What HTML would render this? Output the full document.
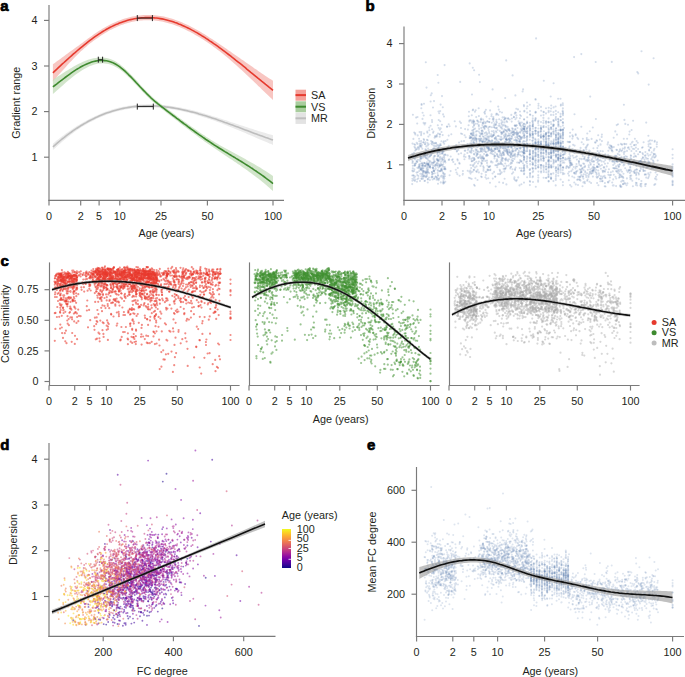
<!DOCTYPE html>
<html><head><meta charset="utf-8"><style>html,body{margin:0;padding:0;background:#fff;width:685px;height:677px;overflow:hidden}svg{display:block}</style></head><body>
<svg width="685" height="677" viewBox="0 0 685 677" font-family='"Liberation Sans", sans-serif'>
<rect width="685" height="677" fill="#fff"/>
<path d="M52.9 143.7L54.7 142.2L56.6 140.6L58.4 139.2L60.3 137.7L62.1 136.3L64 134.9L65.8 133.6L67.7 132.2L69.5 130.9L71.4 129.7L73.2 128.5L75.1 127.3L76.9 126.1L78.8 125L80.6 123.9L82.5 122.8L84.3 121.7L86.2 120.7L88 119.7L89.9 118.7L91.7 117.8L93.6 116.9L95.4 116L97.3 115.2L99.1 114.4L101 113.6L102.8 112.8L104.7 112.1L106.5 111.5L108.4 110.8L110.2 110.2L112.1 109.6L113.9 109.1L115.8 108.6L117.6 108.1L119.5 107.6L121.3 107.2L123.2 106.8L125 106.5L126.9 106.1L128.7 105.8L130.6 105.6L132.4 105.3L134.3 105.1L136.1 104.9L138 104.8L139.8 104.6L141.7 104.5L143.5 104.4L145.4 104.4L147.2 104.3L149.1 104.3L150.9 104.3L152.8 104.4L154.6 104.4L156.5 104.5L158.3 104.6L160.2 104.8L162 104.9L163.9 105.1L165.7 105.3L167.6 105.5L169.4 105.8L171.3 106L173.1 106.3L175 106.6L176.8 106.9L178.7 107.3L180.5 107.6L182.4 108L184.2 108.4L186.1 108.8L187.9 109.2L189.8 109.6L191.6 110.1L193.5 110.5L195.3 111L197.2 111.5L199 112L200.9 112.5L202.7 113.1L204.6 113.6L206.4 114.2L208.3 114.7L210.1 115.3L212 115.9L213.8 116.5L215.7 117L217.5 117.6L219.4 118.2L221.2 118.8L223.1 119.4L224.9 120L226.8 120.6L228.6 121.2L230.5 121.9L232.3 122.5L234.2 123.1L236 123.7L237.9 124.3L239.7 124.9L241.6 125.5L243.4 126.1L245.3 126.7L247.1 127.3L249 127.9L250.8 128.5L252.7 129.1L254.5 129.7L256.4 130.3L258.2 130.9L260.1 131.4L261.9 132L263.8 132.6L265.6 133.1L267.5 133.7L269.3 134.2L271.2 134.8L273 135.3L273 144.9L271.2 144.1L269.3 143.4L267.5 142.6L265.6 141.8L263.8 141L261.9 140.2L260.1 139.5L258.2 138.7L256.4 137.9L254.5 137.1L252.7 136.3L250.8 135.5L249 134.7L247.1 133.9L245.3 133.1L243.4 132.3L241.6 131.5L239.7 130.8L237.9 130L236 129.2L234.2 128.4L232.3 127.7L230.5 126.9L228.6 126.2L226.8 125.5L224.9 124.7L223.1 124L221.2 123.3L219.4 122.6L217.5 121.9L215.7 121.2L213.8 120.6L212 119.9L210.1 119.3L208.3 118.7L206.4 118.1L204.6 117.5L202.7 116.9L200.9 116.3L199 115.7L197.2 115.2L195.3 114.6L193.5 114.1L191.6 113.6L189.8 113.1L187.9 112.6L186.1 112.2L184.2 111.7L182.4 111.3L180.5 110.9L178.7 110.5L176.8 110.2L175 109.8L173.1 109.5L171.3 109.2L169.4 108.9L167.6 108.6L165.7 108.4L163.9 108.2L162 108L160.2 107.8L158.3 107.7L156.5 107.6L154.6 107.5L152.8 107.4L150.9 107.3L149.1 107.3L147.2 107.3L145.4 107.4L143.5 107.4L141.7 107.5L139.8 107.6L138 107.8L136.1 107.9L134.3 108.1L132.4 108.4L130.6 108.6L128.7 108.9L126.9 109.2L125 109.6L123.2 110L121.3 110.4L119.5 110.8L117.6 111.3L115.8 111.8L113.9 112.3L112.1 112.9L110.2 113.5L108.4 114.1L106.5 114.8L104.7 115.5L102.8 116.2L101 117L99.1 117.8L97.3 118.6L95.4 119.5L93.6 120.4L91.7 121.4L89.9 122.3L88 123.3L86.2 124.4L84.3 125.5L82.5 126.6L80.6 127.8L78.8 129L76.9 130.3L75.1 131.6L73.2 132.9L71.4 134.3L69.5 135.7L67.7 137.2L65.8 138.7L64 140.2L62.1 141.8L60.3 143.4L58.4 145L56.6 146.7L54.7 148.4L52.9 150.1Z" fill="#e4e4e4" fill-opacity="0.75"/>
<path d="M52.9 64.3L54.7 63L56.6 61.6L58.4 60.2L60.3 58.9L62.1 57.5L64 56.2L65.8 54.8L67.7 53.5L69.5 52.1L71.4 50.8L73.2 49.4L75.1 48.1L76.9 46.7L78.8 45.4L80.6 44L82.5 42.7L84.3 41.3L86.2 40L88 38.6L89.9 37.2L91.7 35.9L93.6 34.6L95.4 33.3L97.3 32L99.1 30.8L101 29.7L102.8 28.5L104.7 27.5L106.5 26.4L108.4 25.4L110.2 24.5L112.1 23.6L113.9 22.7L115.8 21.9L117.6 21.1L119.5 20.4L121.3 19.7L123.2 19.1L125 18.5L126.9 17.9L128.7 17.4L130.6 17L132.4 16.6L134.3 16.2L136.1 15.9L138 15.6L139.8 15.4L141.7 15.2L143.5 15.1L145.4 15L147.2 15L149.1 15L150.9 15L152.8 15.1L154.6 15.2L156.5 15.4L158.3 15.7L160.2 15.9L162 16.3L163.9 16.6L165.7 17L167.6 17.5L169.4 18L171.3 18.5L173.1 19.1L175 19.7L176.8 20.4L178.7 21.1L180.5 21.8L182.4 22.6L184.2 23.4L186.1 24.2L187.9 25.1L189.8 26L191.6 27L193.5 27.9L195.3 28.9L197.2 29.9L199 31L200.9 32.1L202.7 33.2L204.6 34.3L206.4 35.5L208.3 36.7L210.1 37.9L212 39.1L213.8 40.3L215.7 41.5L217.5 42.8L219.4 44L221.2 45.3L223.1 46.5L224.9 47.8L226.8 49.1L228.6 50.4L230.5 51.6L232.3 52.9L234.2 54.2L236 55.5L237.9 56.8L239.7 58.1L241.6 59.4L243.4 60.6L245.3 61.9L247.1 63.2L249 64.5L250.8 65.8L252.7 67.1L254.5 68.4L256.4 69.6L258.2 70.9L260.1 72.2L261.9 73.4L263.8 74.7L265.6 75.9L267.5 77.2L269.3 78.4L271.2 79.6L273 80.8L273 100L271.2 98.3L269.3 96.5L267.5 94.7L265.6 93L263.8 91.2L261.9 89.4L260.1 87.6L258.2 85.9L256.4 84.1L254.5 82.3L252.7 80.5L250.8 78.8L249 77L247.1 75.3L245.3 73.6L243.4 71.8L241.6 70.1L239.7 68.4L237.9 66.7L236 65.1L234.2 63.4L232.3 61.8L230.5 60.2L228.6 58.6L226.8 57.1L224.9 55.5L223.1 54L221.2 52.5L219.4 51.1L217.5 49.7L215.7 48.3L213.8 46.9L212 45.6L210.1 44.3L208.3 43L206.4 41.8L204.6 40.5L202.7 39.3L200.9 38.2L199 37L197.2 35.9L195.3 34.9L193.5 33.8L191.6 32.8L189.8 31.8L187.9 30.9L186.1 29.9L184.2 29.1L182.4 28.2L180.5 27.4L178.7 26.6L176.8 25.9L175 25.2L173.1 24.6L171.3 23.9L169.4 23.4L167.6 22.9L165.7 22.4L163.9 21.9L162 21.6L160.2 21.2L158.3 20.9L156.5 20.7L154.6 20.5L152.8 20.3L150.9 20.2L149.1 20.2L147.2 20.2L145.4 20.2L143.5 20.3L141.7 20.4L139.8 20.6L138 20.8L136.1 21.1L134.3 21.5L132.4 21.8L130.6 22.3L128.7 22.7L126.9 23.3L125 23.8L123.2 24.5L121.3 25.1L119.5 25.8L117.6 26.6L115.8 27.4L113.9 28.3L112.1 29.2L110.2 30.1L108.4 31.1L106.5 32.2L104.7 33.3L102.8 34.4L101 35.6L99.1 36.9L97.3 38.2L95.4 39.5L93.6 40.8L91.7 42.2L89.9 43.6L88 45.1L86.2 46.7L84.3 48.3L82.5 49.9L80.6 51.6L78.8 53.4L76.9 55.2L75.1 57.1L73.2 59L71.4 60.9L69.5 62.8L67.7 64.8L65.8 66.9L64 68.9L62.1 70.9L60.3 73L58.4 75.1L56.6 77.2L54.7 79.3L52.9 81.4Z" fill="#f6b3ad" fill-opacity="0.75"/>
<path d="M52.9 79.7L54.7 78.5L56.6 77.3L58.4 76.1L60.3 74.9L62.1 73.7L64 72.5L65.8 71.3L67.7 70.2L69.5 69L71.4 67.9L73.2 66.8L75.1 65.8L76.9 64.8L78.8 63.8L80.6 62.9L82.5 62L84.3 61.2L86.2 60.5L88 59.8L89.9 59.2L91.7 58.7L93.6 58.3L95.4 57.9L97.3 57.7L99.1 57.5L101 57.4L102.8 57.5L104.7 57.7L106.5 58L108.4 58.4L110.2 59L112.1 59.7L113.9 60.6L115.8 61.6L117.6 62.8L119.5 64.1L121.3 65.5L123.2 67.1L125 68.7L126.9 70.5L128.7 72.3L130.6 74.2L132.4 76.1L134.3 78.1L136.1 80.1L138 82.1L139.8 84.2L141.7 86.2L143.5 88.1L145.4 90.1L147.2 92L149.1 93.8L150.9 95.6L152.8 97.2L154.6 98.9L156.5 100.4L158.3 101.9L160.2 103.4L162 104.8L163.9 106.2L165.7 107.6L167.6 109L169.4 110.4L171.3 111.8L173.1 113.2L175 114.6L176.8 116L178.7 117.4L180.5 118.7L182.4 120.1L184.2 121.4L186.1 122.8L187.9 124.1L189.8 125.4L191.6 126.8L193.5 128.1L195.3 129.3L197.2 130.6L199 131.9L200.9 133.2L202.7 134.4L204.6 135.6L206.4 136.9L208.3 138.1L210.1 139.2L212 140.4L213.8 141.6L215.7 142.7L217.5 143.8L219.4 144.9L221.2 145.9L223.1 147L224.9 148L226.8 149.1L228.6 150.1L230.5 151.1L232.3 152.1L234.2 153.1L236 154.1L237.9 155.1L239.7 156.1L241.6 157.1L243.4 158.1L245.3 159.1L247.1 160.2L249 161.2L250.8 162.2L252.7 163.3L254.5 164.3L256.4 165.4L258.2 166.5L260.1 167.6L261.9 168.8L263.8 169.9L265.6 171.1L267.5 172.3L269.3 173.6L271.2 174.8L273 176.1L273 191.1L271.2 189.5L269.3 187.8L267.5 186.2L265.6 184.6L263.8 183.1L261.9 181.6L260.1 180.1L258.2 178.6L256.4 177.2L254.5 175.8L252.7 174.4L250.8 173L249 171.7L247.1 170.3L245.3 169L243.4 167.7L241.6 166.4L239.7 165.1L237.9 163.9L236 162.6L234.2 161.4L232.3 160.1L230.5 158.9L228.6 157.7L226.8 156.4L224.9 155.2L223.1 154L221.2 152.7L219.4 151.5L217.5 150.3L215.7 149L213.8 147.8L212 146.5L210.1 145.2L208.3 144L206.4 142.7L204.6 141.4L202.7 140L200.9 138.7L199 137.4L197.2 136L195.3 134.6L193.5 133.3L191.6 131.9L189.8 130.5L187.9 129.1L186.1 127.7L184.2 126.3L182.4 124.9L180.5 123.5L178.7 122L176.8 120.6L175 119.2L173.1 117.8L171.3 116.3L169.4 114.9L167.6 113.5L165.7 112.1L163.9 110.6L162 109.2L160.2 107.8L158.3 106.3L156.5 104.8L154.6 103.3L152.8 101.7L150.9 100L149.1 98.3L147.2 96.5L145.4 94.6L143.5 92.7L141.7 90.7L139.8 88.8L138 86.8L136.1 84.8L134.3 82.9L132.4 80.9L130.6 79L128.7 77.2L126.9 75.4L125 73.7L123.2 72.1L121.3 70.6L119.5 69.3L117.6 68L115.8 66.9L113.9 66L112.1 65.2L110.2 64.5L108.4 64L106.5 63.7L104.7 63.4L102.8 63.3L101 63.4L99.1 63.5L97.3 63.8L95.4 64.2L93.6 64.7L91.7 65.4L89.9 66.1L88 66.9L86.2 67.9L84.3 68.9L82.5 70L80.6 71.2L78.8 72.4L76.9 73.7L75.1 75.1L73.2 76.5L71.4 78L69.5 79.5L67.7 81.1L65.8 82.6L64 84.2L62.1 85.9L60.3 87.5L58.4 89.2L56.6 90.8L54.7 92.5L52.9 94.1Z" fill="#c3dcb9" fill-opacity="0.75"/>
<path d="M52.9 146.9L54.7 145.3L56.6 143.7L58.4 142.1L60.3 140.5L62.1 139L64 137.6L65.8 136.1L67.7 134.7L69.5 133.3L71.4 132L73.2 130.7L75.1 129.4L76.9 128.2L78.8 127L80.6 125.8L82.5 124.7L84.3 123.6L86.2 122.6L88 121.5L89.9 120.5L91.7 119.6L93.6 118.7L95.4 117.8L97.3 116.9L99.1 116.1L101 115.3L102.8 114.5L104.7 113.8L106.5 113.1L108.4 112.5L110.2 111.9L112.1 111.3L113.9 110.7L115.8 110.2L117.6 109.7L119.5 109.2L121.3 108.8L123.2 108.4L125 108L126.9 107.7L128.7 107.4L130.6 107.1L132.4 106.8L134.3 106.6L136.1 106.4L138 106.3L139.8 106.1L141.7 106L143.5 105.9L145.4 105.9L147.2 105.8L149.1 105.8L150.9 105.8L152.8 105.9L154.6 106L156.5 106L158.3 106.2L160.2 106.3L162 106.5L163.9 106.6L165.7 106.9L167.6 107.1L169.4 107.3L171.3 107.6L173.1 107.9L175 108.2L176.8 108.5L178.7 108.9L180.5 109.3L182.4 109.7L184.2 110.1L186.1 110.5L187.9 110.9L189.8 111.4L191.6 111.9L193.5 112.3L195.3 112.8L197.2 113.3L199 113.9L200.9 114.4L202.7 115L204.6 115.5L206.4 116.1L208.3 116.7L210.1 117.3L212 117.9L213.8 118.5L215.7 119.1L217.5 119.8L219.4 120.4L221.2 121.1L223.1 121.7L224.9 122.4L226.8 123L228.6 123.7L230.5 124.4L232.3 125.1L234.2 125.8L236 126.4L237.9 127.1L239.7 127.8L241.6 128.5L243.4 129.2L245.3 129.9L247.1 130.6L249 131.3L250.8 132L252.7 132.7L254.5 133.4L256.4 134.1L258.2 134.8L260.1 135.4L261.9 136.1L263.8 136.8L265.6 137.5L267.5 138.1L269.3 138.8L271.2 139.4L273 140.1" stroke="#bdbdbd" stroke-width="1.6" fill="none" stroke-linejoin="round" />
<path d="M52.9 72.8L54.7 71.1L56.6 69.4L58.4 67.7L60.3 65.9L62.1 64.2L64 62.5L65.8 60.8L67.7 59.2L69.5 57.5L71.4 55.8L73.2 54.2L75.1 52.6L76.9 51L78.8 49.4L80.6 47.8L82.5 46.3L84.3 44.8L86.2 43.3L88 41.9L89.9 40.4L91.7 39.1L93.6 37.7L95.4 36.4L97.3 35.1L99.1 33.9L101 32.7L102.8 31.5L104.7 30.4L106.5 29.3L108.4 28.3L110.2 27.3L112.1 26.4L113.9 25.5L115.8 24.6L117.6 23.9L119.5 23.1L121.3 22.4L123.2 21.8L125 21.2L126.9 20.6L128.7 20.1L130.6 19.6L132.4 19.2L134.3 18.8L136.1 18.5L138 18.2L139.8 18L141.7 17.8L143.5 17.7L145.4 17.6L147.2 17.6L149.1 17.6L150.9 17.6L152.8 17.7L154.6 17.9L156.5 18L158.3 18.3L160.2 18.6L162 18.9L163.9 19.3L165.7 19.7L167.6 20.2L169.4 20.7L171.3 21.2L173.1 21.8L175 22.5L176.8 23.1L178.7 23.9L180.5 24.6L182.4 25.4L184.2 26.2L186.1 27.1L187.9 28L189.8 28.9L191.6 29.9L193.5 30.9L195.3 31.9L197.2 32.9L199 34L200.9 35.1L202.7 36.3L204.6 37.4L206.4 38.6L208.3 39.8L210.1 41.1L212 42.3L213.8 43.6L215.7 44.9L217.5 46.2L219.4 47.6L221.2 48.9L223.1 50.3L224.9 51.7L226.8 53.1L228.6 54.5L230.5 55.9L232.3 57.4L234.2 58.8L236 60.3L237.9 61.8L239.7 63.2L241.6 64.7L243.4 66.2L245.3 67.7L247.1 69.3L249 70.8L250.8 72.3L252.7 73.8L254.5 75.3L256.4 76.9L258.2 78.4L260.1 79.9L261.9 81.4L263.8 82.9L265.6 84.4L267.5 85.9L269.3 87.4L271.2 88.9L273 90.4" stroke="#e63a2e" stroke-width="1.6" fill="none" stroke-linejoin="round" />
<path d="M52.9 86.9L54.7 85.5L56.6 84.1L58.4 82.6L60.3 81.2L62.1 79.8L64 78.4L65.8 77L67.7 75.6L69.5 74.3L71.4 72.9L73.2 71.7L75.1 70.4L76.9 69.2L78.8 68.1L80.6 67L82.5 66L84.3 65.1L86.2 64.2L88 63.4L89.9 62.7L91.7 62L93.6 61.5L95.4 61.1L97.3 60.7L99.1 60.5L101 60.4L102.8 60.4L104.7 60.6L106.5 60.8L108.4 61.2L110.2 61.8L112.1 62.4L113.9 63.3L115.8 64.3L117.6 65.4L119.5 66.7L121.3 68.1L123.2 69.6L125 71.2L126.9 73L128.7 74.8L130.6 76.6L132.4 78.5L134.3 80.5L136.1 82.5L138 84.5L139.8 86.5L141.7 88.5L143.5 90.4L145.4 92.3L147.2 94.2L149.1 96L150.9 97.8L152.8 99.5L154.6 101.1L156.5 102.6L158.3 104.1L160.2 105.6L162 107L163.9 108.4L165.7 109.8L167.6 111.3L169.4 112.7L171.3 114.1L173.1 115.5L175 116.9L176.8 118.3L178.7 119.7L180.5 121.1L182.4 122.5L184.2 123.9L186.1 125.2L187.9 126.6L189.8 128L191.6 129.3L193.5 130.7L195.3 132L197.2 133.3L199 134.6L200.9 135.9L202.7 137.2L204.6 138.5L206.4 139.8L208.3 141L210.1 142.2L212 143.5L213.8 144.7L215.7 145.9L217.5 147L219.4 148.2L221.2 149.3L223.1 150.5L224.9 151.6L226.8 152.7L228.6 153.9L230.5 155L232.3 156.1L234.2 157.2L236 158.4L237.9 159.5L239.7 160.6L241.6 161.8L243.4 162.9L245.3 164.1L247.1 165.2L249 166.4L250.8 167.6L252.7 168.8L254.5 170.1L256.4 171.3L258.2 172.6L260.1 173.9L261.9 175.2L263.8 176.5L265.6 177.9L267.5 179.3L269.3 180.7L271.2 182.2L273 183.6" stroke="#3e8a2f" stroke-width="1.6" fill="none" stroke-linejoin="round" />
<path d="M137.3 18.1H152.4M137.3 15.1v6M152.4 15.1v6" stroke="#222" stroke-width="1" fill="none"/>
<path d="M98.3 59.7H102.6M98.3 56.7v6M102.6 56.7v6" stroke="#222" stroke-width="1" fill="none"/>
<path d="M137.3 106.6H153.3M137.3 103.6v6M153.3 103.6v6" stroke="#222" stroke-width="1" fill="none"/>
<path d="M49 5L49 201" stroke="#7a7a7a" stroke-width="1.15" fill="none"/>
<path d="M48.4 200.4L284 200.4" stroke="#7a7a7a" stroke-width="1.15" fill="none"/>
<path d="M44 157.2L49 157.2" stroke="#7a7a7a" stroke-width="1.15" fill="none"/>
<text x="37.5" y="160.9" text-anchor="end" font-size="10.8" font-weight="normal" fill="#231f20">1</text>
<path d="M44 111.6L49 111.6" stroke="#7a7a7a" stroke-width="1.15" fill="none"/>
<text x="37.5" y="115.3" text-anchor="end" font-size="10.8" font-weight="normal" fill="#231f20">2</text>
<path d="M44 66L49 66" stroke="#7a7a7a" stroke-width="1.15" fill="none"/>
<text x="37.5" y="69.7" text-anchor="end" font-size="10.8" font-weight="normal" fill="#231f20">3</text>
<path d="M44 20.4L49 20.4" stroke="#7a7a7a" stroke-width="1.15" fill="none"/>
<text x="37.5" y="24.1" text-anchor="end" font-size="10.8" font-weight="normal" fill="#231f20">4</text>
<path d="M49 200.4L49 205.4" stroke="#7a7a7a" stroke-width="1.15" fill="none"/>
<text x="49" y="219.6" text-anchor="middle" font-size="10.8" font-weight="normal" fill="#231f20">0</text>
<path d="M80.7 200.4L80.7 205.4" stroke="#7a7a7a" stroke-width="1.15" fill="none"/>
<text x="80.7" y="219.6" text-anchor="middle" font-size="10.8" font-weight="normal" fill="#231f20">2</text>
<path d="M99.1 200.4L99.1 205.4" stroke="#7a7a7a" stroke-width="1.15" fill="none"/>
<text x="99.1" y="219.6" text-anchor="middle" font-size="10.8" font-weight="normal" fill="#231f20">5</text>
<path d="M119.8 200.4L119.8 205.4" stroke="#7a7a7a" stroke-width="1.15" fill="none"/>
<text x="119.8" y="219.6" text-anchor="middle" font-size="10.8" font-weight="normal" fill="#231f20">10</text>
<path d="M161 200.4L161 205.4" stroke="#7a7a7a" stroke-width="1.15" fill="none"/>
<text x="161" y="219.6" text-anchor="middle" font-size="10.8" font-weight="normal" fill="#231f20">25</text>
<path d="M207.4 200.4L207.4 205.4" stroke="#7a7a7a" stroke-width="1.15" fill="none"/>
<text x="207.4" y="219.6" text-anchor="middle" font-size="10.8" font-weight="normal" fill="#231f20">50</text>
<path d="M273 200.4L273 205.4" stroke="#7a7a7a" stroke-width="1.15" fill="none"/>
<text x="273" y="219.6" text-anchor="middle" font-size="10.8" font-weight="normal" fill="#231f20">100</text>
<text x="19.9" y="102.8" text-anchor="middle" font-size="10.8" font-weight="normal" fill="#231f20" transform="rotate(-90 19.9 102.8)">Gradient range</text>
<text x="166.5" y="237.2" text-anchor="middle" font-size="10.8" font-weight="normal" fill="#231f20">Age (years)</text>
<rect x="295.5" y="89.7" width="10.5" height="11" fill="#f4a19a"/>
<path d="M295.5 95.1L306 95.1" stroke="#e63a2e" stroke-width="2" fill="none"/>
<text x="311" y="98.9" text-anchor="start" font-size="10.8" font-weight="normal" fill="#231f20">SA</text>
<rect x="295.5" y="101.3" width="10.5" height="11" fill="#a9cd9e"/>
<path d="M295.5 106.7L306 106.7" stroke="#3e8a2f" stroke-width="2" fill="none"/>
<text x="311" y="110.5" text-anchor="start" font-size="10.8" font-weight="normal" fill="#231f20">VS</text>
<rect x="295.5" y="112.9" width="10.5" height="11" fill="#e3e3e3"/>
<path d="M295.5 118.3L306 118.3" stroke="#bfbfbf" stroke-width="2" fill="none"/>
<text x="311" y="122.1" text-anchor="start" font-size="10.8" font-weight="normal" fill="#231f20">MR</text>
<text x="0.2" y="10.9" text-anchor="start" font-size="15" font-weight="bold" fill="#000" stroke="#000" stroke-width="0.7">a</text>
<path d="M543.6 158.4h0M417.5 143.9h0M621.3 151.1h0M443.3 183.6h0M486.4 138.9h0M594 164.7h0M541.1 127.7h0M622.9 176.9h0M538.5 103.7h0M535.6 118.9h0M494.1 143.1h0M483.8 167.6h0M560.6 154.9h0M520.5 147.9h0M432.2 142.1h0M650.1 143.5h0M436.8 135h0M582.5 186.3h0M483 149.9h0M574.5 173.6h0M628.6 147.4h0M649.1 149.9h0M434.6 137.8h0M525.8 132h0M475.7 152.6h0M524.1 157.5h0M510.9 153.4h0M535.5 99h0M448.7 124.3h0M440.3 156.7h0M419.1 166.8h0M571.6 164.9h0M503.5 131.2h0M551.2 124.1h0M582.2 168.7h0M560.6 155.7h0M630.6 158.1h0M538.4 139.4h0M540.9 137.8h0M495.1 148.8h0M488.2 128.1h0M553.4 114.9h0M524 182.6h0M586.4 146.9h0M551.1 108.5h0M464 141h0M442.5 177.2h0M471.4 140.9h0M501.9 133.5h0M577.1 166.5h0M444.2 183.1h0M427.4 154.2h0M414 152.7h0M437.5 160.3h0M493.6 150.9h0M511.2 166.7h0M432.1 176.9h0M540.9 136.4h0M428.4 160.3h0M638.1 154.2h0M560.7 129.5h0M484.1 126.9h0M523.9 160.4h0M585.2 171.3h0M560.5 149.2h0M470.5 165.1h0M483.5 169h0M560.9 120.2h0M426.5 163.8h0M579.6 179.8h0M435.6 165h0M467.9 129.6h0M478.9 146.1h0M535.4 130.6h0M622.3 160.1h0M584.5 158.4h0M424.2 176.4h0M521.5 161.1h0M593.3 169.8h0M486.9 134.7h0M551.1 148.9h0M482.3 130.6h0M440.8 182.4h0M504.8 168.5h0M509 139.6h0M427.9 152.6h0M650.5 172.5h0M530 144.1h0M611.1 145.9h0M481.9 149.5h0M413 171.5h0M535.7 142.7h0M532.8 168.8h0M540.9 141.7h0M558.2 158.7h0M471.1 151.2h0M654.3 184.9h0M543.5 115.1h0M473.9 164.5h0M440.6 170.7h0M532.5 133.7h0M556.2 172.5h0M500.5 154.4h0M551.1 134.3h0M540.9 167h0M461 123h0M436.7 159.2h0M558.3 157.4h0M488.6 130.1h0M568.4 158.8h0M640.3 185.6h0M471.4 148.8h0M508.2 118.4h0M551.2 135.8h0M532.6 177.3h0M574.6 145.6h0M532.8 125.1h0M541 165.1h0M437.8 145h0M478.7 131.5h0M438.7 120h0M523.7 151.1h0M556 144.2h0M506.2 139.6h0M575.5 168.4h0M635.6 161.9h0M519.6 141h0M437 177.4h0M638.9 161.5h0M629.3 134.5h0M473.4 131.8h0M439.8 150.1h0M590.2 169.3h0M493.5 135.3h0M487.9 169.9h0M515.6 126.2h0M575.1 150.2h0M616.8 171.8h0M629.6 131.6h0M470.4 152.3h0M550.9 122h0M493.9 150.9h0M415.2 150.5h0M425.4 149.2h0M553.3 173.4h0M533.2 138.6h0M434.3 178.5h0M523.9 167.9h0M489.3 133.5h0M650.5 144h0M567.1 166.2h0M482.2 148.2h0M421.2 133.7h0M508.5 130.1h0M465.5 157h0M413.9 179.9h0M422.8 165.4h0M415.2 179.6h0M424.5 181h0M438.7 179.1h0M555.9 167.9h0M517.1 140.7h0M474 153.9h0M588.1 160.7h0M538.4 164.8h0M439.9 165.2h0M512.6 158.5h0M538.2 175.2h0M494.5 145.9h0M478.7 108.3h0M473.8 142.9h0M440 153.9h0M497.4 165.3h0M482.9 136.3h0M532.7 164.1h0M555.8 146h0M433.1 168.1h0M558.3 121.6h0M596.3 159.9h0M648.5 141.4h0M624.1 156.9h0M633.7 164.6h0M523.8 123.9h0M551.1 150.4h0M525.1 151.3h0M412.7 171.3h0M429.9 156.1h0M420.9 158.9h0M648.6 144.3h0M509.5 138.4h0M563.1 134.8h0M505.2 98h0" stroke="#6585b5" stroke-opacity="0.28" stroke-width="2.1" stroke-linecap="round" fill="none"/>
<path d="M486.1 140.6h0M529.7 151.6h0M495.8 148.8h0M507.4 152h0M548.3 161.1h0M433 173.7h0M456.5 172.5h0M579.8 177.4h0M490.7 145.3h0M601.7 161.4h0M551.2 158.5h0M490.5 145.1h0M632.3 180.8h0M488.8 147.9h0M563.1 123.2h0M522.9 131.6h0M440.7 145.2h0M456.5 147.6h0M488.3 178.2h0M492.8 178.6h0M490.2 166h0M535.6 118.1h0M412.8 165.7h0M495.9 136.9h0M488.6 141.8h0M428.1 163.8h0M464.6 135.3h0M558.1 151.3h0M558.3 167.1h0M541 151.9h0M506.7 130.8h0M538.3 177.6h0M527.2 144h0M495.7 186.5h0M507.9 146.9h0M509.3 135.2h0M532.5 121.4h0M627 156.7h0M473.9 170.1h0M556.1 128.2h0M478.9 161.6h0M563 157.9h0M471.8 115.2h0M568.6 167.6h0M556 135.4h0M648 158.7h0M538.3 132.8h0M530.3 114.8h0M618 124.2h0M437.8 170h0M560.6 120.3h0M556.2 142.6h0M620.3 185.9h0M562.8 149.6h0M543.6 148.6h0M553.6 143.4h0M588.2 159.6h0M535.4 143.2h0M511.7 147.1h0M425.5 171.8h0M524.2 168.9h0M529.9 153.9h0M432 120.1h0M642.7 147.2h0M476.9 171.7h0M469.6 147.1h0M535.6 168.8h0M425.8 62.2h0M551.2 105.5h0M502.5 121.9h0M540.7 135.6h0M623.3 177.9h0M429.2 127.6h0M437.7 149.2h0M604.2 167.4h0M570.2 163.4h0M449.6 175.3h0M560.7 147.1h0M538.3 162.1h0M560.9 130.3h0M419.9 143.9h0M541 122h0M432.3 144.4h0M560.7 153.2h0M437.7 170.2h0M509.4 138.6h0M423.3 142.3h0M636.3 151h0M483.3 141.3h0M486.5 116.6h0M638.1 149h0M490.5 153.3h0M546.4 144.5h0M548.5 127.8h0M532.7 133.8h0M584.7 156.7h0M477.7 120.9h0M520 136.9h0M643 154.3h0M513.9 117.3h0M654 154.3h0M560.4 136.8h0M558.3 141h0M630 172.8h0M517 148.8h0M540.8 130.7h0M425.3 123h0M581.4 170.2h0M427.3 172.9h0M529.9 126.1h0M472.3 145.8h0M490.6 101.5h0M558.4 125.1h0M541.1 148.2h0M555.8 110.9h0M414.4 169.3h0M558.1 150.5h0M532.8 150.8h0M504.3 117.3h0M593 170.7h0M474.4 138.7h0M506.4 184.4h0M518.5 132.8h0M589.5 181.7h0M496.8 122.5h0M436.5 164.4h0M560.4 165.5h0M535.5 159h0M591.6 173.2h0M543.1 156h0M504.7 119.1h0M515.1 180.3h0M563 158.4h0M494.4 133.5h0M472.5 139.7h0M413.4 138.9h0M580.5 180.6h0M629.8 173h0M471.4 152.7h0M538.1 181.8h0M502.5 143.2h0M535.3 138.9h0M558.1 98.8h0M548.6 164.7h0M553.6 121.3h0M558.4 126.4h0M480.8 158h0M551 153.6h0M512.8 132.1h0M493.4 121.1h0M500.8 139.7h0M643.8 170.8h0M546 147.2h0M672.6 168.4h0M562.9 133.6h0M493.8 135h0M562.9 149h0M646.1 184h0M558.5 150.2h0M433.5 131.5h0M516.3 141.4h0M498.3 142.7h0M480.8 138.8h0M500 146.2h0M556 154.2h0M617.8 153.9h0M616.4 149.8h0M425.4 173.4h0M490.1 126.7h0M651.7 168.5h0M528 126.6h0M512 173.7h0M442.6 149h0M529.8 128.6h0M498.5 164.3h0M585.1 166.1h0M640.6 184h0M546.1 146.3h0M493.1 151.3h0M422.9 166.1h0M481.8 177.1h0M444.3 178.6h0M540.8 150.8h0M483.7 137.1h0M577.1 179.8h0M426.9 176.4h0M417.7 172.3h0M478 157.7h0M437.5 165.3h0M500.7 127.5h0M421.1 135.2h0M648.6 146.3h0M543.8 171.9h0M515.3 150.2h0M549 136.2h0M442 175.6h0M560.7 170h0M487.3 136.9h0M612.2 182.5h0M535.6 160.5h0M588 159.6h0M508.4 155h0M568.1 173.6h0M619.6 174.1h0M581.3 172.1h0M551 153.8h0M532.9 144.9h0M502.8 152.4h0M527.2 144.7h0" stroke="#6585b5" stroke-opacity="0.28" stroke-width="2.1" stroke-linecap="round" fill="none"/>
<path d="M490.7 143.9h0M605.5 156.7h0M595.6 142.5h0M540.9 165.1h0M553.5 143.9h0M548.4 132h0M442.4 159.5h0M576.8 156.2h0M532.9 143.3h0M475.3 123.7h0M508.8 128.9h0M524.1 128.4h0M517.1 137.2h0M420.4 168.9h0M532.9 124.5h0M553.6 144.9h0M426.4 164h0M595.2 158h0M502.5 146.9h0M548.5 145.2h0M489 166.9h0M538.2 131.5h0M433.2 152.6h0M479 138.8h0M419.6 132.1h0M546 157.3h0M588.5 177.1h0M560.6 116.3h0M476 145.1h0M579.4 165h0M444.4 159.5h0M435.8 142.9h0M502.4 147.5h0M592.1 159h0M548.6 159.9h0M597.8 159.4h0M548.7 129h0M506.9 142.9h0M441.4 141.2h0M596.4 173.1h0M563.1 167.2h0M558.4 150.5h0M546.2 166.5h0M553.6 152.7h0M474.8 185.7h0M420.5 163.7h0M421.9 174.4h0M560.6 158.7h0M479.6 140.6h0M430 152.9h0M415 156.8h0M486.2 155.3h0M487.9 146.3h0M427.9 167.4h0M437.8 125.3h0M639.9 171.1h0M553.7 124.8h0M535.6 111.7h0M558.2 133.2h0M562.9 162.7h0M548.6 131.9h0M587.8 169.7h0M445 160.9h0M423.5 142.5h0M434.1 171h0M529.8 181h0M535.6 143.6h0M527 136.5h0M462.9 173.9h0M430.8 95.3h0M494.1 127.3h0M471.7 150.2h0M499.3 150.2h0M606.7 166.4h0M558.1 148.5h0M641.4 183.8h0M565.6 147.7h0M491.7 136.9h0M470.3 137.4h0M529.8 154.6h0M560.7 172.4h0M538.4 149.2h0M513.2 172.4h0M493.8 125.4h0M656.4 166.4h0M642 147.7h0M491.1 162.3h0M649.8 164.9h0M512.7 155.7h0M490.4 169.6h0M437.2 160h0M524.2 153.4h0M492.4 141.5h0M440 159.2h0M477.1 120.6h0M455.1 149.3h0M442.8 153h0M484.6 149.7h0M551.2 141.2h0M558.3 157.9h0M462.7 174.6h0M439.7 129.7h0M417.2 123.5h0M520.3 125.5h0M423.7 115.5h0M516.7 125.3h0M551.4 167.1h0M624.6 144.3h0M506 118.4h0M535.5 165.3h0M524 167.6h0M515.2 129.4h0M464.4 159.2h0M427.6 155.7h0M575.8 166.6h0M439.6 165.6h0M578 185h0M439.7 157.9h0M593 157.8h0M600.1 178.8h0M522.7 152.2h0M505.7 159.6h0M478.2 146h0M645.1 174.2h0M637.8 142.8h0M619 166.6h0M556 155.9h0M484.1 154h0M417.4 167.7h0M558.1 151.4h0M529.8 137h0M419.4 164.3h0M527.2 122.9h0M548.7 157.2h0M619.8 158.1h0M640.9 161.3h0M443.6 182.6h0M524.2 166.8h0M551 148.1h0M491.8 131.3h0M504.3 171.4h0M624 154h0M592.5 171.1h0M424.7 175.7h0M620.9 169.9h0M672.6 164.4h0M540.9 158.8h0M459.6 175.8h0M505.6 146.2h0M434 101.1h0M509.6 146.5h0M634.9 172.7h0M538.2 142.6h0M488.8 148.5h0M553.6 133.1h0M425 163.3h0M626.9 178.4h0M638.5 173.1h0M655.6 168h0M560.5 135.8h0M455.9 126.4h0M672.6 183.1h0M532.5 148.1h0M553.8 150.8h0M529.8 139.8h0M516.8 131.2h0M459.3 162.9h0M429.1 162.7h0M503.6 155.1h0M523.2 171.2h0M560.5 129.3h0M512.1 128.2h0M562.7 152h0M513.7 154.6h0M538.5 159.9h0M476.8 139.1h0M415.8 163.3h0M512 163.1h0M575.7 135.3h0M517.5 154.8h0M498.3 114.9h0M543.6 177.8h0M492.5 162.4h0M503.6 168.9h0M506.2 138.5h0M545.9 121.9h0M412.9 161.7h0M553.6 155.3h0M600.9 168.7h0M546 137.5h0M553.5 131.3h0M419.2 171h0M562.8 103.3h0M492.6 89.4h0M595.7 62h0" stroke="#6585b5" stroke-opacity="0.28" stroke-width="2.1" stroke-linecap="round" fill="none"/>
<path d="M648.4 162.8h0M500.5 173.4h0M574.3 182.5h0M548.5 156.5h0M487.2 133.5h0M548.5 133.3h0M548.2 145h0M481.2 162.6h0M654.6 141.7h0M636.1 156.5h0M470.8 120.4h0M511.4 132.4h0M447.1 126.6h0M435.2 166.2h0M524.3 111.5h0M431.6 162.7h0M439 146.4h0M524.3 170.7h0M524.2 146.1h0M495.9 125h0M527.2 147.6h0M443.9 174.8h0M558.1 143.5h0M584 158.9h0M511.1 147.6h0M461.1 153.2h0M494.5 158.5h0M527 138.5h0M614.8 161.9h0M445.4 162.5h0M563 146.6h0M548.7 122.5h0M438.2 151h0M558.1 139h0M530.1 130.3h0M427.1 174.8h0M462.2 147h0M433.2 149.1h0M512.8 156.1h0M520.4 151.7h0M610.9 172.3h0M501.9 153.8h0M521.2 126.7h0M526.8 151.3h0M442.9 160.3h0M614.6 163.6h0M424 133.6h0M558.3 160.5h0M535.6 131h0M497.2 167.3h0M553.6 134.3h0M422.9 176.9h0M548.6 147.6h0M509.5 152.2h0M483.5 170.8h0M441.6 168.5h0M432.5 176.8h0M513 160.7h0M419.1 147.9h0M558.2 112.3h0M471.6 178.9h0M489.8 141.4h0M575.9 173.7h0M497.2 154.8h0M511 154.4h0M560.5 156h0M504.8 125.5h0M614.9 168.4h0M553.6 83.3h0M558.1 148h0M424.9 144h0M538.1 154.4h0M437.8 152.8h0M443.8 154.7h0M457 151.1h0M560.7 137.6h0M452.1 160.1h0M551.2 133.4h0M491.5 147.8h0M484.4 128h0M524.3 129.2h0M420.3 173.7h0M483 141.6h0M585.3 172.5h0M437.2 165.7h0M648.1 178.3h0M574.3 177.5h0M472 121.2h0M532.7 158.4h0M609.5 180.7h0M428.7 144.3h0M520.3 139.5h0M515.8 139.4h0M569.6 158.6h0M497.4 149.2h0M568.4 158h0M570 165.4h0M430.4 161.6h0M560.6 113.9h0M550.9 144.1h0M464.7 150.8h0M593.5 167.1h0M428 164.4h0M490 141.3h0M532.8 168.6h0M632.9 186.2h0M517 143.1h0M560.6 179.5h0M650 140.4h0M500.9 132.4h0M486.5 178.8h0M499.8 130.9h0M467.6 144.1h0M481.6 173.7h0M499.4 148.6h0M503.5 124.8h0M611.9 150.4h0M608.2 154.9h0M566.7 159.4h0M541.3 149.1h0M629.6 160.2h0M543.6 137.1h0M519.1 162.7h0M513.8 132h0M524.4 165h0M467.7 170.7h0M448.7 135.6h0M523.2 152.4h0M560.5 130.4h0M541 137.5h0M462.2 134h0M529.9 134.2h0M478.9 116.1h0M620.9 143.9h0M546 108.2h0M532.8 134.1h0M617.2 168.8h0M624.9 147.3h0M575.6 157.3h0M602.1 181.3h0M556.1 157.6h0M560.7 168.1h0M438.5 159.9h0M439.3 151.1h0M523.6 144.7h0M571.7 163.3h0M592.8 127.5h0M441.5 132h0M577.7 150.9h0M556 119.9h0M599.9 139.6h0M555.7 130.9h0M555.9 135h0M488.9 148h0M591.8 170.9h0M480.9 150.1h0M483.1 119.5h0M568.7 142.1h0M548.7 140.2h0M636.2 173.9h0M417.6 159.8h0M558.4 130.2h0M621.6 144.1h0M524 106.3h0M558.3 151.8h0M527 139.1h0M496.8 127.7h0M426.9 139.7h0M504 150.4h0M470 138.2h0M511.9 152.7h0M590.7 164.8h0M568.6 157.2h0M417.6 147.9h0M532.8 118.2h0M563.1 113h0M656.8 146.8h0M592.9 166.8h0M476.3 135.7h0M493.4 118.5h0M523.8 147.8h0M546 143.1h0M506.5 121.1h0M530 154.4h0M483.5 159.4h0M439.8 171.1h0M527.1 146.8h0M421.7 169.6h0M423.8 155.7h0M483.2 139.4h0M488.9 150.1h0M527.2 136.1h0M508 118.6h0M672.6 181.8h0M530 152.2h0M569.9 151.5h0M607.9 182.1h0M523.1 89.4h0M590.2 96.6h0" stroke="#6585b5" stroke-opacity="0.28" stroke-width="2.1" stroke-linecap="round" fill="none"/>
<path d="M533.2 171h0M558.3 158.1h0M563 154.5h0M548.8 161h0M655.3 184.1h0M648.4 135.7h0M605.2 160.1h0M556 128.5h0M456.2 145h0M443.5 173.2h0M519.2 162.6h0M560.6 130.2h0M440.2 121.3h0M497.8 141.2h0M442.6 157.6h0M587.1 173.2h0M553.9 160.5h0M541 144.4h0M523.9 152.8h0M520.2 148.8h0M428 169.4h0M640.3 161.4h0M555.9 134.6h0M541 147.1h0M484.7 148.5h0M491.6 144h0M518 134.1h0M532.9 135.1h0M520.4 132.8h0M530.1 169.1h0M421.7 178.9h0M505.6 125.8h0M645.6 157.5h0M535.5 130.5h0M589.9 162.6h0M535.5 149.4h0M529.8 131.1h0M497 113.9h0M475.7 149.2h0M599 152.8h0M524.1 131.8h0M426.6 158.1h0M471.1 137.1h0M474.1 184.7h0M628.9 170.6h0M473.8 169.7h0M597.9 161.3h0M541.1 172.4h0M548.7 181.1h0M480.7 148.6h0M606.7 156.6h0M471.3 158.9h0M511.1 139h0M546.1 123.4h0M422.3 148.8h0M443.8 177h0M529.7 170h0M492.8 119.2h0M636.7 183.1h0M428.1 148.5h0M562.9 143.3h0M572.3 164.7h0M512.1 136.8h0M639.8 152h0M423.2 172.4h0M529.9 104.7h0M479.2 143.7h0M672.6 172.5h0M455.3 148.8h0M440.8 163.4h0M551 161.3h0M553.5 147.2h0M529.9 158.7h0M523.8 165.6h0M421.9 145h0M636 184.9h0M419.4 167.4h0M434 171.2h0M672.6 170.4h0M421 169h0M477 131h0M579.5 179.5h0M512.6 150.5h0M538.4 135.4h0M517 134h0M501.9 132.4h0M442.7 166.5h0M441.9 169.9h0M628.5 164.5h0M473.3 166.2h0M553.6 152.9h0M462.9 171h0M538.2 167.5h0M603 176.5h0M427.5 143.1h0M522.9 147h0M501.7 172.4h0M421.9 163.8h0M456.8 151.4h0M481.1 176.5h0M556 137h0M564.8 151.9h0M581.7 142.2h0M629.5 163.7h0M652.2 157.4h0M527.4 157.4h0M594 161.4h0M481.1 120.1h0M487.5 142.5h0M475.5 138.1h0M553.8 162.5h0M592.8 172.7h0M485.6 151.6h0M421.6 104.9h0M476.4 161.8h0M500.8 146.6h0M490.1 110.4h0M532.9 156.7h0M653.7 153.8h0M412.2 153.8h0M613.2 179.4h0M477.1 154.4h0M643.1 166.2h0M510.3 144.1h0M512.9 128.9h0M562.9 138.3h0M443.4 142.6h0M505.8 139.3h0M495.9 131.3h0M550.7 111.2h0M587.6 179.6h0M634.2 145h0M505.7 160.5h0M616.7 160.7h0M620.8 175h0M425.4 142.3h0M551 157.7h0M562.8 129.6h0M442.5 150.5h0M619.4 160.9h0M424.6 166.1h0M546.1 150.5h0M523.8 156.4h0M556 136.4h0M535.5 150.3h0M558.1 168.8h0M543.4 136h0M489.5 118.7h0M649.4 162h0M605.5 186.5h0M648.5 155.6h0M532.9 176.2h0M519.6 141.7h0M444.2 143.8h0M478.8 126.4h0M598.8 164.6h0M443.2 182.5h0M540.9 128.1h0M624.9 159.1h0M468.9 177.8h0M538.4 141.3h0M641.4 162.5h0M500.6 161.9h0M502 112.5h0M655.2 157.3h0M637.1 185.4h0M558.1 154.7h0M501.5 123.1h0M503.5 153.4h0M499.4 139.2h0M587.1 145.6h0M616.1 186.1h0M473.1 135.2h0M553.4 131.7h0M535.5 149.9h0M553.3 125.9h0M485.6 122.3h0M590.6 163.6h0M482.1 133.7h0M532.7 144.6h0M578.9 161.2h0M497 153.9h0M473.7 121.3h0M586.8 159.8h0M598.2 135.3h0M484.7 138.9h0M523 163.2h0M569.8 142.2h0M543.7 167.9h0M442.5 158.7h0M553.6 153h0M487.3 147.4h0M469.3 121.4h0M432.6 167.8h0M532.8 115.7h0M505.9 130.5h0M558.2 160.3h0M485.5 126.1h0M434.8 161.5h0M478 163.5h0M511.2 144.8h0M514.3 155.5h0M616.7 125.1h0M540.7 142.7h0M572.6 169.4h0M562.9 119.1h0M428.1 172.2h0M517.4 156.4h0M672.6 172.8h0M502.1 128.7h0M548.8 163.1h0M507.2 151.5h0M532.7 157.3h0M580.6 176.5h0M551.1 174.4h0M434.5 143.4h0M480.9 151.6h0M543.4 165.5h0M419.1 138.8h0M581.3 54.1h0" stroke="#6585b5" stroke-opacity="0.28" stroke-width="2.1" stroke-linecap="round" fill="none"/>
<path d="M548.5 172.1h0M618.6 170.2h0M509.6 155.7h0M535.7 148.6h0M562.9 133.9h0M440.1 166.2h0M540.9 136.9h0M474.9 139.8h0M538.3 155.3h0M474.7 159.5h0M597.8 158.7h0M584.9 183.3h0M473.6 121.7h0M525.2 126.8h0M451.3 134.3h0M519.7 168.1h0M518.3 154h0M597.6 151.1h0M497 159.4h0M436.7 136h0M532.6 132h0M560.3 165.4h0M563.1 147.3h0M562.9 105.1h0M507.6 126.9h0M551 127.7h0M503.7 132.3h0M468.8 116.2h0M538.1 133.9h0M529.9 175.3h0M529.9 150.8h0M498.4 145.1h0M425.1 154.6h0M546.2 152.1h0M496 147.1h0M443.1 114.4h0M609.7 160.6h0M509 159.3h0M521.3 170.9h0M558.4 123.9h0M543.4 152.3h0M488.7 137.9h0M618.9 169.7h0M427.7 171.7h0M541 143.8h0M535.6 143.2h0M602.6 181.1h0M470.7 146.9h0M512.3 130.6h0M476.1 150.5h0M416 149.5h0M589.4 160.4h0M530.2 164.4h0M473.3 142h0M423.2 175.9h0M511.7 121.6h0M494.8 138.1h0M513.9 116.9h0M529.9 185.1h0M468.6 125.2h0M422.1 162.9h0M492.6 136.1h0M428.2 164.3h0M429.8 134.8h0M519.5 185.4h0M413.4 175.3h0M418.2 147h0M502.9 145.4h0M532.7 120.3h0M431 155.2h0M487 147.4h0M480.2 148.6h0M435.7 168.3h0M641.3 186.4h0M636.6 169.2h0M469.8 136h0M511.5 160h0M560.7 146h0M426.1 172.2h0M651.7 152.4h0M414.5 163.8h0M551.1 155.5h0M594.1 168.5h0M536 147.8h0M672.6 185.1h0M623.5 173.8h0M463.9 156.4h0M424.5 171.4h0M530.1 181.7h0M527.1 149.1h0M532.7 121.8h0M473.7 122.6h0M618.5 166.7h0M518.6 141.5h0M479.1 139.3h0M620.1 149.3h0M635.3 155.9h0M474.9 111.8h0M627 150.9h0M488.5 170.2h0M576.5 164h0M558.3 168.9h0M618.1 173h0M546.3 153.6h0M518.8 136h0M491.4 116.2h0M444.2 157.7h0M577.4 170.8h0M543.4 158.5h0M418.4 176h0M469 111.8h0M615.3 131.4h0M423.2 171.3h0M487.3 155.6h0M548.6 112.2h0M441.9 153.2h0M562.9 172.8h0M419.6 146h0M563.2 167.9h0M505.1 147.9h0M548.9 166.7h0M417.5 117h0M489.1 149.9h0M520.3 144.8h0M488.4 138.8h0M447.7 155.4h0M553.5 120h0M558.2 137.7h0M517.2 162.5h0M501.3 137h0M500.3 136.7h0M420.3 145.7h0M510.5 156.7h0M476.2 171.4h0M617.5 161.9h0M538.5 125.3h0M499.2 150.7h0M437.8 163.5h0M433.8 145.7h0M523.1 155.2h0M503.6 132.2h0M480.8 119.3h0M574.3 172.8h0M519.5 123.1h0M540.9 148.7h0M541.3 149.4h0M609 147.2h0M611 157.2h0M520.9 137.3h0M556 150.9h0M578.6 152.4h0M530.1 164.1h0M535.8 186.7h0M612.5 151.4h0M604.5 171.1h0M509.6 130.8h0M482 141.5h0M524.3 144.2h0M541.1 141.6h0M481.8 131.2h0M441.4 169.9h0M470.5 173.6h0M533.2 159.2h0M527.2 117.2h0M546 145.6h0M543.4 122.9h0M487.1 142.5h0M524.1 147.3h0M437.8 152.1h0M577.3 137.8h0M425.3 144.3h0M518.2 152.9h0M598.4 185.3h0M432.7 179.5h0M551.2 149h0M572.4 135.4h0M443.2 172.9h0M414.2 132.5h0M619.1 177.8h0M546.2 151.3h0M525.2 144.5h0M556 137.4h0M461 128h0M460.2 81.9h0M482.8 131.5h0M623.5 165.5h0M473.7 133.1h0M616.8 161h0M490 182.7h0M433 107.5h0M507.2 122h0M564.3 162.6h0M569.5 154.1h0M505 118.4h0M474.4 135.6h0M582.9 138.7h0M501.6 159.2h0M562.7 147.2h0M423.2 171.3h0M499.3 123.8h0M650.2 147.8h0M514 145.2h0M489.9 150.3h0M657 142.2h0M424.9 166h0M585.6 147.7h0M477.4 147.3h0M488.1 140.4h0M629.5 160.3h0M570 158.3h0M553.4 166.6h0M524.1 147.3h0M532.6 159.1h0M548.4 143.5h0M548.8 129.9h0M420.2 155.3h0M478.9 172.4h0M546.3 139.4h0M623.2 183.9h0M414.6 165.7h0M527.3 146.6h0M551.3 132.8h0M497.5 148.9h0M414.9 181h0M504.9 159.1h0M435.4 169.4h0M543.5 160.8h0M471.1 172.3h0M469.6 138h0M498.2 163.5h0M440.7 176.4h0M515.3 137.2h0M489.6 136.3h0M538.3 167.2h0M580.7 171.7h0M512.5 169.2h0M444.6 65.1h0M430.6 101.5h0M574.1 57.1h0M638.2 73.4h0" stroke="#6585b5" stroke-opacity="0.28" stroke-width="2.1" stroke-linecap="round" fill="none"/>
<path d="M631.4 151h0M560.6 158.8h0M535.7 112.3h0M473.2 134.4h0M432.9 167.2h0M581.3 175.1h0M415.1 165.2h0M527.1 177.2h0M558.1 118.9h0M624.6 148.6h0M515.9 112.8h0M562.9 138.5h0M422.6 112.7h0M540.9 156.8h0M553.3 126.5h0M421.3 132.1h0M499.5 155.3h0M586.3 149.4h0M484 145.7h0M433.7 170.6h0M543.6 160.7h0M553.5 143.3h0M576.3 171.5h0M527.1 161.3h0M626.6 185.3h0M548.8 153.5h0M435.4 164.7h0M525.6 131.2h0M524 174.2h0M455.2 164.3h0M649.2 150.6h0M472.8 157.9h0M516.8 180.1h0M506.9 140.4h0M524.1 144.7h0M473.1 109.6h0M597.1 183h0M563 138.5h0M562.9 129.7h0M433.7 165.9h0M530 177h0M472.7 135.6h0M533.2 151.1h0M526.9 143.4h0M532.7 140.6h0M505.9 126.9h0M490.2 145.2h0M473.5 151h0M549 154.1h0M430.5 115.3h0M553.6 161.8h0M482.6 134.2h0M429.2 173.1h0M555.9 139.9h0M541.1 129.5h0M443.8 141.4h0M590.3 171.6h0M532.6 126h0M627.4 183.4h0M599.2 175.3h0M487 154.2h0M562.9 185.2h0M415 157.7h0M630.4 179.2h0M524 170.3h0M488.5 136.5h0M641.7 159h0M548.5 122.2h0M619.5 171.5h0M605.3 154.2h0M630.2 166.7h0M428.7 165.4h0M505.9 134.9h0M626.3 144.1h0M490.1 146h0M521.4 137.5h0M636.5 178.4h0M495.1 155.9h0M527.3 127.8h0M444.9 174.1h0M535.6 147.6h0M625.2 168.2h0M600.3 181.3h0M509.7 119.5h0M597.1 177.8h0M532.7 155.7h0M530.4 135.6h0M522.3 129.7h0M643.1 169.3h0M563.1 132.2h0M546.2 154.7h0M470.2 178.2h0M553.4 141.9h0M471.4 144.8h0M432.1 122h0M558.2 144.9h0M498.1 174h0M532.9 163.3h0M512.3 138.5h0M484 158.7h0M486.4 146.8h0M488.9 140.2h0M476.5 138.9h0M634.3 145.2h0M563 122.2h0M439.4 145.4h0M424.1 140h0M479.8 133.1h0M522.8 128.8h0M548.6 167.2h0M621.2 181.6h0M647.5 153.7h0M564 128h0M505.6 150.5h0M538.1 180.2h0M602.9 172.3h0M419.7 165.6h0M479.9 82.1h0M498.8 109.6h0M474.1 160h0M586.9 139.9h0M492.3 154h0M505.6 133.5h0M541 156.8h0M631.9 164.1h0M619.5 154.9h0M512.6 148.9h0M579.7 176.8h0M495.6 142.5h0M507.6 136h0M472.1 130.5h0M432 174.6h0M541 115.5h0M655 178.6h0M588.6 175.4h0M436.6 136.7h0M518 109.4h0M543.5 136.4h0M543.8 80.8h0M610.9 174.9h0M639.9 162.5h0M621.4 186.7h0M441.4 164.7h0M497.6 130h0M653.7 168.5h0M535.7 163.1h0M623.8 138.7h0M580.9 166.1h0M612.2 161.4h0M573.1 144.7h0M440.1 171.2h0M551.2 178h0M504.4 143.5h0M553.8 148.2h0M449.2 159.4h0M527 163.5h0M519.1 139h0M541.3 165.4h0M430.6 164.5h0M546.3 172.3h0M532.9 164.8h0M527 122.9h0M579.7 158.8h0M588.3 157.4h0M472 161.2h0M548.9 152.8h0M514.8 113.6h0M500.6 147.2h0M420.9 167.6h0M538.4 142h0M636.2 175.2h0M553.4 150h0M543.4 126.9h0M479.5 143.6h0M617.7 171h0M509.4 135.8h0M643.5 167.2h0M538.4 161.2h0M546.2 169.1h0M543.6 166.5h0M602.8 151.3h0M652.8 160.3h0M631.2 178.9h0M421.3 108.3h0M555.7 118.6h0M529.8 132.9h0M558.2 173.1h0M472.8 67.8h0M648.7 84.6h0M623.9 104.7h0" stroke="#6585b5" stroke-opacity="0.28" stroke-width="2.1" stroke-linecap="round" fill="none"/>
<path d="M627.7 172.1h0M416.9 161.9h0M427.2 131.5h0M655.2 154.2h0M642.5 153.1h0M551.2 148h0M431.9 172.1h0M558.6 139.1h0M491.2 161.3h0M583.2 163.5h0M607.6 144.4h0M609.4 156.5h0M638.4 163h0M489.8 166.7h0M563.9 154.4h0M672.6 158.2h0M412.8 168.2h0M633.8 156.9h0M423.6 122.9h0M649.6 163.2h0M535.5 152.9h0M619.6 175.4h0M428.5 164.2h0M476.7 155.2h0M426.7 170.7h0M424.4 163.1h0M527.4 106.2h0M524.7 153.2h0M592.1 153.6h0M560.4 148h0M504.7 136.7h0M524.1 136.1h0M513.5 151.5h0M635.1 170.1h0M555.7 146.6h0M545.9 143.8h0M486.4 139.3h0M645.3 161.8h0M551.1 146.7h0M476.2 140.3h0M457.8 168h0M424 171.7h0M556 170.5h0M541 134.2h0M566.5 166.5h0M543.6 125.8h0M521.4 184.3h0M484.3 112.5h0M495.2 144.3h0M535.7 145.5h0M444.3 169.1h0M415.2 147.9h0M491.9 145.7h0M481.6 164.1h0M558.4 134.8h0M644.5 159.6h0M645.4 152.1h0M538.1 149h0M412.4 160.8h0M608.9 169.2h0M434.4 155.8h0M535.6 160.3h0M587.2 180.8h0M477 153.9h0M560.4 156.3h0M486.2 127h0M429.8 156.4h0M521.7 168.3h0M487.5 148.8h0M482.6 142.4h0M487.4 121.3h0M502.9 158.4h0M414.2 171h0M624.9 151.6h0M548.6 175.4h0M563.1 146.6h0M538.2 121.8h0M518.7 152.6h0M530 157.8h0M508.2 147.6h0M532.6 126.2h0M604.5 175.9h0M569.4 161h0M599.3 160.5h0M511 138.4h0M423 164.3h0M546.1 151.2h0M524.1 149.4h0M551.1 129.3h0M538.2 156.9h0M546.1 145.8h0M514.7 125.5h0M545.8 134.6h0M487 162.9h0M516.5 117.8h0M492.3 150.3h0M562.7 110.9h0M510.9 157.2h0M558.4 119.6h0M489.1 126.8h0M612.1 147.8h0M635.9 147.6h0M476 145.4h0M503.1 182.9h0M496.6 142.5h0M471.9 135h0M434.7 148.2h0M513.9 145.7h0M573 136.5h0M598.6 167h0M505.4 134.6h0M546.2 164.2h0M593.4 148.3h0M588.8 167.2h0M532.9 128.7h0M617 134.6h0M529.8 125.4h0M608.3 150.8h0M473 127.1h0M621.9 176.4h0M524 123.7h0M548.5 135.9h0M546.1 169.6h0M433.3 162.7h0M479.1 152.1h0M507.8 154.1h0M510.5 163.9h0M498.6 142.5h0M581.3 126.8h0M524.4 129.6h0M622.3 162.3h0M521.2 138.3h0M478.8 125.1h0M611.3 146.5h0M614.1 168.2h0M524.1 152.6h0M644.8 174.8h0M535.4 146.6h0M513.1 144.4h0M558.3 143.1h0M519.8 131.9h0M495.2 176.8h0M550.9 151.1h0M440.1 134.5h0M646.5 164.1h0M501.5 160.2h0M524.3 134h0M501.7 144.6h0M548.7 138.5h0M653.5 161.2h0M435.6 176.5h0M548.5 161.4h0M423.5 168.1h0M473.9 140.8h0M618.3 144.8h0M505 141.6h0M437.8 161.4h0M538.1 122.9h0M551.1 150.5h0M508.8 133.5h0M482.5 151.6h0M535.6 149.3h0M563 115.2h0M616 168.3h0M548.8 146.2h0M576.9 159.6h0M523.9 105.1h0M558.2 154.8h0M569 175.6h0M506.4 149.8h0M548.5 177h0M524.1 119.2h0M560.6 165h0M450.6 171.1h0M579 163.1h0M441.1 165.3h0M484.9 141.9h0M622.8 148.5h0M470.3 170.5h0M645.5 155.2h0M521.8 138.3h0M527.4 144.1h0M651.2 159h0M647.9 164h0M504.5 122.4h0M502.6 117.4h0M527.1 150.9h0M507.4 139.6h0M494.5 123.4h0M414.3 144.2h0M431.1 154.9h0M529.8 150.1h0M588.6 139.7h0M496.5 128.3h0M629.3 169.8h0M642.3 162.2h0M508.9 142.3h0M558.3 154.4h0M556 156.4h0M524.1 159.1h0M426.1 151.8h0M516.4 115.4h0M555.9 116.9h0M524.1 145.6h0M595.2 168h0M634.2 153.6h0M572.3 176.5h0M527 140.2h0M530.1 173.1h0M517.1 132.7h0M600.7 155.7h0M646.3 167.5h0M603.3 157.9h0M591.1 183h0M541.2 129.1h0M527.1 133.3h0M430 166.3h0M526.8 108.5h0M541.2 110.8h0M641.5 51.3h0" stroke="#6585b5" stroke-opacity="0.28" stroke-width="2.1" stroke-linecap="round" fill="none"/>
<path d="M518.6 121.4h0M521.9 122.6h0M431.5 177.4h0M560.4 166.1h0M499.7 169.8h0M496.5 119.7h0M432.3 162.9h0M491.1 151h0M439.4 151.9h0M421.5 178.5h0M433.9 157.1h0M493.3 117h0M551.2 128.4h0M426.2 176.4h0M594.5 170.4h0M495.9 145.5h0M535.7 154.7h0M502.4 160.9h0M562.9 135.5h0M514 131h0M486.1 152.2h0M560.8 105.6h0M597 141h0M535.2 120.7h0M560.6 145.7h0M655.9 155.9h0M541 168.6h0M441.2 161.3h0M445.6 141.1h0M532.7 135h0M629.4 149.2h0M548.6 160.8h0M617.9 165.3h0M501.8 124.5h0M646.3 174.5h0M491.8 122.7h0M543.4 150.3h0M412.4 163h0M476.1 145.7h0M434.3 161.3h0M519.9 123.8h0M578.3 176.8h0M495.2 141.6h0M548.4 174.1h0M481.4 148.2h0M472.6 171.7h0M519.4 136h0M495.3 165.3h0M548.9 164.9h0M524.2 156.9h0M643.4 170.9h0M582.7 176.7h0M425.8 157.9h0M672.6 176.8h0M571.2 171.3h0M419.3 141.3h0M474.8 163h0M414.5 146.8h0M585.7 160.4h0M500.6 163.2h0M571.4 186.5h0M573.5 151.8h0M512.5 161.2h0M438.3 155.9h0M433.8 159.8h0M420 180.9h0M640.6 167.5h0M566.2 168.1h0M543.8 134.2h0M546.3 152.2h0M435 150.1h0M482.3 148.9h0M438.2 147.9h0M481.1 140.8h0M527 156.4h0M560.6 155.6h0M508.4 146.5h0M442.2 165h0M490.9 149.2h0M489.3 122.1h0M560.5 116.9h0M520.1 160.1h0M504.4 129.4h0M440.6 104.6h0M643 157.9h0M505.2 163.5h0M527 102.5h0M484.8 125.9h0M622.2 150.2h0M548.7 145h0M548.6 110.8h0M473.2 130.1h0M562.8 130.4h0M423 178.8h0M429.8 166h0M553.4 124.6h0M571.4 164.2h0M543.5 156.6h0M593.8 167.6h0M548.6 118.4h0M551.1 152.5h0M560.5 98.8h0M530.2 128h0M634.2 149h0M433.5 158.9h0M484.8 141.4h0M558.3 154.8h0M480.8 140.3h0M562.7 151.3h0M524.2 135.4h0M499.8 125.9h0M600.5 151.1h0M569.6 146.2h0M521.2 170.5h0M617 150.1h0M511.9 118.5h0M480.6 122h0M429.5 161.1h0M532.4 140.7h0M424.1 162.9h0M638.9 174.4h0M631.4 159.1h0M562.9 167.2h0M587.9 144.6h0M656 176.8h0M496.5 132.3h0M580.3 150.2h0M558.2 143.2h0M631.4 163.2h0M597.3 166.9h0M439.9 151.7h0M583.9 150.6h0M495.3 145.6h0M565.1 159.8h0M538.4 171.6h0M524.3 144.1h0M562.9 113.9h0M483.9 158.1h0M535.8 147.8h0M501.1 163h0M485.4 177.2h0M589.7 150.9h0M630.5 170.1h0M473.2 160.6h0M433.1 132.7h0M441.5 158.6h0M529.9 122.8h0M562.9 160.8h0M562.8 141.5h0M420.6 158.4h0M625.3 183.7h0M540.9 126.1h0M435.8 176.9h0M504.6 178.8h0M631 156h0M508.1 161.1h0M616.7 161.2h0M502.5 164.5h0M486.8 144.6h0M433.6 162.5h0M626.8 170.4h0M616.1 171.1h0M506.6 165.9h0M556.2 170.7h0M520.9 122.6h0M605 163.7h0M562.6 122.3h0M613.8 174.7h0M502.7 125.8h0M584.8 167.1h0M604.9 183h0M439.2 178.2h0M501.5 127.4h0M571.4 171.1h0M485 113.7h0M538.3 152h0M551.1 156.7h0M596.7 174.6h0M556 155.5h0M535.4 152.3h0M514.2 179h0M551.3 165.3h0M570.1 132.8h0M622.1 144.7h0M535.6 140.3h0M555.8 138.5h0M593.4 171.1h0M426.3 146.4h0M472.6 165.2h0M648.3 161.3h0M546.2 144.8h0M589.3 150.6h0M480.3 155h0M412.5 143.6h0M499.2 182.3h0M485.5 123.3h0M439.2 113.3h0M440.5 145.3h0M494.7 149.6h0M485.3 135.5h0M526.9 159.1h0M529.8 127.6h0M535.5 139.7h0M619.7 150.6h0M417 181.7h0M433.6 158.1h0M515.4 95.4h0M616.1 166.2h0M473.6 146.6h0M483 157.9h0M438.4 82.8h0M512.6 75.4h0" stroke="#6585b5" stroke-opacity="0.28" stroke-width="2.1" stroke-linecap="round" fill="none"/>
<path d="M522.7 142.2h0M503.8 131.6h0M427.4 132.7h0M584.7 181.7h0M614.8 155.8h0M569.2 147.7h0M551.2 152.2h0M489.4 140.7h0M428.5 165h0M532.8 164.5h0M506.6 148.4h0M436.7 163.1h0M480.5 140.4h0M524.4 130.6h0M625.6 156.4h0M508.1 135.5h0M516.3 125.5h0M555.8 162h0M442.7 135.1h0M439.4 166.6h0M439.1 164.5h0M519.2 123.6h0M548.6 168.4h0M429.9 180h0M569.1 171.7h0M476.5 141h0M470.9 133.6h0M672.6 184.7h0M476.7 149.8h0M501.4 120.4h0M639.3 162.9h0M535.2 156.5h0M532.6 167.7h0M520.6 161.2h0M516.1 149.9h0M504.5 146.8h0M516.3 108.7h0M475.9 138.4h0M476.3 146h0M650.9 147.6h0M507.1 131.6h0M543.5 127.3h0M672.6 166.7h0M530.1 157.4h0M481.7 130.5h0M424 103.8h0M450.7 156.5h0M416.7 156.2h0M420.5 158.3h0M613.8 147.1h0M508.7 146.5h0M610.8 148.4h0M427.7 140.3h0M565.4 153.3h0M506 148.6h0M507.4 153.3h0M422.9 170.8h0M562.9 108.4h0M426 166.1h0M524.4 110.7h0M438 133.6h0M486 145.6h0M532.9 153.7h0M474.3 154.5h0M419.4 160h0M481.5 158.8h0M433.7 170.8h0M427.6 170.6h0M653.4 155.9h0M621 161.5h0M570.3 156.1h0M414.7 165.2h0M517.4 134.8h0M499.9 174.2h0M595.1 142.4h0M517.5 143.9h0M540.6 131.7h0M633.1 120.7h0M558.5 137.1h0M529.7 154.4h0M598.8 164.1h0M532.6 137.3h0M424.6 124.4h0M585.6 174.8h0M445 154.5h0M560.5 144.4h0M546 150.1h0M586.5 175.8h0M515.6 150.8h0M501.6 134.3h0M478.5 157.9h0M485.9 175h0M541.1 153h0M529.9 129.5h0M419.1 165.3h0M543.5 111.8h0M564.8 154h0M485.6 172.3h0M472 94.5h0M471 137.8h0M546 141.4h0M543.8 131.2h0M586.8 138.1h0M420.7 169.5h0M548.7 147.4h0M524.1 147.5h0M560.8 142.9h0M516.4 132.7h0M551.2 167h0M648.8 176.8h0M426.5 155.4h0M441.2 169.2h0M426.1 149.9h0M475.1 137.4h0M483.2 166.4h0M556 142.4h0M442.2 171.3h0M475.9 131.6h0M521 138.9h0M474.2 121.5h0M418.4 178.3h0M586.3 176.9h0M503.9 166.1h0M481.3 156.5h0M443.3 178.7h0M524 153.4h0M517.1 145.6h0M650.4 154.7h0M631.6 130h0M621.5 156.7h0M515 169.1h0M473.1 138.5h0M487.4 121.5h0M429 177.6h0M420.4 145.5h0M438.1 175.8h0M476.3 134.6h0M538.5 105.8h0M560.9 104.6h0M474.1 158h0M483.3 158.2h0M431.4 143.6h0M415.2 176.6h0M548.6 143.2h0M548.6 138.5h0M569.9 136.4h0M412.4 180.7h0M517.6 149h0M420.3 161.1h0M600.9 157.6h0M530.2 129.5h0M445.1 167.4h0M468.4 148.6h0M424.7 154.5h0M426.6 167.6h0M558.4 142.4h0M430.2 167.4h0M487.4 165.6h0M494.1 171.9h0M548.8 157.5h0M423.9 156.5h0M546 138.9h0M515.1 147.9h0M527.1 165.9h0M551.1 152.5h0M622.6 162.2h0M422.2 170.8h0M438.7 147.8h0M570.8 163.2h0M444.8 161.2h0M533 152.1h0M495.3 149.1h0M471.6 161.1h0M530.1 135h0M535.5 165.9h0M546.2 133h0M437 178.3h0M515.6 125.5h0M556 114h0M541.1 159.9h0M492.8 136.2h0M486.1 132.4h0M548.7 142.3h0M518.2 144.2h0M551.4 156.3h0M578.9 161.4h0M502.5 133h0M672.6 174.4h0M417.3 175h0M426.5 87.6h0M442.1 153.7h0M522.7 125.2h0M425.7 177.1h0M558.2 148.7h0M655.6 172.5h0M520.1 142h0M498.2 106.6h0M496.4 165.3h0M509.1 149.9h0M639.8 170.7h0M453.3 161.9h0M589 155.6h0M591.2 173.6h0M605.2 156.5h0M606.7 157.8h0M636.2 163.6h0M417.7 135.4h0M548.8 154.3h0M541.1 160.5h0M491.7 140.5h0M656.4 179.4h0M443.2 164.4h0M448.7 145.8h0M652 140.5h0M445 168.3h0M445.3 149.2h0M501.6 132.8h0M563 157.8h0M523.7 149.7h0M576.2 172.1h0M520.1 115h0M541.1 171.2h0M418.8 149.5h0M497.4 160.9h0M609.9 177.5h0M558.2 164.9h0M509.8 130.6h0M543.6 135.9h0M503.5 153.2h0M540.9 153.8h0M422.2 168h0M654.2 157.5h0M672.6 149.2h0M448.7 160h0M477.7 151.1h0M470.4 143.2h0M637.3 72h0" stroke="#6585b5" stroke-opacity="0.28" stroke-width="2.1" stroke-linecap="round" fill="none"/>
<path d="M672.6 180.9h0M491.6 114.4h0M469.7 151.4h0M657.2 174.7h0M416.6 172.6h0M496.3 113.9h0M634.4 173h0M519.2 147.8h0M535.7 153.8h0M596.6 176.7h0M551.1 146.8h0M532.9 123.4h0M546.3 141.6h0M603.3 170.9h0M427.8 182.5h0M601.5 179.2h0M631.3 171.2h0M632.8 148.8h0M540.9 128.3h0M535.5 156.2h0M558.5 125.2h0M634.9 138.7h0M478.5 122.1h0M436.2 143.4h0M555.8 130.4h0M517.5 128h0M520 111.5h0M440.7 128.4h0M560.6 142.9h0M555.9 176.8h0M482.8 123h0M596.1 153.5h0M425.5 165.2h0M597.1 166.4h0M465.3 150.6h0M524.3 135.5h0M504.1 154.7h0M432.5 141.9h0M580.6 147.9h0M574.5 114.2h0M596.4 154.5h0M551.1 157.4h0M445.4 169.2h0M595.4 156.7h0M546.2 121.4h0M560.5 146.3h0M553.4 129.2h0M563 129.8h0M502.6 138.9h0M558.3 134.7h0M504.9 136.2h0M497.4 156h0M431.1 141h0M621.6 162.5h0M538.4 150.8h0M600.2 165.8h0M653.5 162.7h0M500.1 171h0M482.1 157.5h0M522.6 136.9h0M488 148.1h0M591.5 160.4h0M480.9 151.2h0M413.5 157.9h0M433.8 162.6h0M548.7 152.6h0M648.3 173.4h0M535.7 153.7h0M621.4 160.1h0M432 172h0M582.8 156h0M457.4 159.2h0M435.1 136h0M522.6 91.5h0M620.4 185.4h0M581.1 165.4h0M474.1 143.1h0M484.3 147.4h0M470.9 133.9h0M447 126.8h0M492.6 173.5h0M524.2 127.1h0M425.1 157.1h0M595.5 172h0M548.9 135.5h0M438.3 171h0M486.2 145.3h0M560.5 162h0M491.4 152.6h0M514.5 132.9h0M555.7 168.8h0M620.4 160.8h0M444.2 169.1h0M423.7 154h0M485.9 109.7h0M469.5 171.8h0M580.3 173h0M631.9 142.6h0M503.7 148.2h0M444.1 156.2h0M647.5 167.4h0M548.5 176.8h0M598.8 173.4h0M504.2 137.9h0M510.3 168.5h0M654.8 140.8h0M562.9 155h0M538.4 148.8h0M428.5 157.5h0M543.4 138.6h0M569.9 141.8h0M551.1 127.3h0M515.5 133.6h0M515.8 133h0M520.2 125h0M645.1 184.3h0M538.4 144.3h0M515 155.3h0M503.9 135.4h0M530.3 135.5h0M515.2 156.7h0M491 141.9h0M422.5 168.6h0M524.8 137.5h0M458.6 154.1h0M560.6 163.8h0M572.7 155.7h0M485 111.5h0M486.9 139.4h0M427.4 159.1h0M627.1 138.7h0M543.5 120.6h0M429.5 167h0M494.7 155.8h0M553.2 143.4h0M653.8 150.4h0M535.5 156.4h0M530 134.2h0M535.7 127.8h0M546.2 162.7h0M489.1 132h0M476.5 166.4h0M503.5 146.2h0M518.5 154.6h0M438.5 111.5h0M414.9 159.2h0M545.9 133.9h0M443.6 151.1h0M612.8 171.4h0M441.9 124.8h0M433.3 168.8h0M608.1 172.3h0M526.4 141.3h0M421.6 104h0M524.2 128.3h0M499.9 164.1h0M438.4 167.6h0M538.6 160.3h0M504.2 148.6h0M605.5 178h0M543.4 118h0M476.2 117.1h0M572.7 129.6h0M601 176.3h0M533.2 137.4h0M569.8 162.5h0M526.8 137.3h0M535.6 131.6h0M459 142.6h0M498.9 146.5h0M444 116.6h0M538.5 146.8h0M599.2 154.9h0M494.1 145h0M511.9 151.4h0M632.6 141.8h0M527.1 133.2h0M488.6 167.1h0M422.5 118.9h0M524.1 150.8h0M553.4 163.8h0M551 173.7h0M415.2 133.3h0M608.3 182.4h0M535.5 112.7h0M471.2 168.1h0M580.5 169.7h0M437.3 153.9h0M553.5 151.3h0M493.5 146.1h0M624.3 158.2h0M477.9 154h0M584.2 163.9h0M543.8 112.2h0M514.2 140.2h0M459.6 163.7h0M543.4 117.8h0M413.7 175.7h0M471.9 148.3h0M619.7 164.3h0M551.1 179.1h0M627.9 147.7h0M625.3 123.9h0M611.2 158.6h0M493.5 134.9h0M506.2 139.2h0M562.9 141.7h0M556 167.3h0M560.4 133.7h0M601.9 165.1h0M596.6 155.6h0M497.8 136h0M426.4 172.4h0M499.1 142h0M427.9 179.4h0M501.2 138.9h0M574.3 172.7h0M562.8 170.1h0M645.3 186h0M538.4 108.2h0M623.7 152.3h0M428.4 136.5h0M521.3 161.8h0M589.8 172.4h0M439.7 136.7h0M482.4 141.6h0M545.9 178h0M630.2 177.6h0M507.9 151.7h0M487.8 151.3h0M535.6 141.8h0M485.4 138h0M583.4 182.4h0M496.1 114.8h0M479.5 141.2h0M421.1 141.1h0M556.2 132.8h0M613.2 165h0M624.4 119.9h0M556 167h0M443.5 162.1h0M526.6 128.6h0M491.9 152.1h0M611.8 61.9h0M474.1 70.2h0" stroke="#6585b5" stroke-opacity="0.28" stroke-width="2.1" stroke-linecap="round" fill="none"/>
<path d="M570.5 165.6h0M425.9 172.7h0M524 159.4h0M646.2 122.6h0M558.5 138.5h0M507.2 150h0M506.5 139.8h0M616.6 156.1h0M546.4 177.8h0M524.2 173.4h0M619 151.8h0M530 161.3h0M516.3 181.1h0M572.5 149.3h0M605 171.8h0M469.6 120.3h0M498.7 143.9h0M628.5 163.6h0M509.9 152.7h0M522.8 144.3h0M623 184.3h0M558.3 122.6h0M458.4 149.9h0M587.3 133.5h0M452.7 159.2h0M548.3 146.9h0M412.9 114.7h0M459.8 121.6h0M492.1 143.4h0M579.7 169.3h0M481.3 127.9h0M440.2 111.1h0M543.7 139.7h0M469.2 158.6h0M636.7 162.6h0M473.9 129.3h0M527.1 121.6h0M580.2 153.1h0M499 157.3h0M558.4 170.9h0M491.9 127.2h0M487.5 169.6h0M435 156h0M556.2 139.8h0M524.2 126.6h0M560.9 160.8h0M581.5 172.1h0M431.8 150.1h0M621 176.9h0M514.4 158.9h0M416.7 142.7h0M473.9 124.7h0M543.5 148.4h0M540.7 144.3h0M624.3 143.7h0M503.3 152.3h0M628 124.7h0M624.6 182.9h0M628.8 170.5h0M505.2 151.3h0M513.2 132.3h0M469.5 156.2h0M624.5 183.2h0M560.9 143.9h0M514.3 146.3h0M482.9 161h0M598.3 145.8h0M596.2 169.7h0M445.3 169.1h0M443.4 181h0M421.6 156.9h0M535.3 133.6h0M601.7 136.9h0M553.6 120.5h0M515.4 140.2h0M558.2 158.9h0M624.4 164.5h0M546.1 126.9h0M523.8 128.6h0M560.7 161.1h0M523.1 133.4h0M558.4 133.2h0M616.8 161.3h0M583.6 150h0M482.4 125.1h0M532.7 172.3h0M652.1 167.6h0M518.2 177.4h0M636 144.8h0M443.5 151.8h0M569.5 167.4h0M609.7 175.3h0M445 176.3h0M558.3 175.8h0M482 133.1h0M479.6 156.8h0M480.1 136.5h0M555.9 144.3h0M553.6 125.3h0M524 138h0M603.7 167.4h0M420.8 169.9h0M530 114.5h0M438.1 160.2h0M570.6 162.3h0M548.7 159.5h0M619.7 176.9h0M630.6 164.2h0M553.4 181.1h0M521.9 130h0M511 162.6h0M489.2 122h0M471.5 133.8h0M501.5 164h0M568.7 167.4h0M420.8 156.3h0M509.7 140.4h0M496.6 139.9h0M596.6 140.2h0M520.5 147.8h0M604.7 186.2h0M562.9 125.6h0M501.6 157.4h0M533 126.7h0M543.5 157.7h0M471.6 137.8h0M598.2 170.5h0M543.6 136.3h0M551.3 167.7h0M523.9 128.9h0M510.9 155.4h0M527 128.9h0M558.3 142.8h0M477.5 180h0M551.3 153.1h0M619.6 164.7h0M546 134h0M603.9 161.8h0M555.7 185.4h0M505.8 141.8h0M483.5 123.4h0M511.4 135.9h0M558.3 121.9h0M526.1 161.9h0M623.9 164.1h0M434.2 178.6h0M538.5 157.4h0M514.7 133h0M560.6 158.2h0M672.6 175.7h0M622.6 180.5h0M413.4 154.5h0M418.7 167.1h0M461.5 141.3h0M477.5 152.1h0M522.4 128.4h0M421.1 143.3h0M445.3 181.7h0M464.5 154.5h0M523.8 153.1h0M501.3 155.9h0M476.4 142.4h0M473.3 120.3h0M515.1 170.1h0M472.1 122.8h0M415.3 134.5h0M543.6 148.9h0M535.3 142.4h0M532.9 152.9h0M417.4 161.7h0M505.2 169.1h0M563 157.6h0M548.5 121.7h0M541 146.7h0M435.3 136.8h0M500.1 151.4h0M560.7 138.4h0M553.7 140.8h0M423.2 170.5h0M423.7 139.1h0M496.4 161.4h0M558.5 133.4h0M538.4 128.5h0M613.7 161.7h0M578.2 139.1h0M611.9 146.6h0M652.5 167.4h0M511.4 146.8h0M575.9 151h0M433.6 148.3h0M543.6 170h0M518.9 150.8h0M535.5 128.1h0M443.8 176.2h0M434.7 173.3h0M513.1 134.7h0M593.4 161.4h0M562.9 174.2h0M498.5 125.7h0M421.8 165.8h0M484.5 129h0M505.2 143.3h0M538.7 145.2h0M578 179.4h0M551 178.5h0M583 176.2h0M587.3 161.3h0M418.6 168.3h0M672.6 154.7h0M437.2 151.6h0M433.8 143.2h0M634.4 171.2h0M483.8 121.6h0M496.4 145.6h0M605.6 169.6h0M497.3 147h0M517.3 136.7h0M506.6 146.7h0M582.1 168.3h0M491.5 149h0M473 122.9h0M613.7 137.8h0M620.9 176.9h0M551.1 166h0M551 165.5h0M543.8 144.5h0M583.5 144.2h0M519.9 118.3h0M436.6 179.8h0M510.6 133.8h0M499.2 119.3h0M416.8 149.2h0M491.4 134.2h0M496.3 121.5h0M611.7 150.2h0M553.5 151.8h0M541.1 144.6h0M558.4 169.7h0M412.3 175.5h0M429.2 152h0M444.1 167h0M538.1 144.4h0M597.1 166.9h0M536.1 38.4h0M469.7 63.4h0" stroke="#6585b5" stroke-opacity="0.28" stroke-width="2.1" stroke-linecap="round" fill="none"/>
<path d="M600.5 144.4h0M490.2 170.2h0M548.7 107.8h0M524.2 157.4h0M506 158.4h0M543.8 158.9h0M427.7 179h0M527.3 131.3h0M524.5 141.5h0M654.4 148.7h0M546 135.4h0M634 160.1h0M436.6 145.6h0M636.8 172.3h0M558.3 157.2h0M548.6 181.4h0M546.1 132.8h0M644.8 155.8h0M491.3 150h0M646.7 158.6h0M474.1 125.6h0M600.6 144.8h0M582.2 153.9h0M431.9 150.8h0M551.2 142.9h0M548.6 149.8h0M538.3 155.1h0M640.2 152h0M546.1 136.4h0M506.7 151.9h0M504.1 119.8h0M508.6 139.3h0M535.2 120.1h0M583.6 170.1h0M472.7 110.2h0M505.3 130h0M641.4 181h0M505.8 167.9h0M613.6 185.4h0M447.4 139.7h0M479.6 136h0M436.8 146.8h0M439.7 134.1h0M525.5 124.6h0M474.9 167.6h0M492.8 146h0M538.2 166.4h0M500.4 146.7h0M548.6 170.7h0M442.8 107.3h0M551.1 136.5h0M615.4 157.5h0M473.4 138h0M511.9 132.7h0M541 106.9h0M583.6 174.3h0M518.1 145.8h0M505.2 145.1h0M530.1 173.8h0M548.6 136.1h0M510 151.5h0M581.8 159.1h0M480.7 134.8h0M589.1 154.9h0M581.5 159.1h0M431.7 93.4h0M650.8 165.9h0M484.6 151.3h0M530.1 160.8h0M556 154.7h0M558.3 141.5h0M548.5 125.7h0M636.9 169.7h0M493.5 119.2h0M500.6 148.2h0M612.8 185.5h0M546.3 145.1h0M519.7 140.9h0M438.7 128h0M543.8 141.6h0M550.9 143.7h0M595.9 119h0M487 160.6h0M484.8 144.8h0M602.3 178.1h0M588.7 165.4h0M570.4 160.5h0M445.6 154.9h0M565.3 158.4h0M465.7 137.3h0M613.2 168.1h0M551 114.9h0M442.6 151.3h0M558.2 139.8h0M440.4 143.8h0M649.3 174.9h0M510 140.3h0M601.9 134.6h0M494.5 127.3h0M498 156.8h0M495.3 176.5h0M529.8 169.8h0M449.6 126.2h0M488.6 146.6h0M481.1 138.6h0M607.8 163.3h0M475.7 110.3h0M533.1 157.5h0M495 125h0M513.4 134.3h0M548.6 145.3h0M482 160.6h0M499.9 111.7h0M495.4 138.4h0M437.3 158.9h0M420.6 146.4h0M572.4 138.6h0M480.5 165.9h0M602.5 157.7h0M546 113.4h0M455.8 169.7h0M601.9 141.1h0M491.8 150.8h0M583.4 167.5h0M551.1 152.9h0M588.5 157.8h0M509.4 141.9h0M535.7 168h0M535.8 146.8h0M511.6 154.1h0M538.3 132h0M558.5 147.2h0M434.7 152h0M513.5 134.4h0M631.5 146.8h0M562.9 132.3h0M546 146.1h0M631.2 175.6h0M425.5 156h0M535.8 133.6h0M497.6 147.8h0M543.4 153.3h0M417.4 179.2h0M414 177.7h0M506.5 137.1h0M515.2 112.6h0M562.8 136.4h0M551 136.4h0M509.4 152.3h0M605 177.5h0M616.2 178.5h0M521.3 156h0M591.6 138.9h0M469.5 157.3h0M535.7 155.6h0M487.9 155.2h0M421.3 176.3h0M615.8 155.8h0M553.6 150.8h0M482.9 156.3h0M532.9 159.4h0M514.3 145.2h0M570.1 185h0M486.5 171.6h0M454.7 121.3h0M600.3 160.3h0M567.7 141.7h0M535.6 99.8h0M540.9 145.8h0M491 135.9h0M640.9 169h0M556.1 161.2h0M475.1 128.6h0M479.2 128.9h0M494.5 142.3h0M469 156h0M420.4 156.9h0M465.1 129.1h0M562.8 111.7h0M499 151.4h0M639.8 161.4h0M511.4 146.5h0M472.9 138.6h0M540.8 143.6h0M545.9 166.6h0M437.9 175h0M532.4 162.2h0M477.3 123.8h0M471.8 143.2h0M498.6 135.9h0M630.8 155.3h0M427 162.2h0M479.1 74.8h0M653.6 58.2h0" stroke="#6585b5" stroke-opacity="0.28" stroke-width="2.1" stroke-linecap="round" fill="none"/>
<path d="M535.6 149.2h0M486.2 156h0M484.7 133.1h0M520.7 129.1h0M422.3 154.2h0M425 180.8h0M548.8 166.9h0M636.3 165.9h0M598.1 176.7h0M558.2 142.1h0M560.5 136.7h0M589.4 173.9h0M416.5 161h0M527.2 112.6h0M602.5 170.8h0M540.9 131.5h0M541.2 155.8h0M527 146.7h0M642.8 157.2h0M512.9 151.2h0M645.2 170.8h0M492.3 140.5h0M523.6 126.3h0M538.6 144.8h0M589.8 131.3h0M442.1 152h0M486.6 155h0M496.7 142.9h0M515.4 119.3h0M432.4 173.4h0M553.3 159.8h0M510.7 141.3h0M551.2 157.7h0M422 158.2h0M474.4 158.8h0M596.1 155.8h0M630.2 175.7h0M521 116h0M532.7 131.5h0M646.2 177.6h0M472.3 133.1h0M494.4 148.3h0M437.7 156.2h0M530 111.1h0M640.9 161h0M427.8 145.4h0M493.6 131.1h0M636.6 141.1h0M437.6 173h0M558.2 148.9h0M457.7 160.4h0M609.8 159h0M543.5 153.4h0M498.4 151.2h0M597.5 162.8h0M430.1 167.4h0M511.5 142h0M514.4 177.4h0M560.7 130.2h0M530.2 146.6h0M516.8 140.3h0M560.6 143h0M564.4 148.6h0M512.1 145.5h0M438.9 161h0M560.6 147.7h0M633.6 171.8h0M560.7 141h0M461 133.5h0M644.4 161.9h0M482.7 122.9h0M493.7 154.5h0M553.8 139.5h0M509 129.6h0M575.8 184.4h0M427.8 165.6h0M412.2 184.1h0M415.6 163.7h0M515.4 129.2h0M551 177.4h0M560.6 126.7h0M657.7 160.5h0M569.5 160.3h0M630.5 144.3h0M523.6 141h0M495.5 128.2h0M615.5 176.7h0M548.7 132.4h0M500.2 152.9h0M541 153h0M524.1 119.5h0M477.7 169.9h0M623.5 181h0M532.9 159h0M437.7 75h0M437.9 179.5h0M519.8 136.3h0M486.5 126.3h0M553.6 144.2h0M507.3 159.7h0M612.8 161.2h0M481.1 133.8h0M520.2 155h0M592.1 168.4h0M501 140.1h0M514.1 134.8h0M438 183.8h0M489 149.3h0M524 145.6h0M422.6 173.4h0M643.6 142.3h0M412.4 178.8h0M496.3 138.6h0M630.3 167.7h0M432.5 164.8h0M438.6 180.3h0M535.3 161.6h0M553.6 107.4h0M538.4 120.8h0M494.4 156.7h0M457.4 174.3h0M494.8 138.7h0M502.5 158.4h0M481.9 163.3h0M541.1 153.5h0M635.9 182.9h0M467.4 152.9h0M508.7 165.5h0M593.5 169.8h0M432.1 129.2h0M597.3 148.1h0M429.3 130.2h0M621 159.2h0M413.4 157h0M533 182h0M481.3 118.6h0M532.8 145.5h0M426.7 169.1h0M575.7 134.3h0M551.1 134h0M543.5 136.6h0M592.1 161.6h0M609.7 148.4h0M573.7 167h0M483.2 127.1h0M538.4 142.6h0M476.4 156.2h0M656.8 144.2h0M501.9 155.2h0M442 96.1h0M507.6 153.6h0M609.9 145.3h0M495.1 152.6h0M545.9 142.2h0M423.2 174.7h0M523.9 128.9h0M564.3 173.8h0M510.6 167.3h0M543.3 149.9h0M527.3 167.5h0M515.7 167.6h0M430.6 125.7h0M592.9 176.6h0M555.6 106.5h0M555.8 178.7h0M638.6 162.2h0M573.7 157.8h0M608.1 142.4h0M622 171.7h0M556.1 143.2h0M416.1 117.6h0M521.9 151.5h0M560.4 149.1h0M435.2 146.3h0M583.4 178.6h0M562.9 182.1h0M553.5 112.1h0M513.1 134.8h0M438.2 155.5h0M556 148h0M560.6 135.4h0M415.2 144.8h0M517.9 133.3h0M514.9 125.5h0M574.5 152.9h0M496.1 124h0M515.1 153.9h0M503 148.3h0M555.8 179.9h0M558.5 149.5h0M532.9 145.4h0M524.2 149.6h0M524.1 148.8h0M620.6 187h0M518 138.6h0M521.1 130.9h0M507.2 150.3h0M600.3 178.5h0M516.9 135h0M543.5 136.3h0M555.9 160.4h0M511.3 114.9h0M422.9 157.8h0M421.4 147h0M568.8 180.2h0M485.3 160.9h0M556 175h0M524.2 144.1h0M538.4 135.9h0M422.4 165.5h0M507.6 129.3h0M467.9 150h0M439.6 151.6h0M475.4 178.2h0M638.9 179.2h0M427.4 164h0M412.4 170.5h0M524.2 150.4h0M558.3 159.4h0M517 148.3h0M608.4 174.8h0M431.9 153.8h0M493.7 132.1h0M527.1 131.4h0M555.9 151.2h0M550.7 96.5h0M506.2 60.4h0" stroke="#6585b5" stroke-opacity="0.28" stroke-width="2.1" stroke-linecap="round" fill="none"/>
<path d="M408 155L410.2 154.3L412.4 153.7L414.7 153.1L416.9 152.5L419.1 151.9L421.3 151.3L423.6 150.8L425.8 150.2L428 149.7L430.2 149.3L432.5 148.8L434.7 148.3L436.9 147.9L439.1 147.5L441.4 147.1L443.6 146.7L445.8 146.4L448 146L450.2 145.7L452.5 145.4L454.7 145.1L456.9 144.8L459.1 144.6L461.4 144.3L463.6 144.1L465.8 143.9L468 143.7L470.3 143.5L472.5 143.4L474.7 143.2L476.9 143.1L479.2 143L481.4 142.9L483.6 142.8L485.8 142.7L488 142.6L490.3 142.6L492.5 142.5L494.7 142.5L496.9 142.5L499.2 142.5L501.4 142.5L503.6 142.5L505.8 142.6L508.1 142.6L510.3 142.7L512.5 142.7L514.7 142.8L517 142.9L519.2 143L521.4 143.2L523.6 143.3L525.8 143.4L528.1 143.6L530.3 143.8L532.5 143.9L534.7 144.1L537 144.3L539.2 144.5L541.4 144.8L543.6 145L545.9 145.2L548.1 145.5L550.3 145.7L552.5 146L554.8 146.3L557 146.5L559.2 146.8L561.4 147.1L563.6 147.4L565.9 147.8L568.1 148.1L570.3 148.4L572.5 148.7L574.8 149.1L577 149.4L579.2 149.8L581.4 150.2L583.7 150.5L585.9 150.9L588.1 151.3L590.3 151.7L592.6 152.1L594.8 152.5L597 152.9L599.2 153.3L601.4 153.7L603.7 154.1L605.9 154.5L608.1 154.9L610.3 155.3L612.6 155.7L614.8 156.1L617 156.5L619.2 156.9L621.5 157.3L623.7 157.7L625.9 158.1L628.1 158.5L630.4 158.9L632.6 159.2L634.8 159.6L637 160L639.2 160.4L641.5 160.8L643.7 161.1L645.9 161.5L648.1 161.9L650.4 162.3L652.6 162.6L654.8 163L657 163.4L659.3 163.7L661.5 164.1L663.7 164.5L665.9 164.8L668.2 165.2L670.4 165.5L672.6 165.9L672.6 175.9L670.4 175.3L668.2 174.7L665.9 174.1L663.7 173.5L661.5 172.9L659.3 172.3L657 171.7L654.8 171.1L652.6 170.5L650.4 169.9L648.1 169.3L645.9 168.7L643.7 168.1L641.5 167.5L639.2 166.9L637 166.4L634.8 165.8L632.6 165.2L630.4 164.7L628.1 164.1L625.9 163.6L623.7 163L621.5 162.5L619.2 162L617 161.4L614.8 160.9L612.6 160.4L610.3 160L608.1 159.5L605.9 159L603.7 158.6L601.4 158.1L599.2 157.7L597 157.2L594.8 156.8L592.6 156.4L590.3 156L588.1 155.6L585.9 155.2L583.7 154.8L581.4 154.4L579.2 154L577 153.7L574.8 153.3L572.5 153L570.3 152.6L568.1 152.3L565.9 151.9L563.6 151.6L561.4 151.3L559.2 151L557 150.7L554.8 150.4L552.5 150.1L550.3 149.8L548.1 149.6L545.9 149.3L543.6 149.1L541.4 148.8L539.2 148.6L537 148.4L534.7 148.2L532.5 148L530.3 147.8L528.1 147.6L525.8 147.5L523.6 147.3L521.4 147.2L519.2 147.1L517 146.9L514.7 146.8L512.5 146.8L510.3 146.7L508.1 146.6L505.8 146.6L503.6 146.5L501.4 146.5L499.2 146.5L496.9 146.5L494.7 146.5L492.5 146.6L490.3 146.6L488 146.7L485.8 146.8L483.6 146.9L481.4 147L479.2 147.1L476.9 147.3L474.7 147.4L472.5 147.6L470.3 147.8L468 148L465.8 148.3L463.6 148.5L461.4 148.8L459.1 149.1L456.9 149.4L454.7 149.7L452.5 150.1L450.2 150.4L448 150.8L445.8 151.2L443.6 151.6L441.4 152L439.1 152.5L436.9 153L434.7 153.5L432.5 154L430.2 154.5L428 155.1L425.8 155.7L423.6 156.3L421.3 156.9L419.1 157.5L416.9 158.2L414.7 158.8L412.4 159.5L410.2 160.3L408 161Z" fill="#8c8c8c" fill-opacity="0.55"/>
<path d="M408 158L410.2 157.3L412.4 156.6L414.7 156L416.9 155.3L419.1 154.7L421.3 154.1L423.6 153.5L425.8 153L428 152.4L430.2 151.9L432.5 151.4L434.7 150.9L436.9 150.4L439.1 150L441.4 149.6L443.6 149.2L445.8 148.8L448 148.4L450.2 148.1L452.5 147.7L454.7 147.4L456.9 147.1L459.1 146.8L461.4 146.6L463.6 146.3L465.8 146.1L468 145.9L470.3 145.7L472.5 145.5L474.7 145.3L476.9 145.2L479.2 145L481.4 144.9L483.6 144.8L485.8 144.7L488 144.7L490.3 144.6L492.5 144.5L494.7 144.5L496.9 144.5L499.2 144.5L501.4 144.5L503.6 144.5L505.8 144.6L508.1 144.6L510.3 144.7L512.5 144.7L514.7 144.8L517 144.9L519.2 145L521.4 145.2L523.6 145.3L525.8 145.5L528.1 145.6L530.3 145.8L532.5 146L534.7 146.2L537 146.4L539.2 146.6L541.4 146.8L543.6 147L545.9 147.3L548.1 147.5L550.3 147.8L552.5 148L554.8 148.3L557 148.6L559.2 148.9L561.4 149.2L563.6 149.5L565.9 149.8L568.1 150.2L570.3 150.5L572.5 150.8L574.8 151.2L577 151.6L579.2 151.9L581.4 152.3L583.7 152.7L585.9 153.1L588.1 153.4L590.3 153.8L592.6 154.2L594.8 154.6L597 155.1L599.2 155.5L601.4 155.9L603.7 156.3L605.9 156.8L608.1 157.2L610.3 157.6L612.6 158.1L614.8 158.5L617 159L619.2 159.4L621.5 159.9L623.7 160.4L625.9 160.8L628.1 161.3L630.4 161.8L632.6 162.2L634.8 162.7L637 163.2L639.2 163.7L641.5 164.1L643.7 164.6L645.9 165.1L648.1 165.6L650.4 166.1L652.6 166.5L654.8 167L657 167.5L659.3 168L661.5 168.5L663.7 169L665.9 169.5L668.2 169.9L670.4 170.4L672.6 170.9" stroke="#111" stroke-width="1.8" fill="none" stroke-linejoin="round" />
<path d="M404 26.4L404 201" stroke="#7a7a7a" stroke-width="1.15" fill="none"/>
<path d="M403.4 200.4L685 200.4" stroke="#7a7a7a" stroke-width="1.15" fill="none"/>
<path d="M399 164.8L404 164.8" stroke="#7a7a7a" stroke-width="1.15" fill="none"/>
<text x="392.5" y="168.5" text-anchor="end" font-size="10.8" font-weight="normal" fill="#231f20">1</text>
<path d="M399 124.4L404 124.4" stroke="#7a7a7a" stroke-width="1.15" fill="none"/>
<text x="392.5" y="128.1" text-anchor="end" font-size="10.8" font-weight="normal" fill="#231f20">2</text>
<path d="M399 84L404 84" stroke="#7a7a7a" stroke-width="1.15" fill="none"/>
<text x="392.5" y="87.7" text-anchor="end" font-size="10.8" font-weight="normal" fill="#231f20">3</text>
<path d="M399 43.6L404 43.6" stroke="#7a7a7a" stroke-width="1.15" fill="none"/>
<text x="392.5" y="47.3" text-anchor="end" font-size="10.8" font-weight="normal" fill="#231f20">4</text>
<path d="M404 200.4L404 205.4" stroke="#7a7a7a" stroke-width="1.15" fill="none"/>
<text x="404" y="219.6" text-anchor="middle" font-size="10.8" font-weight="normal" fill="#231f20">0</text>
<path d="M442 200.4L442 205.4" stroke="#7a7a7a" stroke-width="1.15" fill="none"/>
<text x="442" y="219.6" text-anchor="middle" font-size="10.8" font-weight="normal" fill="#231f20">2</text>
<path d="M464.1 200.4L464.1 205.4" stroke="#7a7a7a" stroke-width="1.15" fill="none"/>
<text x="464.1" y="219.6" text-anchor="middle" font-size="10.8" font-weight="normal" fill="#231f20">5</text>
<path d="M488.9 200.4L488.9 205.4" stroke="#7a7a7a" stroke-width="1.15" fill="none"/>
<text x="488.9" y="219.6" text-anchor="middle" font-size="10.8" font-weight="normal" fill="#231f20">10</text>
<path d="M538.3 200.4L538.3 205.4" stroke="#7a7a7a" stroke-width="1.15" fill="none"/>
<text x="538.3" y="219.6" text-anchor="middle" font-size="10.8" font-weight="normal" fill="#231f20">25</text>
<path d="M593.9 200.4L593.9 205.4" stroke="#7a7a7a" stroke-width="1.15" fill="none"/>
<text x="593.9" y="219.6" text-anchor="middle" font-size="10.8" font-weight="normal" fill="#231f20">50</text>
<path d="M672.6 200.4L672.6 205.4" stroke="#7a7a7a" stroke-width="1.15" fill="none"/>
<text x="672.6" y="219.6" text-anchor="middle" font-size="10.8" font-weight="normal" fill="#231f20">100</text>
<text x="374.9" y="113.3" text-anchor="middle" font-size="10.8" font-weight="normal" fill="#231f20" transform="rotate(-90 374.9 113.3)">Dispersion</text>
<text x="544" y="237.2" text-anchor="middle" font-size="10.8" font-weight="normal" fill="#231f20">Age (years)</text>
<text x="365.6" y="10.7" text-anchor="start" font-size="15" font-weight="bold" fill="#000" stroke="#000" stroke-width="0.7">b</text>
<path d="M72.3 278.1h0M65.3 277.2h0M142.5 293.8h0M143.3 277h0M101.1 271.8h0M209.2 271h0M148.1 304.3h0M69 276h0M94 272.1h0M100.1 277.1h0M77 285.5h0M162.9 300.3h0M165.1 287.3h0M128.1 339.5h0M215.1 274.6h0M187.5 348.8h0M103.6 276.6h0M136.5 274.8h0M132.8 285.1h0M55.5 312.9h0M102.5 273.8h0M148.2 275.7h0M92.9 277.4h0M101.8 297.2h0M101.3 281.9h0M102.1 291.2h0M219.1 344.5h0M136.7 282.1h0M77 277.3h0M103.6 275.5h0M166.3 300.8h0M205.7 277.5h0M131.7 274.5h0M147.8 278.7h0M161.4 280.2h0M182.5 279.4h0M110.6 272.4h0M145 272.5h0M130.4 323.4h0M153.3 292.7h0M105.8 275.1h0M110.6 269.4h0M191.7 275.2h0M146.9 297.7h0M89.4 284.5h0M129.7 273.2h0M192.8 277.9h0M193.1 274.5h0M113.6 299.7h0M103.5 272.5h0M145.8 282.3h0M88 327.3h0M99.9 275.2h0M104.2 283.9h0M154.6 301.2h0M60 311.9h0M202.4 333.9h0M96.2 324.1h0M57.5 285.5h0M101.2 307.8h0M100.3 297.9h0M117.3 323.5h0M57.8 283.8h0M123.9 271.5h0M174.4 284.5h0M111 280.2h0M89.1 309.9h0M139.5 277.9h0M148.6 296.8h0M57 279.6h0M219.2 356.2h0M163.2 350.3h0M194 284.1h0M143.2 270.8h0M148.9 273.8h0M152 276.8h0M154.3 317.3h0M106.1 294.4h0M147.7 281.9h0M115.3 300.9h0M141.5 327.9h0M211.4 284.4h0M170.3 275.6h0M76.7 282.4h0M218.1 343.5h0M178.5 279.5h0M123.3 280.3h0M155 285.9h0M150 276.7h0M101.8 274.1h0M145.4 273.3h0M126 277.3h0M145.4 279h0M130.5 271h0M153.8 332h0M125.7 270.4h0M61.1 280.2h0M171.5 351.6h0M59.7 303.5h0M99.8 294.2h0M66.7 273.7h0M151.1 283.3h0M106.9 271.9h0M164.4 280h0M207.3 273.8h0M146.3 335.7h0M112 274.2h0M146.8 278.4h0M112.2 274.5h0M219.6 289h0M134 278.8h0M115.6 272.7h0M147.2 297.4h0M146.6 284.5h0M159.2 299.6h0M96.7 317.4h0M174.4 270.1h0M216.2 305.4h0M152.2 284.4h0M72 282.2h0M94.9 317.7h0M121.8 271.7h0M151.5 297.9h0M176.7 276.9h0M150.1 270.2h0M149.8 343.2h0M210.5 287.6h0M215.7 307.3h0M230.5 311.7h0M139.7 293.6h0M111.7 276.4h0M74.1 282.9h0M209.4 277h0M125.9 267.6h0M147.9 270.8h0M107.4 288.9h0M132 279.4h0M205.7 273.9h0M132.5 301.2h0M99.9 279.2h0M123.2 280.5h0M115.2 278.7h0M105.3 272.5h0M61.2 276.7h0M121.1 286.9h0M106.3 290h0M70.8 277.9h0M66.5 343.2h0M55.5 281.8h0M98.5 332.7h0M100.3 291h0M117.3 272.1h0M149.8 285h0M148.5 309.5h0M75.8 289.8h0M180.6 307h0M106.8 297.2h0M76.9 313.4h0M131.4 275.3h0M216.1 305h0M64.8 277.4h0M127.2 279.9h0M159.9 303.7h0M185.3 333.3h0M192.4 282.3h0M175.9 291h0M156.6 343.5h0M129.6 269.9h0M184 276.5h0M68.4 276.5h0M199.5 278.6h0M154.9 344.1h0M124.2 272.4h0M68.1 281.5h0M188.5 278.5h0M67.1 288.6h0M97.5 270.4h0M133.8 286.3h0M125 270.4h0M133.9 285.7h0M73.5 281.6h0M132.1 275.1h0M108.8 268.9h0M132.4 269.7h0M134.4 288.4h0M99.5 276h0M150.3 277.9h0M189.3 276.7h0M122.1 277.3h0M167.6 273.5h0M92.8 280.3h0M149.8 269.5h0M114.9 271.7h0M187.2 277.7h0M137.8 272.6h0M118.2 274h0M151.6 294.4h0M115.3 291.3h0M101.8 272h0M95.4 271.8h0M99.4 294.9h0M136.5 277.2h0M124.1 267.7h0M219.4 274.2h0M155.8 288.8h0" stroke="#e8392c" stroke-opacity="0.58" stroke-width="2.2" stroke-linecap="round" fill="none"/>
<path d="M109.4 272.6h0M178.4 298.2h0M149.5 279.8h0M114.3 279h0M172.8 278.4h0M66 278.9h0M117.1 273.3h0M95.8 271.3h0M157.1 279.1h0M60.2 280.9h0M99.4 273.4h0M104.3 269.5h0M142.1 284.9h0M96 268.9h0M134.2 280h0M145.3 273.2h0M65.7 280.8h0M72.8 275.6h0M201.2 273.2h0M110.7 275.8h0M61 275.5h0M62.3 279.3h0M98.2 284.8h0M102.8 282.8h0M144.9 271.6h0M131.8 289.2h0M206.4 339.5h0M143.1 269.4h0M157.1 279.4h0M217.4 278h0M142.9 280.2h0M110.3 269h0M214.4 278.5h0M141.5 290.8h0M117.4 284.3h0M65.6 275.8h0M97 338.7h0M183 286h0M97.8 278.8h0M160.4 318.5h0M72.5 275.6h0M127.9 344.2h0M141.3 275.1h0M129.9 269.7h0M56.9 317h0M130.7 341.7h0M188.8 289.7h0M60.8 279.9h0M146.8 267.1h0M206.4 270.6h0M153 275.2h0M167.1 276.2h0M105.1 274.6h0M147.9 343.2h0M149.1 276.7h0M215.2 272.6h0M123.8 284h0M135.7 280.3h0M101.5 280.9h0M166 287.7h0M170.3 283.5h0M71.8 278h0M149 275.5h0M108.4 272.7h0M64.5 272.3h0M123.3 272.7h0M156.9 280.3h0M63.4 282.2h0M212.2 269.7h0M209.8 292.9h0M125.2 277.2h0M139.5 271h0M118.4 272.3h0M193.2 268.9h0M131 277.8h0M61.2 305.9h0M113.9 282.5h0M148.1 324.9h0M148.8 270.9h0M178.4 289.5h0M135.4 291.4h0M58.4 286.7h0M99.6 281.3h0M134 274h0M143.2 274.1h0M65.9 300.5h0M102.7 322.3h0M155.1 273.6h0M178.4 311.5h0M158.5 271h0M148.2 273.5h0M174.3 276.6h0M136.5 280.2h0M156.1 314.2h0M129.6 271.7h0M68.5 291.5h0M84.7 283h0M175.7 286.8h0M150.4 292.7h0M60.7 293.7h0M111.7 282.4h0M186.8 293.9h0M136.1 289.9h0M58.2 281.3h0M145.2 287.1h0M146.9 274.1h0M90.7 290.5h0M146.2 290.1h0M177.2 279.1h0M230.5 295.2h0M151.7 282h0M212.3 279.3h0M145 275.7h0M73.4 279h0M168.9 284.5h0M181.8 280.9h0M110.7 277.8h0M65.6 298.4h0M100.2 280.2h0M70.5 291h0M205.9 284.2h0M135 270.5h0M230.5 290.2h0M139.8 278.8h0M59 273.4h0M145.4 283.4h0M153.8 311.8h0M123.1 275.7h0M204.4 357.8h0M109.4 301h0M141.3 275.5h0M142.5 270.8h0M192 285.3h0M182.9 272h0M112.7 278.1h0M106.9 275.1h0M104 288.3h0M76.4 280h0M69.8 278.8h0M60.8 277.4h0M202.2 285.9h0M130.2 275.7h0M151.5 273.9h0M146.7 271.6h0M107.9 322.7h0M69.3 275.4h0M153.1 286.6h0M180.7 343.3h0M93.4 275.4h0M154.4 274.5h0M54.8 340.8h0M218 272.7h0M193.6 283.4h0M161.8 331.4h0M150.5 284.1h0M187.5 270.2h0M154.7 276.1h0M71.8 278.3h0M219.1 294.3h0M116.2 274.5h0M71.7 341.8h0M120.1 275h0M83.9 287.2h0M203.3 275.7h0M174.3 281.4h0M140.5 285.1h0M119.4 286h0M126.4 272.8h0M76.5 322.9h0M148 275.9h0M137.7 279.4h0M178 271.2h0M140.6 270.1h0M102.7 272.7h0M170.3 289.8h0M95.5 283h0M188.1 270.5h0M176.6 295.2h0M107.7 271.8h0M94.4 276h0M168.2 271.1h0M139.6 271.2h0M109.4 270.7h0M129.5 275.4h0M143.6 275h0M200.1 274.8h0M197.3 272.5h0M103.1 277.7h0M213.6 272.8h0M99.3 274.1h0M130.2 271.1h0M185.9 287.4h0M70 312h0M130 281.4h0M212.2 296.1h0M165.9 271.3h0M138.4 273.6h0M98.3 278h0M153.5 278.5h0M207.1 288.2h0M136 329.6h0M156.6 277.8h0M110.9 271h0M156.4 291.9h0M146.3 283.1h0M71.8 276.9h0M102.6 272.8h0M70.6 291.8h0M196 282.9h0M153.5 336.4h0M134.5 313.8h0M127.5 268.1h0M200.3 277h0M174.6 300.9h0M126.8 283.3h0M77.1 339.2h0M121.3 272.5h0M215.7 299.9h0M113.7 267.8h0M206.4 271.9h0M97.3 321.9h0" stroke="#e8392c" stroke-opacity="0.58" stroke-width="2.2" stroke-linecap="round" fill="none"/>
<path d="M60.2 290.3h0M193.1 288.2h0M207.5 275.2h0M98.1 287.4h0M89.1 278.1h0M211 303.1h0M109.9 280.7h0M72.3 270.7h0M73.8 284.4h0M137.9 286.8h0M55.3 282.8h0M230.5 279.6h0M111.6 273.1h0M101.8 271.2h0M105 266.4h0M76.8 273.1h0M129.9 272.9h0M154 273.9h0M105.1 270.3h0M95.6 281h0M95.1 271.1h0M219.5 300.8h0M124 286.6h0M174 272.6h0M141 278h0M111.2 288.1h0M121.1 275.3h0M66 275.2h0M155.9 307.3h0M122.4 273.4h0M75.4 308.6h0M117.6 270.1h0M94.8 282.2h0M111.1 269h0M147 286.7h0M189.9 273.8h0M97.3 295.5h0M120.3 274.2h0M178.7 271.8h0M153.2 279.3h0M146.2 283.1h0M110.3 274.3h0M136.7 290.2h0M145.3 284.4h0M74.4 281.7h0M56.8 297h0M139.2 272.8h0M120.3 274.5h0M156.8 273.3h0M67.7 303.9h0M57.2 287.7h0M76.7 279.4h0M152.8 271.7h0M90.2 285.6h0M59.8 277.6h0M182.6 291.5h0M115.3 274.3h0M190 303h0M167.7 281.4h0M112.1 278.4h0M122 273.4h0M196.3 347.1h0M212.8 272.1h0M184.9 271.1h0M143.1 282.8h0M74.1 276.4h0M73.4 270.7h0M145.4 275.5h0M103.7 276h0M119.1 291.7h0M138.4 271.1h0M109.5 279.9h0M81.6 289.8h0M126.1 284.4h0M160.5 285.8h0M170.5 273.1h0M70.7 298.2h0M169.2 282.6h0M159.4 272.7h0M149.4 276.2h0M133.4 273h0M122 272.7h0M137.7 276.5h0M97.2 274.1h0M123.9 270.7h0M125 315h0M77.1 317h0M153.8 277.8h0M104.2 274.1h0M172.1 275.5h0M129.3 270.8h0M104.5 305.9h0M137.2 273.6h0M213.3 269.7h0M110.3 278.5h0M173.8 279.9h0M157.9 283.9h0M98.9 277h0M131.7 274.4h0M106.7 325.7h0M115.2 271.6h0M65.9 286.4h0M101 276.3h0M185.6 273h0M98 278.7h0M103.9 273.2h0M181.3 283.6h0M174.5 344.9h0M133.4 290.3h0M217.6 269.2h0M75.9 275.7h0M181.8 276.3h0M62.6 289.9h0M141 336.8h0M126.7 272.6h0M115.1 299.2h0M196.2 277.1h0M74 279.1h0M106.1 287.4h0M147.4 267.5h0M178.1 290.4h0M143.4 282.2h0M200.5 272.8h0M137.8 281.4h0M124.3 280.6h0M60.9 273.4h0M113.9 267.1h0M74.4 275.8h0M63.5 283.2h0M136.5 277h0M148.6 271.5h0M195.2 278.2h0M111.3 276.7h0M145 274.9h0M128.1 276.8h0M102.5 330.2h0M103.4 278.3h0M106.2 274h0M75 335.8h0M104.1 278.3h0M148.1 336.1h0M143.4 278.3h0M192.7 291.5h0M123.1 288.8h0M121.6 293.5h0M132.1 275.4h0M70.3 275.7h0M137.9 270h0M100.1 274.6h0M153.8 279.5h0M61.1 298.1h0M62.4 276.3h0M143.6 284.7h0M103.9 284.7h0M151.8 272h0M123.3 273h0M99.5 333.8h0M156.7 273.7h0M107.6 279.4h0M174.9 357.2h0M74.7 307.5h0M120.1 279.1h0M209.7 316.4h0M58.6 273.9h0M67.4 277.3h0M61.5 280.7h0M134.5 272h0M117.9 276.9h0M64.8 283.2h0M219.3 283h0M128.3 272.1h0M151.8 313.2h0M129.8 292.2h0M136.4 280h0M66 303.6h0M121.2 287.2h0M159.1 339.7h0M208.4 282.9h0M112.2 279.4h0M118.6 269.4h0M77.1 277.5h0M107.9 339.9h0M60.5 275.1h0M200.7 279.7h0M158.1 284.3h0M186 269.1h0M70.2 278.4h0M176 268.2h0M134.6 269.3h0M155 310.9h0M80.6 273.8h0M139.1 272.5h0M205.2 291h0M210.3 302.2h0M72.4 276.5h0M107.7 268.4h0M141 280.3h0M106.2 273.2h0M127.8 282.3h0M156.5 277.5h0M96.1 291.4h0M157.7 309h0M137.9 276.3h0M114.1 299.3h0M136 294.3h0M64.7 279.8h0M216.1 284.9h0M120.9 278.3h0M136.1 271.3h0M186.3 272.5h0M58 301h0M64 280h0" stroke="#e8392c" stroke-opacity="0.58" stroke-width="2.2" stroke-linecap="round" fill="none"/>
<path d="M164.8 359.6h0M132.2 328.8h0M108.7 281.4h0M124.7 296.8h0M178.3 296.4h0M60 273.9h0M115.9 275.2h0M166.4 278.2h0M132.9 271.4h0M155 305.2h0M200.1 270.2h0M123.9 312.1h0M194.3 271.4h0M117.1 287.3h0M144.8 315.6h0M79.1 272.2h0M130 309.5h0M72.5 275.8h0M61.4 299.4h0M137.8 273.2h0M183.1 273.7h0M161.2 276.3h0M138.4 275.1h0M135.6 287.5h0M69.1 276.2h0M107.9 269.4h0M143 279.7h0M139.1 278h0M115.7 291.5h0M131.8 278.4h0M180.5 267.8h0M179.1 287.7h0M144.7 296.2h0M64.8 333.2h0M154.8 272.7h0M113.6 286.6h0M158.9 280.7h0M202.6 321.1h0M99.4 338.3h0M63.3 285.5h0M60.9 285.3h0M140.7 273h0M106.5 276.6h0M218.7 273.6h0M230.5 317.3h0M146.5 285.7h0M65.3 286.5h0M144.9 284.2h0M191.8 292.6h0M103.3 278.5h0M118.6 283h0M197 288.6h0M137.7 300.7h0M125.1 268.6h0M130.7 290.8h0M137.1 280.5h0M59.8 274.6h0M155.8 286.9h0M65 280.4h0M105.4 271.8h0M88.9 274.6h0M125.6 275.5h0M140.5 295.7h0M63.8 288.8h0M136.1 330.7h0M153.1 298.1h0M141.8 275.1h0M214 272.1h0M137.4 276h0M106.5 280h0M100.5 270.9h0M101 283.7h0M202.2 279.1h0M66.6 280.6h0M67.3 320.5h0M120 274.3h0M125 282.3h0M148.8 278.9h0M75 272h0M68.6 279.3h0M147 294.4h0M208.9 279h0M73.2 280.7h0M110.2 278.6h0M64.3 280.3h0M113.1 284.4h0M132.5 272.4h0M134.4 339h0M194.7 288h0M72.8 289.2h0M217.2 279.5h0M73.8 297.1h0M98.5 293.5h0M174.7 288.6h0M101.6 300.9h0M116.8 301.7h0M74.5 278.5h0M191.1 311.2h0M190.7 271.6h0M144 304.4h0M55.6 288.9h0M217.4 290.2h0M97.8 274.1h0M109.5 272.2h0M98.6 268.5h0M119.7 280.7h0M147.9 278.6h0M77 277.6h0M65.9 284h0M101.8 292.3h0M126.9 277.1h0M124.3 271.2h0M86.5 271.5h0M151.8 279.4h0M117.7 275.9h0M176.4 270h0M204.1 294.6h0M89.3 288.8h0M115.3 304.3h0M97.5 269.3h0M65.3 288.3h0M151.8 300.3h0M100.7 282.7h0M99.7 341.3h0M154.5 285h0M154.1 270.1h0M137.8 314h0M55.9 288.1h0M135.9 274.9h0M148.1 274.9h0M119.4 283.1h0M161.3 313.7h0M113.7 283.1h0M70.4 276.8h0M117.6 269.3h0M55.3 282.8h0M133.5 273h0M220.4 269.6h0M100.5 289.8h0M145.7 278h0M137.1 289.3h0M155.3 275.5h0M67.2 277.4h0M166.4 309.6h0M150.9 276.5h0M133.7 334h0M109.5 275.5h0M66.7 278.1h0M184.4 313.2h0M77 273.4h0M121.6 274.7h0M193.5 291.4h0M118.1 269.2h0M95.2 301.9h0M65.9 301.6h0M76.1 302.8h0M132.2 275.6h0M146.2 271.8h0M112.3 282.1h0M152.6 275.2h0M150.6 280.1h0M95.9 281h0M181.6 288.5h0M208.2 275h0M103.3 286.9h0M102.6 277.9h0M105.8 272.8h0M109.3 273.9h0M61.8 277.3h0M146.5 280.9h0M112.6 279.6h0M160.3 311.7h0M124.8 274.7h0M116.5 278.9h0M176.6 289.9h0M171.4 308.6h0M192.7 278.1h0M102.2 274.8h0M122.3 270.4h0M148.7 282.1h0M141.3 277.3h0M147 319h0M143.6 291h0M105.3 276.8h0M77 287.5h0M64.1 288.6h0M141.9 285.4h0M106.7 285h0M125.6 274.7h0M135.6 272h0M133.1 291h0M61.1 274.8h0M162 294.8h0M124.3 286.3h0M202.3 282.4h0M158.9 295.1h0M183.3 268.3h0M156.3 283.3h0M133 288h0M113.4 273.2h0M143.6 305.5h0M215.8 273.8h0M199.5 340h0M217.6 309.5h0M71.4 309.7h0M120.4 274.4h0M117 271.5h0M76.8 276.1h0M137.8 275.2h0M166.6 275.8h0M173.4 270.9h0M72.7 299.7h0M187.7 365.9h0M159.8 268.9h0M204.6 282.3h0M210.9 294.1h0M154.5 291.7h0M139.4 306.7h0M139.6 307.1h0M146.8 282.2h0M156.5 294.9h0M112.7 275.9h0M104.1 274.4h0M75.4 272.7h0" stroke="#e8392c" stroke-opacity="0.58" stroke-width="2.2" stroke-linecap="round" fill="none"/>
<path d="M98.8 293.4h0M190.6 282.3h0M73.7 288.1h0M95.9 271.9h0M103 294h0M139.6 295.6h0M151.4 305.3h0M97.1 275h0M154.9 333.3h0M94.1 280.9h0M90.5 276.1h0M141.5 270.9h0M115.4 276.7h0M166.1 298.3h0M132.9 283.6h0M110 275.2h0M124.5 295.2h0M141.6 273.7h0M146.6 297.7h0M67.6 282.2h0M63 337.9h0M98 273.1h0M135.4 273.2h0M136.8 281.4h0M103.4 333.9h0M74.1 275h0M68.7 319h0M62.2 285.3h0M150 273.9h0M182.1 276.7h0M66.8 293.5h0M200.3 268.7h0M156.7 272h0M97.4 310h0M197.1 272.7h0M132.1 286.7h0M151.2 298h0M82.4 282.3h0M148.3 278.1h0M149.5 281h0M201.6 276.8h0M138 273.9h0M153 273h0M108.2 278.7h0M163.7 286.9h0M61.3 281.3h0M140 296.1h0M115.7 275.4h0M144.5 292.9h0M78.3 294.2h0M196.5 289.2h0M147.3 319.4h0M153.3 273.5h0M70.1 285.6h0M152.9 277.5h0M109.3 276h0M115.7 283.9h0M134.6 275h0M139.1 272.9h0M141.3 270.7h0M150.1 274.3h0M136.5 278h0M92.9 271.6h0M130.1 324.1h0M218.7 315.1h0M102.2 282.9h0M65.7 284.7h0M150.5 273.2h0M145.9 271.4h0M109.4 274.8h0M188.7 297h0M150 320.4h0M169 291.5h0M69 273.3h0M145.3 269h0M150.3 278.1h0M95.8 339.3h0M121.1 293.3h0M116.8 294.4h0M151.7 341.8h0M111.1 303.1h0M201.4 301h0M68.5 276.2h0M153.3 280.9h0M134 269.5h0M183.7 297.9h0M150.2 271.3h0M141.3 282.4h0M63.6 297.3h0M179.8 286.4h0M122.3 277.3h0M141.1 290.7h0M63.2 281.3h0M203.4 287.9h0M79.4 275.2h0M108.8 324h0M148.9 277.8h0M204.9 278.2h0M155.9 277.7h0M105.2 279.3h0M135.4 300.1h0M111.2 278.7h0M161.5 291.7h0M105.5 308.1h0M109.7 299.9h0M137.6 269.7h0M72.8 300.7h0M124.1 277.2h0M120.5 276.3h0M201.8 292.3h0M68.5 273.5h0M143.5 284.1h0M212.7 364.2h0M57.3 284.8h0M114.6 272.4h0M155.7 287.6h0M145.5 269.5h0M230.5 313.9h0M109.8 268.7h0M140.9 281.7h0M144.7 271.2h0M92.5 274.4h0M173.7 272.2h0M147.9 274h0M135.7 270.5h0M151.6 277.7h0M63.6 313h0M163.6 272.6h0M135.9 283.2h0M193.7 281.8h0M106.2 276.6h0M104.7 280.3h0M137.7 277.3h0M147.2 282h0M156.8 289.4h0M87.2 273.2h0M153.3 279.4h0M138.6 307.7h0M94.8 293.1h0M98.7 268.1h0M102 281.9h0M102.1 267.5h0M148.6 276.1h0M118.6 270.2h0M197.9 273.7h0M180.9 298.8h0M122.5 285.2h0M114.1 291.8h0M111.1 286.4h0M75.6 281.3h0M209.9 290.1h0M73 276.1h0M57.5 280.6h0M112.3 292.1h0M74 275.1h0M191.1 300.9h0M145.2 272.4h0M135.5 276.7h0M68.5 275.4h0M161.3 352.1h0M124.1 276.8h0M133.6 321.6h0M215.5 371.2h0M172.3 295.8h0M107.2 268.8h0M210 282.4h0M119.5 283h0M189.8 277.7h0M60.4 288.2h0M156.8 272h0M132.9 304.8h0M117.6 288.9h0M61.8 315.8h0M171.3 284.6h0M207.6 353.5h0M171.2 268.4h0M188.1 271h0M74.4 275.9h0M128.4 269.8h0M61 283.2h0M166.5 275.4h0M100.9 276.9h0M115.8 283.3h0M126.8 275.5h0M153.5 275.8h0M62.4 299.8h0M141.8 288.5h0M100.5 274.9h0M197.6 271h0M135.8 283.5h0M150.2 282.8h0M150.1 274.1h0M69.8 284.4h0M143.6 272.5h0M116.1 279h0M127.6 295.9h0M70.9 284.6h0M58.3 283.1h0M58.5 278.7h0M160 300.1h0M139.2 275.3h0M100.6 286.4h0M63.3 278.7h0M88 273.4h0M186.1 273.7h0M209.8 299.4h0M107 273.8h0M87 278.9h0M108.1 276.1h0" stroke="#e8392c" stroke-opacity="0.58" stroke-width="2.2" stroke-linecap="round" fill="none"/>
<path d="M153.5 331.6h0M124.2 274.2h0M71.3 283.8h0M147.2 293.9h0M150.1 278.3h0M107.4 289.2h0M114.1 282.3h0M142.8 286.9h0M85.5 279.3h0M129.2 292.7h0M204.9 278.8h0M141.6 278.7h0M155.5 275.8h0M128.8 291.3h0M131.2 285.5h0M136.1 291.7h0M96.9 274.7h0M105.1 271.6h0M122.3 279.2h0M112.6 284.1h0M142.2 275.1h0M136.5 281.3h0M100.5 276.9h0M139.4 281.7h0M125 272.4h0M64.4 281.7h0M127.6 338.7h0M145.8 283.6h0M149.9 272.4h0M194 280.4h0M54.9 278.5h0M213.4 297.7h0M200 285.5h0M198.9 276.9h0M212.7 284.8h0M220.1 282.7h0M107.1 275.6h0M206.9 274.7h0M99.7 275h0M128.9 292.6h0M144.6 277.6h0M191.9 303.4h0M127.6 276.4h0M151.8 285.7h0M62.2 278.9h0M139.4 290.2h0M102.2 268h0M130.4 269.1h0M134.6 273.9h0M68.9 281.6h0M112.3 302.6h0M185.4 338.1h0M103.5 273.1h0M65 281.2h0M86.5 276h0M143.9 286.2h0M139.1 272.8h0M113.3 284.9h0M217.3 277.5h0M76 275.4h0M126.1 277.3h0M78.3 321.2h0M160.2 276.6h0M71.7 279.5h0M173 328.4h0M62.9 307.9h0M109.2 308.2h0M154.7 282.9h0M151.7 272.3h0M157 298.1h0M155.6 298.5h0M128.3 278.3h0M124.2 270.5h0M106.3 287.9h0M112.1 278.1h0M130.1 273.3h0M150.6 272.8h0M73.7 285.3h0M57 281.9h0M157.8 274.9h0M146.5 272h0M130.8 278.2h0M140.7 274.4h0M91.7 273.3h0M149.6 272h0M148.7 299.6h0M206 274.5h0M120.8 271.8h0M220.4 273.6h0M174.6 313.8h0M121.6 273.9h0M209 269.6h0M176.8 276.1h0M161.4 366.7h0M191.3 282.1h0M100.5 273.6h0M102.5 269.7h0M141.1 297.1h0M83.3 279.5h0M69.4 312.8h0M111.4 270h0M161.1 284.3h0M119.8 267.7h0M71.4 281.6h0M132.3 277.4h0M107.8 305.9h0M164.2 274.6h0M103.6 336.9h0M196.2 346.6h0M83.1 284.1h0M132.9 279.1h0M113.5 276.1h0M75.7 279h0M96.4 281.5h0M106.7 300.4h0M120.7 297.5h0M136.9 276.8h0M123.8 279.5h0M141.3 273.9h0M167 289.6h0M109.5 279.6h0M176.3 295h0M183.8 272.4h0M100.6 297.6h0M81.3 287.3h0M130.7 269.5h0M164.9 323.3h0M115.6 282.6h0M128.4 311.9h0M121.2 281.1h0M66.9 299.6h0M68.9 325.2h0M210.3 309h0M198.6 276.4h0M168.2 280.5h0M97.8 274.6h0M153.3 283.8h0M193.9 314.2h0M73.9 313.6h0M122.6 277.5h0M99.8 276.6h0M186.5 320.7h0M73.6 291.6h0M61 273.9h0M68 277.5h0M200.4 305.3h0M135.1 272.8h0M100.5 294.6h0M99.7 271.4h0M60.2 312.7h0M107.9 268.9h0M140.1 274.5h0M124.5 287.8h0M184.6 277.9h0M120.9 278.9h0M149.1 278h0M61.4 275.7h0M110.2 273.1h0M130.2 283.9h0M161.4 290.1h0M148.6 277.3h0M154.2 286.2h0M138 267.3h0M155.1 275.5h0M120 272.3h0M144.2 276.3h0M78.2 309.6h0M67.7 323.7h0M66.5 300.9h0M156.4 298.7h0M103.4 279.1h0M146.2 275.5h0M105.9 274.4h0M147 272.1h0M111.7 270.3h0M134.1 296.4h0M99.3 274.4h0M141.6 271.6h0M199.9 287.1h0M60.2 304.9h0M104.4 267.6h0M98.1 276.1h0M200.5 305.1h0M128.8 272.2h0M56.2 275.3h0M75.6 278.6h0M133.4 278.1h0M105.2 279.2h0M142.1 274.5h0M123.1 277.9h0M74.7 282.6h0M146.8 274.2h0M80.6 276.5h0M155.1 277.5h0M154.8 278.8h0M174.6 282.5h0M146.8 278.6h0M198.8 277.6h0M135.8 274.6h0M134.3 276.4h0M113.5 316.5h0M113.9 267.6h0M211.6 271h0M151.4 271.6h0M99.4 269.9h0M148.6 286.3h0M199.8 316.8h0M102.6 281.4h0M118.9 314.1h0M62.7 286.4h0M123.5 271.4h0M115.7 293.6h0M139.5 278.5h0M55 288h0M99.1 272.4h0M136.6 277.5h0M188.3 302.5h0M113 270.8h0" stroke="#e8392c" stroke-opacity="0.58" stroke-width="2.2" stroke-linecap="round" fill="none"/>
<path d="M116.1 286.5h0M194.1 357.4h0M176.8 272h0M144.3 271.1h0M110.7 291.4h0M151.9 286.2h0M150.6 274.4h0M182.1 278.5h0M146.8 282.1h0M96.7 291.5h0M124.5 270.9h0M183.8 308.8h0M183.3 276.3h0M126.6 279.8h0M108.5 278.8h0M212.6 282.4h0M139.7 288.3h0M80.8 271.3h0M110.4 279.4h0M93.3 269.1h0M157.2 305h0M150.4 270.4h0M96.8 279.5h0M127.7 275.2h0M154.3 283.2h0M105.8 272.4h0M201.6 301.9h0M207.9 282.5h0M121 269.6h0M148.2 277.2h0M135.8 336.2h0M121.1 285.4h0M104.8 274.4h0M57.6 286.8h0M67.9 271.9h0M206.6 269.1h0M141.5 273.4h0M119.3 270.9h0M154.9 290.7h0M220.3 273.3h0M110.5 274.3h0M127.3 275.2h0M120.1 288.9h0M206.7 286.5h0M120.7 339.7h0M145.3 271.6h0M95.6 272.9h0M128.4 274.8h0M104.8 280.1h0M149.6 270.9h0M134.8 280.1h0M172.2 266.9h0M62.6 291h0M167.3 274.6h0M148.2 282h0M151.3 283.2h0M144.5 303.1h0M119.3 275.4h0M76.2 288h0M117.3 279.5h0M96.6 321h0M74.4 272.2h0M136.6 293.9h0M134.2 286.1h0M230.5 335h0M107.7 304h0M134.2 309.5h0M173.8 271.7h0M175.6 285.2h0M62.1 333.1h0M153.5 285.9h0M95.5 272.8h0M183.2 280.7h0M112.7 268.7h0M140 306.7h0M102.1 285.2h0M185.9 299.9h0M98.9 283.7h0M94.7 284.8h0M175.8 310.8h0M156.3 304.3h0M139.8 279.3h0M153.1 272.1h0M115.5 273.9h0M206 345h0M159.6 274h0M71 277.5h0M105 270.3h0M161.9 273h0M165.4 281.3h0M139.2 271h0M157.5 280.3h0M217 269.5h0M153.4 296.1h0M74.3 298.5h0M176.1 272.9h0M117.6 270.7h0M56.4 283.6h0M64.8 278.9h0M219.9 278.3h0M125.9 280.6h0M142 294.4h0M215.8 278h0M213.2 302.1h0M193.8 272.6h0M210.3 301.8h0M154.8 284.3h0M218.5 275.4h0M98.2 301.8h0M157.3 279h0M189.3 276.9h0M117.3 270.1h0M173.4 331.5h0M63.2 277.8h0M211.2 297.5h0M172.4 271.3h0M198.5 302.3h0M68.8 276.3h0M181 302.2h0M159.5 345.5h0M210.8 284.1h0M155.5 326.2h0M156.7 277.7h0M70.3 281.6h0M151.4 279.9h0M124.1 278.7h0M99.5 276.4h0M119.4 272.8h0M208.2 274.7h0M154.8 316.2h0M155.9 277.1h0M59.9 279.8h0M152.7 284.5h0M166.7 280.3h0M118.9 302.4h0M119.9 278.3h0M218.6 288.5h0M175.5 276.4h0M169.2 281.8h0M143.5 268.8h0M125.4 276.2h0M185.3 275.1h0M119.1 290.9h0M132.4 279.7h0M113.2 271.1h0M201.2 373.6h0M151.2 278.8h0M125.1 272.6h0M62.5 272.5h0M154.4 272.7h0M143.4 271.2h0M129.8 276.6h0M203.9 294.5h0M143.1 336.5h0M215.3 277h0M131.5 288.8h0M116.6 298.7h0M99.4 279h0M54.8 313.2h0M192.8 297.8h0M138 304.2h0M150.7 300.2h0M97.6 285.5h0M60.4 295.4h0M156.5 331.3h0M188.9 283.4h0M173.5 319.4h0M57.8 288h0M132.3 297h0M137.2 273.5h0M111 272.2h0M103 295.1h0M65.3 311.8h0M98.3 271.3h0M68.6 287.6h0M212.9 289.2h0M142.9 273.3h0M131.5 336.8h0M156.1 273.9h0M61.9 281.2h0M136.3 272.8h0M69 297.2h0M128.4 284.5h0M139.8 268.8h0M58 277h0M65.9 330.7h0M98.4 280.2h0M83.7 273h0M131.9 308.1h0M130.7 274.8h0M176.3 279.5h0M117.1 284.9h0M138.7 280.3h0M154 272.5h0M214.8 274.2h0M118.5 269.1h0M97.6 267.9h0M148.2 274h0M67.6 276.2h0M163.5 278.9h0M105.7 270.6h0M90 277.3h0M167.2 298.7h0M183.4 277.3h0M63.5 276.3h0M128.5 284.5h0" stroke="#e8392c" stroke-opacity="0.58" stroke-width="2.2" stroke-linecap="round" fill="none"/>
<path d="M76.9 271.4h0M190.3 285.2h0M119 289.7h0M187.5 277.5h0M138.7 270.5h0M139.3 279.2h0M116.7 287.3h0M100.6 276.5h0M124.4 267.4h0M146.6 275.1h0M115.2 272.4h0M124.1 273h0M124 277.7h0M60.5 275.9h0M134.9 275h0M154.7 274.6h0M58.8 277.8h0M149.9 287.1h0M77.1 288.4h0M72.4 280.3h0M183.1 302.1h0M132.2 342.9h0M142.2 290h0M209.5 276.6h0M123.1 287.8h0M90.4 278.4h0M166.2 284.1h0M63.3 299.5h0M137.3 276.7h0M128.4 274.2h0M168.2 353.8h0M130.3 326h0M149.2 285.1h0M65.9 284.7h0M158.6 316.9h0M151.8 307.8h0M74.4 291.5h0M167.1 283.6h0M99.2 280h0M153.1 295.2h0M123.8 283.9h0M200.4 277.1h0M104.9 273.2h0M107.2 276h0M137.4 271.5h0M122.3 276.5h0M116.8 312.5h0M76.7 280.8h0M135.8 344.1h0M70.4 287.5h0M127.3 279.8h0M71.6 277.7h0M104.8 278.6h0M63.6 286h0M97.5 288.9h0M69.4 273.3h0M203.6 291.9h0M135.3 275.4h0M144.8 290.6h0M118.5 280.6h0M133.7 277.7h0M62.9 274.7h0M130.5 275.1h0M212.7 274.9h0M107.1 274.7h0M117.6 281.2h0M64.3 276.9h0M148.6 286.9h0M110.7 285.1h0M149.3 274h0M157 280.5h0M136.1 296.4h0M179.5 276.6h0M204.6 317.1h0M175.6 322.8h0M101.8 279.3h0M132.4 287.5h0M121.8 276.1h0M60.3 324.6h0M145.3 286h0M146.9 277.8h0M139.7 292.6h0M141.6 284.2h0M74.4 286.8h0M105.7 284.4h0M63.4 286.7h0M152.6 273.9h0M134.6 272.3h0M170.1 271.9h0M93.7 281.4h0M123.5 274.3h0M72.2 333h0M183.6 277.4h0M68.6 297.6h0M126.1 278.4h0M72.2 287.3h0M75.1 312.7h0M145.6 299.1h0M134.4 280.8h0M158.4 285.5h0M109.2 292.6h0M141.8 274h0M146.7 267.1h0M187.4 279.1h0M99 271.2h0M118.8 277.2h0M143.6 294.7h0M63.5 277.1h0M145.1 317.9h0M113 288.8h0M120.2 287.4h0M188.2 277.3h0M89.3 272.2h0M59 277.1h0M109.3 274.8h0M180.4 284.7h0M196.4 287.9h0M99.9 274.4h0M65.3 341.3h0M132.1 276.7h0M141.6 283.3h0M153.4 278.5h0M108.9 269.9h0M134.4 288.6h0M90.3 276h0M163.8 273.8h0M60.7 310h0M111.2 314.6h0M210 333.7h0M146.7 285.8h0M141.8 299.3h0M185 299.5h0M94.6 277.4h0M67.6 274.4h0M124.1 279.4h0M115.4 305.7h0M215.1 278.2h0M132.7 319.4h0M212.2 277.8h0M143.5 290.2h0M108.5 268.8h0M203.8 287.7h0M148 267.2h0M124.6 278.2h0M115.9 276.4h0M182.5 274.4h0M193 274.1h0M107 275.8h0M82.7 275.1h0M70.5 277.1h0M122.9 275.5h0M218.5 285.4h0M154.7 305.7h0M207.8 304.4h0M130.4 280h0M127.2 275.2h0M196.2 282.3h0M167.8 287.3h0M129.2 273.8h0M208.8 286.9h0M69.4 285.4h0M196.3 270.5h0M150.4 301.6h0M63 278.3h0M100.2 275.4h0M208.7 275.1h0M78.9 315.9h0M220.5 273.8h0M198.2 329.1h0M201.5 274.1h0M117.9 280.2h0M64.6 277.2h0M128.9 268.6h0M94.5 274.3h0M141.4 278.9h0M75 285.7h0M138.9 306.6h0M156.3 279.7h0M152.2 274.2h0M66 273.4h0M101.3 299.3h0M136 292.2h0M174 313.1h0M132.9 279.8h0M114.7 271.6h0M144.2 277.9h0M177.2 309.5h0M66.9 277.6h0M74.1 284.2h0M63.1 307.7h0M144.5 274.6h0M125.9 327h0M152.1 287.4h0M167.4 308.5h0M147.8 273.7h0M155.3 279.3h0M59.5 284.2h0M154.9 278.9h0M134.5 342h0M67.4 306.3h0M140.3 276.6h0M143.2 277.8h0M110.5 296h0M130.4 278.8h0M61.4 288.3h0M57.3 307h0M142.9 269.3h0M149.8 278.2h0M164.9 302.2h0M73.6 286.8h0" stroke="#e8392c" stroke-opacity="0.58" stroke-width="2.2" stroke-linecap="round" fill="none"/>
<path d="M129 294.5h0M69.7 281.1h0M124.9 271.9h0M66.1 301.4h0M150.3 316.8h0M57.3 278.6h0M127.8 274.1h0M70.7 284.7h0M153.6 277.2h0M179.9 300.3h0M185.1 270.1h0M121.2 287.6h0M111.7 292.3h0M115.9 277.7h0M148.2 272.1h0M156.5 301.2h0M167.4 275h0M98.3 271.4h0M152.3 271.5h0M197.5 273.4h0M114.7 272.5h0M154.5 281.1h0M187.6 286.5h0M136.4 276.8h0M138.8 322.8h0M132 292.2h0M167.8 288.4h0M103 269.1h0M58.4 276.8h0M85.6 283.7h0M214.8 278.7h0M64.9 283.8h0M209.6 353.2h0M98 271.2h0M119.5 305.6h0M110.8 275.4h0M75.3 274.8h0M125.2 274.6h0M73.8 294.1h0M69.7 278.8h0M64.5 300.6h0M60.9 300h0M174.7 273.6h0M147.7 280.6h0M168.2 268.7h0M107.1 289.5h0M154.7 280.5h0M96.2 280h0M55.1 276.1h0M148.9 278.7h0M75 300.9h0M111.1 313.9h0M96.1 282.6h0M109.5 293h0M117.5 276h0M151.8 268.4h0M69.5 278.8h0M110.4 279.5h0M175.5 337.7h0M128.3 312.7h0M132.7 279.8h0M212.8 274.2h0M55 278h0M141.6 276.6h0M162 292.6h0M61 280.3h0M74 280.4h0M173.5 285.6h0M69.8 281.8h0M68.4 273.7h0M64.8 283.3h0M188.9 270.5h0M215.4 274h0M215.6 311.8h0M137.3 284.4h0M156.5 283.5h0M71.1 275.2h0M99.6 285.3h0M104.6 274.6h0M201.5 307.6h0M157 276.2h0M187.9 284.5h0M141.9 278.7h0M89.3 286.2h0M68.1 301.7h0M128.3 269.6h0M121.3 275.6h0M117.8 281.1h0M118.7 279h0M143.7 274.8h0M190.6 271.3h0M163.1 274.2h0M147.4 299.3h0M143.9 276.4h0M184.2 314.2h0M135.8 272.2h0M117 270.1h0M146.7 307.4h0M138.3 272.5h0M145 274h0M106.5 278.5h0M125.2 276.5h0M198.6 306.4h0M150.1 309.4h0M200.5 270.9h0M143.6 270.6h0M73.9 284.7h0M166.1 307.9h0M198.4 296.2h0M126.4 270.1h0M190.7 286.9h0M202.4 297h0M64 276.8h0M148.6 274.2h0M146.5 274.8h0M100.3 320.6h0M209.8 274.2h0M192.4 273.9h0M62.7 285h0M72.1 319.3h0M148.6 282h0M193.6 271.9h0M198.1 278.6h0M157.6 273.4h0M55 297h0M138.1 283.6h0M201.8 282.4h0M139.5 274.1h0M130.7 314h0M192.6 285.9h0M97 272.6h0M136.6 315.9h0M208.8 319.7h0M93.2 274h0M166 324.5h0M139.9 270.8h0M187.1 318.9h0M76.9 289.4h0M174.6 296.9h0M104.1 286.4h0M134.3 286h0M154.9 315.9h0M155.2 275.2h0M105.7 269.8h0M76.3 296.2h0M158.6 274.7h0M217.3 273.7h0M91.3 277.7h0M137.5 281.2h0M132.4 286.7h0M118.6 294.8h0M150.4 269.6h0M76 284.2h0M123.7 285.8h0M132.2 329.8h0M99.7 272.2h0M117.5 278.6h0M105.3 282.2h0M151.3 279.2h0M125.5 280.2h0M121.8 283.1h0M123.9 271.7h0M118.3 301.6h0M184.2 271.5h0M131.7 309.6h0M113 279.5h0M217.2 277.6h0M174.6 303.7h0M134.1 278.1h0M215.2 307.8h0M180.7 301.3h0M58 279.7h0M149.9 291.5h0M68.5 277.7h0M176.1 353.1h0M153.2 273.2h0M70.5 301.9h0M136.3 303.7h0M111.4 280.8h0M152.9 289.8h0M64.5 277.2h0M62.9 280h0M110.5 284.2h0M139.4 275.2h0M156.3 294.4h0M156.1 320.6h0M98.3 278.1h0M67.4 290.6h0M156.3 281.7h0M67.6 293.5h0M134 300.7h0M103.3 290h0M167.5 273.2h0M68.2 288.9h0M74.3 306.7h0M119.3 274.3h0M130.6 274.5h0M187.6 291.4h0M155.7 315.2h0M139.1 277.8h0M63.6 278.3h0M71.1 286h0M127.3 266.5h0M205.2 268.6h0M125.5 272.6h0M113.4 272.7h0M80.6 316.2h0M161 285.7h0M141.8 297.7h0M152.9 282.5h0M93.7 271.3h0M134 282.8h0M195 280.2h0M215.2 359.9h0M218.2 276.7h0M95.5 276.6h0M155.7 280h0M66.8 277.4h0M117 274h0M126.6 277.7h0M105.5 269.3h0M211.5 280.5h0M121.7 276.4h0M91.1 274.8h0M65.7 289.4h0M61.8 327.5h0M125 293.8h0M213.9 294.2h0M137.4 278h0M148.3 273.4h0M110.1 271.3h0M164.7 271.1h0M65.2 273.6h0M133.3 313.3h0M125.2 271.6h0M134.8 276.4h0M208.3 303h0" stroke="#e8392c" stroke-opacity="0.58" stroke-width="2.2" stroke-linecap="round" fill="none"/>
<path d="M131.8 282.3h0M99.9 272h0M86.9 310.5h0M63.5 280.8h0M186.1 278.8h0M60.3 285.8h0M123.1 332.1h0M230.5 291.4h0M111.9 273.2h0M141.9 273.4h0M122.4 307.5h0M102.1 280.2h0M129.8 284.2h0M90.2 320.2h0M94.5 283.2h0M145.8 306.2h0M125.6 298.1h0M102 311.2h0M193.9 307.1h0M68.1 276.9h0M73.8 274.9h0M155.2 282.9h0M135.5 276.8h0M147.5 274.3h0M61.5 286.1h0M141.9 291h0M137.6 270.4h0M174.7 294.1h0M148 308.9h0M60.3 307.8h0M156.8 278.8h0M169.7 304.9h0M175.4 284.8h0M180.9 277.3h0M129.2 275.3h0M63.6 309.9h0M94.2 326.2h0M65.3 283h0M99.1 280.9h0M205.9 342.1h0M160.3 275.3h0M107.4 274.1h0M162.1 295h0M152.4 291.4h0M96.7 272.3h0M76.7 280.3h0M122.4 275.1h0M69.9 308.5h0M108.2 273.6h0M190.9 317.6h0M104.5 298h0M169.3 330.8h0M64.2 295.4h0M207.1 272.6h0M153.1 280.4h0M191.8 267.2h0M68.4 275.6h0M125.8 284.4h0M97.9 270.2h0M130.6 286.9h0M132.2 269.3h0M120.6 290.8h0M128.9 276h0M86.1 273.3h0M97.8 274.3h0M205.4 279h0M107.4 285.4h0M72.6 272.6h0M144.8 287.8h0M74 291h0M90.2 284.6h0M167.7 300.3h0M212.9 292.2h0M74.3 291.1h0M196.2 279.7h0M119.7 273h0M92.2 276.9h0M114.5 278.6h0M122.6 271.9h0M143.8 271.7h0M143.4 278.7h0M75.8 275.6h0M173 287.3h0M134.1 270.5h0M212.6 294.5h0M129.2 288.7h0M119.2 279.5h0M74.8 343.9h0M199.7 367.5h0M96.4 289.1h0M117.9 274.4h0M63.2 295.3h0M102.9 269.9h0M204.8 280.9h0M104 271.8h0M179.2 275.9h0M208.4 282.8h0M109.3 277.8h0M58.7 292.9h0M61.4 273.9h0M106.9 272.9h0M127.9 274.6h0M141.2 279.1h0M106.1 275.3h0M117.9 274.5h0M55.3 292.3h0M63.3 310.3h0M87.8 274.6h0M66.8 291.7h0M141.9 293.7h0M194.3 278.2h0M200.2 291.2h0M153.3 283.2h0M60.3 284.4h0M108 273.2h0M132.4 320.3h0M67.4 276.1h0M56.9 290h0M86 276.6h0M87.3 300.5h0M120 274.4h0M151 275.8h0M195.1 291.2h0M68.3 273.5h0M72.6 300.2h0M129.6 277.3h0M148.1 278.4h0M134.1 287.6h0M136 285.3h0M76.2 280h0M195.9 286.3h0M175.9 272h0M133 279.6h0M133.8 323.6h0M196.8 326.7h0M214.9 311.5h0M75 279.6h0M119.7 279.5h0M156.8 281.5h0M144.9 298.1h0M132.3 275.2h0M177.6 290.7h0M67.5 297.8h0M149.9 298.4h0M125.3 297h0M97.7 278.2h0M106.8 272.8h0M123.8 272.5h0M143.9 274.4h0M71.5 279.9h0M72 276.3h0M122.3 286.5h0M123.2 275.2h0M69.2 298.8h0M122 298.7h0M150 274.7h0M165.3 272.9h0M132.4 276h0M144.9 278h0M136.4 267.1h0M86.1 273.8h0M166.2 271.6h0M130 283.1h0M134.4 277.8h0M93.2 273.7h0M150.9 274.1h0M62.5 278.5h0M156.6 270h0M158.5 326.8h0M124.4 272.1h0M178.5 282h0M145.1 297h0M59.9 274.7h0M120.7 280.9h0M121.8 274.1h0M120.6 270.9h0M102.5 305.4h0M192.2 279.6h0M145.3 272.7h0M94.5 329.8h0M63.3 285.7h0M144.8 339.1h0M55.2 287.5h0M149.4 287.7h0M67 304.1h0M70.8 297.4h0M153.4 282.1h0M144.8 273.7h0M151.7 283.2h0M154.7 318.8h0M141.1 304.8h0M72.4 287.7h0M73 282.7h0M72 317.3h0M134 278.1h0M71.1 275.9h0M130.5 277.8h0M150.8 291.2h0M145 272.4h0M173.9 301.7h0M141.9 324.9h0M63.5 282h0M78.4 275.7h0M196.8 300.2h0M154.8 280.9h0M99.2 282.5h0M136 285.8h0M103.8 278.8h0M170.8 282h0M184 275.7h0M166.1 272.9h0M169.5 291.8h0M130.8 268.9h0M57.3 273.5h0M206.1 290.2h0M174.1 275.9h0M119 271.5h0M196.3 271.6h0M123.8 272.3h0M136.7 271.7h0M127.2 268h0M192.1 307.5h0M148.5 277.5h0M114.6 282.7h0M133 295.8h0M181.7 282.4h0M135.2 276.9h0M111.4 270.1h0M70.6 275.8h0" stroke="#e8392c" stroke-opacity="0.58" stroke-width="2.2" stroke-linecap="round" fill="none"/>
<path d="M124.8 332h0M64.7 301.5h0M96.3 277.4h0M66.9 284h0M91.5 270.5h0M172.9 371.9h0M153.6 272.2h0M186.3 303.5h0M230.5 283.8h0M140.6 293.2h0M69.5 285.6h0M155.6 300.9h0M108 329.1h0M137.6 290.8h0M152.1 277.4h0M132.1 279.9h0M140.1 294.2h0M167.1 273.3h0M191.2 273h0M128.4 310.6h0M113.1 268.9h0M102.8 274.9h0M97.6 274.4h0M200.3 294.8h0M143.7 273h0M156 282.6h0M61 275.2h0M76.1 293.3h0M96.8 278.4h0M148.8 282.1h0M147.3 284.7h0M105.1 272.1h0M103.6 276.2h0M207.1 273h0M136.6 270h0M56 276.1h0M76.3 276.9h0M64.2 274.3h0M139.8 279.9h0M143.4 272.1h0M174.1 281.9h0M124.9 286.2h0M60.9 298.6h0M104.7 272.3h0M177.1 312.2h0M132.6 270.4h0M97.6 285.3h0M127.9 286.5h0M106.8 273.8h0M122.4 279h0M74.2 321.4h0M151.5 275.1h0M183.5 283.5h0M140.4 277.9h0M92.7 280.6h0M60.4 288.2h0M168.3 288.1h0M230.5 318.4h0M106.7 329.8h0M118 288.2h0M139.7 273.2h0M132.9 274.7h0M60.4 277.9h0M102.9 271.2h0M101.9 282.2h0M146.6 271h0M182.6 273.7h0M72.7 301.3h0M125 284.3h0M132.8 278.6h0M106.9 275.4h0M167.3 340.6h0M140.2 283.9h0M70.6 273.8h0M154.2 282.5h0M65.8 283.6h0M73.3 301.1h0M55.4 328.9h0M61 289.1h0M188.9 319.6h0M230.5 340h0M168.8 271.2h0M156.3 290.2h0M175.7 299.2h0M102.1 271h0M166.5 339.9h0M134.1 275.4h0M218 367.8h0M148.7 272.4h0M112.1 277.9h0M151.9 286.8h0M156.4 275.2h0M57.6 293.8h0M174.1 276.5h0M102.5 273.9h0M127.7 270h0M117.5 275.2h0M148.2 306.9h0M112.5 290.2h0M97.7 297.7h0M63.7 286h0M76.7 279.6h0M148.5 272.5h0M215.3 286h0M139 281.3h0M126.6 281.7h0M146.8 342.7h0M145.1 283.5h0M109.9 279.2h0M131.9 309.9h0M59.2 316.8h0M93 274.9h0M191.8 274.1h0M141.6 344.6h0M113.6 272.2h0M73.3 285.8h0M135.9 302.3h0M61.6 304.5h0M90.4 277h0M107.1 320.4h0M99.9 298.8h0M199.7 297.6h0M101.3 269.9h0M95.4 286.8h0M200.5 267.1h0M135.7 274.6h0M156 277.9h0M96.5 270.2h0M75 278.8h0M153.3 273.5h0M216.4 271.9h0M186.6 341.5h0M144.8 270.6h0M61.9 270.1h0M163.5 359.4h0M90.8 272.8h0M121.4 327h0M132 282.2h0M111.8 279.6h0M105 277.2h0M143.3 279.8h0M156.2 322.4h0M101.3 273h0M73.3 292.7h0M154.9 275.2h0M146.9 283.4h0M173.6 281.4h0M60 328.6h0M129.5 273.3h0M113.5 283.2h0M133.2 337.4h0M153.2 291.9h0M162.9 274.9h0M113 302.6h0M67.5 316.2h0M65.8 283.3h0M109.4 290.6h0M204.3 273.5h0M202.2 323.3h0M115 281.9h0M107.8 273.5h0M207.5 281h0M136 341.5h0M127.9 333.3h0M153.7 279.2h0M70.8 308.4h0M168.2 273.8h0M103.6 323.2h0M155.9 279.7h0M73.8 275.6h0M134.4 286.2h0M192.2 291.9h0M140.9 279h0M132.3 276.5h0M150.5 278h0M198.7 306.1h0M138.3 269.9h0M134.5 270.6h0M214.7 312.4h0M70.4 317.4h0M166.8 274.4h0M113.1 277.8h0M74.5 275.7h0M98.3 283h0M105.6 284.3h0M56.1 274.5h0M213.1 276.1h0M116 281.8h0M141.3 276.6h0M55.2 287.5h0M122.5 273.5h0M174.2 365.2h0M118.6 311.9h0M156.9 303h0M76.1 277.9h0M63.7 280.6h0M60 285.6h0M205 286.1h0M135 274h0M84.2 291.6h0M120.3 282.1h0M162.2 298.7h0M124.9 277.6h0M97.4 273.6h0M153.5 291.8h0M219.9 271.5h0M140.6 276h0M152 273.9h0M66.9 304.5h0M61.5 280.8h0M91.5 272.8h0M118.7 291.1h0M199.5 273.5h0M59.6 275.7h0M213.2 271.8h0M60.8 279.3h0M145.7 275.9h0M206 286.9h0M69.5 284.6h0M152.7 273.7h0M136.3 294h0" stroke="#e8392c" stroke-opacity="0.58" stroke-width="2.2" stroke-linecap="round" fill="none"/>
<path d="M211.2 300h0M111.9 277h0M98.9 281.7h0M87.6 290.7h0M117.9 279.3h0M170.8 284.2h0M218.6 282.7h0M162.1 289.5h0M61.3 275.3h0M62.3 282.4h0M59.8 299.8h0M116.5 272.6h0M203.5 272.8h0M73.8 278.3h0M85.8 283.7h0M89.1 283.6h0M102.4 273.8h0M93.2 274.2h0M61.3 276.4h0M60 290.8h0M73.7 286.1h0M148.3 282.9h0M167 276.5h0M132.3 279h0M133.7 337.2h0M220 359.3h0M216.2 318.9h0M57.3 274.5h0M175.7 274.8h0M110.3 278.1h0M184.8 289h0M95.4 276.3h0M146.8 274.2h0M179.1 281.8h0M202.8 297.5h0M213.6 312.9h0M133.5 309.1h0M134.2 284.8h0M191.3 275.5h0M191.3 274.7h0M137.8 274.3h0M124.9 276.5h0M98.9 271.7h0M178.6 283.9h0M61.1 275.3h0M148.9 296.6h0M118.4 281.1h0M120.6 278.8h0M150.3 272.7h0M230.5 318.4h0M131.4 280.9h0M199.8 340.3h0M121.7 336.9h0M113.3 277.1h0M54.8 284.7h0M216.9 366.9h0M178.8 280.2h0M119.9 279h0M113.8 287.3h0M108 326.7h0M151.1 273.8h0M151.4 279.2h0M95 272.6h0M107.9 281.2h0M186.1 284.5h0M71.6 276.3h0M136.3 272.1h0M107 285.2h0M136.1 283.8h0M68.1 286.9h0M144.7 281.2h0M209.2 280.1h0M195.4 273.3h0M154.6 275.2h0M143.8 275.3h0M60.2 294.9h0M123.4 315h0M151.3 275.7h0M143.1 288.2h0M206.6 274h0M219.3 282.7h0M142.1 277.2h0M58.6 275h0M167.3 275h0M122.4 282.9h0M92.9 279h0M132 288.7h0M128.5 282.6h0M110 277h0M67.4 282.5h0M163.8 272.8h0M135.2 279.2h0M104.9 282.9h0M110.9 288h0M98.7 279.4h0M145.4 271.7h0M101.4 286.3h0M141.4 334.3h0M189.3 282.8h0M131.6 286.1h0M128.9 283.2h0M63.8 289h0M204.6 303.1h0M132.2 289.4h0M182.8 270.1h0M220.4 268.8h0M178.6 330.1h0M127.3 286.2h0M152.4 269.3h0M165.9 354.3h0M118.9 316.2h0M143.6 274.4h0M62 276.1h0M135.6 288.2h0M141.3 279.1h0M183.8 290h0M159.7 369.1h0M138.6 279.6h0M95.9 270.5h0M149 274.3h0M82.7 274.5h0M86.8 306.2h0M104.5 287.4h0M105.8 270.4h0M107.6 273.8h0M59 281h0M174.8 276.9h0M103.1 279.2h0M153.3 286.1h0M117.5 286.6h0M122.4 269.2h0M54.5 281.6h0M66.6 286h0M170.4 331.7h0M108.7 269.8h0M148.6 276h0M115.2 300.3h0M69.4 281.5h0M192.1 296.2h0M97.4 269.1h0M168.8 286.5h0M120.3 340.4h0M182.2 272.2h0M137.6 275h0M131.8 270.6h0M178.5 331.8h0M154.4 288.4h0M140.1 281.7h0M72.6 281.5h0M121.8 272.6h0M136.6 273.2h0M131.6 275.9h0M127.7 272h0M103.6 288.2h0M159.3 281.5h0M115.6 272.3h0M129.7 294.8h0M67.2 274.1h0M128.9 276.6h0M110.1 279.7h0M186.3 300.4h0M106.5 272.7h0M70.2 306.5h0M85.9 272.6h0M196.2 273.3h0M116.7 325.6h0M182.3 339.2h0M165.6 277.7h0M180.5 298.3h0M98.4 314.1h0M75.7 312.1h0M72.5 281.4h0M129.8 308.9h0M119.3 274.2h0M134.9 280.4h0M185 296.1h0M149.7 295.4h0M102.8 272h0M85.1 275.1h0M104.7 278.6h0M118.3 283h0M108.3 294.4h0M145.4 271.7h0M209.3 271.8h0M112.8 282.3h0M153.7 304.2h0M205.4 281.6h0M129.5 277.9h0M129.4 283.9h0M124.1 301h0M145.3 275.3h0M104.3 276.6h0M60.7 274.1h0M130 314.6h0M55 294.3h0M100 268.7h0M145.1 297.7h0M168.9 274h0M164.5 284.2h0M122.7 281.8h0M127.7 289.2h0M125.1 270h0M136.1 278.7h0M144.8 298.2h0M108.1 270.1h0M96.3 287.2h0M105.7 277h0M112.7 289.5h0" stroke="#e8392c" stroke-opacity="0.58" stroke-width="2.2" stroke-linecap="round" fill="none"/>
<path d="M52 288.1L53.5 287.6L55 287.2L56.5 286.7L58 286.3L59.5 285.9L61 285.5L62.5 285.1L64 284.8L65.5 284.4L67 284.1L68.5 283.7L70 283.4L71.5 283.1L73 282.8L74.5 282.6L76 282.3L77.5 282L79 281.8L80.5 281.6L82.1 281.4L83.6 281.2L85.1 281L86.6 280.8L88.1 280.7L89.6 280.5L91.1 280.4L92.6 280.3L94.1 280.2L95.6 280.1L97.1 280L98.6 279.9L100.1 279.8L101.6 279.8L103.1 279.7L104.6 279.7L106.1 279.7L107.6 279.7L109.1 279.7L110.6 279.7L112.1 279.7L113.6 279.7L115.1 279.8L116.6 279.8L118.1 279.9L119.6 280L121.1 280L122.6 280.1L124.1 280.2L125.6 280.3L127.1 280.5L128.6 280.6L130.1 280.7L131.6 280.9L133.1 281.1L134.6 281.2L136.1 281.4L137.6 281.6L139.1 281.8L140.6 282L142.2 282.2L143.7 282.4L145.2 282.6L146.7 282.9L148.2 283.1L149.7 283.4L151.2 283.6L152.7 283.9L154.2 284.2L155.7 284.5L157.2 284.8L158.7 285L160.2 285.4L161.7 285.7L163.2 286L164.7 286.3L166.2 286.6L167.7 287L169.2 287.3L170.7 287.7L172.2 288L173.7 288.4L175.2 288.8L176.7 289.2L178.2 289.5L179.7 289.9L181.2 290.3L182.7 290.7L184.2 291.1L185.7 291.6L187.2 292L188.7 292.4L190.2 292.8L191.7 293.3L193.2 293.7L194.7 294.1L196.2 294.6L197.7 295L199.2 295.5L200.7 296L202.3 296.4L203.8 296.9L205.3 297.4L206.8 297.8L208.3 298.3L209.8 298.8L211.3 299.3L212.8 299.8L214.3 300.3L215.8 300.8L217.3 301.3L218.8 301.8L220.3 302.3L221.8 302.8L223.3 303.3L224.8 303.9L226.3 304.4L227.8 304.9L229.3 305.4L230.8 306L230.8 309.2L229.3 308.6L227.8 308.1L226.3 307.6L224.8 307.1L223.3 306.5L221.8 306L220.3 305.5L218.8 305L217.3 304.5L215.8 304L214.3 303.5L212.8 303L211.3 302.5L209.8 302L208.3 301.5L206.8 301L205.3 300.6L203.8 300.1L202.3 299.6L200.7 299.2L199.2 298.7L197.7 298.2L196.2 297.8L194.7 297.3L193.2 296.9L191.7 296.5L190.2 296L188.7 295.6L187.2 295.2L185.7 294.8L184.2 294.3L182.7 293.9L181.2 293.5L179.7 293.1L178.2 292.7L176.7 292.4L175.2 292L173.7 291.6L172.2 291.2L170.7 290.9L169.2 290.5L167.7 290.2L166.2 289.8L164.7 289.5L163.2 289.2L161.7 288.9L160.2 288.6L158.7 288.2L157.2 288L155.7 287.7L154.2 287.4L152.7 287.1L151.2 286.8L149.7 286.6L148.2 286.3L146.7 286.1L145.2 285.8L143.7 285.6L142.2 285.4L140.6 285.2L139.1 285L137.6 284.8L136.1 284.6L134.6 284.4L133.1 284.3L131.6 284.1L130.1 283.9L128.6 283.8L127.1 283.7L125.6 283.5L124.1 283.4L122.6 283.3L121.1 283.2L119.6 283.2L118.1 283.1L116.6 283L115.1 283L113.6 282.9L112.1 282.9L110.6 282.9L109.1 282.9L107.6 282.9L106.1 282.9L104.6 282.9L103.1 282.9L101.6 283L100.1 283L98.6 283.1L97.1 283.2L95.6 283.3L94.1 283.4L92.6 283.5L91.1 283.6L89.6 283.7L88.1 283.9L86.6 284L85.1 284.2L83.6 284.4L82.1 284.6L80.5 284.8L79 285L77.5 285.2L76 285.5L74.5 285.8L73 286L71.5 286.3L70 286.6L68.5 286.9L67 287.3L65.5 287.6L64 288L62.5 288.3L61 288.7L59.5 289.1L58 289.5L56.5 289.9L55 290.4L53.5 290.8L52 291.3Z" fill="#999" fill-opacity="0.45"/>
<path d="M52 289.7L53.5 289.2L55 288.8L56.5 288.3L58 287.9L59.5 287.5L61 287.1L62.5 286.7L64 286.4L65.5 286L67 285.7L68.5 285.3L70 285L71.5 284.7L73 284.4L74.5 284.2L76 283.9L77.5 283.6L79 283.4L80.5 283.2L82.1 283L83.6 282.8L85.1 282.6L86.6 282.4L88.1 282.3L89.6 282.1L91.1 282L92.6 281.9L94.1 281.8L95.6 281.7L97.1 281.6L98.6 281.5L100.1 281.4L101.6 281.4L103.1 281.3L104.6 281.3L106.1 281.3L107.6 281.3L109.1 281.3L110.6 281.3L112.1 281.3L113.6 281.3L115.1 281.4L116.6 281.4L118.1 281.5L119.6 281.6L121.1 281.6L122.6 281.7L124.1 281.8L125.6 281.9L127.1 282.1L128.6 282.2L130.1 282.3L131.6 282.5L133.1 282.7L134.6 282.8L136.1 283L137.6 283.2L139.1 283.4L140.6 283.6L142.2 283.8L143.7 284L145.2 284.2L146.7 284.5L148.2 284.7L149.7 285L151.2 285.2L152.7 285.5L154.2 285.8L155.7 286.1L157.2 286.4L158.7 286.6L160.2 287L161.7 287.3L163.2 287.6L164.7 287.9L166.2 288.2L167.7 288.6L169.2 288.9L170.7 289.3L172.2 289.6L173.7 290L175.2 290.4L176.7 290.8L178.2 291.1L179.7 291.5L181.2 291.9L182.7 292.3L184.2 292.7L185.7 293.2L187.2 293.6L188.7 294L190.2 294.4L191.7 294.9L193.2 295.3L194.7 295.7L196.2 296.2L197.7 296.6L199.2 297.1L200.7 297.6L202.3 298L203.8 298.5L205.3 299L206.8 299.4L208.3 299.9L209.8 300.4L211.3 300.9L212.8 301.4L214.3 301.9L215.8 302.4L217.3 302.9L218.8 303.4L220.3 303.9L221.8 304.4L223.3 304.9L224.8 305.5L226.3 306L227.8 306.5L229.3 307L230.8 307.6" stroke="#111" stroke-width="1.6" fill="none" stroke-linejoin="round" />
<path d="M305.1 274.7h0M276.7 278.4h0M341.4 273.7h0M350.1 277.7h0M298.6 271.9h0M287.6 287.7h0M346.6 287.7h0M287.3 302.5h0M261.1 278h0M306.9 285.2h0M261.2 272.6h0M380.1 372.6h0M371.3 359.9h0M294.8 272.3h0M408.9 318.6h0M350 286.2h0M391.6 365.1h0M323.9 280.9h0M339.1 280.9h0M390.4 344.3h0M348.1 288.2h0M346.5 285.5h0M333.6 279.4h0M375.2 366.3h0M406.7 345.1h0M352.9 293.5h0M335.8 299.5h0M354.5 276.8h0M274.2 276.5h0M265.5 271.8h0M261.3 282h0M332.2 292.6h0M304.3 292.7h0M337.4 277.6h0M417.2 340.8h0M326.9 324.8h0M299 276.7h0M309.4 276.5h0M353 297.6h0M326.8 274.7h0M325.2 275h0M325.1 278.1h0M405.2 319.8h0M348.2 296.2h0M374.5 315.7h0M356.9 289.1h0M276.9 278.1h0M336.1 295.5h0M351.7 290.2h0M269.6 291.4h0M386.8 350.2h0M275.3 275.7h0M342.8 285h0M308.1 271.6h0M356.1 279.6h0M393.9 375h0M335.5 288.1h0M408.9 347.8h0M354.3 274.5h0M320.7 276.3h0M343.5 273h0M296.1 277.3h0M260.4 292.9h0M314.2 278.3h0M402 341.7h0M384.6 321.4h0M302.9 279.2h0M390.1 308h0M271.4 276.7h0M400.9 361.6h0M373.9 304.5h0M331.9 271.4h0M413.5 319.1h0M276.2 281.8h0M270.3 288.1h0M356.6 289h0M338.1 281.5h0M382.7 303.9h0M323.1 279.4h0M361.1 363h0M367.3 330h0M296.8 287h0M273.3 283.5h0M262.8 282.2h0M359.8 283.7h0M337.8 310.3h0M329.5 295.2h0M343.7 310.5h0M266.2 280.2h0M399.7 365.1h0M265.5 282.6h0M322.3 284.5h0M260.2 275.9h0M295.2 277.6h0M336.5 282h0M377 302.7h0M271.7 302.1h0M330 285.1h0M371 293.4h0M409.1 346.7h0M272.3 297.6h0M352.9 287.7h0M340.3 281.7h0M326.5 319.7h0M320.6 273.1h0M399.4 347.2h0M408.8 347h0M355 281.1h0M257.5 287.6h0M356.1 275.1h0M388.3 344.1h0M272.6 274.2h0M265.2 276.3h0M261.3 273h0M369.1 290.5h0M353.5 275.5h0M296.6 274.1h0M364 308.3h0M308 275.3h0M325 283h0M268.7 274.7h0M330.8 293.6h0M391.2 324.7h0M299.7 281.3h0M372.3 326.1h0M269.9 277.4h0M379.4 303h0M319.7 282.9h0M348.8 282.6h0M270.7 283.1h0M321.3 280.8h0M310.2 282.8h0M338.9 291.5h0M275.7 277.6h0M348.9 277.3h0M367.7 347h0M300.5 271.4h0M328.2 288.3h0M304.9 276.1h0M271.5 303.9h0M269.4 291.9h0M303.8 275.9h0M308.5 278.9h0M316.7 270.9h0M371.3 355.6h0M352.9 284.2h0M301.1 282h0M410 365.5h0M322.8 275.2h0M356 296.3h0M342.7 288.7h0M394.8 288.6h0M397.3 343.7h0M368.6 310.6h0M397.2 331.6h0M276.8 295.8h0M367 279h0M311.4 273.9h0M299.8 280h0M400.4 331.2h0M274.2 274.1h0M336 283.7h0M404.8 304.8h0M319.7 278h0M262.5 274.1h0M303 286.2h0M274 318h0M268.9 284.4h0M330.3 279.5h0M350.3 274.3h0M344.9 281.8h0M311.3 291.7h0M330.6 295.8h0M307.5 309.4h0M266.8 281.4h0M348.2 322.6h0M317.7 273.4h0M294.2 278.7h0M298.7 277.1h0M385.7 342.5h0M334.4 301.6h0M269 307.5h0M351.2 284.7h0M270 313h0M264.5 276.5h0M335.8 271.5h0M352 278.3h0M329.5 276.5h0M258.1 280.1h0M257.9 286.3h0M408.5 347.7h0M401 359.1h0M373.1 298h0M386.7 327.3h0M324.7 274.1h0M343.3 286.3h0M297 280.7h0M372.6 329.7h0M405.2 325.1h0M391 319h0M334.1 284.8h0M342 289.5h0M317.8 295.4h0M323 288h0M337.5 285.8h0M349.9 285.2h0M337.8 276.3h0M294.3 275.8h0M309.3 270.3h0M354.3 296.7h0M408.2 317.4h0M263 274.9h0M268 279.9h0M331.7 271.6h0M278.6 277.7h0M258.2 283.9h0M262 347.3h0M320.8 282.1h0" stroke="#3f8f2f" stroke-opacity="0.52" stroke-width="2.2" stroke-linecap="round" fill="none"/>
<path d="M368.3 318.1h0M338.2 288.1h0M379.5 305.7h0M338 289.3h0M263.9 290.6h0M271 273.3h0M344.8 323.8h0M335.9 279.7h0M324.4 275.5h0M306.4 278.8h0M260.6 275.3h0M274.4 279.5h0M337.6 303.9h0M317.6 273.8h0M343.6 303.2h0M341.5 276h0M266.3 292.1h0M265 292.6h0M378.4 328.2h0M292.9 271.7h0M333.4 271.5h0M413 369.8h0M395.9 349.9h0M301.7 270.3h0M318.2 279.2h0M345.2 314.2h0M310.9 281.5h0M368.7 331.8h0M361.9 289.1h0M269.3 330h0M262.2 279.5h0M260.4 273.2h0M312.7 281h0M272.2 276.9h0M302.8 279h0M348.5 294.1h0M382 353.6h0M385.8 318.4h0M407.9 343.5h0M346.7 298.3h0M354.8 278.3h0M365.3 307.1h0M345.3 295.5h0M255 283.2h0M320.4 276.2h0M383.4 316.2h0M327.8 277.1h0M322.3 282.7h0M381.3 318.1h0M325.1 288.8h0M337.5 297.9h0M351.7 283.8h0M287 277.6h0M333.3 291.8h0M282.1 335h0M329 288h0M276.6 318.2h0M255.7 275.5h0M263.3 282.4h0M274.2 277.4h0M345.3 294.3h0M271.4 274.7h0M258 269.6h0M395.4 337.1h0M334.3 283.9h0M384.2 339.4h0M265.6 332.3h0M388.8 316h0M266.3 295.4h0M259 275.6h0M334.2 338.2h0M299.8 272.4h0M337.9 287.3h0M340.4 296.9h0M275.8 323.3h0M284 289.4h0M309.2 272.8h0M353.4 310.8h0M349.9 325.7h0M343.1 290.3h0M264.7 293.5h0M276.9 270h0M332.4 283.9h0M320.2 286.1h0M311.5 279.3h0M337.8 281.5h0M303.4 273.2h0M358.2 301.8h0M384 338h0M306.7 273.4h0M315.9 276.6h0M299.1 271.2h0M323 276.2h0M370.7 322.3h0M276.2 276.8h0M308.3 269.7h0M411.9 367.5h0M293.9 278.1h0M292.7 280h0M334.6 283.3h0M260.4 279.7h0M311.1 280.5h0M314.6 278.6h0M344.7 289.5h0M274.7 284.3h0M341.4 294.1h0M285.2 288.3h0M415.5 332.7h0M346.1 292.2h0M295.2 280.9h0M300.1 271.1h0M293.3 273.3h0M295.6 280h0M335.6 284.1h0M312.4 282.4h0M351.5 279.3h0M294.4 291.1h0M271.6 277.2h0M347 288.1h0M298.3 283.4h0M317.2 274.4h0M265.7 269.9h0M299 279.2h0M305.5 278.9h0M345.1 316h0M325.8 294.4h0M257.4 276h0M366 301.3h0M332.7 277h0M319.4 273.4h0M384 319.8h0M302.6 285.3h0M316.2 300.1h0M336.7 287.8h0M368.9 304.5h0M314.3 274.5h0M327.1 276h0M347.1 278h0M258.6 278.7h0M297 275.1h0M348.6 290.6h0M324.7 282.9h0M307.1 340.1h0M271.6 284.9h0M260.2 283h0M408.3 346.8h0M365.8 304.9h0M319 292.7h0M312.5 275.4h0M418.9 336.1h0M386.8 300.6h0M357.5 327.3h0M341.8 297.1h0M400.4 362.5h0M341.8 285h0M303.1 275.5h0M297.7 305.8h0M320.8 280h0M375.5 312.6h0M310.6 272.6h0M306.9 275.9h0M264.7 288.1h0M321.6 278.7h0M354.4 276h0M271.7 274.1h0M348 278.6h0M302 271.9h0M298.9 285.2h0M311.8 273.4h0M257.6 274.2h0M411.6 338.2h0M319.1 274.8h0M266.7 285.5h0M396.5 360.7h0M412.4 331.5h0M371.6 363.5h0M287.4 280.7h0M306.4 279.4h0M341.4 288.9h0M338.6 299.2h0M304.8 277.8h0M368 292.1h0M310.7 278.5h0M289.8 299.2h0M262 287.1h0M343.2 308h0M336.7 280.8h0M345.1 290.2h0M315 284.6h0M330.1 330.5h0M261.9 274.4h0M341.9 298.8h0M304.9 279.5h0M307.2 277.9h0M388.4 344.8h0M276.2 290.8h0M402.3 329.9h0M277.1 290h0M298.4 269.5h0M371.1 327.9h0M327.4 269.2h0M328.7 286.7h0M265.4 283.7h0M385.7 318.6h0M359.1 327.9h0M327.2 273.9h0M318 275.2h0M341.5 298.2h0" stroke="#3f8f2f" stroke-opacity="0.52" stroke-width="2.2" stroke-linecap="round" fill="none"/>
<path d="M346.9 304.1h0M337.5 276.4h0M256.4 356.2h0M338.1 297.7h0M308.8 281.9h0M346.6 292.1h0M345.2 275.3h0M340.2 311.1h0M324.2 292.3h0M347.7 295.9h0M369.4 358.4h0M318.2 275.7h0M320.6 276.4h0M297.6 270.1h0M332.4 307.6h0M414.7 367.3h0M348.5 275.8h0M338.1 272.6h0M350.9 284.7h0M392.1 302h0M322.9 277.1h0M298.1 280.6h0M280.9 274.8h0M400 362.8h0M284.6 282.6h0M352.4 284.5h0M260.5 289.6h0M430.5 330.8h0M387.2 359.2h0M269.1 274.6h0M308.8 279.6h0M304.9 334.8h0M286.5 275.6h0M350 304.2h0M328.6 278.6h0M343.5 295.5h0M393.7 341.3h0M320 278.9h0M430.5 333.9h0M388.3 289.7h0M284.3 275.1h0M336.2 298.6h0M353.7 284.7h0M345.1 282.5h0M262.5 280.6h0M304.1 277.9h0M326.7 278.9h0M409.1 369.7h0M321.8 282.1h0M392.2 327.7h0M386 329.2h0M301.8 278h0M260.2 276.8h0M350.7 297.9h0M256.1 326.7h0M357.1 306.3h0M348.3 303.4h0M346.5 279.2h0M263.1 278.2h0M314 279.3h0M346.4 298.3h0M336.3 282.7h0M297.8 298.5h0M395.1 342.5h0M305.2 274.9h0M334 277.2h0M339.5 271.7h0M335.7 283.5h0M370.3 309.7h0M314.4 280.4h0M321.2 276.6h0M264.6 282.7h0M346.7 280.7h0M321.5 283.5h0M335.2 288.8h0M300.6 274.9h0M381.9 290.4h0M309.9 271.2h0M414.1 347.4h0M264.6 278.6h0M255.2 280.4h0M352.9 281.9h0M330.5 287.1h0M397.8 334h0M260 288h0M318.3 278h0M321.6 271.5h0M353.3 292.9h0M256.7 291h0M266.7 275.6h0M351.8 284.6h0M369.7 297.9h0M267.1 280.3h0M384.3 336.6h0M356.5 279.2h0M344.6 305h0M257.1 333.6h0M330.7 279.2h0M350.5 284.9h0M408.5 362.7h0M393 376.3h0M269.9 275.8h0M316.9 277.7h0M345 290.7h0M346.5 310.7h0M272.2 277.6h0M346.1 288.6h0M255.8 297.1h0M354.8 279.6h0M321.7 276.2h0M397.6 309.2h0M275.2 310.1h0M353 298.2h0M275.1 283h0M359.6 315.8h0M301.5 277.1h0M296.9 274h0M396 355.7h0M394.1 334h0M366 305.9h0M270.6 280.8h0M296.5 274.8h0M257 324.5h0M417.6 316.7h0M273.2 275.2h0M305.3 277.9h0M344.8 292h0M417.7 320.3h0M273.8 273.3h0M320.2 277.8h0M267 336.6h0M354.9 282.6h0M317.9 288.7h0M347.5 272.9h0M315.5 270.6h0M345.1 311.6h0M269.1 283.3h0M350.8 286h0M353.2 276.7h0M303.2 287h0M307.7 275.7h0M326 273.5h0M358.6 358.7h0M338.4 274.3h0M374.6 316.8h0M262.7 275.4h0M403.2 344.2h0M415.6 327.4h0M284.7 285.1h0M328.1 288.8h0M374.5 334.8h0M345.3 290.9h0M305.7 279.7h0M326.6 271.9h0M320.6 274.2h0M303.2 278.7h0M332.7 278.7h0M262.4 277.4h0M334.8 285.5h0M359 320h0M314.2 274.6h0M299.3 275.3h0M395.5 346.3h0M380.9 299.5h0M278.7 275.5h0M310.7 278.4h0M343.6 289.8h0M416 366.2h0M339.7 311.1h0M298.7 273.6h0M365.1 301.7h0M357 274.3h0M269 276.5h0M324.3 272.7h0" stroke="#3f8f2f" stroke-opacity="0.52" stroke-width="2.2" stroke-linecap="round" fill="none"/>
<path d="M344.5 312.1h0M355 279.3h0M264.9 294.4h0M276.8 278.6h0M287.5 330.8h0M415.4 353.2h0M338 307.5h0M330.5 280.4h0M353.2 291.2h0M316.4 311.7h0M353.3 279.8h0M322.2 274h0M343.6 303.2h0M384 352.7h0M318.1 280.2h0M336.8 300.9h0M268.3 279h0M394.5 362.6h0M364.5 333.3h0M393.3 302h0M286.4 274.8h0M418.3 354.5h0M327.2 275.8h0M408.7 361.6h0M283.3 280.2h0M272.8 275.1h0M356.5 294.8h0M262.2 282.1h0M306 276.3h0M355.4 304.1h0M256.1 279.6h0M387.9 278.2h0M319.5 276.5h0M325.9 273.9h0M330.7 300.3h0M263.6 287h0M381.3 318h0M325.4 302.8h0M260.2 285.3h0M345.4 305.6h0M396.7 360.9h0M386.5 337.9h0M349.2 285.4h0M393.1 326.6h0M308.4 273.3h0M297.4 277.9h0M328.8 268.3h0M296.7 278h0M300.5 280.3h0M271.9 322.5h0M286.7 283.3h0M335.7 278.9h0M269.2 273.2h0M358.1 297.4h0M359.6 302.7h0M384.4 329.8h0M320.4 287.5h0M265.9 276.9h0M300.9 290.9h0M353.4 285.3h0M294.3 275.2h0M322 277.3h0M260 273.4h0M405.6 333.3h0M334.8 291.3h0M278.3 275.5h0M379.8 304.1h0M342.5 282.7h0M304 277.1h0M347.1 301.9h0M298 283.1h0M330.6 277.9h0M306.2 283h0M325.7 277.1h0M398.9 362.3h0M370.9 280.5h0M336.3 291.2h0M313 279h0M363.4 303.6h0M341.4 281.5h0M382.6 309.1h0M304.5 282.3h0M353.5 327.2h0M308.7 283.9h0M419.3 373.5h0M386.7 337.1h0M350.8 278.4h0M393.8 346.2h0M351.1 272.8h0M340.1 278.4h0M259.1 274.1h0M268.1 339.1h0M263.8 282h0M304.7 291.3h0M336.2 288.3h0M343.1 285.1h0M364.4 353.4h0M307.6 274.7h0M262.8 278.6h0M345.5 286.4h0M351.7 299.9h0M342.1 292.3h0M269.6 308.1h0M341.2 285.2h0M316.3 302.6h0M344.5 279.4h0M261 297.8h0M369.8 299.1h0M346.8 299.1h0M407.1 373h0M395.9 310.3h0M335 272.1h0M340.4 313.9h0M353.7 285.5h0M379.8 322h0M301.7 274.4h0M303.9 271.8h0M263.8 284.3h0M332.2 290.5h0M343.6 294.8h0M390.8 369.7h0M361.6 308.1h0M301 277.4h0M333.9 289.3h0M261.1 291.2h0M317.8 279.9h0M336.7 277.1h0M420.1 349.7h0M388.8 295.2h0M278.1 280.6h0M324.2 273.8h0M268.5 276.7h0M304.3 277.9h0M258.1 305.3h0M262.5 274.2h0M386.8 317.5h0M305.2 283.5h0M272.4 279.4h0M334.5 292.5h0M264.3 323.9h0M307.1 288.1h0M359.9 287.5h0M307.4 282.5h0M268.1 274.8h0M326.2 269.9h0M264.9 301.7h0M270.9 269.2h0M331.8 285.9h0M281.9 280.9h0M267.3 303.3h0M308.9 274.8h0M329.4 277.8h0M327.5 277.5h0M430.5 381.2h0M345.2 287h0M354.8 283.2h0M347.9 272.4h0M356.4 280.4h0M333.6 292.1h0M301.4 278h0M272.3 275.9h0M332.8 303h0M330.2 295.2h0M264.2 279.9h0M404.3 350.2h0M365.1 323.6h0M299.9 270.7h0M260.9 348.8h0M286.5 277.2h0M320.6 277.4h0M370.1 332.3h0M385.7 344h0M344.9 274.7h0M416.2 331.1h0M329.1 333.6h0M264.8 358.1h0M302.5 287.5h0M285.9 270.7h0M268.6 275.6h0M416.9 319.2h0M315.5 335.9h0M260.3 305.8h0M349.9 310.6h0M344.8 329.9h0M262.6 322.1h0M336.3 301h0M369.2 328.6h0M386.4 327.3h0M297 273.4h0M338.3 295.6h0M351.5 291h0M349.1 286.2h0M310.6 277.3h0M340.6 277.5h0M353.7 273.4h0M354.5 293.3h0M335.2 289.9h0M357.2 282.3h0M390.3 286.2h0M272.9 273.8h0M363.3 310.4h0M306.3 276.9h0M345.8 283.2h0M331.3 282.8h0M412.5 315.4h0M317.4 272.8h0M348.6 280.2h0M298.2 273.6h0M393.3 335.2h0M382.9 329.1h0M346.8 287.4h0M407.2 319.4h0M299 278.1h0M344.7 298.5h0" stroke="#3f8f2f" stroke-opacity="0.52" stroke-width="2.2" stroke-linecap="round" fill="none"/>
<path d="M352.1 287h0M317.6 277.7h0M344.4 272.9h0M271.9 285.8h0M264.8 312h0M302.7 311.6h0M315.8 270.7h0M274.7 280.6h0M314.9 276.6h0M355.1 281.2h0M396.3 335h0M329 276.3h0M344.7 288h0M375.6 339.2h0M388.6 332.8h0M325 276.5h0M317.2 275.2h0M407.8 321.5h0M350 298.2h0M369.2 344.6h0M254.6 274.2h0M276.5 288.4h0M260.3 281.8h0M268.5 278.9h0M350 300.3h0M307.5 297.7h0M405 361.8h0M316.6 268.9h0M385.5 330.1h0M263.1 278.7h0M306 274.2h0M335 283.2h0M352.4 322.5h0M329.8 289.5h0M363.2 333.8h0M322.9 273.7h0M271.7 278.4h0M302 288.8h0M322.1 278.2h0M273.9 278.4h0M333.9 272.3h0M304.4 279.5h0M297 273.2h0M282 340.7h0M378.1 322h0M332.4 312.1h0M430.5 316.5h0M313.3 288.9h0M413.8 375.9h0M270 276.9h0M403.4 365.7h0M256.7 274.3h0M320.1 280h0M255.4 279.1h0M353.2 278.9h0M295.3 274.5h0M401 361.5h0M298.2 272.8h0M272.6 294.9h0M264.9 274.2h0M275.4 342.1h0M304.5 278h0M351.3 279.5h0M373.9 312.9h0M307.6 274.4h0M331.7 294.7h0M326.9 278.4h0M336 282.6h0M344.2 290.2h0M282.8 275.2h0M338.4 297.5h0M391.4 307.3h0M268.3 273h0M430.5 353h0M361.2 298.3h0M256.7 273h0M352.3 297.4h0M321.9 275.2h0M310.8 277.6h0M351.9 273.7h0M355 330h0M404.1 359.5h0M339.5 282.4h0M325.9 279.4h0M260.3 275.8h0M322.5 283.8h0M389.9 329.1h0M356.6 288.9h0M281.5 286.4h0M262.6 285h0M370.1 296.5h0M322.9 283.4h0M381.6 310.5h0M345 301.9h0M307.9 284.3h0M353.1 277.6h0M418.9 346.9h0M343.4 285.3h0M316.6 283.4h0M413.6 339.4h0M310.2 276.3h0M337.7 276.6h0M341.9 286.2h0M347.9 271.7h0M352.5 294.1h0M357.3 317.3h0M353.6 298.7h0M346.3 327.6h0M401.6 347.5h0M352.5 303.3h0M334.8 285.3h0M370.7 312.7h0M328.2 273.1h0M368.2 289.6h0M345 280h0M401.6 313.1h0M304.2 274.5h0M284.3 277.5h0M353.7 313.2h0M322.5 285.8h0M430.5 338.8h0M430.5 361.5h0M417 361h0M269.1 274.6h0M355.3 297.5h0M308.4 269.1h0M341.4 299.4h0M260.9 293.6h0M307.3 273.7h0M313.2 277h0M302.3 278.6h0M354.7 273.4h0M371.5 320.7h0M325.4 290.8h0M345.1 279.6h0M304.9 274.8h0M371.5 282.3h0M294.3 281.2h0M344.4 277.5h0M371.1 305.4h0M351.4 289h0M276.8 282.7h0M303.6 279.9h0M335.6 292.9h0M330.3 279.4h0M269.5 282.3h0M272.6 352.4h0M272.5 282.6h0M338 272.9h0M293.6 288.4h0M296.6 273.8h0M409.3 346.3h0M321.6 280.9h0M347.7 324.3h0M358.5 325.5h0M354.7 274.7h0M355.2 291.5h0M348.4 276.3h0M340.3 274.7h0M322.3 285.4h0M343.4 281.8h0M394.4 328.8h0M262.7 278.9h0M321.4 278.7h0M271.5 353.7h0M403.5 346.8h0M300.3 275.4h0M363.6 334.6h0M295.2 296.7h0M389.6 337.7h0M343.8 298.6h0M347.1 305.1h0M305.3 275.2h0M398.8 338.3h0M262.6 283.3h0M289.4 287.6h0M255.2 300.5h0M268.2 279h0M295.6 276.9h0M262 270.8h0M271.9 287.3h0M356.7 300.2h0M314.6 281.2h0M262.1 274.9h0M334.1 307.1h0M313.1 268.6h0M317.9 279.7h0M392.7 309.3h0M316.3 298h0M275.8 278.4h0M330 279.9h0M296.4 282.7h0M355 297.6h0M366 313.2h0M268.1 295.7h0M369.7 322.4h0M382.4 304.5h0M298.4 277.2h0M372 348.9h0M345.4 280.2h0M392.3 340.9h0M430.5 358.3h0M328.5 278.8h0" stroke="#3f8f2f" stroke-opacity="0.52" stroke-width="2.2" stroke-linecap="round" fill="none"/>
<path d="M364.2 325.3h0M303.8 274.1h0M273.9 304.3h0M334.1 283.2h0M344.9 286.4h0M306.2 290h0M406.1 349.9h0M327.1 280.8h0M337.7 283.4h0M262.5 279h0M330.2 288.9h0M297.3 276.7h0M332 284.5h0M341.8 287.3h0M339.1 305.4h0M335.8 296.9h0M302.8 297.4h0M328.4 282h0M430.5 360h0M388.8 318.9h0M348.7 284.7h0M257.5 273.7h0M301 272.7h0M338.1 284.1h0M296.8 275h0M364.1 335.8h0M306.7 278.4h0M272.1 297.5h0M315.7 283h0M351.5 304.7h0M352.6 304.5h0M276.8 341h0M395.1 364.1h0M325.3 329.7h0M353.4 272.4h0M355 285.6h0M368.8 312.1h0M308.4 275.9h0M296.7 294.8h0M362.3 285h0M255.5 282.6h0M329 287.4h0M372 313.8h0M334.8 295.6h0M417.9 378.5h0M282.1 272.4h0M260.4 280.1h0M322.5 292.4h0M356.2 283.6h0M353 271.9h0M349.6 291.3h0M315 275.9h0M348.9 282.1h0M415 348.1h0M311.5 273.5h0M318.6 277.6h0M404.8 325.7h0M262.8 286.6h0M331.9 279.8h0M265.3 280.2h0M356.1 282.1h0M310.9 278.7h0M273.5 288.4h0M353.4 298.5h0M342.8 296.4h0M287.6 289.2h0M397.3 369.1h0M310.7 281.6h0M320.6 291.7h0M356.5 287.9h0M314.2 280.4h0M321.8 293.2h0M325.1 319.7h0M340.1 290.2h0M329.4 277.9h0M310.8 283.2h0M283.1 276.1h0M309.9 282.7h0M260.5 351.3h0M303.9 296.7h0M305.8 276.9h0M341.7 302.6h0M270.1 290.6h0M334.4 275.3h0M380.9 352.2h0M354.6 292.6h0M285.1 271.9h0M285.4 282.1h0M343.2 298.4h0M313.5 275.9h0M321.6 273.6h0M310.3 276.5h0M346 282.7h0M316.5 280.3h0M407.3 374h0M280.2 289.9h0M296.6 282h0M338.6 280.8h0M296.3 274.7h0M332.8 308.5h0M416.3 363.9h0M354.3 288.1h0M301.5 312.8h0M314.3 296.5h0M272.9 272.6h0M277 337h0M318 279.3h0M304.8 273.4h0M362.3 313.4h0M420.2 377.9h0M336.4 292.8h0M274.7 276.9h0M335.8 274.8h0M332 275.9h0M376.8 337h0M269 281.1h0M275.6 280.7h0M334.1 275.4h0M316.6 274.4h0M315.7 290.2h0M273.2 284.9h0M331.8 287.3h0M290.4 285.4h0M362.8 280.3h0M310 270.1h0M315.7 299.4h0M350.4 287.2h0M376.3 303.4h0M358.1 290.4h0M259.8 282.7h0M352.4 292h0M380.3 331.1h0M348.3 293.4h0M277 303h0M266.7 279.7h0M269.9 286.9h0M348.3 324.1h0M388.8 302.6h0M332.1 288.2h0M262.5 282.4h0M286.3 290h0M272.2 292.2h0M343.3 280.7h0M355.8 291.4h0M275.2 295.9h0M327.6 282.8h0M420.4 375.1h0M259.9 279.8h0M405.4 346.5h0M353.2 273.7h0M361.5 327h0M266 298.4h0M348.3 286.3h0M334.2 284.4h0M329.7 273.4h0M410.5 324.2h0M258.3 292.1h0M325.9 274.3h0M354.2 297.3h0M342.3 328.9h0M307 278.4h0M340.3 281.7h0M255.7 278.8h0M344.6 292.7h0M316.5 274.9h0M406.6 325.9h0M263.6 275.2h0M352.2 290.2h0M353.4 278.8h0M346.9 286.7h0M352.6 331.3h0M306 293.6h0M336 274.1h0M357 282.8h0M381.4 338.3h0M356.7 299.6h0M308.2 280.1h0M326.5 279.1h0M258 308.8h0M364.4 345.4h0M349.4 296.7h0M307.2 281.7h0M264.7 322.4h0M364.6 360.1h0M413.5 375.2h0M323.8 283.4h0M302 277.1h0M364.8 323.1h0M402.8 365.3h0M398.4 300.1h0M319.9 283.1h0M318 285.2h0M352.1 280.4h0" stroke="#3f8f2f" stroke-opacity="0.52" stroke-width="2.2" stroke-linecap="round" fill="none"/>
<path d="M316.8 276.8h0M384.3 322.5h0M310.2 283.6h0M337.8 279.6h0M373.2 332.9h0M391.7 305.2h0M256.8 279.3h0M299.4 276.8h0M332.3 285.6h0M264.9 329.4h0M381.4 319.1h0M353.2 293.3h0M340.7 293.6h0M341.4 273.9h0M361.2 310.2h0M305.8 278.5h0M297.1 280.7h0M344.7 287.2h0M319.9 288.5h0M275.4 282.1h0M351.9 291.2h0M257.8 283.2h0M361.1 321.8h0M302.5 283.7h0M362.6 323h0M294.8 274h0M256 278.5h0M263.6 287.2h0M331.2 333.7h0M324 272.8h0M329.1 274.6h0M260.7 297.8h0M333.9 292.9h0M269.1 322.1h0M366.1 328.9h0M363.4 291.1h0M356.4 285.4h0M337.8 289.2h0M308.9 335.1h0M400.6 338h0M300.9 276.9h0M303.5 272.1h0M347 290h0M370.1 339.4h0M346.8 308.6h0M306.3 274.6h0M254.5 282.7h0M339.8 288.4h0M293.2 282.1h0M320.6 278.9h0M261.1 286.8h0M351.6 275.6h0M313.1 338.1h0M304.6 273h0M344.4 326.1h0M407.5 317.6h0M345.3 302.5h0M305.9 284.4h0M392.7 351.5h0M265 286.1h0M381.5 303.3h0M355.8 281.8h0M420.5 319.9h0M366.4 293.2h0M403.9 322.5h0M262.9 279.2h0M348.8 284.6h0M323.8 285.6h0M346 283.6h0M293.9 273.2h0M396.8 348.1h0M387.8 333.5h0M340.6 281.3h0M410.2 344.9h0M374.9 317.5h0M332.1 276.8h0M290 277.5h0M328.3 270.6h0M373.7 303.4h0M329.6 276.6h0M323.5 274.8h0M265.7 275.8h0M311.1 271.2h0M270.2 275.6h0M380.4 369.9h0M341.1 288.8h0M353.7 284.5h0M291.6 276.8h0M359.3 302.3h0M329.6 294.3h0M309.1 288.3h0M359.5 291.3h0M302.3 278.7h0M299.2 275.8h0M270.1 282.7h0M320 303.2h0M332.4 284.8h0M333.7 284.6h0M301.9 283.9h0M338.8 277h0M367.3 358.3h0M261.1 283.4h0M323.4 275.7h0M314.2 305.7h0M326 286.2h0M256.6 287.7h0M407.2 340.8h0M314.5 281.3h0M307.8 273.8h0M320.7 295h0M317.2 300.8h0M333.9 281.1h0M329.9 336.8h0M336.4 277h0M345.3 299h0M263.4 279.5h0M322.7 272h0M339.5 280.1h0M271.7 340.3h0M267.4 284.3h0M318.6 295.5h0M384.9 329.7h0M408.8 351.8h0M343.8 273h0M313.4 275.6h0M264.1 277.7h0M375.6 315.1h0M343.6 278.7h0M325.4 280.2h0M272.3 284.2h0M369.4 279h0M381.5 330.8h0M325.7 279.4h0M274.1 273.5h0M353.4 271.4h0M400.7 323.3h0M314.5 272.3h0M415.6 340.6h0M311.1 329.6h0M394.9 288.9h0M366.6 352.2h0M270.6 286.4h0M303.6 275.5h0M266.6 340.9h0M316.9 275.5h0M399.6 329.2h0M269 274.3h0M390.6 340.6h0M327.7 276.2h0M322.4 289h0M296.2 278.3h0M278.2 273.2h0M375.5 322.2h0M361.6 356.7h0M318.7 288.4h0M339.3 274.2h0M307.5 286.8h0M343.3 315.7h0M320.3 278.8h0M356.9 289h0M347.3 282.2h0M299.6 278.4h0M349.7 289.3h0M348.7 284.1h0M414.3 338h0M330.4 287.1h0M263 277.6h0M295.8 272.4h0M270.3 361.8h0M393.3 318h0M404.7 355h0M271.3 308.1h0M262.6 293.2h0M301.6 278.2h0M405.2 329.7h0M268.3 271.2h0M310.4 291h0M264.4 273h0M313 297.9h0M369.5 276.5h0M330.9 284.5h0M255.2 270h0M313 277.9h0M329.1 288.9h0M355 306.2h0M280.8 277.9h0M387.8 335.3h0M325.4 271.1h0M349.4 294.1h0M308.7 278.2h0M276 272.2h0M335.6 301.6h0M353.4 290.6h0M337.2 291.5h0M341.7 273.4h0M336.4 276.7h0M418.1 364.4h0M319.9 276.7h0M405.2 336.2h0M294.1 284.5h0M327.4 270.8h0M368.8 341h0M354.2 281.3h0M314 276.7h0M326.7 289.1h0M355.2 274.5h0M354.7 286.7h0M413.6 361.8h0M327.1 272.1h0" stroke="#3f8f2f" stroke-opacity="0.52" stroke-width="2.2" stroke-linecap="round" fill="none"/>
<path d="M346.8 272.4h0M376 308h0M347.7 281.4h0M323.9 286h0M350.3 280.4h0M418 309.9h0M261.4 282.3h0M408 325.2h0M352.4 287.7h0M390.8 337.6h0M266.3 277.3h0M303.2 271h0M346.8 296.8h0M326 273.8h0M334.2 296.5h0M331.9 292.9h0M257.1 324.3h0M264.1 295h0M322.2 277.6h0M325.1 331.6h0M332.4 296h0M313.2 272h0M303.6 277.4h0M317 276h0M302.5 285.1h0M313.5 281.1h0M286.4 273.3h0M256.9 275.9h0M299.8 290.3h0M301.2 297.7h0M268.4 279.1h0M406.3 351.7h0M303.2 277.4h0M409.8 317.3h0M331.4 306.8h0M385.3 368.9h0M340.8 292.8h0M287.3 328h0M338.2 292.4h0M276.4 349.9h0M276.7 277.9h0M340.5 311.6h0M264.9 277.8h0M406.6 338h0M370.7 303.1h0M314 269.5h0M353.4 280.2h0M349.8 278.8h0M298.9 272.9h0M342.6 289.7h0M302.8 281h0M286.8 283.4h0M400.7 301.5h0M268.5 280.7h0M311.4 280h0M327.9 275.6h0M348.5 295.1h0M301.9 273.6h0M274 282h0M366.4 292.6h0M300.6 281.3h0M311.9 277h0M341.5 279h0M388.2 292h0M387.8 337.6h0M345.9 292.1h0M339.4 288.1h0M330.9 299.3h0M280.4 272.9h0M323.3 277.3h0M274.6 280.1h0M347.2 294.9h0M338 327.3h0M320.4 273.7h0M301.3 273.9h0M327.5 286.9h0M348.6 279.5h0M344.8 285.8h0M404.6 333.5h0M267.1 275.1h0M331.8 279.5h0M266.5 289.2h0M331.5 280.8h0M376.6 281h0M343.7 291.1h0M330.4 308.4h0M348.2 275.5h0M353.2 324.2h0M406.5 328.3h0M350.1 278.7h0M259.8 313.2h0M313.3 277.7h0M385.6 336.2h0M416.2 362.4h0M259.1 279.7h0M337.6 293.6h0M369.2 331.2h0M365.4 279.2h0M346.5 300.7h0M345.7 274.2h0M263.8 280.2h0M272 288.2h0M392.8 369.8h0M375.9 308.6h0M313.6 269.4h0M329.8 275.8h0M329.1 279.4h0M315 275.1h0M359.3 329.9h0M307.1 277.9h0M353.8 288.9h0M391.8 328.7h0M318.5 272.7h0M411.7 352.9h0M347 284.5h0M380.6 311.5h0M260.1 290.4h0M347.4 288.6h0M397.7 369.2h0M377.8 311.2h0M298.8 272.5h0M325.6 274.3h0M374.9 320.8h0M274.3 273.9h0M304.5 272.8h0M320 281.7h0M367.6 336.7h0M284.7 274.8h0M270.4 297.3h0M407.5 327.7h0M271.7 279.9h0M334.3 287.1h0M335.9 282.2h0M266.4 272.2h0M297.5 276.4h0M387.8 364.7h0M296.1 281.6h0M294.5 280.9h0M359.5 309.4h0M358.8 308.8h0M301 285.2h0M355.8 295.9h0M263.8 277.3h0M341.4 291.3h0M285.2 276.4h0M261.4 282.3h0M395.9 353.7h0M356 300.1h0M329.8 284.8h0M263.2 352.3h0M305.8 275.9h0M350.2 287.1h0M269.6 280.9h0M341 283.6h0M322.2 284.9h0M351.6 296.9h0M265.6 272.4h0M271.5 275.4h0M313 272.5h0M317.1 281.4h0M377.3 347.5h0M275.9 275.8h0M268.7 279.6h0M353.3 277.3h0M367.8 295.4h0M363.1 294.7h0M312.8 280.4h0M276.4 271.2h0M404.2 376.3h0M356.5 289.2h0M365.1 346h0M308.2 280.2h0M391 327.8h0M332.1 301.6h0M258 299.1h0M350.6 298.6h0M369 307.7h0M369.9 302.7h0M361 335.1h0M274.6 287.9h0M254.9 292.5h0M322.1 271.1h0M337.3 285.8h0M268.7 279.8h0M332.1 287.3h0M348.2 290.1h0M355 277.5h0M267.6 276.5h0M337.9 286.6h0M275.6 277.3h0M351.4 314.5h0M256.7 329.5h0M298.9 287.8h0M257.7 293.8h0M338.7 286.7h0M302.4 290h0M373.6 339.6h0M272.2 283h0M295.3 275.7h0M401.4 296.8h0M299.9 273.4h0M270.5 274.7h0M341.1 291.2h0M419.5 354.9h0M352.5 301.3h0M376.2 334.1h0M332 290h0M274.3 277.7h0M371.6 309.5h0" stroke="#3f8f2f" stroke-opacity="0.52" stroke-width="2.2" stroke-linecap="round" fill="none"/>
<path d="M327.5 271.6h0M304.9 281.2h0M364.4 345.2h0M271.8 274.8h0M304.6 274h0M342.4 282.3h0M346.8 286.4h0M376.6 308.9h0M313.6 294.7h0M256.5 358.3h0M282.1 277.2h0M334.1 291.6h0M267 281.8h0M255.2 310.9h0M306.4 278.8h0M335.9 275.7h0M284.2 270.5h0M337.7 274.4h0M339.9 304.5h0M415.1 320.4h0M335 290.8h0M329.5 339.3h0M303.6 277.7h0M391.3 353.8h0M325.4 280.2h0M313.9 275.6h0M381.9 304.3h0M323.2 285.3h0M260.8 275.5h0M334 299.9h0M333.5 280.7h0M395.2 353.2h0M303 285.3h0M328.3 277h0M374.4 315.3h0M262.8 358.9h0M339 288.5h0M341.6 306.9h0M380.1 310.7h0M288.4 289.6h0M354.9 287h0M306.8 275.3h0M326.5 278.6h0M372.8 309.8h0M295 273.5h0M337.1 314.7h0M335.6 289h0M351.9 291.9h0M402.9 336.6h0M292.4 275.9h0M272.5 314.7h0M339.6 288.9h0M430.5 361.1h0M297 278.8h0M297.3 275.1h0M309.8 268.3h0M430.5 340.3h0M374.6 354.7h0M353.7 282.6h0M293.7 278.2h0M338.8 294h0M361 319.8h0M352.8 284.8h0M276.1 274.6h0M359.6 316.2h0M361.9 317.3h0M332.3 280.8h0M347 281.4h0M267 278.9h0M263.6 273.4h0M280.5 277.8h0M349.9 287.6h0M288.1 273.3h0M274.1 272.2h0M319 275.7h0M325.1 282.8h0M266.3 290.3h0M318.6 280.9h0M271.4 278.3h0M353.9 290.7h0M327.1 280.8h0M331.4 303.7h0M321.8 284.8h0M326.9 275.8h0M274.4 275.4h0M323.3 281.6h0M338 303.8h0M349.8 295h0M329.6 324.8h0M420 366.7h0M318.5 283.3h0M309.2 274.6h0M344.2 282.4h0M324.4 279h0M268.8 276.1h0M345 277.9h0M270.8 276.7h0M261.3 348.8h0M339.4 278.6h0M316.4 275.9h0M255.5 276.9h0M330.3 281.8h0M345.7 306.5h0M335.7 283.5h0M369.9 330h0M361 294.1h0M377 344.6h0M346 277.3h0M262.5 272.4h0M373.3 332.9h0M344.2 305.2h0M313.9 322.6h0M392.9 313.5h0M356.5 300.4h0M314.1 327.6h0M307.3 276h0M346.7 297.5h0M267.2 318.4h0M381.4 302.6h0M394.6 331h0M412.2 365.7h0M267 285.9h0M310.8 278.1h0M311.3 279.3h0M351.4 305.6h0M338.5 295.3h0M269.1 291.1h0M334.8 282.9h0M343.4 278.4h0M325.2 293.6h0M312.6 274.2h0M274.2 279.8h0M346.9 275.8h0M378.8 322.4h0M271.1 305.1h0M296.9 281.7h0M323.3 273.6h0M356.1 277.2h0M295.4 285.2h0M268 281.5h0M376.9 282.8h0M314.7 282.1h0M333.5 275.1h0M309.1 278.3h0M260.9 274.6h0M265.6 274.7h0M265.4 274h0M344.8 272.3h0M274.1 275.4h0M285.6 275.3h0M307.3 270.3h0M336.1 280.1h0M347.9 277.5h0M276.2 272.1h0M280.6 289.6h0M337.9 303.9h0M264.6 289.7h0M350.1 305h0M346.8 284.2h0M351 287.4h0M399.1 300.4h0M257.7 271h0M346.8 275.7h0M270.1 274h0M350.7 273.4h0M305.6 273h0M261.5 281.5h0M318.4 272.1h0M265 273.1h0M356.4 305.3h0M345.4 287.1h0M350.3 292.1h0M338 286.6h0M329.1 269.9h0M406.3 328.4h0M357.7 298.7h0M341.4 279.1h0M260.9 271.4h0M327.6 268.5h0M257.7 336.6h0M349.4 287h0M301.2 279.6h0M417.1 370.1h0M317 293.5h0M267.1 283.4h0M402.4 371.8h0M354.2 296.8h0M325.4 275.2h0M346.3 301.4h0M384.3 364.2h0M279.5 275.8h0M342.8 300.4h0M298.2 283.5h0M398.5 317h0M298.1 282h0M295.5 277h0" stroke="#3f8f2f" stroke-opacity="0.52" stroke-width="2.2" stroke-linecap="round" fill="none"/>
<path d="M270.5 273.8h0M322.6 270.4h0M299.2 275h0M348 283h0M333.5 285.5h0M318.2 274.8h0M303.5 307.2h0M259.4 293.2h0M353.3 283.1h0M307 273.6h0M343.4 287.4h0M365.4 304.2h0M339.5 330.1h0M275 346.4h0M348.4 290.5h0M279.1 276.5h0M400.9 326h0M356.3 284.7h0M359.3 323.8h0M343.2 282.7h0M327.9 272.9h0M272.4 280.5h0M400.3 345.4h0M283.9 297h0M316.3 273.1h0M322.9 288h0M303.8 281.5h0M351.2 309.7h0M264.1 274h0M267 279.6h0M309.3 283.3h0M296 277.9h0M339.4 284.7h0M345.2 280.5h0M304.4 278.8h0M358.7 291h0M349.6 328.5h0M328.6 276h0M353.8 290.4h0M327.3 273.5h0M321.1 274.5h0M258.1 285.8h0M264 293.6h0M336 297.2h0M373.6 286.7h0M307.3 271.4h0M293.6 297.1h0M305.2 281.1h0M340.5 302.6h0M307.8 277h0M297.7 274.4h0M312.9 327.3h0M414.4 333.8h0M323.7 274.6h0M329.2 278.3h0M402.6 323.1h0M349 287.2h0M315.9 274.5h0M313 316.6h0M375.6 336.4h0M335.5 275.7h0M266.9 282.9h0M326.3 272.2h0M271.7 293.3h0M303.5 272.7h0M295.9 288.5h0M299.9 300.3h0M346 299.5h0M329.1 269.5h0M297.2 273.4h0M337.6 305.6h0M391.9 282.1h0M323 276h0M417.5 365.6h0M345.3 285.9h0M306.8 283h0M336.7 284.7h0M332.1 281.6h0M345.7 278.1h0M347.8 291.7h0M342.2 282.9h0M348.3 279.9h0M316.7 278.6h0M339.1 304.1h0M295.9 275.9h0M295.9 274.4h0M321 279.9h0M312.5 274.5h0M417 369.6h0M273.4 295.6h0M343.3 296h0M330.5 282.6h0M294.9 270.6h0M263.7 281.4h0M317.6 297.4h0M302.9 287.5h0M344.3 295.4h0M255.7 320.2h0M378.2 300.6h0M338.3 298h0M274 276.5h0M316 275.1h0M329.6 274.1h0M285.2 271.2h0M405.9 336.1h0M381.3 314.5h0M339.6 279.4h0M331.7 285.6h0M327.6 278.1h0M265.6 274.2h0M322.7 275.7h0M296.4 292.1h0M286.3 277.5h0M265.1 334.4h0M410.3 343.3h0M362.7 306.1h0M350 271.4h0M348.1 292.3h0M384.4 351.8h0M267.7 279.1h0M255.8 276.2h0M258.2 315.1h0M372.5 286.3h0M305.8 272.5h0M326.5 275h0M403.2 319.8h0M322.2 274h0M270.2 281.8h0M410.9 350.2h0M418.7 322.8h0M267.1 278h0M341.1 297.2h0M312.8 274.7h0M303.6 274.6h0M257.3 280.8h0M356.9 277h0M402.1 335.4h0M331.1 289.2h0M266.3 280.8h0M313.9 279.4h0M405.1 340.6h0M337.7 312.1h0M393.2 337.7h0M401 337h0M322.2 286.2h0M329 272.8h0M352.8 289.6h0M388.4 314.8h0M303.3 279.4h0M320.9 274.9h0M379.9 319.1h0M375 319.8h0M345 271.5h0M306.2 276.4h0M298.7 273.4h0M360.5 294.3h0M330.3 288.8h0M339.1 276.3h0M304.3 289h0M338 305h0M322.1 271.3h0M386.9 339.5h0M274 284.9h0M339.7 285.9h0M430.5 373.7h0M330.7 281.4h0M386.8 335.9h0M296.7 277.5h0M339 304h0M375.8 310.8h0M338.5 294.6h0M320.5 279.7h0M357.3 327.1h0M332.8 294.6h0M276.7 270.8h0M415 365.2h0M328.7 268.3h0M270.2 299.3h0M337.5 280.6h0M336.3 283.8h0M332.3 283.1h0M409.7 341.4h0M353 279h0M309.4 276.3h0M286 275.3h0M370.3 328.5h0M293.8 283.5h0M318 277.9h0M352 278.7h0M316.7 275.8h0M294.8 339.7h0M418.4 359.2h0M345.4 308.7h0M304.1 278.3h0M256.2 277.8h0" stroke="#3f8f2f" stroke-opacity="0.52" stroke-width="2.2" stroke-linecap="round" fill="none"/>
<path d="M330.1 293.8h0M313.4 295.5h0M267.4 275.2h0M347.7 274h0M295.7 275.8h0M333.3 308.5h0M338 301.3h0M407.7 341.2h0M295.9 273.7h0M315.5 279.2h0M260.6 272.5h0M392.3 323.9h0M351.1 300.9h0M338 287.3h0M301.2 278.2h0M345 292.4h0M400.7 362.1h0M420 370.7h0M258.1 288.6h0M348.1 294.5h0M298.3 277.5h0M285.3 285h0M339.8 272.1h0M275.3 336.4h0M338.1 297.5h0M409.7 327h0M258.7 282.7h0M298.8 284.8h0M260.4 276.7h0M399.1 322.2h0M297 285.1h0M300.5 279.1h0M362.8 339.8h0M368.5 322.3h0M307.6 272.6h0M349.5 281.9h0M271.7 279.7h0M276.6 273.6h0M274.8 305.1h0M405.2 319.9h0M270.8 279.7h0M330.5 293.6h0M344 277.9h0M362.7 325.7h0M341.3 295.1h0M300.8 307.4h0M324.4 286.2h0M355.8 293h0M354.8 284.5h0M295.5 273.3h0M401.4 343.3h0M405.4 338.6h0M321.9 293.4h0M310.2 283.4h0M351.8 277.2h0M264.3 282.3h0M275.1 283.6h0M321.6 271.3h0M313.7 281.3h0M344.6 332.7h0M319.3 290.1h0M275 288.9h0M388.1 324.9h0M414.1 359.2h0M330 281.1h0M348.7 287.2h0M396.5 351.6h0M415.6 362.5h0M349.7 303.1h0M371.6 329h0M270.1 278.1h0M403.2 311.5h0M338.7 276.3h0M270.2 332.5h0M411.4 338h0M312.3 274.9h0M355.2 297.9h0M430.5 309.5h0M376 293.4h0M430.5 325.6h0M275.4 275.7h0M349.8 279.9h0M410.2 342.1h0M299.2 274.9h0M342.3 290.1h0M323.6 274h0M409.2 300.3h0M309.3 281.3h0M255.1 287.6h0M345.7 302.2h0M315.4 269.4h0M322 272.8h0M270 278.7h0M342.5 289h0M327.3 282.9h0M304.2 274h0M315.7 296.4h0M346.6 288h0M388.9 309.2h0M338.7 271.5h0M271.3 304.1h0M329.2 298.4h0M368.7 350.5h0M344.3 290.2h0M317.9 275.5h0M309.1 294.9h0M273.1 277h0M267.3 285.8h0M333.8 307h0M273.9 273.1h0M352.4 282.6h0M367.3 302h0M353.1 291.2h0M263 278h0M372.7 316.3h0M317.9 288.2h0M355.6 282.3h0M356.1 274.5h0M312.7 276.7h0M344.6 281.6h0M356.2 273.3h0M262.9 290.4h0M396.8 359.5h0M387.5 306.8h0M410.4 324.8h0M264 276h0M346.6 292.7h0M254.7 291.9h0M370.9 361.8h0M306 287.8h0M329.9 285.9h0M270 287.5h0M322.5 274.9h0M311.6 283.9h0M410.8 371.3h0M356 289.6h0M357.2 314h0M383.2 314.4h0M377.4 313.9h0M413.6 301.3h0M300.9 306.4h0M265.3 271.7h0M310.5 272.8h0M350.5 276.1h0M273.3 272.8h0M297.6 274h0M284.2 281.9h0M352.2 289.8h0M295 281.4h0M358 304.9h0M269.6 281.3h0M334.5 282.5h0M357.5 287h0M263.8 274.2h0M384 368.8h0M330.4 280.5h0M326.2 286.8h0M259.6 286.5h0M296.4 278h0M309.4 280h0M351.3 310.6h0M311.3 278.8h0M367.3 311h0M263.7 313.6h0M339.9 337.5h0M309 281h0M387.1 332.7h0M417.6 377.9h0M348.2 303h0M269.8 284.7h0M341.5 290h0M300.6 324.4h0M348.9 325.7h0M272 281.7h0M413.9 323.1h0M365.9 301.3h0M315 283.6h0M352.1 281.5h0M377.6 353.2h0M335.9 292.5h0M307.2 294.8h0M272.1 284h0M370.4 308.3h0M365 310.3h0M305.3 273.5h0M352.2 292.7h0M275.2 277.6h0M384.8 328.1h0M350.8 287.9h0M313.5 273.9h0M308.3 278.9h0M348.5 299.4h0M366.5 338.1h0M355 276h0M298.9 279.4h0M281.3 278.7h0M275.7 282.2h0M264 276.3h0M295.7 271.2h0" stroke="#3f8f2f" stroke-opacity="0.52" stroke-width="2.2" stroke-linecap="round" fill="none"/>
<path d="M257 279.3h0M345.2 286h0M270.5 362.7h0M337.7 293.3h0M331.4 282.4h0M321.7 275.5h0M333.7 287.3h0M413.2 323.9h0M273.4 279.5h0M345.3 324.8h0M331.7 283.2h0M370.1 355.5h0M348.8 290.3h0M297.2 273.5h0M276.5 282.9h0M430.5 381.2h0M370.5 325h0M293.2 285.8h0M275.5 286.4h0M409.4 359.4h0M395 346.9h0M259.6 280.7h0M295.6 283.7h0M343.7 282.6h0M348.4 294.8h0M309.7 268.7h0M317.9 276.7h0M374.8 299.9h0M296.6 276h0M311.6 273.8h0M348.8 275.3h0M272.7 299.1h0M310.5 283h0M381.6 315.4h0M270.7 275.6h0M307.4 280.7h0M394.9 332.6h0M258.9 294h0M309.1 282.4h0M296.6 271.1h0M324.8 270.9h0M346.5 296.8h0M408.1 338.1h0M315.1 281.8h0M350 283.3h0M430.5 363.9h0M326.8 272.2h0M304.7 299.1h0M357.9 308h0M268.7 330.4h0M383.2 315.1h0M319 276h0M334.9 306.1h0M323.3 277.4h0M309.5 284.8h0M270.6 279.3h0M345.3 289.2h0M331.9 290h0M373 295.8h0M348.2 273.2h0M274.8 275.1h0M368.5 288.3h0M348.2 287.4h0M256.5 279.3h0M332.7 272.5h0M329.2 278.2h0M386.8 314h0M366.1 282.3h0M341.1 333.1h0M330.1 293.8h0M322.4 272.3h0M412.8 358.1h0M402.5 357.3h0M261.9 291h0M315.9 270.3h0M266.5 332.8h0M318.9 274.4h0M310.4 285.8h0M303.3 274.2h0M262.3 277.4h0M301.8 277.6h0M333.3 280.3h0M290.6 291.6h0M302.2 278.2h0M376.1 321.8h0M341.5 303.9h0M342.5 286.2h0M346.5 291.3h0M300.7 272.6h0M360.9 283.8h0M324.9 283.6h0M369.7 341.9h0M328.6 270.6h0M353.3 311.3h0M302.2 275.3h0M276.6 281.9h0M316.5 276.3h0M374.1 308h0M330.2 284.6h0M273.4 282.2h0M355.2 280.6h0M312 271.4h0M330 276.6h0M275.7 273.1h0M396.2 331.4h0M268.2 271.4h0M321.3 283.3h0M317.2 278h0M350.9 337.6h0M341.4 298.9h0M266.4 294.8h0M285.6 283.2h0M353.2 292.7h0M276.6 277.8h0M273.8 272.4h0M380.8 327.7h0M300.5 286.1h0M337.7 278h0M370.9 281.2h0M352.9 287.8h0M361.4 301.3h0M388.5 304.8h0M373.9 306.5h0M402.7 364.4h0M430.5 368.6h0M318.8 273.8h0M274.4 273.5h0M387.9 359h0M407.8 363.9h0M334.8 296.9h0M307.3 272.3h0M315.4 271.5h0M318.2 296.4h0M351.5 282.3h0M325.9 290.7h0M325.4 277.3h0M324.4 277.3h0M262.4 274.3h0M386 319.5h0M319.8 272.9h0M302.9 290.5h0M316.2 276h0M354.4 289.4h0M376.1 287.5h0M417.8 360.2h0M316.8 272.6h0M345.4 274.8h0M350.6 286.8h0M382.2 315.9h0M430.5 314.3h0M264.9 278h0M350.7 309.2h0M331.8 280.3h0M353.1 284.6h0M292.7 278.5h0M332.5 300.7h0M263.5 335.3h0M267.2 344.3h0M303.8 315.3h0M308.5 278.8h0M353.3 272.4h0M309.1 282.9h0M411.2 329.3h0M262.9 316h0M386.5 325.7h0M311.6 334.6h0M297.7 296.7h0M328.8 294.3h0M326.5 273.4h0M346.9 300.4h0M302.7 281.3h0M355 280.3h0M339.6 277.3h0M274.2 302.8h0M316.7 281.6h0M312.3 271.3h0M270.7 287h0M348.4 300.4h0M331.9 288.7h0M305.7 269.3h0M258.1 345h0M323.2 275h0" stroke="#3f8f2f" stroke-opacity="0.52" stroke-width="2.2" stroke-linecap="round" fill="none"/>
<path d="M252 295.8L253.5 294.9L255 294L256.5 293.1L258 292.3L259.5 291.5L261 290.7L262.5 290L264 289.3L265.5 288.6L267 288L268.5 287.3L270 286.7L271.5 286.2L273 285.6L274.5 285.1L276 284.6L277.5 284.2L279 283.7L280.5 283.3L281.9 282.9L283.4 282.6L284.9 282.3L286.4 282L287.9 281.7L289.4 281.5L290.9 281.3L292.4 281.1L293.9 280.9L295.4 280.8L296.9 280.7L298.4 280.6L299.9 280.6L301.4 280.6L302.9 280.6L304.4 280.6L305.9 280.7L307.4 280.8L308.9 280.9L310.4 281L311.9 281.2L313.4 281.4L314.9 281.7L316.4 281.9L317.9 282.2L319.4 282.5L320.9 282.9L322.4 283.2L323.9 283.6L325.4 284.1L326.9 284.5L328.4 285L329.9 285.5L331.4 286L332.9 286.6L334.4 287.2L335.9 287.8L337.4 288.4L338.9 289.1L340.4 289.8L341.8 290.5L343.3 291.3L344.8 292L346.3 292.8L347.8 293.7L349.3 294.5L350.8 295.4L352.3 296.3L353.8 297.2L355.3 298.2L356.8 299.1L358.3 300.1L359.8 301.1L361.3 302.1L362.8 303.2L364.3 304.2L365.8 305.3L367.3 306.4L368.8 307.5L370.3 308.6L371.8 309.8L373.3 310.9L374.8 312.1L376.3 313.3L377.8 314.4L379.3 315.6L380.8 316.8L382.3 318.1L383.8 319.3L385.3 320.5L386.8 321.7L388.3 323L389.8 324.2L391.3 325.5L392.8 326.7L394.3 328L395.8 329.3L397.3 330.5L398.8 331.8L400.3 333.1L401.7 334.3L403.2 335.6L404.7 336.9L406.2 338.1L407.7 339.4L409.2 340.6L410.7 341.9L412.2 343.1L413.7 344.4L415.2 345.6L416.7 346.8L418.2 348.1L419.7 349.3L421.2 350.5L422.7 351.7L424.2 352.9L425.7 354L427.2 355.2L428.7 356.3L430.2 357.5L430.2 360.7L428.7 359.5L427.2 358.4L425.7 357.2L424.2 356.1L422.7 354.9L421.2 353.7L419.7 352.5L418.2 351.3L416.7 350L415.2 348.8L413.7 347.6L412.2 346.3L410.7 345.1L409.2 343.8L407.7 342.6L406.2 341.3L404.7 340.1L403.2 338.8L401.7 337.5L400.3 336.3L398.8 335L397.3 333.7L395.8 332.5L394.3 331.2L392.8 329.9L391.3 328.7L389.8 327.4L388.3 326.2L386.8 324.9L385.3 323.7L383.8 322.5L382.3 321.3L380.8 320L379.3 318.8L377.8 317.6L376.3 316.5L374.8 315.3L373.3 314.1L371.8 313L370.3 311.8L368.8 310.7L367.3 309.6L365.8 308.5L364.3 307.4L362.8 306.4L361.3 305.3L359.8 304.3L358.3 303.3L356.8 302.3L355.3 301.4L353.8 300.4L352.3 299.5L350.8 298.6L349.3 297.7L347.8 296.9L346.3 296L344.8 295.2L343.3 294.5L341.8 293.7L340.4 293L338.9 292.3L337.4 291.6L335.9 291L334.4 290.4L332.9 289.8L331.4 289.2L329.9 288.7L328.4 288.2L326.9 287.7L325.4 287.3L323.9 286.8L322.4 286.4L320.9 286.1L319.4 285.7L317.9 285.4L316.4 285.1L314.9 284.9L313.4 284.6L311.9 284.4L310.4 284.2L308.9 284.1L307.4 284L305.9 283.9L304.4 283.8L302.9 283.8L301.4 283.8L299.9 283.8L298.4 283.8L296.9 283.9L295.4 284L293.9 284.1L292.4 284.3L290.9 284.5L289.4 284.7L287.9 284.9L286.4 285.2L284.9 285.5L283.4 285.8L281.9 286.1L280.5 286.5L279 286.9L277.5 287.4L276 287.8L274.5 288.3L273 288.8L271.5 289.4L270 289.9L268.5 290.5L267 291.2L265.5 291.8L264 292.5L262.5 293.2L261 293.9L259.5 294.7L258 295.5L256.5 296.3L255 297.2L253.5 298.1L252 299Z" fill="#999" fill-opacity="0.45"/>
<path d="M252 297.4L253.5 296.5L255 295.6L256.5 294.7L258 293.9L259.5 293.1L261 292.3L262.5 291.6L264 290.9L265.5 290.2L267 289.6L268.5 288.9L270 288.3L271.5 287.8L273 287.2L274.5 286.7L276 286.2L277.5 285.8L279 285.3L280.5 284.9L281.9 284.5L283.4 284.2L284.9 283.9L286.4 283.6L287.9 283.3L289.4 283.1L290.9 282.9L292.4 282.7L293.9 282.5L295.4 282.4L296.9 282.3L298.4 282.2L299.9 282.2L301.4 282.2L302.9 282.2L304.4 282.2L305.9 282.3L307.4 282.4L308.9 282.5L310.4 282.6L311.9 282.8L313.4 283L314.9 283.3L316.4 283.5L317.9 283.8L319.4 284.1L320.9 284.5L322.4 284.8L323.9 285.2L325.4 285.7L326.9 286.1L328.4 286.6L329.9 287.1L331.4 287.6L332.9 288.2L334.4 288.8L335.9 289.4L337.4 290L338.9 290.7L340.4 291.4L341.8 292.1L343.3 292.9L344.8 293.6L346.3 294.4L347.8 295.3L349.3 296.1L350.8 297L352.3 297.9L353.8 298.8L355.3 299.8L356.8 300.7L358.3 301.7L359.8 302.7L361.3 303.7L362.8 304.8L364.3 305.8L365.8 306.9L367.3 308L368.8 309.1L370.3 310.2L371.8 311.4L373.3 312.5L374.8 313.7L376.3 314.9L377.8 316L379.3 317.2L380.8 318.4L382.3 319.7L383.8 320.9L385.3 322.1L386.8 323.3L388.3 324.6L389.8 325.8L391.3 327.1L392.8 328.3L394.3 329.6L395.8 330.9L397.3 332.1L398.8 333.4L400.3 334.7L401.7 335.9L403.2 337.2L404.7 338.5L406.2 339.7L407.7 341L409.2 342.2L410.7 343.5L412.2 344.7L413.7 346L415.2 347.2L416.7 348.4L418.2 349.7L419.7 350.9L421.2 352.1L422.7 353.3L424.2 354.5L425.7 355.6L427.2 356.8L428.7 357.9L430.2 359.1" stroke="#111" stroke-width="1.6" fill="none" stroke-linejoin="round" />
<path d="M505.2 295.7h0M527.3 314.2h0M504 300.3h0M516.7 308.2h0M514.7 298.9h0M470.6 310.6h0M508.3 290.2h0M544.8 288.6h0M580.6 312.5h0M464.8 307.7h0M550 332.5h0M511 297.8h0M601.5 296.8h0M480.3 322.7h0M494.8 290.5h0M548.7 310.8h0M551.3 293.9h0M554.2 311.4h0M554.8 301.3h0M550.4 299.9h0M468.5 296.6h0M501.3 295.6h0M557.1 312.4h0M505.1 305.4h0M536.1 303.7h0M473.9 315h0M589.5 330h0M570 284.6h0M536.1 315.1h0M506.3 289.1h0M470.1 357h0M542 306.8h0M614.5 289.6h0M539.8 294.6h0M616.5 320.9h0M464.8 300.8h0M454.8 305.4h0M469.1 310h0M540.1 332.2h0M502 297.2h0M487.7 296.9h0M505 294.6h0M473.6 295.8h0M464.2 312.5h0M518.1 292.3h0M602 309.9h0M576.4 308h0M496.8 287.4h0M523.2 294.9h0M527.3 310.2h0M501.8 299.2h0M477.1 309.3h0M521.7 313h0M535.2 322.9h0M469 284.8h0M533.4 336.1h0M555 332.5h0M465.3 319.8h0M548.6 301.7h0M514.6 302.4h0M510.6 279.5h0M461 304.1h0M553 337.3h0M567.1 286.9h0M460.2 292.7h0M460 303.8h0M527.7 294h0M469.3 313.8h0M535.3 300.3h0M538.5 295.4h0M467.6 304.2h0M581.3 302.1h0M483 313.6h0M552.1 309.3h0M464.8 302.6h0M468.3 316.7h0M499.2 278.8h0M599.4 296h0M508.2 298.2h0M510.8 294.8h0M509 291.5h0M461.6 291h0M536.5 310.9h0M469.7 286.3h0M537.8 307.8h0M573.7 279.2h0M574.5 302.8h0M568.4 310.4h0M458.4 311.3h0M517.3 286.4h0M616.9 311.4h0M613.9 331.1h0M529.5 287.4h0M548.8 278.8h0M537.9 338h0M564.5 304h0M501.9 302.7h0M557.1 294h0M538 283.8h0M525.6 297.9h0M559.8 293.7h0M600 374.7h0M518.5 299.6h0M550.7 324.1h0M470.4 315.1h0M537.6 314.9h0M468.4 307.3h0M506.5 344.2h0M554.8 306.9h0M533.6 322.6h0M512 301.9h0M536 283.1h0M556.7 298.8h0M475 285.1h0M546.2 309.4h0M472.4 298.6h0M556.7 294.9h0M545.8 302.4h0M557.4 316.9h0M513.5 336.5h0M511.3 328.7h0M579 314.4h0M589.8 300.7h0M473.1 311.5h0M617 314.8h0M470 296.4h0M540.2 278.4h0M497.6 301.5h0M472.9 294.7h0M517.8 315.2h0M476.6 312.7h0M532.2 318.6h0M498.6 302.1h0M556.7 290.1h0M553.2 301.7h0M507.1 304.1h0M469.7 297.3h0M548.4 278.5h0M599.6 295.1h0M530 278.2h0M517.6 307.4h0M608.7 311.8h0M572.9 316h0M465.6 304.6h0M574.5 302.8h0M575 290.1h0M548.7 333.7h0M553.3 291.1h0M517.5 318.6h0M497.1 294.7h0M454.9 314.3h0M526.6 305.3h0M476.3 311.3h0M537.4 301.2h0M506.6 300.1h0M558.8 328.3h0M515.8 275.2h0M476.6 325.2h0M543.8 296.4h0M530 290.9h0M518.8 279.7h0M610.2 300.1h0M465.5 348.1h0M503.8 308.4h0M517.5 273.5h0M584.5 292.1h0M483.1 297.6h0M502.4 283.9h0M539.3 295.2h0M532.3 335.7h0M459.7 309.9h0M521.6 303.8h0M484.4 315.3h0M548.8 308.7h0M527.4 276.2h0M548.9 300.9h0M468.2 308h0M605.5 320.4h0M499.6 291.3h0M601.7 293.9h0M461.3 294.2h0M508.5 300.6h0M513.8 315.8h0M550.7 300.9h0M550.2 295h0M524.7 342.2h0M556.2 301h0" stroke="#a9a9a9" stroke-opacity="0.45" stroke-width="2.2" stroke-linecap="round" fill="none"/>
<path d="M468.4 317.8h0M551.6 309.9h0M504.3 306h0M553.5 278.5h0M609.7 327.3h0M601.2 310.5h0M594.6 318.3h0M470.5 307.1h0M483 297.4h0M532.3 306.7h0M511 306.1h0M525.5 299.3h0M507.9 289.6h0M511.3 273.7h0M535.4 304.9h0M531.6 311.1h0M470.4 326.6h0M470.5 348.9h0M546.8 312.4h0M538.2 280.4h0M515.4 294.5h0M531.7 301.2h0M537.8 287.3h0M552.6 307.6h0M630.5 332h0M534.6 302.8h0M522.5 299.6h0M509.6 328.6h0M551.5 320.3h0M511.2 295.4h0M552.5 300h0M497.2 295.5h0M520.3 287.7h0M466.3 308.2h0M530.5 301.7h0M547.8 318h0M466.5 306.5h0M556.7 302.2h0M471.5 311.8h0M508.1 289.9h0M518.3 300.8h0M494.5 274h0M517.4 297.6h0M613.5 313.2h0M514.6 295.4h0M496.5 294.8h0M541.7 297.6h0M543.3 303.5h0M548.3 281h0M521.6 297.3h0M455.5 310h0M487.4 287.8h0M605.9 304.4h0M571.5 340.1h0M581.2 322.8h0M552.1 273h0M557.1 298.6h0M511 303.4h0M501 304.4h0M501.5 300.7h0M596.4 310.5h0M511.9 297.9h0M507.6 291.2h0M503.1 308.2h0M543.7 299.9h0M545.2 295.3h0M574.4 279.9h0M503.2 307.1h0M541.1 294.6h0M608 289h0M464 346.4h0M561.4 324h0M529.8 293h0M470.4 306.5h0M522.3 294.8h0M554 285.3h0M615.7 316.5h0M583.4 322h0M499.2 298.8h0M616.3 320.5h0M506.2 293h0M526.4 286.3h0M495.3 298.2h0M546.6 293.3h0M556.4 324.6h0M588 289h0M533.7 307.9h0M497.9 302h0M475.6 303.2h0M545.7 303.6h0M630.5 296.1h0M471.2 317.6h0M541 297.7h0M474.9 310.1h0M474.6 284.5h0M590.5 319h0M460.7 296.2h0M616.3 299.1h0M513.2 290.2h0M561.7 294h0M504.8 278.7h0M467.9 322.1h0M473.9 308.8h0M461.9 304.8h0M522.1 281.1h0M563.3 328.3h0M457.3 276.8h0M505 302.4h0M605.3 294.9h0M593.8 342.8h0M476.1 306.6h0M496.4 296.7h0M476.2 316h0M566.7 299.7h0M549.9 304.6h0M570.2 307.3h0M470.1 312.7h0M535.5 303.6h0M577.9 294.6h0M468.9 310.6h0M550.7 294.3h0M500.6 334.7h0M550.3 303.3h0M559.6 305.2h0M506.2 298.4h0M466.3 317.5h0M493.4 300.7h0M508.7 291.8h0M549.4 343.5h0M468.9 302.2h0M527.1 305.9h0M517 309h0M467.6 306.5h0M553.7 310.5h0M553.7 298.1h0M577.4 295.2h0M552.6 292.2h0M512.4 298.5h0M462.5 312.4h0M561.3 281.9h0M556 290.3h0M599.5 290.3h0M571.1 331.2h0M542.1 326.6h0M535.6 292.8h0M533 307.4h0M576.2 329.9h0M529.7 298.9h0M502.2 281.2h0M460.2 354.4h0M503.4 295.8h0M597.7 304h0M505.9 275.8h0M619.6 313.5h0M458.9 319.1h0M459.7 305.9h0M581.7 305.2h0M503.1 286.1h0M511 287.7h0M516.1 300.9h0M472.6 323.8h0M503.2 276.9h0M467.1 309.1h0M543.3 300h0M519.3 312h0M526.2 302.6h0M546.8 333.2h0M545.6 308.6h0M557.4 291.6h0M579.4 322.1h0M524 296.6h0M550.8 288.7h0M573.8 293.3h0M540.6 299h0M570.8 293.9h0M612.3 332.9h0M593.7 309.7h0M537.2 294.9h0M556 286.7h0M544.4 302.6h0M495.2 292.4h0M516.8 285.4h0M468.2 306.3h0M569.1 359.2h0M582.6 319.5h0M476.8 297.4h0M509.6 295.7h0M553.3 307.8h0M478.3 323.7h0M578.6 306.4h0M547.9 295.3h0M496.8 306.1h0M462 290.8h0M566.3 309.7h0M457.6 309.5h0M521.7 300.3h0" stroke="#a9a9a9" stroke-opacity="0.45" stroke-width="2.2" stroke-linecap="round" fill="none"/>
<path d="M549.8 305.6h0M613.4 296.8h0M529.3 281h0M530.3 298.5h0M565.2 291.3h0M474 291.5h0M582.3 354.9h0M526.3 336.7h0M556.2 294.8h0M514.5 296h0M486.1 312.5h0M472.8 315.5h0M617.2 318.9h0M545.1 294h0M472.9 306.9h0M557.4 312.3h0M630.5 342.7h0M465.3 313.3h0M554.8 302.2h0M541 332.5h0M469.1 295.2h0M510.1 305h0M555.3 315.8h0M550.8 296.5h0M556 297.2h0M533.8 297.3h0M539.2 299.8h0M476 310.4h0M571.6 319.8h0M613 296.8h0M611.5 314.4h0M482 316.8h0M536.1 309.3h0M593 306.3h0M505.9 293.9h0M545.7 285.9h0M520.5 309.1h0M512.3 305h0M521.3 311.6h0M556.5 299.9h0M508.4 302.7h0M590.4 321.9h0M590.4 342.1h0M517.9 280.6h0M499.1 303.5h0M497.9 288.6h0M553.2 283.1h0M496.8 301.5h0M590.8 305.5h0M501.8 289.6h0M610 316h0M465.4 300.9h0M596.5 320h0M619.6 339.2h0M614.4 327.9h0M590.6 310h0M529.2 283.9h0M514.4 295.6h0M545.5 321h0M611 281.4h0M523 292.1h0M566.3 301.9h0M570 301.9h0M503.8 279.8h0M468.4 292.7h0M555.1 294.9h0M503.3 280.9h0M551.5 286.9h0M463.2 304.5h0M503 306.3h0M545.7 294.1h0M539.7 297.1h0M571.1 315.7h0M555.1 296.7h0M525.5 306.1h0M549.2 332.9h0M500.1 280.9h0M554 293.6h0M501.1 296.5h0M559.3 318.5h0M471.1 306.4h0M499.9 278.8h0M499.5 289.4h0M570.3 290.6h0M591.1 312.7h0M488.7 307h0M583.9 293h0M526.3 292.4h0M523.7 296.1h0M510.2 291.3h0M521.1 289.4h0M534.8 328.7h0M556.1 304h0M459.8 303h0M530 309h0M557 312.8h0M556.9 293.9h0M476.2 292.7h0M469.6 298h0M481.2 318.9h0M523.5 291.3h0M496.4 304.4h0M523.1 292.3h0M458.9 296.5h0M492.5 294.5h0M546.6 291.2h0M529 341.6h0M542.9 301.9h0M575.9 317.3h0M561 313.3h0M499.9 297h0M605.6 309.7h0M466.2 326.5h0M479.1 297.5h0M537.7 333.2h0M476.1 303.1h0M502.9 276h0M573.5 330.3h0M553 306.9h0M528.3 284.6h0M581.7 305h0M522.3 298.1h0M531.3 313.4h0M463.8 296.8h0M546.3 306.9h0M541.4 302h0M511 307.4h0M499.2 289.4h0M590.6 331.3h0M535.3 289h0M473.2 306.6h0M487.8 287.2h0M533.7 296.2h0M482.7 306.4h0M551.3 295.6h0M541.3 295.7h0M604.5 335.1h0M495.3 285.3h0M508.4 291.8h0M466.7 288.4h0M585.3 295.6h0M455.6 290.2h0M613.7 309.4h0M462.9 296.7h0M510.4 314.6h0M471.3 286.9h0M519.3 298.4h0M610.2 298.1h0M591.5 308.6h0M530.2 308.2h0M561.1 310.6h0M508.9 297.1h0M540.1 289h0M603.6 295.8h0M540 300.8h0M547 295.7h0M507.4 299.4h0M526 296h0M592.8 290.6h0M568.8 317.2h0M557.7 309.4h0M455.9 295.6h0M466.7 288.6h0M586.6 291.1h0M476.5 297.5h0M467 290.8h0M466.2 295.7h0M543.3 316h0M548.4 301h0M477 288h0M470.3 307.5h0M532.6 315h0M494.8 332.7h0M501.7 305h0M608.8 311.3h0M499.7 336h0M508.5 292.5h0M520.6 303h0M612.6 348.7h0M548.4 285.3h0M583.4 306.5h0M458.1 294.6h0M554.8 316.2h0M515.7 303.5h0M464.7 287.6h0M557.9 272.9h0M520.3 313.4h0M594.6 316.3h0M470.4 302h0M528.7 308.8h0M554.8 312.6h0M516 310h0M499.3 282h0M534.9 327.1h0M517.5 293.7h0M521.7 297.4h0M573.7 297.4h0M471.7 310.2h0M458.8 311.8h0M550.7 297.2h0M508.5 301.8h0M584.6 300.6h0M474.1 306.4h0M470.5 301.5h0M525.8 305h0M574.2 281.4h0M551.7 301.2h0M559.9 319.6h0M529.7 293h0M500.9 300.1h0M499.5 297.8h0M544.7 311.4h0" stroke="#a9a9a9" stroke-opacity="0.45" stroke-width="2.2" stroke-linecap="round" fill="none"/>
<path d="M509.4 311.2h0M547 303.9h0M527.9 298h0M517.8 341h0M519.7 306.6h0M549.6 294.7h0M574.6 309.7h0M505.9 282.5h0M577.8 306.7h0M509 303.3h0M509.2 299.7h0M594.7 311.9h0M630.5 327.2h0M473.7 309.6h0M473.1 298.1h0M615.8 324.3h0M503.2 326.5h0M474.6 307.7h0M600.4 341.8h0M484.3 303.6h0M465.1 308.1h0M594.9 315.5h0M476.8 329.3h0M512.4 306h0M498.2 288.4h0M568.8 305.3h0M545.1 304.1h0M520.7 282.6h0M554.4 304.5h0M616.5 314.7h0M595 312.6h0M597.1 283.8h0M553.5 290.4h0M515.6 299.6h0M524 284.3h0M524.1 282.5h0M490.7 325.2h0M550 298.9h0M467.4 336.8h0M617.1 301.1h0M467 351.2h0M466.7 303.4h0M517.2 314h0M506.9 305.7h0M554.2 311.2h0M524.8 271.9h0M504.6 292.4h0M603.3 292.3h0M501 297.3h0M555.2 310.1h0M620.2 303.9h0M519.2 283.6h0M501.3 290.9h0M469.6 299.3h0M505.8 294.4h0M530.5 302.9h0M533.9 309.8h0M538.4 315.3h0M464.4 306h0M503.7 292.3h0M465.1 295.3h0M528.5 291h0M615 314.9h0M565.9 299.6h0M473.6 313.8h0M518.5 302.4h0M499.6 284.4h0M476.9 319h0M486.8 315.8h0M566.3 275.1h0M493.8 321.1h0M512.4 294.1h0M476 310.9h0M519.6 307.8h0M519.2 286h0M530.2 292.3h0M609.6 301.5h0M522.9 292.2h0M548.2 296.7h0M454.6 302h0M565.5 297.8h0M536.1 310.4h0M584.5 307.4h0M540.1 277.4h0M454.6 303.8h0M530.9 282.4h0M572.6 292h0M590.1 304.9h0M537.5 292.6h0M476.1 316.7h0M600.9 297.7h0M455.2 309h0M565.1 336h0M464.6 305h0M546.5 316.9h0M582.3 310h0M616.3 335.8h0M565 314.8h0M602.8 301.6h0M469 301.1h0M473.1 292.7h0M587.4 291.8h0M464.8 297.8h0M578.5 324.2h0M473.9 295.4h0M580.5 308.1h0M541.7 297.6h0M616.1 308h0M468.2 286.3h0M514.2 299.5h0M537.9 299.9h0M541 308.2h0M471.9 298.4h0M457.5 306.9h0M534 312.2h0M481.7 308.7h0M489.4 299.6h0M459.6 311.5h0M518.6 287.5h0M543.3 295.3h0M592.3 314h0M508.4 297h0M506.4 292.2h0M509 300.5h0M578.8 308.8h0M472.3 306.2h0M519.9 288.1h0M524.1 282.2h0M540.6 295.3h0M534.2 297h0M611.3 285h0M608.8 309h0M559.8 289.2h0M544.7 308.9h0M508 322.8h0M550.3 291.4h0M565.5 296.9h0M472.4 309.3h0M551.7 296.5h0M486.2 301.1h0M569.8 316.1h0M548.2 280.5h0M537.1 292.3h0M543.1 299.7h0M512 310.4h0M506.2 306h0M509.3 297.9h0M573.1 280.2h0M552.9 320.8h0M473 295.3h0M522.3 298.4h0M537.5 295.2h0M543.3 309.7h0M616.9 307.7h0M525.4 290.7h0M584.3 355.6h0M520.4 295h0M526.1 292.6h0M529.9 331.6h0M561.1 326.2h0M463.4 303.6h0M552 295h0M473.6 295.1h0M546.1 296.8h0M514.1 295.6h0M520.3 295.9h0M489.3 297.7h0M530.2 297.7h0M543.9 292.1h0M549.8 301.4h0M467.7 352.4h0M553.2 296.6h0M571.2 293.7h0M519.4 318.5h0M526.6 304.5h0M616.4 302.9h0M535.5 308.5h0M548.7 308.5h0M502.5 279.7h0M521 301.4h0M542.6 285.6h0M454.7 297.8h0M505.6 305.5h0M468.5 315.6h0M465.6 319.2h0M553.8 292.6h0M536.4 286.5h0M599.1 326.6h0M553.8 298.2h0M551.4 311.5h0M508.4 304.1h0M508.8 309.1h0M554.7 290.2h0M517.7 327.7h0M482.5 303.3h0" stroke="#a9a9a9" stroke-opacity="0.45" stroke-width="2.2" stroke-linecap="round" fill="none"/>
<path d="M549.5 289.1h0M474.1 313.9h0M537.4 343.6h0M597.3 304.7h0M539.5 317h0M473.6 300.3h0M603.3 305h0M494.5 287.8h0M524 294.6h0M541.9 308.3h0M534 301.6h0M561.5 291.3h0M465.5 301.1h0M516.8 288.3h0M584.7 304.6h0M600.9 304.7h0M601.6 333.2h0M543.8 284.7h0M595.8 304.6h0M455.4 312.4h0M559.2 369.2h0M609.6 322.6h0M557.5 292.4h0M511.4 295.5h0M532.7 309.2h0M472.9 316.1h0M567 296.4h0M526.3 290.6h0M476.6 309.3h0M531 279.6h0M521.4 311.6h0M549.8 344h0M497.3 298.1h0M600 291.8h0M543.8 296.8h0M540 308.9h0M486.7 296.6h0M546.7 302.7h0M569.8 312h0M566.9 308.8h0M540.8 314.3h0M537.8 299.2h0M575 306.8h0M614.5 338h0M531.5 292.6h0M522 329.1h0M534.5 293.7h0M476.4 316.2h0M501.6 302.9h0M560.4 311.5h0M534.2 281.9h0M536.8 289.1h0M615.1 311h0M456.8 309.7h0M567.2 282.2h0M532.2 297.5h0M538 293.2h0M475.6 310.6h0M587 303.6h0M523.6 273.3h0M593.5 298.3h0M531.7 295.4h0M506 287.5h0M525.6 294.8h0M545 295.4h0M496.3 299.7h0M459.9 311.2h0M531.1 301.8h0M561.7 303.9h0M515.4 306.3h0M469.1 310.7h0M473.7 319.9h0M475.5 318.4h0M477 288.1h0M554.5 318.4h0M485.5 309.9h0M470.1 315.8h0M518.5 300h0M506.4 294.2h0M584.3 307.3h0M476.6 301.6h0M555.4 310.6h0M541.2 284.9h0M529.6 312.1h0M480.1 306.7h0M571.5 308.8h0M475.4 317h0M519.7 298.1h0M495.9 291.8h0M456.7 290.1h0M503.1 292.9h0M464.8 306.3h0M550.2 300h0M603.4 306.4h0M476 311.1h0M483.3 280.5h0M562.6 300.3h0M460.6 302.2h0M514.7 297.8h0M515.5 309.5h0M593.8 349.6h0M527.8 278.9h0M519.6 284.4h0M574.1 302h0M466.1 295.9h0M468.8 328.1h0M613.5 310.6h0M472 298.3h0M538.1 333.5h0M457.5 288.7h0M464.3 319.9h0M541 283.3h0M575.6 303.5h0M457.3 305.2h0M466.6 305.1h0M479.6 296.9h0M568.6 292.4h0M531.8 296.9h0M557.7 283.7h0M545.4 283.7h0M546.5 324.3h0M554.2 304.8h0M528.5 292.7h0M502.5 295.4h0M521.7 338.3h0M578.9 292.2h0M554.7 299.4h0M596.9 284.6h0M549.9 298.5h0M464.1 303.5h0M479.9 311.2h0M538 292.8h0M618.9 322.2h0M469.2 303.7h0M547.9 309h0M613.4 302.4h0M556.8 300.5h0M457.5 293.6h0M455.4 308.6h0M504.4 306.2h0M471.9 327.8h0M469 305.1h0M541.8 300.7h0M496.2 295.6h0M461.2 295.2h0M469.4 292.6h0M585.2 313.3h0M611.9 301.3h0M617.6 300.5h0M511 293.7h0M519.9 293.4h0M513.2 276.2h0M541.7 302.9h0M503 301.3h0M461.5 304.5h0M596.3 317.9h0M495.2 300.5h0M554.5 303.1h0M515.3 291.8h0M610.7 318.5h0M513.7 288.4h0M460.2 317.5h0M460.3 298.3h0M532.2 283.5h0M611.4 363.3h0M540.8 295.9h0M466 295.7h0M570 326h0M556.2 291.5h0M469.5 276.4h0M493 285.5h0M501.1 279.6h0M518.2 293.8h0M471.3 310.8h0M510.1 281.3h0M501.9 318.7h0M557 304.6h0M511.6 299.4h0M586.7 297.3h0M522.1 303.4h0M547 331h0M539.5 304h0M530.1 311.5h0M542.9 342.1h0M548.2 310.6h0M606.1 296.5h0M526.1 300.5h0M576.7 282.8h0M474.7 309.9h0M502.1 300.3h0M606.8 311.9h0M474.3 306.4h0M600.7 285.9h0M464.8 304.8h0M630.5 324.5h0M467.2 325.4h0M537.8 289.7h0M524.2 311.6h0M548 304.8h0" stroke="#a9a9a9" stroke-opacity="0.45" stroke-width="2.2" stroke-linecap="round" fill="none"/>
<path d="M555.1 323h0M547.7 302.8h0M552 287.9h0M607.2 307.9h0M521.2 303h0M562.6 305.4h0M541.8 284.1h0M462.9 312.3h0M468.6 290.9h0M560.4 300.4h0M551.3 306.9h0M528.9 284.3h0M548.1 307.7h0M524 286.7h0M606.3 294.9h0M512.1 294.6h0M546.4 293.8h0M556.6 281.1h0M474 296.3h0M599.8 366.2h0M503.2 310.8h0M473.3 315.4h0M543.1 312.9h0M552.3 302.3h0M529.5 298.6h0M539.4 287.3h0M474.4 314.8h0M578.2 310.5h0M609.5 295.6h0M485.4 305.7h0M476.7 311.4h0M509.7 282.3h0M538.2 291.7h0M511.2 305.1h0M556.3 280.9h0M522.1 295.1h0M507.8 279.7h0M576.3 312.5h0M551.2 294.4h0M568.1 298.4h0M503 288.2h0M546.4 286.3h0M515.3 294.4h0M507.7 286.6h0M497.3 293.2h0M556 309.5h0M473.8 311h0M584.5 287.7h0M607.4 353.8h0M567.5 314.1h0M505.1 288.5h0M470.3 298h0M508.2 317.3h0M466.7 309.1h0M555.9 309.8h0M542.8 303.5h0M521.8 340.9h0M464.8 300.8h0M552.1 295.9h0M487.9 302.5h0M630.5 293.7h0M500.6 293.9h0M504 303.9h0M599.9 311h0M510.1 287.8h0M532.1 283.7h0M497.6 295.9h0M602.2 310.2h0M463.9 299.9h0M519.4 275.5h0M590.7 307.6h0M537.9 339.9h0M603.5 317.9h0M522.6 299.7h0M542.5 341.7h0M556.9 287.5h0M499.3 305.4h0M510.4 279.9h0M517.7 298.6h0M524.2 312.9h0M537.1 296.7h0M502.7 293.1h0M474.8 307.9h0M466.9 303.7h0M495.5 300.4h0M530.6 292h0M547.5 302.5h0M474.5 292.3h0M548.8 308h0M534.7 298.7h0M474.4 304.1h0M502 295.2h0M537.8 284.1h0M469.8 303.5h0M470.5 294.2h0M597.2 312.3h0M455.2 300.6h0M551.8 337.2h0M501.2 287.2h0M528.2 311.7h0M500 302.2h0M556.1 288.4h0M461 298.5h0M525.6 317.1h0M553.5 300.2h0M568.6 321.7h0M485 317.1h0M536 277.5h0M530.7 289.8h0M544.8 297.8h0M580.8 310.6h0M536.2 299.5h0M594.4 321.1h0M549.9 282.4h0M466.9 316h0M519 304.5h0M630.5 338.2h0M526.7 294.1h0M472.9 298.8h0M557.2 277.1h0M460.3 305.8h0M466.8 323h0M533.3 294.4h0M467.1 317.1h0M567.9 339.6h0M501.8 306h0M538.2 297.3h0M616.7 303.7h0M485.9 304.7h0M557.1 310.7h0M522.5 315.9h0M519 308.3h0M499.8 295.8h0M619.7 310.5h0M550.1 303h0M494.2 305.7h0M550.2 323.6h0M523.5 293.8h0M476.9 302.4h0M618.2 298.4h0M591.4 334.9h0M572.9 302.6h0M597.2 347.9h0M615.2 313.3h0M607 302.1h0M572.2 296.5h0M603.1 292h0M472.4 303.9h0M459.7 302.6h0M475.8 294.4h0M525.2 288.1h0M459.1 297.5h0M574.4 313.3h0M538.5 283.7h0M528.8 283.1h0M518.3 284.4h0M492.6 284.7h0M519.1 298.4h0M615.9 315.8h0M463.7 295.7h0M465.8 340.1h0M540 280.6h0M526.4 288.2h0M630.5 307.9h0M533.8 337h0M557.1 301.8h0M468 297.9h0M565.2 313.6h0M524 342.6h0M503.2 300h0M467.1 309.5h0M612.5 307.4h0M535.5 309.4h0M536.1 315h0M540.1 293h0M502 308.8h0M464.1 303.6h0M592.3 289.9h0M512.2 299.5h0M552.6 290.6h0M506.9 302.4h0M495.6 303.3h0M543.8 343.6h0" stroke="#a9a9a9" stroke-opacity="0.45" stroke-width="2.2" stroke-linecap="round" fill="none"/>
<path d="M584.4 313.5h0M559.3 291.6h0M487.1 305.4h0M497.4 287.6h0M476.2 316.4h0M530.9 335.5h0M594.1 339.3h0M532.6 289.5h0M481.9 320.4h0M596 287.6h0M563.5 308.2h0M471 296h0M472.5 288.8h0M617.4 304.8h0M474.7 303.3h0M504.4 295.9h0M515.3 307.9h0M456.3 305.3h0M498 282.8h0M518 305.8h0M513.8 289.3h0M533.4 302.6h0M540.1 291.6h0M467.4 313.2h0M590.4 305.8h0M585.6 285.6h0M561.1 312.2h0M619.6 325.1h0M529.6 289h0M460.4 285.2h0M542.7 321.1h0M544.7 295.6h0M546.9 319.8h0M543.8 299.4h0M617.4 332.7h0M551.8 301.7h0M500.8 293.8h0M476.2 310.7h0M523.9 308.4h0M545.2 308.6h0M495.9 297.7h0M546.4 285.8h0M569.9 305.3h0M630.5 293.5h0M588.2 314.3h0M499.4 288h0M531.1 304h0M534 287.4h0M532.3 309.2h0M483.3 307.7h0M536.9 284.2h0M464.8 306.6h0M516.3 282h0M553.3 296h0M585.1 329.1h0M466.7 311.6h0M568.7 293.5h0M475.1 325.4h0M497.7 289.5h0M496.2 287h0M497.1 283.8h0M528.8 276.5h0M495.8 288.1h0M497.7 297.2h0M498.7 298.1h0M548.5 283.3h0M459.8 299.7h0M467.1 301.5h0M487.2 296.8h0M504.2 287.9h0M556.5 288.9h0M505.9 290.6h0M526.2 286.1h0M468.3 297.7h0M530 302.4h0M551 322.5h0M592.4 326.7h0M545.4 289.4h0M547.8 317h0M569.7 298.9h0M462.1 349.2h0M564.6 295.5h0M517.8 301h0M486.6 302.3h0M539.2 295.2h0M539.8 293.3h0M574 328.4h0M540.9 306.4h0M498 313.6h0M463.6 295.6h0M536.5 282.4h0M495.7 305.4h0M498.5 294.6h0M540.7 280.1h0M598.4 300.5h0M542.6 295.8h0M468.6 300.6h0M497.3 295h0M527.7 313.6h0M528 289.9h0M460.4 288.8h0M518.1 304.8h0M589.7 287.8h0M475 308.6h0M505.2 303.7h0M460.7 301.4h0M534.4 289.8h0M513.1 337.1h0M504.8 308.9h0M601.3 298.9h0M554.9 309.3h0M546 303h0M532.8 296.9h0M505.5 299.2h0M555.1 303.4h0M553.5 313.4h0M494 292.2h0M461.5 311.9h0M545.4 296.7h0M476.8 287.4h0M505.8 292h0M529.3 272.7h0M630.5 297.1h0M457.1 315.6h0M530.4 298.5h0M456 292.2h0M519.4 297.1h0M536.6 323.2h0M525.7 310h0M505.1 312.9h0M497.1 284.9h0M575.4 309.1h0M532.3 280.8h0M526.3 304.8h0M593.4 334h0M514.8 282.4h0M539.5 331.2h0M522.9 295.1h0M515.3 338.1h0M581.5 340.4h0M470 303.6h0M506.8 318.7h0M500.7 291h0M506.1 303h0M609 311.4h0M500 288.1h0M549 294.7h0M539.8 292.8h0M515.3 281.6h0M526.4 298.6h0M556.2 284h0M541.5 300.8h0M570.5 310.9h0M497.6 290.3h0M585.3 308.3h0M607.9 282.7h0M538.1 285h0M472.1 300.2h0M515.7 301.5h0M500.7 297.3h0M569.5 317.4h0M615.5 320.5h0M527.1 298.3h0M556 307h0M596.4 306.4h0M534.2 309.2h0M514.3 304.7h0M548.7 298.7h0M524.5 298.2h0M542.7 289.7h0M508.5 291.4h0M495.7 290.5h0M553.4 302.6h0M463.4 295.9h0M553.6 303.9h0M522.6 299.7h0M584.4 302.8h0M530.6 296.2h0M457.9 315h0M569.1 295.2h0M495.3 292.4h0M463.5 310.7h0M467.7 301.4h0M461.8 293.9h0M543.4 314.9h0" stroke="#a9a9a9" stroke-opacity="0.45" stroke-width="2.2" stroke-linecap="round" fill="none"/>
<path d="M468.3 300.8h0M463.3 310.7h0M553.1 286.8h0M520.2 295.9h0M458.2 316.1h0M561.3 322h0M520.7 299.2h0M474.5 277h0M473.2 291h0M493 296.7h0M514.2 280.8h0M542.1 289.3h0M556.4 322h0M511.7 292.3h0M543.5 291.3h0M465.8 291.3h0M554.9 289.6h0M527 308.2h0M568.2 299.5h0M506.6 302.6h0M496.5 290.8h0M548.8 306.4h0M519.7 292h0M596.3 317.2h0M543.7 295.9h0M539.7 295.9h0M550.4 293.4h0M521.7 310.2h0M619.3 288.7h0M506.9 287.1h0M536 307.3h0M552.1 319.3h0M538.4 318.2h0M537.6 295h0M473.1 304.8h0M630.5 303.2h0M505.2 283.4h0M531.7 286.1h0M473.5 312.1h0M556 303.3h0M460.7 296.6h0M558.6 326.3h0M579.3 324.4h0M526.6 299.5h0M540.3 281.7h0M539.3 294.8h0M553.4 301.9h0M493.2 302.4h0M526.3 307.4h0M461.6 305.7h0M532.3 306.2h0M545.1 330.3h0M597.2 324.7h0M566.7 316h0M457.5 301.9h0M470.7 312.5h0M494.8 281.1h0M475.1 297.1h0M476 320.6h0M555.9 309.4h0M538.6 293.2h0M510.2 289h0M496.1 278.7h0M480 308.3h0M473.6 319.5h0M527.5 285.2h0M613.8 371.7h0M576 335.3h0M499.1 310.4h0M564.5 298.7h0M474.4 306.6h0M495.8 338.3h0M515.5 293.1h0M513.4 291.7h0M514 306.7h0M474 310.9h0M514.9 300.5h0M495.3 305.7h0M521.2 298.1h0M467.4 324.7h0M464.6 291.1h0M546.3 297.9h0M537 280.4h0M512.5 295.7h0M524.2 300.4h0M519.5 298.3h0M614.6 302.1h0M522.6 309.9h0M539.7 294.1h0M455.5 327.5h0M534 296h0M501.8 309.7h0M573.8 280.6h0M493.9 297.7h0M585.5 283.9h0M588.8 307.2h0M501.4 300h0M505.3 289.3h0M488.1 307.5h0M470.1 309.5h0M524.3 282.1h0M536.5 297.1h0M501 294.1h0M519.7 291.1h0M556.3 305.8h0M530.5 302.6h0M608.6 306.2h0M544.6 292.9h0M555.9 325.6h0M550.5 307h0M495.5 275.3h0M552.3 315h0M526.2 290.4h0M473.4 297.8h0M474.6 298.6h0M537.4 294.4h0M592.8 294.2h0M526.6 291h0M463 309h0M594.1 320h0M496.7 283.7h0M465.7 355.1h0M502.9 335.9h0M484.1 289.9h0M541.4 303.8h0M598.5 295.3h0M539.3 286.2h0M550.6 286.6h0M581.3 294.9h0M471.6 315.3h0M598.6 311.7h0M592 315.8h0M614.5 316.6h0M543 291h0M496.4 310.1h0M579.8 314.6h0M471.3 310.4h0M519.9 299.7h0M509.7 296.3h0M505.9 295.5h0M581.7 294.3h0M472.3 319.7h0M612.2 326.3h0M515.3 314h0M500.2 297.9h0M507.5 313.8h0M541.3 301.1h0M530.7 310.6h0M544.4 283.6h0M612.2 297.3h0M532 288h0M495.3 284.5h0M598.3 309.7h0M474.6 282.1h0M547.8 302.7h0M475.4 311h0M516.9 289.7h0M594.6 311.1h0M522 304.7h0M608.1 324.9h0M552.9 288.3h0M611.2 303.4h0M487.3 313.5h0M534 302.9h0M546.2 297.6h0M516.1 297.3h0M594.8 357.9h0M466.5 288.1h0M534 288.5h0M555.4 302.3h0M505.8 297.5h0M530.5 310.4h0M513.7 290.1h0M532.6 290.4h0M552 317.9h0M536.5 311.7h0M545.1 339.5h0M464.7 311.8h0M532 301.6h0M506 299.6h0M507.4 301.6h0M602.5 315.7h0M467.5 301.2h0M566.3 282h0M521.5 291.4h0M536.9 296.8h0M504.8 301.3h0M557.1 289.1h0M540.2 285.3h0M616.3 328h0M546.2 286.3h0M504.9 303.9h0M502.9 290.9h0M506.7 291.9h0" stroke="#a9a9a9" stroke-opacity="0.45" stroke-width="2.2" stroke-linecap="round" fill="none"/>
<path d="M602.1 298.8h0M555.5 299.2h0M466.3 304.1h0M522.3 306.4h0M517.2 308h0M461.3 289.8h0M594.7 316.9h0M474.9 295.8h0M610.1 302.5h0M461.7 304.2h0M543.7 318.8h0M611.4 314.2h0M513 336.8h0M554.1 312.3h0M517.1 291.2h0M541.2 284.7h0M546.7 294.2h0M510.2 289.2h0M506.4 323.2h0M543.1 317.3h0M536.2 306.8h0M523.8 301.1h0M543.4 321.4h0M526.1 299.4h0M630.5 327h0M462.9 328.5h0M543.3 300.3h0M538.9 310.7h0M575.6 312.2h0M470.3 307.1h0M579.3 294.4h0M506.9 296.4h0M526.3 337.5h0M508.1 286h0M530.3 283.8h0M618.3 306.2h0M598.4 305.6h0M467.9 297.1h0M495.7 290.5h0M585.2 289.8h0M517.3 287h0M510.3 297.9h0M503.7 297.5h0M499 298.3h0M535.8 283.5h0M501 292.6h0M517.8 287h0M515.4 281h0M561.5 299.2h0M522.5 303h0M556.8 309h0M522.9 285.5h0M554.6 300.6h0M528.2 304.9h0M533.2 334.3h0M559.9 306.7h0M460.6 301.9h0M533.9 281.5h0M550.1 287.8h0M530.6 313.2h0M522.3 313.3h0M496.9 297.2h0M537.7 298.3h0M569.8 298.3h0M476.7 287.4h0M510.4 281.1h0M556.3 305.1h0M511.3 304.3h0M618.8 298.7h0M520 293.6h0M470.3 299.1h0M530.7 295h0M592.1 307h0M509.2 298.4h0M564.7 314.1h0M522 299.5h0M463.5 289.1h0M495.5 284h0M532.7 310.2h0M530.6 302.1h0M476.2 301.3h0M533.8 307.6h0M460 319h0M599.3 312.6h0M464.8 302.1h0M521.9 292.2h0M591.8 328.6h0M534.1 322.3h0M496.5 311.6h0M490.6 293.5h0M546.4 299h0M530.6 307.6h0M534.5 311.5h0M501.6 304h0M553.1 322.2h0M502.3 293.1h0M601.1 301.1h0M508.2 305.1h0M549.3 302.1h0M512.9 311.7h0M580.6 301.4h0M509.3 294.2h0M583.9 305.2h0M617.5 317.2h0M559.5 370.9h0M470.1 288.5h0M463.5 285.1h0M537.9 332.5h0M511.9 293.8h0M615.8 302h0M539.8 309.3h0M534.3 290.3h0M600.5 290.9h0M581.9 301.1h0M612.2 308.7h0M580 308.1h0M608.2 284.3h0M544.3 318.1h0M460.7 300.8h0M538.1 308.1h0M506.7 311h0M551.8 293.1h0M558.4 310.7h0M534 291.5h0M502.9 315.1h0M577.7 292.3h0M618.1 303.6h0M506.3 301.8h0M473.9 299h0M516.8 283.8h0M499.7 278.5h0M510 291.4h0M613.3 312.9h0M527.3 300.4h0M516.2 285.8h0M475.5 312.5h0M602.9 292.8h0M548.4 291.3h0M544.5 329.2h0M538.1 316.2h0M524.4 291h0M615.7 302h0M530.4 297.9h0M526.1 285.7h0M611.5 307.9h0M515.2 299.3h0M532.4 303h0M507 308.4h0M462.8 309.2h0M535.9 294.1h0M545.6 310.6h0M580.8 293.5h0M555.2 289.3h0M470.6 303.2h0M496.5 288.8h0M510.7 311.3h0M600.5 292.9h0M526.5 287.7h0M521.3 292h0M539.4 281h0M504.6 298.4h0M506.3 289.8h0M494.6 294.6h0M457.7 305.4h0M503.1 293.3h0M488.7 302.3h0M460.9 343.4h0M468.7 283.7h0M473.7 312.2h0M462.1 298.8h0M524.9 298.1h0M460.6 309.1h0M482.4 316.4h0M541.3 304.3h0M552.4 308.9h0M546.2 309.5h0M567.6 366.9h0M468.6 292.5h0M539.5 300h0M536.3 292.4h0M508.7 291.7h0M545 307.3h0M614.6 295h0M523.1 285.3h0M573.7 293.3h0M474.3 310.4h0M535.2 312.6h0M605.2 336.9h0M499.4 309.9h0M555.9 301.8h0M573.2 323.4h0M520.3 287.8h0M499.3 316.1h0M525.4 282.6h0" stroke="#a9a9a9" stroke-opacity="0.45" stroke-width="2.2" stroke-linecap="round" fill="none"/>
<path d="M594.9 319.7h0M569.3 316.7h0M551.7 293.6h0M510.1 294.4h0M554.1 330.5h0M518.1 300.4h0M529.8 290.5h0M537.5 287.1h0M480.1 303h0M531.1 280.4h0M612.9 302.5h0M573.1 307.1h0M553.6 318.2h0M556.6 338.5h0M556.2 294.1h0M614 308.5h0M512.3 282.3h0M590.1 295.5h0M528.4 309.6h0M495.5 307.2h0M529 310.1h0M590.3 312.4h0M546.6 298.2h0M589 318.5h0M472.4 317.9h0M535.2 308.2h0M510.1 297.9h0M559.8 337.1h0M596.2 319.5h0M610.8 301.9h0M521.4 301.1h0M512.3 288.9h0M530.1 300h0M556 282.6h0M513.6 298.4h0M504 298.9h0M550.7 286.2h0M470.9 308.7h0M456.2 307.9h0M502.9 338.2h0M553.3 294h0M520.8 278.6h0M514.1 293.2h0M583.5 309.6h0M474.5 304.3h0M522.1 292.7h0M590.3 326.8h0M569 310.5h0M556.9 288.2h0M616.9 304.6h0M548.9 295.2h0M603.9 289h0M518.8 289.6h0M475.1 315.4h0M596.6 311.6h0M532.2 288.6h0M554.5 300h0M460.8 312h0M462.9 316h0M547.2 324.7h0M605.7 362.3h0M465 303.1h0M538.8 310.1h0M508.7 315.8h0M609.6 284.2h0M604.6 313.8h0M548.9 284.4h0M619.2 292h0M588.3 294.2h0M509 290.7h0M508.9 311.7h0M554.5 296.7h0M524 288.4h0M511.9 284.8h0M519.8 315.8h0M460.2 297.4h0M502.8 297.9h0M575 290.5h0M552.8 284.1h0M466 315.1h0M513.8 290.1h0M524.8 296.7h0M542.2 344.4h0M549.5 294.3h0M609.4 293.6h0M502.9 300h0M599.3 297.2h0M552.2 306h0M471.2 303h0M470 295.1h0M457.5 315.8h0M555.2 295.8h0M549 311h0M551.6 288.6h0M474 309h0M499.5 292.5h0M517.3 272h0M577.3 299.1h0M592.4 295.8h0M521.7 298.1h0M513.6 305.3h0M457.7 302.3h0M549.7 287h0M539.6 292.7h0M614.7 290.8h0M466.5 328h0M561.1 294.2h0M510.7 290.6h0M513.8 340.3h0M595.6 294.3h0M524.5 280.8h0M545.4 293h0M546.7 304.9h0M465.3 321.2h0M602.3 297.5h0M630.5 323.3h0M530.7 301.4h0M515.7 305.2h0M539.7 311.5h0M566 289.3h0M515.2 289.4h0M569.4 292h0M498.8 297.8h0M525.3 275.8h0M487.3 306.8h0M496.7 299.4h0M511.1 279.5h0M620 326.2h0M579.7 313.1h0M584.3 307.3h0M464.3 291.9h0M544.6 296h0M609.5 295.2h0M563.7 305.8h0M527.6 289.4h0M536.4 302.6h0M530.4 322.6h0M521.4 297.4h0M506.2 305.7h0M590.4 320.1h0M462.2 307.4h0M540 295.9h0M462.8 296.1h0M560.1 285.4h0M552.1 296.1h0M571.4 289.8h0M550.9 308.3h0M576.5 321h0M471.4 312.7h0M620.1 313h0M510.4 300.2h0M501.4 288h0M459 306.6h0M596.4 301.9h0M496.7 314.1h0M583.9 315.4h0M540.1 300.5h0M557 307.8h0M505.6 286.1h0M549.4 308.1h0M601.8 353.8h0M475.1 309.5h0M529.5 285.2h0M581 317.3h0M541.4 294.8h0M470.8 319.6h0M495.6 294h0M463.8 314.4h0M490.6 303.6h0M593.6 305.1h0M598.4 299.8h0M541.3 281.2h0M492 303h0M463.5 300.5h0M556.4 288.7h0M557.6 336.6h0M529.1 287.4h0M485.4 305h0M543.1 274.1h0M537 311.1h0M522.6 334.8h0M471.9 337.4h0M462.5 305.5h0M496.4 282.1h0M530 304.2h0M495.5 320.9h0M544.9 294.3h0M464.6 308.2h0M551.9 315.7h0M541.8 296.1h0M581.5 295.3h0M615.9 297.4h0M591.2 297.9h0M606.2 345.8h0M613.8 327.7h0M536.2 272h0M522.6 299.2h0M498.5 287.6h0M505.1 289.6h0" stroke="#a9a9a9" stroke-opacity="0.45" stroke-width="2.2" stroke-linecap="round" fill="none"/>
<path d="M530.5 307.9h0M463.5 306.9h0M472.8 283.1h0M466.4 317.5h0M620.1 302.6h0M483.1 304.7h0M556.8 295h0M507.9 299.6h0M527.4 301.1h0M462.7 303.7h0M587 302.3h0M563.3 292.8h0M506.4 300h0M481.6 298h0M466.3 293.3h0M515.6 286.6h0M590.2 335.5h0M550 292.7h0M464.3 313.6h0M472.1 317.5h0M575.5 318h0M469.4 296.5h0M555 307.5h0M613.7 298.6h0M630.5 294.6h0M591.3 343.2h0M552.3 289.6h0M464.7 302.3h0M539.6 304.8h0M538.3 302.8h0M541.9 320.3h0M548.4 275.4h0M588.3 310h0M600.5 286h0M613.8 310.7h0M469.4 277.6h0M570.3 312.2h0M502 286.6h0M516.8 288.9h0M462.7 305h0M548.7 315.3h0M459.8 301.6h0M532.3 295.9h0M474.8 303.6h0M558.6 292.4h0M520.3 277.8h0M509.2 293.9h0M503 308.9h0M587.9 320.2h0M552.9 299.4h0M600.8 296.7h0M539.6 298.4h0M475.2 324.7h0M523.9 317h0M519.2 300.8h0M541 309.1h0M561.5 318.4h0M588.1 318.4h0M516.8 296.1h0M536.6 273.6h0M466.8 303.9h0M511.7 292.3h0M588.4 298h0M479.4 288.9h0M456.9 305.2h0M543.1 292.7h0M543.3 300.9h0M548.3 301h0M568.6 291.2h0M463.7 294.6h0M532.6 311.3h0M531.3 278.5h0M494.8 296.7h0M458.1 313.3h0M530.5 306.9h0M468.9 313.9h0M549.5 311.6h0M565.8 304.5h0M460.8 311.8h0M481.1 315.2h0M579.6 307.7h0M472.6 307.6h0M469.8 320.8h0M501.1 323h0M534.3 304.8h0M554.1 303.2h0M541.3 302h0M539.9 316.2h0M514.5 293.2h0M552 281.4h0M539.7 298.2h0M543.3 304.8h0M601.3 305.6h0M503.2 297.7h0M532.6 337.8h0M478.5 316h0M545.3 294.9h0M476.4 300.6h0M560.3 316.1h0M546.2 310.9h0M543.3 292.6h0M503.9 284.8h0M475.2 321.7h0M601.3 302.5h0M491.2 289.5h0M514.9 282.1h0M548.7 304.7h0M553 304h0M457.9 310.2h0M540.2 295.3h0M522.5 295.5h0M533.6 293.6h0M500.5 291.5h0M518.9 285.5h0M502.7 292.3h0M520.4 296h0M520.9 291.7h0M608.1 301.2h0M514.8 301.9h0M508.5 298.6h0M495.4 291.4h0M500.2 288.3h0M580.7 343.6h0M533.8 305.4h0M518.3 296.9h0M494.9 304.7h0M596.3 313.9h0M541.7 307.2h0M606.9 308.5h0M500.5 293.8h0M566.1 304.8h0M494.1 278.6h0M504.4 298.9h0M517.7 300.3h0M532.3 307.9h0M585.8 305.1h0M496.7 292.1h0M465.4 306.6h0M535.6 297.1h0M465.2 291.8h0M517.7 309.3h0M512.9 277.6h0M600.4 316.7h0M540.1 303.5h0M552.8 283.3h0M462.4 302.2h0M542.2 303.2h0M556.1 292.4h0M539 302.4h0M552.9 303.8h0M507.1 303.8h0M488.6 290.9h0M505.3 294.4h0M518.2 287.1h0M543.3 287.2h0M607.9 276.1h0M587.9 306.6h0M535.8 295.1h0M524.3 284.2h0M462 300.5h0M515.4 291.5h0M549.5 301.4h0M499.8 298.2h0M582.4 352.8h0M545.1 296.1h0M510.2 313.8h0M556.4 309.5h0M537 321.2h0M545 291.6h0M529.6 304.2h0M500.2 295.9h0M553.4 299.8h0M600.7 315.4h0M524 313.2h0M516.9 292.5h0M534.2 302.9h0M544.9 296.8h0M577.7 286.2h0M502.3 294.2h0M608 319.5h0M459.9 302.5h0M601.1 308.1h0M616.6 314.7h0M522.1 285.2h0M597.3 321h0M548.3 312.4h0M500.2 305.9h0" stroke="#a9a9a9" stroke-opacity="0.45" stroke-width="2.2" stroke-linecap="round" fill="none"/>
<path d="M501.6 286.2h0M537.4 305.8h0M573 288h0M575.8 309.7h0M555.4 293.8h0M461.4 286.8h0M542.3 301.5h0M552.7 297.9h0M464.2 329.5h0M548.1 296.2h0M563.9 311.6h0M507.7 300.2h0M528.5 289h0M534.9 286.2h0M600.6 324.3h0M538 299.6h0M547.4 320.5h0M589.8 295.3h0M496.6 336.1h0M471.3 309.7h0M526.1 289.8h0M608.1 316h0M476.2 306.2h0M560.5 309.8h0M590.6 302.2h0M508 282.1h0M477.1 313.7h0M536.1 296.1h0M530.5 292.8h0M469.2 328.2h0M502.7 302.8h0M542.1 322.2h0M606.4 309.2h0M465.6 303.6h0M461.1 296.6h0M507.1 298.9h0M562.6 287.3h0M496.3 291.8h0M598.6 292.6h0M530.4 304.8h0M460.2 316.5h0M467.3 292.5h0M472.8 305.9h0M554.9 295.9h0M595.6 290.5h0M470 293.3h0M553.3 281.4h0M486.5 302h0M473.7 308h0M605.7 272.9h0M583.5 305.7h0M464.5 290.7h0M614.1 307.5h0M551.9 286.2h0M502.3 278.6h0M618 301.6h0M497.9 324.2h0M630.5 299.7h0M616.9 320.1h0M601 317.2h0M475.8 301.5h0M473.3 314.9h0M607.1 306h0M512.4 288.4h0M492.5 301.4h0M546.7 280h0M513.1 311.7h0M548.5 298.8h0M537.9 295.9h0M549.6 309.2h0M554.9 293.3h0M597.7 310.6h0M517.9 284.1h0M502.6 315.5h0M531.6 302.7h0M496 293h0M590.4 293.2h0M548.2 298.8h0M472.6 291.4h0M524.9 286.3h0M458.1 313.7h0M494.3 293.8h0M492.2 298.6h0M466.2 281.8h0M551.2 286.9h0M544.8 298.1h0M507.2 284.6h0M514.3 282.9h0M521.3 306.4h0M529.4 328.7h0M540 280.3h0M499.3 284.2h0M533.6 287.2h0M570.3 319.6h0M541.6 297.2h0M510 298.4h0M538.7 308.2h0M542.1 309.6h0M560.5 352.7h0M461.6 288.6h0M476.6 314.4h0M541.5 318.9h0M538.7 303.8h0M468.2 307.7h0M535.8 299.1h0M540.1 297.3h0M546.6 300.6h0M506.3 315.9h0M474.8 299.5h0M498 293.4h0M520.7 292.8h0M506.4 307.2h0M522.6 318.1h0M585.7 308.4h0M462.5 316.9h0M483.6 312.7h0M455.4 321.7h0M508.3 306.9h0M583.2 308.5h0M606.8 318.6h0M581.9 304.8h0M583.5 314.5h0M468 311.9h0M476.1 309.7h0M524.2 306.6h0M620.1 287.1h0M557 319.5h0M567.8 310.3h0M586.6 293.8h0M506.9 288.9h0M544.7 289.6h0M619.5 311.6h0M522.3 295.5h0M602.3 327.2h0M565.1 294h0M509.8 291.1h0M553.7 311.5h0M470.4 296.7h0M504.8 303h0M513.7 289.8h0M615.8 301.5h0M555.7 298.3h0M481.3 305.3h0M593.5 312.1h0M514.6 303.3h0M541.2 319.3h0M545.4 337.1h0M503.6 323.6h0M502.1 304.5h0M460.7 301h0M611.3 289.2h0M526.7 287.9h0M508.5 312.5h0M532.5 307.4h0M538.6 288.6h0M489.6 275.8h0M551.7 296.8h0M553.4 279.4h0M511.6 282.7h0M499.2 292.8h0M512 287.3h0M548.2 338.6h0M526.2 298.8h0M546.7 306.8h0M493.2 294h0M560 290.7h0M579.5 331.2h0M485.7 301.3h0M613.4 358.5h0" stroke="#a9a9a9" stroke-opacity="0.45" stroke-width="2.2" stroke-linecap="round" fill="none"/>
<path d="M452 313.1L453.5 312.3L455 311.5L456.5 310.8L458 310L459.5 309.3L461 308.6L462.5 307.9L464 307.3L465.5 306.7L467 306.1L468.5 305.5L470 304.9L471.5 304.4L473 303.9L474.5 303.4L476 302.9L477.5 302.5L479 302L480.5 301.6L481.9 301.2L483.4 300.9L484.9 300.5L486.4 300.2L487.9 299.9L489.4 299.6L490.9 299.3L492.4 299.1L493.9 298.8L495.4 298.6L496.9 298.4L498.4 298.2L499.9 298.1L501.4 297.9L502.9 297.8L504.4 297.6L505.9 297.5L507.4 297.5L508.9 297.4L510.4 297.3L511.9 297.3L513.4 297.2L514.9 297.2L516.4 297.2L517.9 297.2L519.4 297.3L520.9 297.3L522.4 297.3L523.9 297.4L525.4 297.5L526.9 297.5L528.4 297.6L529.9 297.7L531.4 297.9L532.9 298L534.4 298.1L535.9 298.3L537.4 298.4L538.9 298.6L540.4 298.7L541.8 298.9L543.3 299.1L544.8 299.3L546.3 299.5L547.8 299.7L549.3 299.9L550.8 300.1L552.3 300.4L553.8 300.6L555.3 300.9L556.8 301.1L558.3 301.4L559.8 301.6L561.3 301.9L562.8 302.1L564.3 302.4L565.8 302.7L567.3 303L568.8 303.2L570.3 303.5L571.8 303.8L573.3 304.1L574.8 304.4L576.3 304.7L577.8 305L579.3 305.3L580.8 305.6L582.3 305.9L583.8 306.1L585.3 306.4L586.8 306.7L588.3 307L589.8 307.3L591.3 307.6L592.8 307.9L594.3 308.2L595.8 308.5L597.3 308.8L598.8 309L600.3 309.3L601.7 309.6L603.2 309.9L604.7 310.1L606.2 310.4L607.7 310.7L609.2 310.9L610.7 311.2L612.2 311.4L613.7 311.6L615.2 311.9L616.7 312.1L618.2 312.3L619.7 312.5L621.2 312.7L622.7 312.9L624.2 313.1L625.7 313.3L627.2 313.5L628.7 313.7L630.2 313.8L630.2 317L628.7 316.9L627.2 316.7L625.7 316.5L624.2 316.3L622.7 316.1L621.2 315.9L619.7 315.7L618.2 315.5L616.7 315.3L615.2 315.1L613.7 314.8L612.2 314.6L610.7 314.4L609.2 314.1L607.7 313.9L606.2 313.6L604.7 313.3L603.2 313.1L601.7 312.8L600.3 312.5L598.8 312.2L597.3 312L595.8 311.7L594.3 311.4L592.8 311.1L591.3 310.8L589.8 310.5L588.3 310.2L586.8 309.9L585.3 309.6L583.8 309.3L582.3 309.1L580.8 308.8L579.3 308.5L577.8 308.2L576.3 307.9L574.8 307.6L573.3 307.3L571.8 307L570.3 306.7L568.8 306.4L567.3 306.2L565.8 305.9L564.3 305.6L562.8 305.3L561.3 305.1L559.8 304.8L558.3 304.6L556.8 304.3L555.3 304.1L553.8 303.8L552.3 303.6L550.8 303.3L549.3 303.1L547.8 302.9L546.3 302.7L544.8 302.5L543.3 302.3L541.8 302.1L540.4 301.9L538.9 301.8L537.4 301.6L535.9 301.5L534.4 301.3L532.9 301.2L531.4 301.1L529.9 300.9L528.4 300.8L526.9 300.7L525.4 300.7L523.9 300.6L522.4 300.5L520.9 300.5L519.4 300.5L517.9 300.4L516.4 300.4L514.9 300.4L513.4 300.4L511.9 300.5L510.4 300.5L508.9 300.6L507.4 300.7L505.9 300.7L504.4 300.8L502.9 301L501.4 301.1L499.9 301.3L498.4 301.4L496.9 301.6L495.4 301.8L493.9 302L492.4 302.3L490.9 302.5L489.4 302.8L487.9 303.1L486.4 303.4L484.9 303.7L483.4 304.1L481.9 304.4L480.5 304.8L479 305.2L477.5 305.7L476 306.1L474.5 306.6L473 307.1L471.5 307.6L470 308.1L468.5 308.7L467 309.3L465.5 309.9L464 310.5L462.5 311.1L461 311.8L459.5 312.5L458 313.2L456.5 314L455 314.7L453.5 315.5L452 316.3Z" fill="#999" fill-opacity="0.45"/>
<path d="M452 314.7L453.5 313.9L455 313.1L456.5 312.4L458 311.6L459.5 310.9L461 310.2L462.5 309.5L464 308.9L465.5 308.3L467 307.7L468.5 307.1L470 306.5L471.5 306L473 305.5L474.5 305L476 304.5L477.5 304.1L479 303.6L480.5 303.2L481.9 302.8L483.4 302.5L484.9 302.1L486.4 301.8L487.9 301.5L489.4 301.2L490.9 300.9L492.4 300.7L493.9 300.4L495.4 300.2L496.9 300L498.4 299.8L499.9 299.7L501.4 299.5L502.9 299.4L504.4 299.2L505.9 299.1L507.4 299.1L508.9 299L510.4 298.9L511.9 298.9L513.4 298.8L514.9 298.8L516.4 298.8L517.9 298.8L519.4 298.9L520.9 298.9L522.4 298.9L523.9 299L525.4 299.1L526.9 299.1L528.4 299.2L529.9 299.3L531.4 299.5L532.9 299.6L534.4 299.7L535.9 299.9L537.4 300L538.9 300.2L540.4 300.3L541.8 300.5L543.3 300.7L544.8 300.9L546.3 301.1L547.8 301.3L549.3 301.5L550.8 301.7L552.3 302L553.8 302.2L555.3 302.5L556.8 302.7L558.3 303L559.8 303.2L561.3 303.5L562.8 303.7L564.3 304L565.8 304.3L567.3 304.6L568.8 304.8L570.3 305.1L571.8 305.4L573.3 305.7L574.8 306L576.3 306.3L577.8 306.6L579.3 306.9L580.8 307.2L582.3 307.5L583.8 307.7L585.3 308L586.8 308.3L588.3 308.6L589.8 308.9L591.3 309.2L592.8 309.5L594.3 309.8L595.8 310.1L597.3 310.4L598.8 310.6L600.3 310.9L601.7 311.2L603.2 311.5L604.7 311.7L606.2 312L607.7 312.3L609.2 312.5L610.7 312.8L612.2 313L613.7 313.2L615.2 313.5L616.7 313.7L618.2 313.9L619.7 314.1L621.2 314.3L622.7 314.5L624.2 314.7L625.7 314.9L627.2 315.1L628.7 315.3L630.2 315.4" stroke="#111" stroke-width="1.6" fill="none" stroke-linejoin="round" />
<path d="M49.5 262.4L49.5 386.1" stroke="#7a7a7a" stroke-width="1.15" fill="none"/>
<path d="M48.9 385.5L239.6 385.5" stroke="#7a7a7a" stroke-width="1.15" fill="none"/>
<path d="M44.5 381.5L49.5 381.5" stroke="#7a7a7a" stroke-width="1.15" fill="none"/>
<text x="38.5" y="385.2" text-anchor="end" font-size="10.8" font-weight="normal" fill="#231f20">0</text>
<path d="M44.5 350.9L49.5 350.9" stroke="#7a7a7a" stroke-width="1.15" fill="none"/>
<text x="38.5" y="354.6" text-anchor="end" font-size="10.8" font-weight="normal" fill="#231f20">0.25</text>
<path d="M44.5 320.3L49.5 320.3" stroke="#7a7a7a" stroke-width="1.15" fill="none"/>
<text x="38.5" y="324" text-anchor="end" font-size="10.8" font-weight="normal" fill="#231f20">0.50</text>
<path d="M44.5 289.7L49.5 289.7" stroke="#7a7a7a" stroke-width="1.15" fill="none"/>
<text x="38.5" y="293.4" text-anchor="end" font-size="10.8" font-weight="normal" fill="#231f20">0.75</text>
<path d="M49 385.5L49 390.5" stroke="#7a7a7a" stroke-width="1.15" fill="none"/>
<text x="49" y="405.3" text-anchor="middle" font-size="10.8" font-weight="normal" fill="#231f20">0</text>
<path d="M74.7 385.5L74.7 390.5" stroke="#7a7a7a" stroke-width="1.15" fill="none"/>
<text x="74.7" y="405.3" text-anchor="middle" font-size="10.8" font-weight="normal" fill="#231f20">2</text>
<path d="M89.6 385.5L89.6 390.5" stroke="#7a7a7a" stroke-width="1.15" fill="none"/>
<text x="89.6" y="405.3" text-anchor="middle" font-size="10.8" font-weight="normal" fill="#231f20">5</text>
<path d="M106.4 385.5L106.4 390.5" stroke="#7a7a7a" stroke-width="1.15" fill="none"/>
<text x="106.4" y="405.3" text-anchor="middle" font-size="10.8" font-weight="normal" fill="#231f20">10</text>
<path d="M139.8 385.5L139.8 390.5" stroke="#7a7a7a" stroke-width="1.15" fill="none"/>
<text x="139.8" y="405.3" text-anchor="middle" font-size="10.8" font-weight="normal" fill="#231f20">25</text>
<path d="M177.3 385.5L177.3 390.5" stroke="#7a7a7a" stroke-width="1.15" fill="none"/>
<text x="177.3" y="405.3" text-anchor="middle" font-size="10.8" font-weight="normal" fill="#231f20">50</text>
<path d="M230.5 385.5L230.5 390.5" stroke="#7a7a7a" stroke-width="1.15" fill="none"/>
<text x="230.5" y="405.3" text-anchor="middle" font-size="10.8" font-weight="normal" fill="#231f20">100</text>
<path d="M249.5 262.4L249.5 386.1" stroke="#7a7a7a" stroke-width="1.15" fill="none"/>
<path d="M248.9 385.5L439.6 385.5" stroke="#7a7a7a" stroke-width="1.15" fill="none"/>
<path d="M249 385.5L249 390.5" stroke="#7a7a7a" stroke-width="1.15" fill="none"/>
<text x="249" y="405.3" text-anchor="middle" font-size="10.8" font-weight="normal" fill="#231f20">0</text>
<path d="M274.7 385.5L274.7 390.5" stroke="#7a7a7a" stroke-width="1.15" fill="none"/>
<text x="274.7" y="405.3" text-anchor="middle" font-size="10.8" font-weight="normal" fill="#231f20">2</text>
<path d="M289.6 385.5L289.6 390.5" stroke="#7a7a7a" stroke-width="1.15" fill="none"/>
<text x="289.6" y="405.3" text-anchor="middle" font-size="10.8" font-weight="normal" fill="#231f20">5</text>
<path d="M306.4 385.5L306.4 390.5" stroke="#7a7a7a" stroke-width="1.15" fill="none"/>
<text x="306.4" y="405.3" text-anchor="middle" font-size="10.8" font-weight="normal" fill="#231f20">10</text>
<path d="M339.8 385.5L339.8 390.5" stroke="#7a7a7a" stroke-width="1.15" fill="none"/>
<text x="339.8" y="405.3" text-anchor="middle" font-size="10.8" font-weight="normal" fill="#231f20">25</text>
<path d="M377.3 385.5L377.3 390.5" stroke="#7a7a7a" stroke-width="1.15" fill="none"/>
<text x="377.3" y="405.3" text-anchor="middle" font-size="10.8" font-weight="normal" fill="#231f20">50</text>
<path d="M430.5 385.5L430.5 390.5" stroke="#7a7a7a" stroke-width="1.15" fill="none"/>
<text x="430.5" y="405.3" text-anchor="middle" font-size="10.8" font-weight="normal" fill="#231f20">100</text>
<path d="M449.5 262.4L449.5 386.1" stroke="#7a7a7a" stroke-width="1.15" fill="none"/>
<path d="M448.9 385.5L639.6 385.5" stroke="#7a7a7a" stroke-width="1.15" fill="none"/>
<path d="M449 385.5L449 390.5" stroke="#7a7a7a" stroke-width="1.15" fill="none"/>
<text x="449" y="405.3" text-anchor="middle" font-size="10.8" font-weight="normal" fill="#231f20">0</text>
<path d="M474.7 385.5L474.7 390.5" stroke="#7a7a7a" stroke-width="1.15" fill="none"/>
<text x="474.7" y="405.3" text-anchor="middle" font-size="10.8" font-weight="normal" fill="#231f20">2</text>
<path d="M489.6 385.5L489.6 390.5" stroke="#7a7a7a" stroke-width="1.15" fill="none"/>
<text x="489.6" y="405.3" text-anchor="middle" font-size="10.8" font-weight="normal" fill="#231f20">5</text>
<path d="M506.4 385.5L506.4 390.5" stroke="#7a7a7a" stroke-width="1.15" fill="none"/>
<text x="506.4" y="405.3" text-anchor="middle" font-size="10.8" font-weight="normal" fill="#231f20">10</text>
<path d="M539.8 385.5L539.8 390.5" stroke="#7a7a7a" stroke-width="1.15" fill="none"/>
<text x="539.8" y="405.3" text-anchor="middle" font-size="10.8" font-weight="normal" fill="#231f20">25</text>
<path d="M577.3 385.5L577.3 390.5" stroke="#7a7a7a" stroke-width="1.15" fill="none"/>
<text x="577.3" y="405.3" text-anchor="middle" font-size="10.8" font-weight="normal" fill="#231f20">50</text>
<path d="M630.5 385.5L630.5 390.5" stroke="#7a7a7a" stroke-width="1.15" fill="none"/>
<text x="630.5" y="405.3" text-anchor="middle" font-size="10.8" font-weight="normal" fill="#231f20">100</text>
<text x="9.5" y="323.8" text-anchor="middle" font-size="10.8" font-weight="normal" fill="#231f20" transform="rotate(-90 9.5 323.8)">Cosine similarity</text>
<text x="340.7" y="422.6" text-anchor="middle" font-size="10.8" font-weight="normal" fill="#231f20">Age (years)</text>
<text x="0.4" y="266.2" text-anchor="start" font-size="15" font-weight="bold" fill="#000" stroke="#000" stroke-width="0.7">c</text>
<circle cx="654.1" cy="322.5" r="2.5" fill="#e63a2e"/>
<text x="661.7" y="325.8" text-anchor="start" font-size="10.8" font-weight="normal" fill="#231f20">SA</text>
<circle cx="654.1" cy="332.7" r="2.5" fill="#3e8a2f"/>
<text x="661.7" y="336.2" text-anchor="start" font-size="10.8" font-weight="normal" fill="#231f20">VS</text>
<circle cx="654.1" cy="342.9" r="2.5" fill="#bdbdbd"/>
<text x="661.7" y="346.5" text-anchor="start" font-size="10.8" font-weight="normal" fill="#231f20">MR</text>
<path d="M127.8 601.8h0M144.2 587.1h0M117.6 624h0M143.5 600.7h0M143.5 578.4h0M130.1 582.7h0M162.6 557.5h0M117.7 604.6h0M156 575.5h0M149.1 574.6h0M128.3 580.6h0M118.3 583.1h0M117.9 615.4h0M130.1 586.4h0M130.9 580.2h0M168.5 551.9h0M162.2 566.9h0M136 590.4h0M179.2 549.2h0M139.6 598.4h0M150.6 577.9h0M145.8 585h0M150.5 597.3h0M152.4 593.7h0M125.7 556.3h0M175.8 588.7h0M105.7 601.4h0M186.2 562.7h0M175.1 562.4h0M150.2 563.6h0M130.3 582.9h0M147 615.7h0M139.6 553.3h0M120.4 584.2h0M104.4 577h0M128.3 618.5h0M145.9 580.1h0" stroke="#1d078e" stroke-opacity="0.55" stroke-width="1.9" stroke-linecap="round" fill="none"/>
<path d="M199 625.9h0M149.6 612.2h0M112.5 583.5h0M132.5 567.8h0M157 588.4h0M154.6 584.4h0M152.4 547.4h0M162.3 608.4h0M131.4 596.1h0M111.1 601.8h0M131 571.7h0M163.1 575.5h0M104.4 593.6h0M125.1 583.2h0M155.7 594.8h0M110 582.8h0M133.4 564.5h0M111.7 596.1h0M148.6 586.7h0M113.3 591.3h0M168 575h0M134.9 592.4h0M140 580.2h0M126.6 587.5h0M148.5 568.5h0M142.4 566.9h0M93.2 593.1h0M129.4 569.5h0M205.7 577.7h0M116.5 572.7h0M119.4 614.5h0M130.6 597.6h0M166.7 564.7h0M134.1 576.4h0M148.1 601.2h0M120.6 590.1h0" stroke="#1d078e" stroke-opacity="0.55" stroke-width="1.9" stroke-linecap="round" fill="none"/>
<path d="M150.8 562.4h0M123.5 571.1h0M117.5 586.9h0M149.6 573.5h0M144.3 574.9h0M119 597.2h0M120 608.6h0M166.5 473.8h0M123.8 597.6h0M150.4 582.2h0M160.6 570h0M165 554.7h0M143.8 565.8h0M170.5 569.8h0M151 587.6h0M106.2 624.6h0M133.4 608.7h0M187.3 558.7h0M148.4 585.4h0M121.3 567.6h0M138.3 569.7h0M131.9 596.2h0M151.5 592.4h0M119.2 578.9h0M168 573h0M162.8 481.6h0M132.5 581.7h0M155.9 587.7h0M130.9 607.3h0M141.1 612h0M144.9 584h0M154.7 587.9h0M123.5 578.6h0M159.6 590.2h0M117.5 596.1h0M126.1 590.1h0" stroke="#1d078e" stroke-opacity="0.55" stroke-width="1.9" stroke-linecap="round" fill="none"/>
<path d="M135.3 585.3h0M149.6 583.6h0M140.2 570.6h0M161 562.4h0M137.8 577.3h0M122.9 625.8h0M126 581.1h0M157.8 563.6h0M129.2 558.5h0M118.4 592.8h0M140 616.3h0M165.6 593.6h0M139.8 596h0M129.3 588.3h0M163.4 550.8h0M155.1 594.1h0M155.6 579.7h0M106.6 572.8h0M146.1 581.9h0M166.2 594.5h0M128 581.9h0M129.2 582.9h0M176.9 556.1h0M164.3 603.9h0M156.7 579.9h0M142.6 589.9h0M110.6 591.7h0M140 586.7h0M120 588.4h0M127.5 612.9h0M149.5 591.3h0M100.2 619.8h0M133.9 580.4h0M121.5 577.2h0M121.1 598.3h0M126 597.8h0M127.5 588.8h0M126.2 598.7h0M131.4 623.6h0M73.2 620.3h0M161.1 588.4h0M134.8 587.7h0M123.2 590.3h0M153.3 571.9h0M121.6 592.4h0M117.7 607.5h0M143.9 576.6h0M118.4 599.5h0M127.6 580.5h0M163.6 581.9h0M125.7 624.7h0M161 548.6h0M144.8 577.3h0M158.4 573.1h0M140.2 573.5h0M129.7 563.2h0M137.2 603.8h0M180.5 582.4h0M129.9 573.6h0M143.5 568.6h0M113.4 586.4h0M123.1 589.8h0M130.6 586.8h0M149 615.6h0M98.7 609h0M130.8 605h0M126.3 568.9h0M147.8 581.8h0M135.2 586h0M157.6 572.6h0M113.1 617.8h0M159.3 560.7h0M120 620.7h0M148.9 565.8h0M113.9 610.3h0M152 604.6h0M141 586.6h0M121.6 580h0M146.2 582.3h0M127 586.7h0M152.8 595.1h0M112.6 586.4h0M151.4 571.3h0M144.8 598.8h0M114.6 619.2h0M129.2 588.8h0M170.5 542.4h0M116.2 614h0M130.9 586.7h0M151.8 599.7h0M157.5 592.3h0M131.8 592.6h0M132.9 605.8h0M168.1 580.6h0M155.1 565.5h0M122.6 592.5h0M141.9 581h0M126.7 571.2h0M141.7 570.1h0M133.5 576h0M109.3 613.8h0M170.1 561.8h0M126.1 586.6h0M138.6 576h0M112.1 559.7h0M152.2 558.4h0M119.6 612h0M167.4 577.4h0M125.2 587.3h0M133 607.6h0" stroke="#3e049c" stroke-opacity="0.55" stroke-width="1.9" stroke-linecap="round" fill="none"/>
<path d="M139.8 552.5h0M103.7 624.1h0M152.5 574.6h0M152.1 584.6h0M155.1 570.3h0M154.3 596.6h0M130.7 596.4h0M159 542.1h0M117 601.6h0M95.3 619.2h0M121.1 592.3h0M169.6 572.4h0M136.5 600.3h0M148.1 592.1h0M144.4 579.7h0M125.2 600.7h0M140.6 587.6h0M141.3 600h0M135.8 577.8h0M118.2 578.7h0M117.1 584.7h0M135 563.1h0M116.5 608.1h0M212.2 459.7h0M126.5 604h0M88.4 604.4h0M130.7 604.8h0M175.5 564.5h0M130 616.7h0M140.4 556.8h0M112.1 605.5h0M124.1 609.6h0M166.1 550h0M109.4 585h0M155.9 580.9h0M109.1 577.1h0M134.2 622.6h0M131.7 601.4h0M149.4 579.1h0M149.7 589.1h0M98.4 623.5h0M165.3 579.7h0M143.5 589.3h0M146.4 581.4h0M142.2 575.8h0M130.8 603.4h0M169.8 573.6h0M88.5 606.9h0M168.4 590.4h0M142.8 546.8h0M141.4 549.2h0M140.6 598.8h0M109 602.5h0M110.8 602.2h0M130.6 598.7h0M142.9 576.8h0M101.3 586.5h0M123.7 575.5h0M128.1 603.9h0M143.4 596.3h0M108.5 573.5h0M167.7 564.5h0M177 589h0M172.4 569.1h0M118.9 607.4h0M169.5 586.6h0M160.4 570.3h0M143.4 574.6h0M132.2 610.5h0M158.5 566.2h0M124.9 567.5h0M122.5 594.7h0M171.8 597.9h0M183.2 566.6h0M136.2 558.6h0M112.5 591.5h0M147.4 611h0M171.7 548.3h0M132.9 582.2h0M140.4 588.2h0M154 575.2h0M114.2 610.4h0M187.4 545.5h0M125.6 582.4h0M129.3 563.5h0M134.6 610.6h0M128.8 574.7h0M171.1 558.2h0M124.8 598.9h0M140.6 583.7h0M118 591.1h0M146.1 582.8h0M147.4 544.9h0M138.9 588.2h0M138.5 586.2h0M133 541.2h0M171.9 573.4h0M124.4 623.2h0M150.1 591.3h0M114.9 587.2h0M125.9 581.5h0M146.4 585h0M159.9 593.1h0M128.9 573.5h0M111.8 603.6h0M105.8 581.2h0M148.9 569.6h0M124.7 607h0M157.7 554.2h0M111.5 594.9h0" stroke="#3e049c" stroke-opacity="0.55" stroke-width="1.9" stroke-linecap="round" fill="none"/>
<path d="M136.6 591.9h0M172.6 567.1h0M146.9 571.2h0M137.7 600.7h0M113.3 602.2h0M167.9 576.9h0M127 585.3h0M125.7 623.1h0M124.5 585.1h0M179.7 582.3h0M140.5 586h0M114.8 570.6h0M163.5 584.8h0M124.6 574.5h0M121.9 574.8h0M112.1 606.4h0M167.7 562.2h0M143.5 598h0M171.5 572.2h0M142.2 569.3h0M134.4 562.4h0M141.9 585.6h0M97.8 606.7h0M142.1 554.7h0M117.5 617.1h0M142.4 620.7h0M131.3 581.6h0M138.7 550.9h0M109.7 583.6h0M145.6 591.4h0M144.5 571.9h0M154.3 572.6h0M132.8 592.9h0M152.6 593h0M139.3 572h0M114.6 558.4h0M142.5 573.1h0M87.4 590.9h0M112.9 622.2h0M140.7 611.9h0M161.6 554.2h0M160.6 567.1h0M150.4 566.7h0M105.3 605.6h0M154.1 576.1h0M127.3 587.6h0M137.9 606.1h0M131.5 583h0M135.9 574.4h0M166.8 572h0M150.4 590.2h0M119 608.1h0M174.5 567.6h0M147.6 561h0M127.8 582h0M157.8 611.6h0M130.6 575.3h0M130.8 573.9h0M111.9 584.5h0M126.3 557.2h0M145 565h0M108.7 591.7h0M139.8 586.1h0M166.1 584.7h0M143.1 612.9h0M155.9 582h0M123.3 612.5h0M110.5 576.1h0M114.4 579.5h0M94.7 618h0M162.2 529.1h0M104.9 543.9h0M108.2 622h0M159.1 583.6h0M133.9 559.3h0M164.8 597.4h0M150.9 574.8h0M152.1 574.8h0M156.5 605h0M155.6 574.9h0M144.7 596.6h0M138.2 568.3h0M155.3 570.9h0M162 558.9h0M144 614.9h0M146.3 592h0M113.9 615.4h0M126.1 597.7h0M124.4 588h0M138.7 588.3h0M146.2 565.1h0M110.1 604.7h0M165.7 551.7h0M166.7 549.8h0M134.1 591.9h0M155.6 574.9h0M114.4 593.4h0M144.3 574.5h0M152.6 592h0M162.7 575.7h0M109.9 585.7h0M127.6 616h0M112.8 602.2h0M113.4 599.3h0M142.9 577.2h0M113 589.7h0M123.8 579.3h0M164.8 562.3h0M166.7 579.5h0M116.5 571.2h0" stroke="#3e049c" stroke-opacity="0.55" stroke-width="1.9" stroke-linecap="round" fill="none"/>
<path d="M147 580.4h0M152.5 544.1h0M135.9 588.9h0M120.5 606.6h0M123.5 585.9h0M154.2 607.9h0M126.4 592.6h0M118.9 590.9h0M135.8 552.1h0M109.7 614.9h0M142 574.6h0M153.6 594.5h0M136.3 573.6h0M147.7 585.1h0M85.2 603.9h0M150.1 559.1h0M132.2 594.1h0M103.7 618.2h0M156.7 551.8h0M134.8 595h0M135.6 591.2h0M146 577.4h0M138.1 560.1h0M210.8 541.6h0M109.1 617.2h0M122.6 562h0M129.6 606.7h0M137.6 597.9h0M124.6 593.5h0M136.7 593.7h0M116.3 578.6h0M136.9 559.6h0M128.7 545.2h0M159.8 562.2h0M123.2 576.3h0M151.6 597.6h0M151.1 566.8h0M118.3 612.7h0M149.1 565.3h0M150 534.5h0M159 574.3h0M150.9 570.4h0M181.5 595.1h0M170.8 582.9h0M162.1 546.6h0M134.3 567.3h0M166.9 573.7h0M165.7 572.3h0M153.2 565.7h0M127.7 585h0M136.7 584.2h0M149.7 572.6h0M97.5 573.5h0M111.2 587.1h0M148.9 542.2h0M123.9 604.1h0M150.5 575.8h0M155.4 578.4h0M119.5 574.7h0M153.2 568h0M162 600.3h0M139.6 600.1h0M186.9 564.4h0M143 561.2h0M114.6 622.8h0M126.2 573.8h0M131.6 599.8h0M127.1 584.5h0M105.7 578.1h0M126.3 605.9h0" stroke="#5802a3" stroke-opacity="0.55" stroke-width="1.9" stroke-linecap="round" fill="none"/>
<path d="M156.8 575.5h0M166.7 571h0M135.9 579.4h0M85.7 624.7h0M141.1 612.6h0M143.1 588.3h0M124.3 611.2h0M146.4 560.9h0M160.1 603.5h0M128.5 563.5h0M109.8 605.2h0M91.7 581.9h0M185.1 584h0M149.2 561.2h0M117 571.4h0M119 620.4h0M151 592h0M151 561h0M131.9 605.8h0M158.3 534.6h0M145.3 569.9h0M152.8 604.1h0M151.1 611.6h0M131.3 573.1h0M146.9 606h0M143.2 568.7h0M236.6 555.3h0M128.7 600.9h0M95.2 588.6h0M115 583.2h0M129.9 576.7h0M136.3 585h0M125.4 581.9h0M126.2 598.4h0M130.9 580.7h0M142.3 563h0M159.3 589.9h0M171.3 552.3h0M159.2 586.3h0M159.1 579.5h0M142.9 563h0M125.6 604.7h0M134.5 569.7h0M173.2 603.3h0M122 581.4h0M143.2 552.6h0M153.9 578.4h0M148.1 577.5h0M132.3 598.9h0M99.7 562h0M114.9 589.3h0M156.4 573h0M135.4 577.1h0M129.5 601.1h0M152.5 563.5h0M153.3 575.7h0M155.5 582.7h0M151.7 585.8h0M151.2 580.6h0M134.2 599.4h0M119.2 587.6h0M142.6 579.2h0M148.2 597.4h0M177.3 558.6h0M155.7 606.2h0M154.1 591.6h0M148.9 554.9h0M157.7 598.3h0M182 558.3h0M138.9 611.8h0" stroke="#5802a3" stroke-opacity="0.55" stroke-width="1.9" stroke-linecap="round" fill="none"/>
<path d="M177.4 573.6h0M144.5 610.5h0M123 598h0M170.4 565.3h0M146.9 568.4h0M130.6 592.6h0M155.3 560.5h0M120.4 573.2h0M142.5 560.3h0M152.2 569.6h0M143.8 574.3h0M95.7 556.6h0M138.5 559.2h0M174.9 554.1h0M124 593.4h0M149.8 569.9h0M143.9 556.5h0M161.8 592.3h0M126.8 581.1h0M156.8 579.4h0M128.7 596.8h0M133 618.6h0M160.9 601.8h0M150.4 562.6h0M109.3 590h0M98.7 612.7h0M127.6 575.8h0M181.2 559.8h0M149.5 565.5h0M140.4 578h0M148.3 601.2h0M154.7 549.5h0M131.1 591h0M145.7 551.9h0M131.8 566.5h0M116.9 578.1h0M117.3 605.7h0M137.4 549.3h0M117.7 474.8h0M139.5 565.9h0M143.1 555.7h0M129.3 579.9h0M156.8 570.2h0M126 593.2h0M98 602.2h0M147 624.9h0M96 607.9h0M107.2 597.2h0M157 562.3h0M137.7 605h0M130 575.3h0M119.1 595.1h0M154.9 578.1h0M98.8 619.4h0M145.2 563.4h0M142.9 576.1h0M130.2 585.9h0M149 539.1h0M146.1 558.6h0M123.9 581.1h0M134.8 587.4h0M118.5 594.1h0M184.1 539.7h0M123.9 579.8h0M103.6 593.6h0M165 585.7h0M132.7 602.2h0M129.5 567h0M116 587.3h0M133.9 578.2h0" stroke="#5802a3" stroke-opacity="0.55" stroke-width="1.9" stroke-linecap="round" fill="none"/>
<path d="M123.1 585.9h0M159.7 572.4h0M152.3 563.6h0M151.6 568.1h0M157.8 538h0M191.7 537.7h0M155.9 559.8h0M143.4 545.1h0M120.9 589.6h0M141.4 565.1h0M137.1 583.3h0M147 525.1h0M176.6 588.8h0M102.9 575.6h0M144.4 563.7h0M117.9 579.4h0M128.1 551h0M126.4 568.3h0M109.4 604h0M132.8 601.3h0M136.2 579.4h0M152.9 590.1h0M122.4 589.6h0M174.2 559.8h0M148.5 595.7h0M147.5 571.6h0M137.9 574.2h0M156.6 573.5h0M146.9 572.7h0M96.9 607.1h0" stroke="#7102a7" stroke-opacity="0.55" stroke-width="1.9" stroke-linecap="round" fill="none"/>
<path d="M116.9 576h0M102.8 579.1h0M172.9 600.4h0M142.4 559.8h0M152.5 556.2h0M197.9 564.4h0M129.3 572.2h0M156 555.8h0M119.3 591.5h0M155.2 584.5h0M121.4 568.7h0M125.1 564.6h0M148.1 460.6h0M145.7 596.9h0M143.6 590.5h0M152.6 567.3h0M143.4 569h0M174.4 556.5h0M101.5 570.2h0M110 530h0M117.8 594.2h0M149.8 589.2h0M132.3 561.2h0M134.5 577h0M143.2 565.7h0M126 607.7h0M214.9 575.9h0M129.5 597.1h0M148.5 576.8h0M146.9 552.4h0" stroke="#7102a7" stroke-opacity="0.55" stroke-width="1.9" stroke-linecap="round" fill="none"/>
<path d="M166.3 541.1h0M112 581.6h0M137.3 586.7h0M197.6 547.2h0M152.2 561.1h0M131.2 583.9h0M147.3 551.4h0M119.9 580h0M152 585.5h0M154.8 559h0M134.3 574.7h0M118.4 578.9h0M132 590.9h0M141.3 574h0M240.3 601h0M177.4 550.8h0M132.9 613.8h0M139.2 593.3h0M164.9 589.8h0M200.2 513.2h0M176.9 589.6h0M103.8 602.5h0M126.1 559.1h0M141.2 599h0M128.1 576.5h0M162.1 561.7h0M180.8 542.4h0M114 580.7h0M121.1 587.3h0M106 584.2h0" stroke="#7102a7" stroke-opacity="0.55" stroke-width="1.9" stroke-linecap="round" fill="none"/>
<path d="M169 559.6h0M160.1 564.7h0M171.3 575.3h0M166.2 566.1h0M161.1 553.2h0M147.6 575.2h0M142.7 584.7h0M163.3 565.7h0M156.7 572.8h0M169 567h0M149.3 550.4h0M159.9 554.7h0M154.1 570.3h0M159.2 564.6h0M127.3 572.8h0M163.4 569h0M175.5 488.9h0M144.4 582.6h0M156.9 561.5h0M127.4 585.5h0M126.4 564.2h0M140.9 598.4h0M219.8 543.7h0M106.1 609.7h0M133.7 584.4h0M119 600.1h0M127.9 559h0M110.6 575.2h0M148.9 580.5h0M145.6 573.2h0M129.4 554.8h0M167.6 622h0M123.2 585.2h0M140.1 573.3h0M110.6 589.3h0M149.4 574.8h0M156.1 543.1h0M121.5 563h0M145.4 598.1h0M174.9 576.3h0M96.6 590.6h0M159.4 552.8h0M191.2 556.5h0M163.6 589.8h0M162.9 559.9h0M146.5 542.4h0M149.1 566h0M126.6 598.6h0M151.2 583.5h0M114.2 570.7h0M133.5 559.6h0M156.3 542h0M110.8 559.5h0M144.9 556.6h0M133.3 563.6h0M116 593.7h0M121.2 573.5h0M127 583.7h0M160 577.5h0M140.9 562.2h0M127.4 569.6h0M127.3 573.8h0M114 598.1h0M151.4 569.8h0M121 562.3h0M149 584.4h0M118.2 577.1h0M142.1 559.6h0M154.5 593.7h0M175.8 524.5h0M162.5 541.4h0M132.8 553.3h0M146.1 582.7h0M163.3 571.4h0M178.2 562.9h0M137.2 561.2h0M160.1 585h0M158.5 546.8h0M185 548.7h0M128.2 573.2h0M130.1 606.3h0M160.9 581.6h0M157.2 559.2h0M143.4 557h0M162.1 534.2h0M139 589.3h0M163.1 527.2h0M183.6 518.2h0M166.3 577.7h0M108.7 580.3h0M144.2 579.8h0M161.2 570.2h0M142.4 577.8h0M144.5 572.1h0M138 593.1h0M152.3 571.9h0M131.5 586h0M163.9 548.2h0M167.3 569.9h0M153.3 569.9h0M170.2 604.2h0M142 593.6h0M136 576.7h0M113.7 562.9h0M192.8 529.1h0M116.6 580.7h0M156.3 589.8h0M156.9 551.3h0M157.1 573.7h0M131.1 579.3h0" stroke="#880ba5" stroke-opacity="0.55" stroke-width="1.9" stroke-linecap="round" fill="none"/>
<path d="M127.9 571.8h0M122.7 587.5h0M150.7 540.6h0M171.6 519.4h0M164 577.5h0M170.3 553.9h0M167.1 587.4h0M121.9 563.3h0M170.4 564.6h0M173.8 551.4h0M205.5 605.6h0M87.7 584.9h0M130.1 578.6h0M193.1 568.5h0M147.6 534.9h0M142.9 552.7h0M135.7 569.7h0M124.4 576.1h0M219.3 610.2h0M151.8 531.9h0M114.5 588.1h0M142.8 555.6h0M168.7 561h0M135.8 577.8h0M131.4 581.1h0M127.7 575.6h0M148.3 575.6h0M189.6 555h0M143.3 576.8h0M140.5 577.4h0M149 543h0M163.8 594.3h0M156.7 571.3h0M133.2 571h0M181.3 571.8h0M116.4 605.4h0M178.7 569.6h0M120.3 578.7h0M126.3 598.2h0M192.9 519.8h0M104.9 600.6h0M122.1 552.2h0M135.7 566.6h0M129.7 552.6h0M178.6 590.5h0M157.8 537.9h0M138.8 553.9h0M141.8 573.7h0M157 542.5h0M161.1 571.8h0M141.2 579.9h0M163.8 541.6h0M156.3 577.7h0M125.4 555.2h0M152.6 535h0M136.2 585.3h0M162.6 540.6h0M92.4 573.9h0M130.2 568.6h0M161.6 544h0M162.1 557.4h0M136 568.7h0M195.4 450.5h0M134.9 564.6h0M156.9 594h0M119.4 578.4h0M141.8 591.4h0M150 584.9h0M147.4 585.4h0M144.9 564.4h0M141.6 575.4h0M171.2 572.3h0M131.7 599.1h0M141.4 569.6h0M130 541h0M151.9 572.9h0M146.7 585.7h0M183.9 545h0M130.6 574.6h0M124.6 535h0M171.7 568.4h0M163.3 576.6h0M187.9 535.9h0M149.1 559.3h0M186 556.1h0M154 571.6h0M181.1 499.9h0M146.3 590.5h0M143 582.5h0M107.8 581h0M141.5 585.4h0M163.5 571.4h0M145.6 579.7h0M157.9 549.9h0M154.2 535h0M173.5 562.4h0M136.9 567.3h0M112.1 577.9h0M178.3 557.4h0M187.5 573.4h0M177.6 568.2h0M97.4 597.3h0M175.7 545.1h0M181.3 582.5h0M175.1 551.9h0M144.7 562.2h0M142.3 560.2h0M151.3 599h0M135.7 563.8h0M152.1 545.1h0" stroke="#880ba5" stroke-opacity="0.55" stroke-width="1.9" stroke-linecap="round" fill="none"/>
<path d="M102.9 555.4h0M137.7 575.1h0M188.3 537.2h0M156.1 547.9h0M136.9 554.7h0M134.6 572.9h0M157.4 553.9h0M123.9 589.1h0M154.4 568.7h0M144.4 567.6h0M176.3 580.9h0M145 586h0M115.2 574.2h0M116.6 600h0M178.4 567.8h0M161.6 619.4h0M157.9 571.5h0M106 611.3h0M135.5 544h0M146.5 573.5h0M178.6 565.5h0M132.8 566.4h0M136.5 591.6h0M151.1 537.6h0M152.5 603h0M114.9 570.3h0M129.5 604.1h0M128.8 566.9h0M129.7 591.5h0M142.5 560.9h0M163.4 602.7h0M138.7 571.1h0M180.9 569h0M177.8 550.3h0M145.2 581.1h0M120.1 590h0M127 572.4h0M125.7 587.4h0M108.9 549.7h0M141.2 573.6h0M187.7 538.8h0M190.1 557.4h0M130.2 577.6h0M116.1 561.5h0M128.6 590.3h0M126.4 546.6h0M174.3 545.7h0M139.1 571.8h0M152.4 569.3h0M136.5 559.4h0M177.4 539.6h0M130.3 577.7h0M131.4 571.6h0M189.5 557.9h0M139.1 598.9h0M131.8 583.9h0M137.1 571.4h0M164.5 569.7h0M163.1 546.6h0M155.6 534.4h0M147.9 555h0M144 592.8h0M145.7 549.8h0M149.6 574.6h0M150.9 575.3h0M152.6 542.3h0M157 599.6h0M122.1 540.2h0M163.4 550h0M163.9 565.7h0M152.6 582.9h0M115 563.7h0M137.8 605.8h0M162.9 569.3h0M146.7 578.8h0M174.9 590.6h0M165.5 539.5h0M131.2 527.9h0M166.8 528.4h0M144.1 551.9h0M158.4 597.4h0M171.8 576.6h0M127.5 582.6h0M157.6 560.8h0M151.3 583.1h0M163.6 544.8h0M177.9 533.7h0M137 590.2h0M149.6 581.3h0M126.3 554.3h0M139 581.2h0M130.6 589.1h0M126 574.5h0M149.2 542.8h0M109.8 576.9h0M169.2 543.6h0M103.3 598.9h0M168.5 577.8h0M111.2 560h0M179.7 536.2h0M137.7 598h0M158.7 546h0M128.9 577.2h0M123.5 587.1h0M126.1 613.2h0M151.9 552.5h0M141 584.6h0M150 528.6h0M144.6 579.2h0M173.3 552.2h0" stroke="#880ba5" stroke-opacity="0.55" stroke-width="1.9" stroke-linecap="round" fill="none"/>
<path d="M123.8 575.4h0M156.6 579.8h0M128.8 586.8h0M191.2 546.1h0M134.2 572h0M125.3 594.5h0M169.6 570h0M176.1 558.2h0M176.6 556.2h0M126.1 572.2h0M105.3 611.1h0M126.5 565.2h0M159.7 545.9h0M155.6 546.3h0M130.1 549.8h0M121.8 552.2h0M143.9 579.2h0M165.4 562h0M139.3 549.8h0M161.4 544.4h0M164.1 561.7h0M168.6 539.6h0M115.6 578.9h0M127 572.5h0M148.3 563.3h0M150.7 577.1h0M107.2 587.4h0M169.9 552.1h0M153.8 561.6h0M173.8 579.8h0M151.1 576.8h0M150.3 552h0M135.1 576.5h0M126.3 570.6h0M91.1 592.8h0M127.5 601.5h0M127.3 584.8h0M128.4 572.6h0M155.7 589.3h0M125.3 585.2h0M105.6 580.8h0M160.1 573.3h0M142.8 555.4h0M158.5 557.7h0M163.5 603.6h0M197.3 535.2h0M161.4 572.5h0M184.3 548.5h0M140.3 582.8h0M181.9 533h0M160.1 546.8h0M137.2 574.5h0M174.9 564.4h0M151.2 554.3h0M136 564.3h0M158.5 573.5h0M158.7 563.3h0M135.5 557.4h0M136 556.1h0M153.6 561.3h0M151.9 576h0M139.2 574.6h0M172.9 569h0M130.8 567.1h0M135.5 559.3h0M106.2 591.7h0M153.7 598.3h0M122.4 566.3h0M125.3 558.4h0M172.1 555.9h0M172.2 540.6h0M149.2 599.1h0M144.3 552.6h0M143.4 582.6h0M139 574.6h0M155.8 570.8h0M112.6 594.3h0M161.2 549.9h0M151.4 594.5h0M172 575h0M155.4 550.3h0M161.7 584.1h0M147.1 555.5h0M122.6 593.3h0M138.1 560.3h0M145.8 564.9h0M163.4 555h0M125 603h0M148.8 555.1h0M150 536.8h0M171.9 557.2h0M129.3 571.1h0M149.6 574h0M155.1 579.8h0M146.1 583.4h0M144.3 587.9h0M166.7 550.3h0M112.7 604.4h0M146.1 571.5h0M119.7 596.1h0M154.9 569.5h0M149.3 594.6h0M141 560.3h0M144.3 577.5h0M141.5 579.3h0M177.2 534.6h0M172.1 574.9h0M160.8 558.7h0M172.9 568.5h0M144.9 552.7h0M110.3 585.2h0M137.6 592.1h0M154 548.2h0M177 567h0M154.1 565.4h0M128.8 603.3h0M220.7 617.5h0M163.9 565.7h0M140.2 560.8h0M155.3 557.3h0M155 591.1h0M134.4 574.4h0M119.6 596.1h0M166.8 549.3h0M178.6 570.9h0M134.5 566.8h0" stroke="#9e1a9b" stroke-opacity="0.55" stroke-width="1.9" stroke-linecap="round" fill="none"/>
<path d="M172.8 597.2h0M186.9 537.8h0M165.8 581.9h0M157.4 554.3h0M169.3 552.6h0M146.9 568.2h0M156.5 563.1h0M115.9 569.5h0M143.1 567.9h0M117.1 570.7h0M114.4 591.2h0M140.9 565.4h0M167.3 576h0M149.2 560.8h0M156.5 599.3h0M169.8 581h0M101.9 563.2h0M145.3 574.5h0M133.8 544.2h0M137.6 606h0M145.7 563.2h0M118.1 568h0M140 568h0M141.7 566.7h0M139 597.3h0M132.3 583.2h0M186.5 561.3h0M169.4 546.4h0M127.6 566.6h0M128 573.2h0M152.9 602.7h0M111.1 594h0M170.8 589.8h0M139.4 599.1h0M146.5 555.1h0M129 579.1h0M150.3 579.9h0M120.2 564.1h0M130.9 568h0M147.1 583.6h0M138.2 584h0M142.2 574.5h0M171.6 577.7h0M151.6 551.7h0M137.6 601.9h0M116.2 574.4h0M172.6 565.5h0M143.4 583h0M179.5 579.5h0M148.8 568.2h0M145.8 577.3h0M105 563.6h0M155.4 584.6h0M155.3 587.3h0M213.4 553.9h0M162 599h0M103 556.3h0M113.2 569.1h0M166.3 566.2h0M131.7 582.5h0M148.8 558.2h0M127 596.4h0M131.9 585h0M161.5 589.6h0M112 572.8h0M150.9 567h0M137.7 561.2h0M173.3 528.1h0M151.9 582.2h0M147 577h0M173.3 545.8h0M118.2 602.8h0M141.3 608.3h0M157.3 557.4h0M145.2 590h0M129.4 558.5h0M188.1 540h0M174.6 573.2h0M124.1 541.5h0M161 562.6h0M190.1 560.8h0M156.1 585.3h0M162.3 554.6h0M159.8 581h0M139.2 565.5h0M172.9 571.9h0M159 560.8h0M164.7 558.8h0M117.8 580.2h0M130.9 593.6h0M113.1 555.5h0M157.3 585h0M149.6 580.8h0M139.6 571.6h0M178.8 549.3h0M193.1 480.7h0M154.5 579.1h0M183.2 574h0M185.9 562.6h0M169.5 566.8h0M119.8 594.6h0M127.5 568.6h0M177.8 591.7h0M118 598.4h0M151.5 576.1h0M127.3 571h0M165.2 572h0M129.3 566.9h0M182.2 531.6h0M150 584.4h0M249.1 586.8h0M118.7 612.9h0M170.6 561.8h0M145.6 594.6h0M162.8 577.5h0M131.3 570.5h0M125.6 577.8h0M135.3 561.6h0M140.9 565.8h0M166.1 557h0M150.5 518.2h0M124 568.6h0M158.3 572.9h0M110.7 595.6h0M150.6 567.9h0" stroke="#9e1a9b" stroke-opacity="0.55" stroke-width="1.9" stroke-linecap="round" fill="none"/>
<path d="M167.6 575.9h0M174.2 556.5h0M164.3 567.9h0M121.5 575.4h0M148.6 571.3h0M151 534.7h0M125.3 558.4h0M149.3 605.3h0M120.1 616.3h0M145.9 583.1h0M118.5 571.9h0M164 555.6h0M128.8 563.5h0M135.5 572h0M149.8 543.2h0M133 581.1h0M149.6 589.6h0M129.5 569.2h0M174.1 562.9h0M136.8 570h0M144.6 548.4h0M158.3 595.6h0M133.7 585.2h0M140.2 569.2h0M120.4 577.4h0M153 554.2h0M129.9 579.7h0M119.9 597.8h0M167.5 550.3h0M159.9 621.6h0M142.2 555.1h0M164.6 553.6h0M186.4 563.6h0M131.8 584.7h0M149.3 579.9h0M129 589.2h0M132.9 580.6h0M188.5 532.4h0M135.7 580.5h0M162.6 552.3h0M172.7 586.8h0M156.3 569h0M118.3 589.6h0M151.1 577.4h0M114.2 604.8h0M169.9 570h0M112.6 591.2h0M137.2 551.1h0M191.9 533.9h0M129.8 594.4h0M171.5 567.3h0M142.2 549.5h0M147.1 554.3h0M189.5 576.4h0M148.5 560.1h0M150.8 564.5h0M181.3 592.6h0M109.9 603.6h0M140.1 588.7h0M167.3 563.9h0M150.6 557.3h0M203.9 575.7h0M134.2 592.2h0M157.5 559.3h0M169.8 564.3h0M128.7 562.3h0M185.8 565.6h0M127.1 601.3h0M130.7 575.9h0M121.6 567h0M196.3 556.1h0M150.7 555.2h0M163 579.4h0M167 534.4h0M160.3 565.5h0M145 570.4h0M111.2 583.4h0M127.4 598h0M169.2 562.9h0M147.3 559.1h0M140.6 594.4h0M145.6 574.1h0M137.2 566.2h0M143.5 554.1h0M137 589.8h0M149.9 577.3h0M163.4 585.2h0M128.2 546.9h0M141.6 517.9h0M155.3 581.6h0M173.6 559.4h0M155.4 571.9h0M159.4 561.2h0M150.3 571.4h0M152.5 551.9h0M158.7 574.3h0M132.8 580.2h0M151.5 559.8h0M123.2 559.7h0M161.4 554.9h0M136.3 573.6h0M121 582.6h0M125.6 563h0M135.2 548.9h0M162.2 557.4h0M175.9 571.9h0M162.9 574.5h0M131.5 601.3h0M167.1 550.4h0M106.6 606h0M138.7 608.1h0M145.7 589.7h0M113.5 593.4h0M152.4 581.7h0M158 568.4h0M149.2 545.6h0M131.5 597.2h0M117.1 587.6h0M152.3 556.2h0M139.1 553.7h0M171.1 559.5h0M133.1 536.5h0M130.5 589.2h0M146 583.5h0M172.8 540.7h0" stroke="#9e1a9b" stroke-opacity="0.55" stroke-width="1.9" stroke-linecap="round" fill="none"/>
<path d="M146.3 554.1h0M165.2 544.4h0M155.5 552.1h0M113.5 594.1h0M151 567.9h0M141.1 590h0M133.4 588.9h0M167.3 561h0M175.8 572.9h0M116.9 597.1h0M146 552.4h0M132.7 574.1h0M153.8 559.8h0M112.3 596h0M128.7 599.3h0M167.9 567h0M144.2 587.8h0M127.8 530.6h0M138.2 577.3h0M152.8 557.2h0M160.6 555.1h0M190.6 534.6h0M148.5 573.8h0M148.1 580.2h0M158.5 581.9h0M146.8 566.2h0M129.1 589.2h0M110.9 591.1h0M148.7 569.7h0M132.1 552.5h0M144.6 559h0M143.4 570.1h0M152.2 570.5h0M163.9 550.7h0M161.6 556.8h0M132.8 564.9h0M143.6 590.1h0M135.4 547.5h0M161.6 580.5h0M148 572h0M141.8 553.1h0M116.9 607.4h0M124.7 563.7h0M148.4 590.2h0M149.2 571.5h0M128.6 569.2h0M143.9 570.2h0M142.7 592.9h0M157.3 591.6h0M137.6 618.7h0M170.7 549h0M148.4 583.3h0M141.6 601.3h0M122.6 599.2h0M122.8 553.7h0M154.4 547.8h0M143.7 575.8h0M144.3 547.5h0M122.1 608.7h0M192.6 545h0M93.8 581.6h0M158.4 556.3h0M159 567.8h0M152.5 581.5h0M164.7 548.4h0M132.6 602.9h0M126.3 569.6h0M139.8 564.7h0M149.3 607.8h0M116 596.4h0M133.9 582.5h0M167.2 571.8h0M144.4 553.1h0M140.7 573.3h0M147.7 558.8h0M150.9 552.5h0M115 581.5h0M160.3 561.5h0M124.6 565.3h0M142.4 563.9h0M168 556.9h0M162.9 552.4h0M121.4 551.4h0M167.6 573h0M153.7 575.1h0M141.5 572.7h0M161.6 554.7h0M138.6 552h0M95.1 601.8h0M187.3 542.1h0M139.3 557.5h0M136.5 581.2h0M177.8 576.1h0M157.8 564.6h0M162.6 568.9h0M159.9 594.1h0M131.9 585.4h0M137.9 603.8h0M156.5 574.4h0M134.9 569.6h0M114.7 594.8h0M149.2 547.7h0M130 591h0M131.3 577h0M154 573.2h0M125.8 586h0M133.4 593.5h0M137.3 578h0M123.8 601.7h0M179.7 551.3h0M127.3 583.4h0M132.6 569.5h0M130.3 567.8h0M149.1 563h0M160.2 557.1h0M167.9 553.4h0M109.9 562.5h0M157.5 580.3h0M107 567h0M193.2 540.5h0M157.7 536.7h0M154.2 548.6h0" stroke="#b32c8e" stroke-opacity="0.55" stroke-width="1.9" stroke-linecap="round" fill="none"/>
<path d="M140.2 554.8h0M155.7 551.4h0M151.8 577.5h0M155.7 540.7h0M129.9 578.6h0M181.6 532.9h0M144.8 592.3h0M156 554.7h0M121.3 611.6h0M117.3 571.8h0M147.3 556.5h0M153.6 601.9h0M171.6 584.3h0M162.4 568.1h0M130.5 564.8h0M105.3 580.6h0M193.3 560.8h0M130.5 561h0M131.9 581.2h0M145.9 599.1h0M123.2 565.4h0M117.1 614.4h0M152.2 584.3h0M121.3 593.1h0M131.5 542.3h0M129.3 594.4h0M146.7 586.5h0M152 572.6h0M153.7 548.7h0M161.3 551.5h0M132.5 559.1h0M144.9 570.2h0M157.6 573.8h0M146.5 563.9h0M112.5 593.9h0M149.1 586.9h0M169.4 569.6h0M153.4 564.1h0M151.8 578.3h0M135.5 570.9h0M132.2 550.2h0M176.1 579.4h0M163.2 553.7h0M168.1 563.3h0M147.5 542.9h0M135.7 557h0M131.1 584.4h0M151.6 560.2h0M119.9 560.7h0M136.8 544.5h0M162.9 573.4h0M122.7 590.3h0M170.6 570.8h0M140.7 585h0M138.5 572.1h0M167.9 556.2h0M155.4 547.8h0M119.1 624.1h0M165.1 543.9h0M109.2 558h0M148.6 577h0M167.2 547.6h0M110.9 608.1h0M168.7 548.9h0M110.7 576h0M261.5 592.8h0M186.5 551.5h0M148.1 580.7h0M190 601h0M172.6 546.4h0M145.7 573.8h0M158.2 543.7h0M130.7 588.6h0M129.1 579.6h0M129.1 552.6h0M159.7 550.8h0M166.7 563h0M141.3 555.4h0M136.4 615.1h0M175.3 565.7h0M117.3 558.4h0M157.8 560h0M97.2 624.6h0M98 585.5h0M156.8 545.3h0M131 573.7h0M145.1 557.5h0M159.2 562.3h0M135.2 576.8h0M172 559.1h0M108.1 580h0M141.3 565.9h0M110.1 565.6h0M152.2 608.2h0M193.3 598.8h0M169.1 582.2h0M125.8 551.9h0M146 579.3h0M172.4 539.8h0M131.7 568h0M93.7 601h0M257.5 520.5h0M125.6 595.3h0M134.5 565.7h0M152 609.9h0M134.3 565h0M164.7 536.5h0M165.6 555.3h0M129.8 547.7h0M156.3 594.2h0M173.7 526.3h0M142.4 549.6h0M117.8 574.7h0M143.7 556.5h0M173.8 531.3h0M136 558.1h0M137 568h0M156.4 565.1h0M154.5 550.2h0M159.3 577.1h0M172.7 526.4h0M126.1 567.4h0" stroke="#b32c8e" stroke-opacity="0.55" stroke-width="1.9" stroke-linecap="round" fill="none"/>
<path d="M123.3 590.1h0M118.3 590.5h0M174.8 532.5h0M152.9 598.3h0M154.6 558.4h0M132.3 531.8h0M200.5 556.4h0M146.5 583.3h0M148.4 573.7h0M142.7 563.2h0M155.2 572h0M170 547h0M160.3 573.2h0M148.5 556.4h0M153.6 569.2h0M195.2 539.9h0M159.5 560.4h0M136.3 575.5h0M145.1 561.1h0M158.3 584.7h0M162.2 575.6h0M146.3 566.3h0M139.9 608.4h0M190.7 532.9h0M149.5 547.6h0M161 566.9h0M132.6 583.8h0M162 570h0M138.4 567.3h0M171.6 554.5h0M156.2 592.5h0M106.5 589.8h0M156.7 581.6h0M124.5 580.5h0M144.6 592.9h0M162.7 544.1h0M159.4 544.2h0M155.5 558.5h0M179.5 531h0M142.9 572.7h0M188.3 564.4h0M159.7 583.3h0M143.9 577.7h0M156.8 517.3h0M144.6 550.6h0M132.7 609.5h0M158.7 603.8h0M177.4 566.1h0M185.8 547.3h0M142.1 600.7h0M113.1 625.6h0M151.3 573h0M138 569.7h0M166.7 550.3h0M177.2 544.1h0M174.8 549.1h0M151.2 606.3h0M127.1 574.1h0M159.1 563.8h0M147 552.7h0M231.9 525.5h0M149 563.5h0M181.7 563h0M142.4 581.8h0M149.7 579.3h0M144.3 556.3h0M142.4 580h0M131.7 548.1h0M166.7 587.8h0M142.1 556.5h0M127.6 605.4h0M120.7 570.5h0M156.4 565.3h0M162.1 548.9h0M168.3 539.8h0M119.4 582h0M143.2 601.8h0M167.9 564.7h0M167.7 579.2h0M147.4 569.8h0M173.6 559.6h0M155.7 571.7h0M164.4 548.3h0M163 589h0M110.4 569.8h0M176.8 545.5h0M116.2 563.8h0M132.6 587.3h0M113.2 596.3h0M152.7 559.4h0M161.4 575.4h0M127.5 579.3h0M151.1 574.3h0M149.6 566.3h0M161.8 604.7h0M162.6 568.7h0M159.7 551.2h0M158.3 577.1h0M138.2 572.2h0M108.3 598.3h0M133.3 544.8h0M181.2 566.4h0M146.3 553.4h0M113.6 577.8h0M173.8 574.8h0M170 571.2h0M153.6 550.8h0M136.2 554.5h0M160.5 567.1h0M150 565h0M150.6 557.2h0M128 584.4h0M195.2 619.3h0M175.8 604.8h0M131 581.4h0M133.7 569.6h0M141.2 578.5h0M84.7 603.8h0M113 577.8h0M131.1 530.9h0M135.3 588.2h0" stroke="#b32c8e" stroke-opacity="0.55" stroke-width="1.9" stroke-linecap="round" fill="none"/>
<path d="M118.9 564.2h0M134.3 579.7h0M117.6 573.7h0M115.5 577.6h0M123.8 579.8h0M88.8 574.8h0M101.9 563h0M152 555.6h0M115.1 586.6h0M104.6 583.5h0M120.9 537.5h0M91.5 552.5h0M86.3 593.3h0M110.1 551.8h0M131.7 591.9h0M134.6 558.4h0M114.4 554.2h0M127.5 573.1h0M123.6 558.5h0M137.3 592.2h0M119.2 567.7h0M109.4 585.7h0M100.1 599.2h0M99.7 577.2h0M127.3 579.5h0M121.5 574.8h0M117.8 589.7h0M102.4 617.6h0M176.6 572.3h0M120.4 569.6h0M164.9 548.6h0M95.2 565.4h0M135 564.9h0M83.7 568h0M85.7 577.1h0M121.3 521h0M109.6 565.1h0M111.6 585.2h0M117.5 549.5h0M110.7 599h0M114.4 578.3h0M134 559.1h0M99.5 564.9h0M124 549.9h0M99.1 578.2h0M103.1 587.2h0M104.3 571.3h0M120.4 579.2h0M149 573.3h0M143.7 552.2h0M144.4 533.8h0M120.5 484.8h0M122.7 568.6h0M91.6 567.6h0M142.1 571.3h0M157.5 552.7h0M81.8 590.9h0M137.7 577.8h0M124.9 568.5h0M143.8 570.2h0M124.9 546.1h0M130.7 564.6h0M110.2 600.9h0M115.2 592.9h0M152.1 549.7h0M105.8 573.1h0M107 594.5h0M122.9 583.2h0M165.8 545.6h0M231.6 584.6h0M122 563h0M115.7 572.2h0M97.6 577.5h0M104.5 548.4h0M165.8 534.5h0M139.3 554.7h0M176.1 581.9h0M143.6 573.6h0M140 557.6h0M104.8 546.9h0M107.5 619.5h0M155.8 547.2h0M108 602.4h0M97.8 595.1h0M115.3 532.3h0M131.3 602.6h0M125.9 541.6h0M129.9 576.2h0M118.5 569h0M100.3 589.3h0M143.8 571.8h0M111.8 591.4h0M155.7 554.8h0M108.7 566.6h0" stroke="#c43e80" stroke-opacity="0.55" stroke-width="1.9" stroke-linecap="round" fill="none"/>
<path d="M137.3 588.5h0M147.8 563.4h0M91.2 551.1h0M163.9 584h0M127 578.7h0M131.1 567.7h0M136.1 577.4h0M120.3 571.1h0M97.1 568.6h0M111.2 550.2h0M125.3 591.3h0M143.1 554.4h0M76.6 592.9h0M143.6 579.3h0M144.7 569.5h0M83.7 598.4h0M118.4 593h0M116.2 556.5h0M125.1 571.3h0M141.6 548.3h0M111.2 582.6h0M197.2 510h0M156.1 601.9h0M165.4 560.3h0M113.6 553.7h0M173.8 547.5h0M114 537.2h0M81.3 592.3h0M130.1 576h0M106.8 619.5h0M78 565.9h0M134.6 536.8h0M104.1 584.7h0M126.4 513.8h0M104.6 550h0M145.8 555.8h0M128.6 562.9h0M115.5 576.4h0M164.4 571.4h0M144.9 610h0M148.2 558.9h0M137.8 585.2h0M140.1 554.2h0M103.1 588.9h0M128.4 564.9h0M105 587h0M81.9 601.1h0M131 557.5h0M125 559.7h0M151.2 549.5h0M115.6 600.1h0M133.8 587.2h0M258.6 604.7h0M111.2 542.1h0M120.8 587.8h0M121.8 569.5h0M87.8 593.9h0M99.6 572.2h0M172.9 548.2h0M127.2 605.6h0M106.8 578.9h0M126.8 550.7h0M124.3 571.2h0M138.5 582.4h0M115.1 574h0M118.1 551.3h0M99.3 596.9h0M109.4 566h0M116.4 609.9h0M88.7 585.4h0M97.3 606.2h0M140.6 574.8h0M117.6 590h0M97.1 596.3h0M112.5 564h0M132.2 540.6h0M85.3 595.8h0M98.6 585.6h0M108.9 576.8h0M101.3 571.5h0M154.2 582.4h0M67.6 605.9h0M163.8 575.5h0M127.2 502.7h0M149.4 561.7h0M136.1 580.1h0M136.6 553.4h0M108.5 524.7h0M105.5 575.6h0M121.7 532h0M142.1 563.1h0M120.8 579.9h0M109.4 573.9h0" stroke="#c43e80" stroke-opacity="0.55" stroke-width="1.9" stroke-linecap="round" fill="none"/>
<path d="M140.7 578.8h0M141.9 574.1h0M159.5 571.2h0M134.1 547.9h0M120.6 575.9h0M104.1 548.8h0M117 565.3h0M97.3 578.5h0M128 536.6h0M125.6 562.8h0M110.5 571.7h0M122 592.7h0M74.4 569.3h0M82.6 592h0M119.7 544h0M97.9 589.5h0M122 544.4h0M106.8 604.3h0M157.4 588.7h0M109 560.6h0M158.2 588.7h0M100.6 598.8h0M95.9 575.7h0M131.8 549.9h0M137.7 568.8h0M102.3 575.1h0M184.5 539.7h0M95.5 600.7h0M132.3 547.3h0M131.3 557.4h0M118.8 551.8h0M126.8 576.2h0M100.7 578.6h0M139.3 580.5h0M116.2 575.4h0M136 562.3h0M111.9 565.1h0M145.2 588.6h0M119.6 548.2h0M92.2 576.7h0M99.8 587.6h0M156.2 573.5h0M123.3 573h0M109.1 581.9h0M94 576.5h0M147.8 558.2h0M119.1 596.2h0M145.4 568h0M134 569.5h0M122.8 583.7h0M116.5 572.4h0M154 552h0M139.3 581.3h0M144.3 567.8h0M109.3 578.8h0M95.6 579.7h0M105.2 575h0M133.5 600.6h0M115.5 567.9h0M88.7 582.4h0M117.1 589.9h0M79.9 559.6h0M158.4 591h0M161.4 550.6h0M153.3 566.9h0M145.4 539h0M154 553.5h0M171 594.1h0M111.4 562.7h0M117.4 560.3h0M116.4 571.5h0M79.9 606.2h0M130.4 550.9h0M130.6 598.9h0M139.5 575.7h0M104.5 572.4h0M112.7 540.5h0M111.5 579.1h0M133.7 586h0M120.2 561.3h0M171.8 555.5h0M109.5 563.9h0M131 565.6h0M122.7 584.8h0M116.3 571.5h0M141.2 548.5h0M118.9 560.6h0M132.7 562.1h0M101.2 587h0M115.9 580.1h0M91.9 582h0M113.1 591.9h0M105.1 549.8h0" stroke="#c43e80" stroke-opacity="0.55" stroke-width="1.9" stroke-linecap="round" fill="none"/>
<path d="M81.3 601.5h0M97.8 574.6h0M114.2 577.8h0M114.5 551.7h0M125.4 567.9h0M93.2 594h0M95.4 578.4h0M122.3 559.4h0M107.6 564.2h0M118.9 572.9h0M96.5 574.7h0M97.5 562.1h0M123.2 594.5h0M76.5 576.9h0M101.3 570.9h0M128.1 554.5h0M117.2 555.9h0M91.4 611h0M141.3 560.9h0M96.2 580.2h0M116.2 592.6h0M119 599.2h0M139.9 594.3h0M116.4 565h0M116.1 614.4h0M127.4 563h0M117.9 570.3h0M112.6 592.6h0M110.8 570.1h0M115.6 560.7h0M92.5 586.3h0M121.4 560h0M123.6 575.5h0M119.3 550.8h0M112 567.2h0M124.1 564.9h0M116.6 582.1h0M151.9 524.5h0M115.8 586h0M116.3 576.9h0M103.3 561.4h0M118.3 576.4h0M136.1 555.5h0M125.8 544.2h0M129.9 565.7h0M98.4 576h0M130.1 572.3h0M124.8 562.7h0M135 546.8h0M167 515.4h0M133.4 610.9h0M147.6 548.5h0M89.4 588.4h0M115.6 558.9h0M109.9 539.2h0M126.1 548.1h0M112.4 530.9h0M103.9 565.3h0M131.6 572.8h0M149.9 548.1h0M143.3 556.5h0M111.1 603.3h0M89.8 565.5h0M100.9 554.4h0M111.1 612.6h0M118.2 579h0M136.8 573h0M96.3 563.4h0M117.9 568.9h0M124 560.4h0M242.2 571.3h0M101 593.3h0M115 568.8h0M101.5 587.2h0M116.3 581.4h0M121.6 566.9h0M112.5 571.7h0M69.3 558.1h0M119.2 589.2h0M107.1 544.1h0M132.6 553.7h0M226.6 491.2h0M105.4 546.8h0M130.7 578.3h0M115.6 572.5h0M95.1 557.6h0M131.7 554h0M158.6 555.3h0M111 569.1h0M151.9 549.1h0M75.4 586.7h0M93.9 598.8h0" stroke="#d35071" stroke-opacity="0.55" stroke-width="1.9" stroke-linecap="round" fill="none"/>
<path d="M103.7 598.2h0M135.9 574.1h0M98.3 605.5h0M84.7 607h0M92 625.2h0M131.8 590.5h0M130.4 577.3h0M126 592.2h0M132.9 577.4h0M87.8 591.8h0M95.7 593.4h0M139.6 584.2h0M118.5 552.5h0M129.8 548.2h0M109.6 556.6h0M113.1 592.3h0M148.4 530.4h0M112.8 551.2h0M108.3 589.5h0M102 575.7h0M111.7 566.8h0M93 607.9h0M108 615.6h0M97.6 553.7h0M123.5 578.6h0M87.9 595.3h0M137.6 569.1h0M109.7 581.2h0M184.4 587.3h0M121.5 571h0M97.3 600.1h0M128.9 555.3h0M122.4 569h0M107.9 567.4h0M105.1 569.5h0M143.6 548.9h0M94.7 572.2h0M109.9 591.9h0M118.7 562.2h0M145.9 543.1h0M84.5 575.3h0M113 570.5h0M116.3 554.1h0M113.6 590.7h0M120.6 585.1h0M141.3 555h0M114.2 566h0M123.3 582.3h0M109.6 577.6h0M118.8 574.8h0M97.9 548.9h0M125.5 555h0M109.9 572.6h0M77.2 587.6h0M122 588.2h0M227.3 596h0M141.4 555.3h0M142.5 545.5h0M131.2 541.9h0M113.2 554.2h0M88 575.1h0M99.6 552.6h0M115.4 566.7h0M99.3 603.7h0M138.7 564.2h0M95 588.3h0M140.2 569.6h0M136.1 555.7h0M101.9 578.6h0M110.7 554.2h0M95.6 577.2h0M107 594.4h0M141.1 557.8h0M103.7 603.9h0M109.6 585.2h0M129.5 575.4h0M124.8 546.6h0M111 567.4h0M131.6 577.2h0M115.9 556.8h0M106.2 572.5h0M136.7 572.2h0M110.3 599.3h0M102.3 562.7h0M123.3 566.1h0M101.6 556.7h0M121 557.3h0M109.8 541.5h0M118.6 542.1h0M120.1 583.5h0M154.3 577.8h0M116.2 571.8h0" stroke="#d35071" stroke-opacity="0.55" stroke-width="1.9" stroke-linecap="round" fill="none"/>
<path d="M128.3 578.5h0M121.5 565.5h0M118.9 589h0M141.9 571.9h0M98.1 587.7h0M130.2 588.2h0M99.4 588.4h0M108.4 571.8h0M90 611.2h0M110.5 533.1h0M130.7 548.4h0M129.7 563.6h0M122.6 585.2h0M109 562.6h0M88.5 583.4h0M89.7 601.3h0M93 566.6h0M116 552.9h0M126.1 585.1h0M103.6 575.5h0M106.6 569.6h0M123.7 555.5h0M98 595.6h0M110.7 586h0M104.5 573.8h0M84.2 565h0M105.3 561.7h0M109.3 611.6h0M130.1 566.2h0M138.1 569.1h0M93.3 584.7h0M99.2 596.7h0M111.2 564.4h0M134.5 542.7h0M113.2 565.3h0M125.8 581.5h0M123.4 574.3h0M102.1 600.1h0M100.5 559.5h0M121 590.3h0M109.6 566.8h0M118.4 566.7h0M125.9 587.5h0M126.2 586.9h0M98.8 584.3h0M125.4 574.7h0M109.6 560.1h0M134.8 566.3h0M138.4 567h0M94.4 585.1h0M112.8 613.2h0M137.7 525.7h0M104.3 567.1h0M87.4 553.8h0M94.2 591.3h0M108.5 572.7h0M103 606.8h0M106.5 566.5h0M109.9 567.6h0M95.2 556.8h0M103.5 576.4h0M104.9 562.9h0M142.8 578h0M136.2 556.1h0M125.6 553.6h0M116.6 555.9h0M126.2 548.2h0M93 550.6h0M128.9 579.9h0M111.7 591.4h0M132.8 570.2h0M126.5 567.1h0M124.8 553.3h0M134.2 551.2h0M96.3 577.2h0M97.6 559.7h0M143.2 565.3h0M121.5 549.6h0M116.3 554.7h0M136.6 542h0M123.7 553.8h0M130.7 551.3h0M119.2 581.5h0M104.6 562.2h0M127.2 567.6h0M112.5 538.2h0M134.9 552.9h0M99.6 590.9h0M101.2 575.3h0M118.1 554.5h0M124.2 587h0M140.8 608.6h0" stroke="#d35071" stroke-opacity="0.55" stroke-width="1.9" stroke-linecap="round" fill="none"/>
<path d="M112.7 593.8h0M106.6 569.6h0M114.8 551.4h0M116.9 596.9h0M130.7 571.3h0M83.1 612.1h0M101.8 576.8h0M114.5 584.7h0M76.2 606.6h0M124.1 566h0M91.4 620.3h0M104.6 597.2h0M109.6 540.5h0M133.1 558.9h0M122.2 571h0M101.2 605.9h0M95.8 595.1h0M110.4 574.1h0M82.6 573.8h0M139.4 576.9h0M137.7 571.1h0M119.3 544.7h0M117.4 568.5h0M133.5 560.5h0M103.9 568.5h0M81.8 575.4h0M95.6 603.3h0M117.8 577.5h0M100.8 557.6h0M136.1 577.5h0M116.2 567.7h0M135 569.1h0M115.4 568.6h0M99.6 598.8h0M83.1 614.9h0M125.4 568.4h0M86.2 569.4h0M108.3 571.4h0M89.1 596h0M98.5 594.1h0M116.6 604.8h0M113.6 550.6h0M85.3 622.5h0M129 568.6h0M118.2 589.5h0M122.3 585.6h0M138.4 577.6h0M63.8 612.3h0M153.4 550.3h0M105 576.8h0M125.7 557.5h0M110.1 596.5h0M114.8 564.5h0M141.5 546.5h0M109.9 579.6h0M127.9 563.5h0M91.6 581.7h0M136.5 606.1h0M100.2 552.6h0M94.1 585.6h0M115.8 555.6h0M110.1 564.6h0M119.8 562.3h0M120.9 569.4h0M97.9 554.4h0M116.4 583h0M89.9 584.2h0M86.1 584.8h0M124.9 538.5h0M132.9 553.8h0M101.2 557.5h0M109.3 591.5h0M152.2 579.9h0" stroke="#e06263" stroke-opacity="0.55" stroke-width="1.9" stroke-linecap="round" fill="none"/>
<path d="M86.5 583.1h0M97 590h0M120.1 576.3h0M128 575.4h0M96.9 596.4h0M125 558h0M125.7 536.8h0M141 575.3h0M116.5 577.8h0M86 583.8h0M139.7 550.5h0M116.7 578.7h0M116.6 553.1h0M103.7 572.5h0M84.9 595.2h0M101.8 570.5h0M112.6 584.6h0M80 607.8h0M116.8 567.1h0M116.7 581.3h0M155.1 567.6h0M81.3 563.4h0M103.6 588.2h0M84.9 586.2h0M119.8 569h0M109.9 563.8h0M123.9 552.7h0M106.8 536h0M124.5 592.9h0M123.5 582.3h0M75.8 600.9h0M118.5 586.8h0M95.6 580.6h0M137.5 583.4h0M100.9 587.1h0M109.3 574h0M75.4 621.8h0M120.7 572.5h0M106.3 556.6h0M88.1 588.3h0M124.2 580h0M132.4 563.7h0M116 567.4h0M137.6 564.3h0M139.9 541.2h0M76.3 588.2h0M103.4 588.4h0M114 573.6h0M118.6 554.4h0M86 563.6h0M119.3 541.7h0M117.7 575.4h0M126.4 526.4h0M129.6 555.6h0M98.4 582.8h0M128.4 568.3h0M109.7 539.8h0M116.2 540.9h0M72.6 590.1h0M133.5 560.4h0M134.9 563.7h0M103 589.3h0M94.6 566.3h0M132.5 562h0M125.8 573.1h0M118.6 562.8h0M96.2 570.5h0M126.6 578.5h0M106.1 587.5h0M100.8 578.6h0M102.7 570.4h0M114.7 549.7h0M126.9 564h0" stroke="#e06263" stroke-opacity="0.55" stroke-width="1.9" stroke-linecap="round" fill="none"/>
<path d="M118.2 566.4h0M119.9 573.6h0M105.7 588.6h0M110.7 591.9h0M118.4 558.7h0M82.9 572.2h0M108 572.1h0M112.3 573.4h0M119.8 535.5h0M129.6 554.1h0M147.2 575.7h0M112.5 594.1h0M111.9 578.1h0M100.5 569.5h0M105.2 566.5h0M127.6 585.1h0M111.7 566.9h0M90 577.9h0M117.4 584h0M103.9 561.7h0M97.1 603.4h0M103.6 564.9h0M89.4 588.4h0M82 571.5h0M94.2 564.4h0M121 571.4h0M131.2 595.4h0M127.1 565.3h0M115.3 586.7h0M123.3 618.8h0M119.2 595.4h0M86.6 584.3h0M125.7 584.3h0M102.8 585.8h0M114.6 578.9h0M110.9 556h0M99.7 603.7h0M101.8 604.3h0M112.9 563h0M132.1 560.6h0M78.9 607h0M130.8 569.3h0M138.6 574.6h0M121.3 545.4h0M113.9 571h0M112.1 572.4h0M74.4 579.4h0M88.2 579.1h0M90.8 564h0M117.3 578.7h0M122.8 550.6h0M138.4 551.8h0M97.1 581.6h0M113.1 570.4h0M84.9 619.5h0M150 574.1h0M127.4 581.8h0M99.1 547h0M129.9 552.4h0M119.5 592.4h0M104.1 564h0M95 556.7h0M88.2 595.9h0M128.9 565.7h0M157.5 556.5h0M126.6 574.4h0M99.1 598.6h0M112.4 569.2h0M114.2 557.4h0M95.7 561.5h0M111.7 620h0M110.4 578.4h0" stroke="#e06263" stroke-opacity="0.55" stroke-width="1.9" stroke-linecap="round" fill="none"/>
<path d="M74.8 583.3h0M107.4 601.6h0M95.5 591.5h0M106 606.2h0M98.1 599.9h0M97.5 593.6h0M108.2 589.6h0M109.7 604.9h0M65.8 591.6h0M86.7 603.7h0M95.5 618.7h0M76 617.2h0M77.3 580.9h0M97.3 568.1h0M107.2 590.4h0M61.4 585.8h0M78.6 609.5h0M75 593.8h0M84.3 599.6h0M78.9 558.4h0M91.6 615.3h0M104.4 569.9h0M101.5 588.4h0M89.3 575h0M65.8 588.5h0M112.5 586.1h0M84.3 582.4h0M73.9 598.9h0M93.8 616.7h0" stroke="#eb7655" stroke-opacity="0.55" stroke-width="1.9" stroke-linecap="round" fill="none"/>
<path d="M105.7 602.2h0M92.8 596.3h0M93.9 587.5h0M111 596.4h0M106.7 592.6h0M97.7 600.1h0M114.2 603.4h0M92.2 585.8h0M77.5 594.6h0M101.6 578.4h0M122.5 586.7h0M105.1 573.3h0M94.7 594.7h0M76.4 625.2h0M64.5 578.3h0M100 588.4h0M78.2 622.7h0M103.7 562.2h0M112.3 574.2h0M99.1 531.7h0M104.9 615h0M79.7 624h0M93.5 619.1h0M117.7 568.2h0M92.4 607.6h0M85 617.1h0M84.3 594.6h0M94.5 586.2h0M95.3 582.4h0" stroke="#eb7655" stroke-opacity="0.55" stroke-width="1.9" stroke-linecap="round" fill="none"/>
<path d="M105.2 596.7h0M78.5 615.2h0M96.8 605.4h0M71.3 566.4h0M101.7 598.5h0M97.8 598.7h0M104 559.5h0M88.1 596.3h0M88.7 585.1h0M89.6 595.6h0M104 604.3h0M74.6 609.3h0M89.6 618.8h0M113.2 589.5h0M90.2 620.1h0M99.8 609.8h0M83.8 585.1h0M103.1 566.1h0M95.1 607.8h0M74.5 621.4h0M83.6 602.3h0M80.5 571.5h0M112.7 557.8h0M121.4 577.2h0M95.6 586.5h0M101.1 561.6h0M111.2 582.7h0M61.5 607.3h0" stroke="#eb7655" stroke-opacity="0.55" stroke-width="1.9" stroke-linecap="round" fill="none"/>
<path d="M92.3 601.1h0M94.1 594.5h0M58.8 619.1h0M124.8 570.5h0M106.2 607.3h0M95.4 611h0M85.3 606.8h0M72.4 607h0M88 611.9h0M71 588.3h0M98.3 596h0M71.3 609.3h0M82.3 609.3h0M89.3 609.9h0M68.3 599.7h0M73.7 607.6h0M107.2 596.9h0M115.6 598h0M116.4 567.3h0M63.3 604.3h0M94.3 611.1h0M100.9 576.9h0M125.1 591.4h0M90 578.2h0M96 564.9h0M109.6 590.6h0M97.4 580.7h0" stroke="#f48a47" stroke-opacity="0.55" stroke-width="1.9" stroke-linecap="round" fill="none"/>
<path d="M104.6 568.2h0M125.1 591.1h0M89.2 571.1h0M88.2 596.2h0M118.4 626.1h0M114 593.6h0M64.4 594.8h0M122.8 544.2h0M71.1 617.7h0M87.3 575.5h0M92.6 596.6h0M81.9 624.4h0M103.8 577.4h0M65.1 623.4h0M60.3 609.6h0M99.2 602.6h0M97.3 617h0M91.7 588.4h0M78 573.7h0M79.2 583.8h0M79.3 623h0M90.7 611.8h0M91.9 592.3h0M108 616.5h0M107.6 564.3h0M112.9 597.1h0M108.6 582.3h0" stroke="#f48a47" stroke-opacity="0.55" stroke-width="1.9" stroke-linecap="round" fill="none"/>
<path d="M101 609.5h0M91.5 585.9h0M96.6 623.6h0M94.6 623.1h0M95.8 573.1h0M100.8 575.5h0M100.1 590.1h0M94.5 614.8h0M93.2 589.9h0M128.1 577.3h0M83.1 601.1h0M82.4 610.3h0M107.2 591.7h0M79.7 618.6h0M89.7 611.7h0M85.1 568.2h0M96.1 621.6h0M112.6 579.6h0M102.7 570.9h0M96.9 575.1h0M100.4 568.1h0M70.3 586.4h0M91 567.1h0M79 592.9h0M89.1 594.4h0M109.1 598.6h0M80.5 601.1h0" stroke="#f48a47" stroke-opacity="0.55" stroke-width="1.9" stroke-linecap="round" fill="none"/>
<path d="M79.1 615h0M108.5 603.3h0M114.2 602.2h0M88.7 620.4h0M108 589.6h0M87.3 593.2h0M105.6 580.6h0M119.1 586.7h0M98.4 610.8h0M81.3 583.9h0M104.7 585.1h0M88.4 591.5h0M74.4 590.8h0M93.9 599.1h0M109 609.2h0M89.4 587.4h0M78.6 624.2h0M83.2 589.6h0M102.8 575.8h0M104 580.9h0M107.6 605.3h0M81.3 575h0M73.3 598.1h0M120.1 573.5h0M69.9 595.1h0M109.4 578.4h0M136.4 576.9h0M105 601.8h0" stroke="#faa03a" stroke-opacity="0.55" stroke-width="1.9" stroke-linecap="round" fill="none"/>
<path d="M80.9 598.7h0M92.1 570.1h0M87.8 586.9h0M85.3 622h0M109.3 613.1h0M77.6 590.6h0M93.7 599.2h0M82.1 595.3h0M111.5 559.7h0M100.2 594.3h0M100.9 597.8h0M83.4 590.6h0M68.2 605.3h0M64.1 593.7h0M76.5 616.1h0M84.3 618.7h0M96.4 593.5h0M110.4 575.3h0M77.2 611.2h0M114.7 600.1h0M75.4 591.4h0M70.4 593h0M88.5 598.9h0M102.9 564.5h0M94.6 598.7h0M97.3 570.1h0M79.1 605.6h0M101.2 589.5h0" stroke="#faa03a" stroke-opacity="0.55" stroke-width="1.9" stroke-linecap="round" fill="none"/>
<path d="M96.1 599.3h0M113.3 583.2h0M80.5 594.7h0M105.7 552.7h0M88.6 595.1h0M68.4 606.6h0M89.5 613.1h0M105 588.7h0M84.7 576.7h0M103.5 609.3h0M75.3 622.4h0M86.5 623.8h0M94.5 617.4h0M85.1 624.3h0M58.1 612.8h0M107.3 591.6h0M85.8 612.7h0M63.7 584.7h0M95.9 560.6h0M93.7 582.9h0M96.7 585.3h0M65.2 590.1h0M119.5 581.2h0M122 561.9h0M86.3 590.3h0M109.8 607.6h0M78 572.4h0" stroke="#faa03a" stroke-opacity="0.55" stroke-width="1.9" stroke-linecap="round" fill="none"/>
<path d="M91.8 595.5h0M128.2 585.8h0M91.5 592.8h0M72.9 609.4h0M117.4 576.5h0M102 610.5h0M93.7 619.8h0M74.2 600.2h0M99.4 586.4h0M100 618.3h0M83.5 570.2h0M97.9 593h0M107.3 593.2h0M94.1 570.3h0M90.7 622.4h0M88.1 583h0M86.2 618h0M90.7 609.4h0M83.3 590.6h0M94.3 584.9h0M103.3 570.4h0M86.6 593.7h0M88.8 590.2h0M110.9 596h0M98.6 604h0M71.3 593.5h0" stroke="#fcb82f" stroke-opacity="0.55" stroke-width="1.9" stroke-linecap="round" fill="none"/>
<path d="M116.8 601.2h0M101.6 622.6h0M59.2 599.8h0M91 621.9h0M100.2 600.9h0M101.4 586.9h0M122.5 568.4h0M78.3 598.8h0M71.5 567.5h0M115.8 611.6h0M80.9 603.2h0M77.3 586.2h0M105.8 571.5h0M86.9 614.5h0M72.8 618.2h0M109.9 583.2h0M90.7 602.3h0M65.7 610.8h0M105.8 579.8h0M92.5 601.9h0M108.1 590.7h0M97.4 600.6h0M75.3 603.5h0M72.6 621.9h0M84.3 573.2h0" stroke="#fcb82f" stroke-opacity="0.55" stroke-width="1.9" stroke-linecap="round" fill="none"/>
<path d="M77.2 596.8h0M107.7 619.1h0M90 583.5h0M94.6 622.9h0M102.6 593.1h0M120.1 581.9h0M105.1 587.7h0M102 587.7h0M93.7 599.8h0M108 599.4h0M88.6 616.4h0M63.2 602.8h0M81.7 587.1h0M88.1 599.6h0M107.8 568.6h0M139.9 594.6h0M75 608.5h0M82.8 612.7h0M103 578.9h0M99.6 623.1h0M114.3 575.3h0M117 595.9h0M118.2 594.2h0M97.3 597h0M95.8 574.9h0" stroke="#fcb82f" stroke-opacity="0.55" stroke-width="1.9" stroke-linecap="round" fill="none"/>
<path d="M101.3 553.3h0M84.4 618.8h0M90.3 593.4h0M76.5 602.4h0M90.4 612.6h0M101.2 603.4h0M77.7 568h0M104.4 577.9h0M99.9 600.4h0M106.8 570.7h0M105 595.9h0M93.7 618.2h0M80.5 607.3h0M102.9 581.3h0M90.5 593.6h0M97.5 589.7h0M106 580.6h0M80.3 622.1h0M85 588.6h0M79.2 615.1h0M71.9 619.6h0M74.8 601.9h0M104.4 573.6h0M100.6 606h0M98.5 596.2h0M86.7 580.1h0M109.2 600.3h0" stroke="#fbd125" stroke-opacity="0.55" stroke-width="1.9" stroke-linecap="round" fill="none"/>
<path d="M95.6 590.7h0M101.8 580.8h0M110.9 592.6h0M106.2 602.7h0M88.9 618.2h0M73.2 624.8h0M72 595.7h0M95 573.8h0M71.1 589.6h0M93.5 592.8h0M100.3 585.5h0M97.4 591.1h0M76.1 624.6h0M103.5 594.9h0M100 599.6h0M93.6 622.6h0M84.5 598.2h0M111.3 592.4h0M61.2 612.5h0M96 600.7h0M73.5 613.4h0M100.8 607.4h0M85.5 578.3h0M96.8 603.7h0M78.5 590.5h0M97.7 609.7h0M99.5 596.2h0" stroke="#fbd125" stroke-opacity="0.55" stroke-width="1.9" stroke-linecap="round" fill="none"/>
<path d="M64.7 580h0M80.9 602.8h0M97.4 605.6h0M83.8 587.7h0M79.9 619.2h0M88 588.3h0M96.1 595.6h0M100.2 613.8h0M96.6 597.4h0M95.1 588.7h0M65.6 602.1h0M99.1 588.7h0M75.8 590.9h0M80.9 619.4h0M82.7 618.7h0M79.4 575.6h0M86.5 624.6h0M98.3 581h0M90.1 604.9h0M91.7 591.9h0M101.2 558.3h0M83.5 572h0M113.4 610.2h0M80.3 587.2h0M102.1 558.4h0M104.7 605.7h0" stroke="#fbd125" stroke-opacity="0.55" stroke-width="1.9" stroke-linecap="round" fill="none"/>
<path d="M86.7 570.7h0M77.6 582.3h0M92.5 589h0M106 598.2h0M101.6 586.8h0M93.8 585.6h0M97.5 598.8h0M70.2 623.2h0M98.3 610.8h0M96.7 620.1h0M71.4 590.8h0M71.2 618.1h0M101 615.6h0M78.6 605.8h0M80.1 623.3h0M68.4 615.7h0" stroke="#f4ec22" stroke-opacity="0.55" stroke-width="1.9" stroke-linecap="round" fill="none"/>
<path d="M77.9 605.2h0M93.7 600.3h0M91.3 621.1h0M63.9 594.1h0M104.1 615.6h0M76.8 599.4h0M114.1 579.6h0M81 619h0M93.1 594.5h0M104.2 605.7h0M79.8 567.8h0M93.2 606.2h0M67.7 595.2h0M72 608.3h0M100.4 561.8h0" stroke="#f4ec22" stroke-opacity="0.55" stroke-width="1.9" stroke-linecap="round" fill="none"/>
<path d="M81.4 582.3h0M95 595.9h0M87.4 587.4h0M87.8 575.8h0M74.7 620.5h0M78.2 617.4h0M95 604h0M71.7 587h0M97.3 590.3h0M90.6 601h0M105.5 563h0M105.1 594.4h0M88.9 563.9h0M84.3 601.6h0M84.2 589.8h0" stroke="#f4ec22" stroke-opacity="0.55" stroke-width="1.9" stroke-linecap="round" fill="none"/>
<path d="M52 609.8L63.2 605.4L74.4 600.9L85.6 596.4L96.8 591.9L108.1 587.3L119.3 582.7L130.5 578.1L141.7 573.5L152.9 568.9L164.1 564.3L175.3 559.6L186.5 554.9L197.7 550.1L208.9 545.3L220.2 540.5L231.4 535.6L242.6 530.7L253.8 525.8L265 520.8L265 527.2L253.8 531.5L242.6 535.8L231.4 540.2L220.2 544.6L208.9 549L197.7 553.5L186.5 558L175.3 562.5L164.1 567.1L152.9 571.7L141.7 576.4L130.5 581L119.3 585.7L108.1 590.4L96.8 595.1L85.6 599.8L74.4 604.6L63.2 609.4L52 614.2Z" fill="#8c8c8c" fill-opacity="0.55"/>
<path d="M52 612L63.2 607.4L74.4 602.7L85.6 598.1L96.8 593.5L108.1 588.8L119.3 584.2L130.5 579.6L141.7 574.9L152.9 570.3L164.1 565.7L175.3 561.1L186.5 556.4L197.7 551.8L208.9 547.2L220.2 542.5L231.4 537.9L242.6 533.3L253.8 528.6L265 524" stroke="#111" stroke-width="1.6" fill="none" stroke-linejoin="round" />
<path d="M49 443L49 636.9" stroke="#7a7a7a" stroke-width="1.15" fill="none"/>
<path d="M48.4 636.3L275.5 636.3" stroke="#7a7a7a" stroke-width="1.15" fill="none"/>
<path d="M44 596.5L49 596.5" stroke="#7a7a7a" stroke-width="1.15" fill="none"/>
<text x="37.5" y="600.2" text-anchor="end" font-size="10.8" font-weight="normal" fill="#231f20">1</text>
<path d="M44 550.7L49 550.7" stroke="#7a7a7a" stroke-width="1.15" fill="none"/>
<text x="37.5" y="554.4" text-anchor="end" font-size="10.8" font-weight="normal" fill="#231f20">2</text>
<path d="M44 505L49 505" stroke="#7a7a7a" stroke-width="1.15" fill="none"/>
<text x="37.5" y="508.7" text-anchor="end" font-size="10.8" font-weight="normal" fill="#231f20">3</text>
<path d="M44 459.2L49 459.2" stroke="#7a7a7a" stroke-width="1.15" fill="none"/>
<text x="37.5" y="462.9" text-anchor="end" font-size="10.8" font-weight="normal" fill="#231f20">4</text>
<path d="M103.2 636.3L103.2 641.3" stroke="#7a7a7a" stroke-width="1.15" fill="none"/>
<text x="103.2" y="656" text-anchor="middle" font-size="10.8" font-weight="normal" fill="#231f20">200</text>
<path d="M173.4 636.3L173.4 641.3" stroke="#7a7a7a" stroke-width="1.15" fill="none"/>
<text x="173.4" y="656" text-anchor="middle" font-size="10.8" font-weight="normal" fill="#231f20">400</text>
<path d="M243.7 636.3L243.7 641.3" stroke="#7a7a7a" stroke-width="1.15" fill="none"/>
<text x="243.7" y="656" text-anchor="middle" font-size="10.8" font-weight="normal" fill="#231f20">600</text>
<text x="17.1" y="539.5" text-anchor="middle" font-size="10.8" font-weight="normal" fill="#231f20" transform="rotate(-90 17.1 539.5)">Dispersion</text>
<text x="162.3" y="674.5" text-anchor="middle" font-size="10.8" font-weight="normal" fill="#231f20">FC degree</text>
<text x="0.2" y="449.6" text-anchor="start" font-size="15" font-weight="bold" fill="#000" stroke="#000" stroke-width="0.7">d</text>
<defs><linearGradient id="pl" x1="0" y1="1" x2="0" y2="0"><stop offset="0" stop-color="#0d0887"/><stop offset="0.1" stop-color="#41049d"/><stop offset="0.2" stop-color="#6a00a8"/><stop offset="0.3" stop-color="#8f0da4"/><stop offset="0.4" stop-color="#b12a90"/><stop offset="0.5" stop-color="#cc4778"/><stop offset="0.6" stop-color="#e16462"/><stop offset="0.7" stop-color="#f2844b"/><stop offset="0.8" stop-color="#fca636"/><stop offset="0.9" stop-color="#fcce25"/><stop offset="1" stop-color="#f0f921"/></linearGradient></defs>
<rect x="282" y="529" width="9" height="39" fill="url(#pl)"/>
<path d="M288.5 559.3L291 559.3" stroke="#fff" stroke-width="0.8" fill="none"/>
<path d="M288.5 548.5L291 548.5" stroke="#fff" stroke-width="0.8" fill="none"/>
<path d="M288.5 540.4L291 540.4" stroke="#fff" stroke-width="0.8" fill="none"/>
<text x="281.7" y="519" text-anchor="start" font-size="10.8" font-weight="normal" fill="#231f20">Age (years)</text>
<text x="296.7" y="532.5" text-anchor="start" font-size="10.8" font-weight="normal" fill="#231f20">100</text>
<text x="296.7" y="542.1" text-anchor="start" font-size="10.8" font-weight="normal" fill="#231f20">50</text>
<text x="296.7" y="551.7" text-anchor="start" font-size="10.8" font-weight="normal" fill="#231f20">25</text>
<text x="296.7" y="561.3" text-anchor="start" font-size="10.8" font-weight="normal" fill="#231f20">5</text>
<text x="296.7" y="570.9" text-anchor="start" font-size="10.8" font-weight="normal" fill="#231f20">0</text>
<path d="M468.8 576.3h0M487.5 508.5h0M586.5 585.6h0M559 588.6h0M488 554.3h0M433.1 556.3h0M451.2 572.1h0M549.7 579.6h0M561.4 578.3h0M528.2 556.9h0M504.5 555.2h0M621.5 595.4h0M547.1 582.3h0M515 578.8h0M435.9 569.9h0M568.1 573.5h0M504.7 564.7h0M577.8 618.3h0M443.3 563h0M559.2 571.8h0M576.1 599.1h0M526.4 572.5h0M556.9 588.3h0M489.4 545.7h0M526.2 536.4h0M652.3 593.5h0M470.2 558.6h0M480.5 565.9h0M577.9 592.2h0M536.4 578.9h0M542 596.1h0M591.6 593.7h0M508.1 554.4h0M649.6 595.3h0M513.6 558.8h0M521.3 558.9h0M507.4 553.4h0M549.9 580.8h0M647.3 591.4h0M461.9 566.3h0M547.1 585.1h0M443.4 572h0M589.8 593.4h0M526.7 573.8h0M569.5 588.4h0M507.7 545h0M494.3 565.5h0M427.2 562.9h0M526 562.9h0M605.3 582.3h0M563.8 582.6h0M556.6 581.9h0M544.6 584.2h0M486.4 570.1h0M547.1 584.2h0M568.1 568.8h0M443.2 562.9h0M487.3 547.5h0M651.1 603.6h0M568.1 567.4h0M519.3 550.7h0M443.6 559h0M583.3 607.5h0M632.9 600.6h0M524.9 556.9h0M454.5 571.4h0M568.1 576.8h0M499.3 556.2h0M606.7 573.3h0M492.8 584.5h0M590 592.4h0M434 571.8h0M561.6 582.8h0M542 593.3h0M547.3 588.4h0M437.8 554.6h0M531.2 591.2h0M450.7 578.5h0M428.2 541.6h0M594.6 574.1h0M451.1 553.6h0M448.6 594.2h0M649.3 602.5h0M448.4 566.8h0M628 593.3h0M602 575.1h0M525.8 538.6h0M544.7 571.6h0M554.4 567.3h0M570.6 609.5h0M650.8 587h0M554.6 572.1h0M563.6 578h0M597.1 597h0M443.6 558.1h0M649.5 557.4h0M568.1 585.8h0M579.6 600.3h0M629.8 597.7h0M464.6 598.9h0M439.1 571.6h0M544.7 575.6h0M542 588.9h0M483 559.1h0M433.2 585.7h0M507.9 547.1h0M541.9 562h0M556.8 576.8h0M573.7 577.7h0M443.3 561h0M522.5 540.4h0M450.4 582.4h0M479.2 550.7h0M500.1 550.5h0M433.8 546.4h0M521.6 556.9h0M571.7 579.6h0M644.2 596.3h0M507.6 565.7h0M637.3 597.4h0M576.4 597.2h0M658 612.2h0M527.6 521.6h0M565.8 578.4h0M467.1 549.8h0M519.5 574.7h0M521.9 569.5h0M626.4 603.5h0M549.3 587.4h0M556.8 586h0M432.4 555.8h0M514.3 574.5h0M624.9 579.8h0M511.9 556.5h0M451.7 591.7h0M522.1 574.8h0M434.2 571.3h0M619.8 591.6h0M487.6 591.4h0M568 578.8h0M593.9 580.8h0M441.9 547.9h0M606.9 604.4h0M487.6 551.3h0M549.6 568.4h0M590.7 553.4h0M492.5 559.9h0M427.4 586.1h0M595.9 593.8h0M601.4 600.2h0M434.5 599.2h0M438.2 562.3h0M497.8 557.9h0M654.3 582.1h0M433 549.8h0M583 584.6h0M542.2 574.9h0M578.6 595.9h0M559.1 588.7h0M492 543.2h0M489.2 561.6h0M441.1 583.7h0M544.8 595.3h0M448.7 565.2h0M486.8 532h0M559.1 595.4h0M531 569.6h0M533.1 542h0M496.6 582.5h0M559.1 589.1h0M533.8 569.6h0M431.9 566.4h0M434.5 570.2h0M487.4 566.5h0M549.7 587h0M525.8 567.6h0M481.6 565.9h0M613.5 607.2h0M552.3 573.7h0M539.6 584.3h0M638.1 600.1h0M604.7 595.4h0M565.8 550.6h0M549.7 583.1h0M475.2 568.4h0M563.6 573.8h0M602.7 595.1h0M569.1 602.7h0M531.1 572.2h0M509.8 549.8h0M491 551.3h0M541.7 582.6h0M522.6 542.5h0M534.2 563.4h0M448.2 571.9h0M597.8 592.5h0M513.1 522.9h0M630.9 606.4h0M484.2 538.3h0M539.4 569.8h0M619.2 605.6h0M654.4 561.9h0M536.7 570.2h0M580.7 586.5h0M509.2 523.6h0" stroke="#6585b5" stroke-opacity="0.21" stroke-width="2.0" stroke-linecap="round" fill="none"/>
<path d="M566 573.5h0M605.4 609.3h0M526.7 563.7h0M508 563.7h0M561.6 572.4h0M439.2 581h0M445.9 560.2h0M491.2 555.2h0M650.1 593.8h0M455.7 555.8h0M448.8 591.9h0M515.3 565.8h0M591.9 589.6h0M516.2 580.8h0M500.7 550.5h0M547 582.7h0M554.4 561.9h0M459.5 557.2h0M569.8 589.6h0M519.9 551.6h0M519.5 553.8h0M512.9 569.5h0M441.6 550.1h0M533.9 558.5h0M628.5 590.9h0M446.4 574.8h0M643.4 598.1h0M657.1 609.5h0M567.9 576.8h0M604 594.4h0M552.2 577.3h0M568.2 587.8h0M547.3 555.6h0M615.6 589.7h0M501.9 573.6h0M536.9 560.7h0M494.9 545.1h0M513.5 568.8h0M595.9 592.3h0M621.6 606.6h0M632.4 583.8h0M585.4 565.2h0M519 591.9h0M578.8 602.8h0M526.5 535.2h0M607.8 566.2h0M594.9 588.7h0M510.9 541.6h0M549.7 568.5h0M475.4 570.8h0M536.2 580.8h0M492.1 571.2h0M605.6 617.3h0M558.9 574.8h0M502.7 565.7h0M442 572.8h0M517.4 568.8h0M636.2 597.5h0M473.8 558.2h0M641.1 586.3h0M501.2 537.4h0M491.4 558.3h0M454.3 570.5h0M510 518.9h0M507.9 531.4h0M588.8 589.4h0M595 583.6h0M495.1 551.3h0M601.5 591.2h0M449.6 574.3h0M650.9 622.4h0M546.9 581h0M455.7 567.6h0M506.1 585.4h0M636.2 563.5h0M510.6 524.1h0M492 565.4h0M527.7 562.5h0M514.4 540.4h0M584.6 590.5h0M534 582.6h0M633.7 590.5h0M568.2 607.6h0M450.5 560.4h0M526.5 558h0M561.6 579.9h0M561.3 557h0M425.3 540.9h0M542.2 556.3h0M539.3 584.9h0M539.2 572.2h0M450.5 574.9h0M471.2 553.2h0M623.1 607.5h0M448.5 591.3h0M582.6 612.2h0M599.4 618.7h0M516.2 552.1h0M561.4 593.2h0M498.9 546.3h0M519 552.9h0M449.3 566.8h0M552 585h0M637.2 575.1h0M492.9 567.9h0M547.3 592.4h0M478.4 527.3h0M480.1 563.5h0M503.9 540.5h0M512.9 586.9h0M652.7 590.7h0M486 538.7h0M577.1 582.5h0M539.4 582.9h0M565.7 572.6h0M501.2 553.4h0M533.6 565.5h0M436.1 548.4h0M487.4 554.5h0M578.3 608.8h0M445.9 585.8h0M552 583.9h0M438.8 581h0M531.2 575.6h0M636.4 596.6h0M519.1 572.7h0M672.6 586.6h0M547.1 566.3h0M489.5 558.8h0M496.3 549.6h0M493.9 541.2h0M596.5 595.1h0M449 593.8h0M565.8 575.3h0M511.3 557.1h0M489.6 571.7h0M512.3 575.3h0M547.1 573.8h0M516.9 553.9h0M531.4 569.3h0M516.7 539h0M429.4 589.5h0M443.3 585.7h0M645.1 592.7h0M480 545.4h0M657.2 587.3h0M542 586.4h0M599.6 579.4h0M565.8 589.8h0M525.8 553.9h0M440 581.4h0M604.7 588.6h0M435.3 582.8h0M610 592.7h0M495.1 559.5h0M651.6 584.6h0M565.7 570.8h0M439.6 579.5h0M495.1 569.3h0M446.1 572.3h0M539.2 567.4h0M563.8 567.9h0M568 570.6h0M609.5 584.1h0M434.9 559.8h0M445.4 589.1h0M519.7 564.7h0M515.6 561.1h0M515.8 555.8h0M596.9 594.1h0M625 616.6h0M505.6 558h0M547 577.2h0M572.8 586.5h0M568 586.9h0M499 571.2h0M446.1 564.5h0M604.3 594.5h0M568 559.6h0M652.5 597.4h0M441 605.2h0M561.4 580.7h0M445 587.8h0M536.8 576h0M509.5 583.6h0M526.9 545.4h0M559.1 570.7h0M542.2 576.5h0M569.4 595.5h0M445.5 579.3h0M531.1 580.7h0M539.5 565.9h0M639.8 596.7h0M503 493.4h0" stroke="#6585b5" stroke-opacity="0.21" stroke-width="2.0" stroke-linecap="round" fill="none"/>
<path d="M541.7 576.1h0M429.1 594.8h0M483.7 547.8h0M444 595.1h0M510.8 548.1h0M510.3 563h0M495.3 550.1h0M531.2 579.8h0M531.2 567.5h0M589.2 593.1h0M528 551.4h0M451.8 564.4h0M478.2 566.7h0M556.8 558.1h0M565.9 580h0M536.8 560.6h0M652 605.6h0M488.1 556.5h0M610.5 600.8h0M623.4 590.3h0M533.6 568h0M574.8 592.1h0M536.4 575.8h0M565.8 572.4h0M531.4 540h0M558.9 588.8h0M599.7 590.1h0M580.7 582.1h0M649 590.9h0M523.4 549.9h0M557.1 554.4h0M509.5 547.6h0M429.1 582.9h0M637.1 590.9h0M504.5 552.7h0M526.5 545.2h0M655.7 570.6h0M483.6 545.7h0M447 552.2h0M513.5 566.5h0M521.7 572.9h0M568.2 577.1h0M455.1 562.9h0M542.2 598.4h0M526.2 539.7h0M581.5 602.5h0M655 589.7h0M519.9 580h0M596.4 607.8h0M544.2 598.1h0M536.9 582.5h0M642.6 594.8h0M525.7 593.7h0M672.6 585.2h0M531 586.7h0M607.2 606.7h0M514.7 566.1h0M455.3 563.5h0M536.8 585h0M563.5 585.5h0M563.7 583.8h0M428.6 588h0M647.6 588.7h0M597.9 598.8h0M640 585.3h0M646.3 608.2h0M559.3 563.9h0M565.7 571h0M507.9 557.7h0M563.8 583.6h0M622 581.8h0M534.1 577.1h0M463.1 569.2h0M430.1 560.7h0M505.6 547.9h0M524.7 553.7h0M437 587.4h0M432.4 581.2h0M648.7 616.2h0M565.9 583.7h0M503.6 567.6h0M505.3 560.6h0M642.2 601.1h0M547.2 590.5h0M425.1 557.2h0M547.3 605.8h0M595.3 587.8h0M561.3 561.3h0M483 548.2h0M544.9 580.1h0M512.3 576.2h0M563.8 593.9h0M549.6 575.9h0M547 580.1h0M610.4 582.5h0M601.7 593.9h0M449.4 591.6h0M513.4 569h0M556.9 567.4h0M563.7 574.5h0M599 606.4h0M504.9 577.5h0M565.9 577.2h0M513.2 561.4h0M446.7 563.9h0M561.3 579.8h0M567.8 570.2h0M443.3 583.7h0M482.2 585.3h0M629.9 599.4h0M452.7 588.3h0M469.5 517h0M505.8 550.9h0M470.1 569.3h0M581.6 594.9h0M563.9 582.3h0M544.6 583.6h0M542 586.5h0M616 602h0M431.9 573.4h0M631.5 586.3h0M489 560.6h0M454.2 556.6h0M556.6 571.7h0M508.8 565.7h0M534 575.6h0M517.9 555.8h0M505.1 549.6h0M672.6 607.2h0M630.9 600.6h0M615.3 587.5h0M517.6 538.7h0M561.4 564.4h0M539.7 557.4h0M454.6 583.8h0M480.8 548.4h0M490.2 578.2h0M597.4 606.8h0M522.1 550.3h0M497.8 552h0M651.5 606h0M486.1 564.8h0M569 598h0M630.5 583.1h0M437.2 552.5h0M636.2 608.3h0M623.7 587.3h0M530.8 568.2h0M446.2 578.9h0M567.9 586h0M643.3 593.3h0M580.2 601.3h0M534 573.8h0M528.7 560.2h0M497.3 540.3h0M436.6 582.4h0M429.8 550.5h0M571.9 588.8h0M517.3 561.4h0M616.6 609.3h0M508.4 530.7h0M621.9 593.4h0M532 566.7h0M452 548.2h0M536.6 582.6h0M531.1 589.5h0M503.8 550.7h0M448.2 563.3h0M672.6 583h0M533.5 571.5h0M489.1 542.1h0M539.6 586.1h0M433 583.9h0M532.5 529.6h0M445.8 562.5h0M615.5 573.5h0M615 576.9h0M507.8 539.1h0M501.6 602.4h0M449.9 565h0M532.5 581.3h0M649.9 591.5h0M658.5 597.7h0M455.8 583h0M437.3 569.3h0M505 558.2h0M435.4 541.4h0M525.4 551.7h0M549.3 571.3h0M652.5 591.1h0M565.9 580.2h0M487.2 546.8h0M518.4 540.3h0M500.3 545h0M506.6 563.1h0M569.8 594.2h0M536.4 588h0M523.1 568.7h0M519 572.7h0M652.4 600h0M516.8 570.7h0M526.9 567h0M480 554.3h0M493.4 556.8h0M559.1 570.9h0M672.6 605.3h0M530 557.1h0M531 578.8h0M563.8 575.8h0M426.9 569.3h0M554.4 590h0M620.3 595h0M485 565.7h0M520.2 548.9h0M475.4 557.1h0M505.5 544.7h0M450.8 549.8h0M636.1 594.4h0M447.3 569.6h0M498.7 556.9h0M582.3 578.9h0M453.5 568.4h0M431.2 487.1h0" stroke="#6585b5" stroke-opacity="0.21" stroke-width="2.0" stroke-linecap="round" fill="none"/>
<path d="M481.6 573.6h0M432.1 579.9h0M556.9 560.4h0M533.8 575.8h0M638.7 601.1h0M450.5 559.2h0M584.3 587.2h0M582.4 617.8h0M607.8 590h0M483.2 544.7h0M467.3 548.2h0M591.8 592.7h0M452.4 571h0M426.5 575.2h0M453.4 597.4h0M549.7 576.3h0M434.1 556h0M556.7 586.1h0M565.8 579.3h0M507.6 546.3h0M513.4 561h0M450.3 582.8h0M450.5 577.2h0M597.1 602.8h0M556.9 566h0M536.6 585.8h0M533.8 582.7h0M524.2 582.1h0M512.1 559.5h0M542.1 578.4h0M604 576.2h0M446 563h0M438 547.7h0M526.5 559.1h0M593.7 597h0M633.5 585.4h0M432.1 546h0M508.2 547.3h0M498.7 566h0M536.9 578.8h0M448.8 578.1h0M462.1 547.1h0M575.6 583.5h0M571.5 585.5h0M556.8 561.9h0M532.9 550.6h0M512.9 547.5h0M539.4 575.2h0M447.1 558h0M638.4 583h0M618.4 589.9h0M512.7 566.9h0M536.7 574h0M430.9 603.1h0M643.6 588.2h0M529 563h0M457.8 580h0M502.7 530.2h0M525.7 562.1h0M541.9 571.2h0M568.2 566.1h0M561.2 592.9h0M602.8 589.4h0M512.4 549.5h0M502 557.6h0M460.8 564.5h0M531.2 577.8h0M432 561.6h0M453.5 592.4h0M531.1 581.1h0M572.5 604.1h0M568 586.2h0M432.1 549.8h0M634 601.8h0M549.5 583.6h0M624.6 599.4h0M516.9 546.2h0M454 556h0M488.8 565.4h0M504.4 556.6h0M519 545.2h0M580.1 593.4h0M549.7 573.3h0M524.4 553.2h0M448.9 534.5h0M611.6 601.4h0M632.1 595.4h0M631.3 592.9h0M522.8 556.1h0M435.3 566.5h0M539.3 585h0M481.8 556.3h0M438.8 601.5h0M549.5 574.9h0M502.4 557.3h0M554.4 558.6h0M440 566.6h0M446.2 580.2h0M533.8 564.1h0M454.9 590.2h0M517.2 552.1h0M446 601.4h0M556.9 581.2h0M425.6 591.5h0M539.2 578.8h0M512.8 558.8h0M480.9 560.6h0M576.7 590.7h0M447.1 576.3h0M544.7 588.7h0M609.3 580.6h0M630.9 590h0M483.4 555.3h0M456 554.9h0M656.2 594.8h0M547.3 567.6h0M485.2 548.8h0M610.1 610.6h0M539.5 562h0M608.2 581.1h0M432.7 563.9h0M635.2 589.8h0M509.7 572.7h0M565.9 579.7h0M625.2 602h0M530.3 541.3h0M561.6 563.4h0M519.4 542h0M489.4 568.8h0M589.9 619.6h0M644.7 584.7h0M435 569.8h0M552.1 559.4h0M526.8 558h0M554.4 566h0M518.4 554.8h0M447.1 572.2h0M592.7 582.1h0M506.4 553.4h0M508.5 570.9h0M634.4 608.1h0M563.4 590.9h0M459.9 541.9h0M566 579.9h0M452.8 578.2h0M493.6 550.4h0M473 565.6h0M559 570.4h0M493.1 573.9h0M488.3 548.4h0M557.2 580.4h0M542.1 594.4h0M453 551.2h0M531.2 583.8h0M426.1 587.2h0M483.4 562.6h0M516.6 563.3h0M483 574.7h0M484.8 567.2h0M439.2 561.6h0M446.2 566.3h0M547.2 589.6h0M541.9 592.2h0M494.7 566.1h0M616.8 582.6h0M627.3 592.3h0M516.3 553h0M433.9 565.8h0M474.7 579h0M490.2 548.1h0M489.5 550.4h0M480.5 565.1h0M518.5 558.4h0M467.2 570.5h0M465.4 556h0M554.4 580.4h0M563.7 570.2h0M544.7 564.5h0M517 574.2h0M434.8 562.2h0M620.9 595.6h0M559.1 590.3h0M599.9 563h0M498.1 548.2h0M517 537h0M561.5 567.5h0M488.8 566.4h0M574.5 608.9h0M530.8 531.5h0M554.4 566.6h0M658 569.2h0M628.4 618.8h0M533.7 579.6h0M509.4 541.8h0M587.2 579.5h0M523.5 566.8h0M566.1 558.1h0M450.7 579.3h0M433 558.5h0M645.5 577.8h0M527 561.3h0M561.5 594.7h0M539.4 572.3h0M448.9 549.8h0M602.8 595.9h0M544.6 590.1h0M433.8 577.1h0M444.1 584.4h0M501.5 561.9h0M469.5 559.7h0M444 568.4h0M490 563.3h0M455.4 544.3h0M565.6 580.6h0M544.9 571.6h0M544.5 556.4h0M458.2 523.5h0M656.1 608.9h0M549.5 570.5h0M501.7 553.4h0M641.6 587.3h0M628.4 578.7h0M506 561.5h0M478.7 555.9h0M576.8 596.1h0M435 561.2h0M445.5 576.4h0" stroke="#6585b5" stroke-opacity="0.21" stroke-width="2.0" stroke-linecap="round" fill="none"/>
<path d="M657.7 589.8h0M515.9 536.3h0M485.6 570h0M568 577.1h0M487.1 568.2h0M627.7 611.6h0M563.6 572.7h0M586.4 582.6h0M571.3 598.8h0M515.4 562.6h0M565.9 552.4h0M528.8 577.8h0M640.8 592.6h0M605 583.6h0M526.7 567.9h0M603.9 605.9h0M520.7 549.7h0M549.7 581.2h0M572.6 585.9h0M446.6 568.2h0M544.4 570.2h0M561.7 565h0M531 579.6h0M625.4 585.7h0M497.1 555.4h0M554.2 585.1h0M448.2 595.1h0M641.6 595.1h0M527.4 555.2h0M493.7 547h0M559.1 568.3h0M536.8 571.9h0M602.2 584.4h0M442.1 569.4h0M586.4 599.1h0M556.8 575.1h0M428.5 571.2h0M554.4 569.5h0M539.4 576.9h0M587.2 588.4h0M539.5 573.7h0M531.9 560.8h0M519.2 557.5h0M450.8 580.2h0M592.4 600.8h0M598.5 608.7h0M434.7 584.3h0M636.2 601.2h0M609 611.9h0M434.6 597.5h0M618.2 610h0M490.3 548.9h0M561.5 579.6h0M609.2 603.7h0M505.5 565h0M645.3 572.2h0M524.2 567.7h0M577.2 594.7h0M448.5 568.9h0M501.8 544.3h0M452.3 565h0M486.5 536.8h0M565.8 570.3h0M626.2 596.3h0M595.1 598.6h0M568.1 583.9h0M623.7 599.1h0M643.2 598.3h0M594.7 596.4h0M479.8 559.4h0M468.6 554.6h0M602.6 592h0M554.1 558.6h0M636 582h0M556.7 588.2h0M505 548.4h0M563.8 575.9h0M492.6 565.3h0M436.1 567h0M514.6 565h0M536.4 589.6h0M547 576h0M530.9 579.2h0M642.5 582.8h0M496.8 550.1h0M441.9 577h0M456.1 561.7h0M624.2 585.5h0M536.6 581.1h0M520.5 567.9h0M449.4 604.3h0M542.2 594.7h0M568.1 579.4h0M534.1 569.4h0M484.3 548.5h0M629.9 575.1h0M522.7 567.4h0M578.6 602.9h0M488.4 564.6h0M611.9 599.9h0M443.6 572.9h0M542.1 568h0M441 554h0M501.4 559.8h0M485.5 549.3h0M637.6 580.2h0M539.2 587.2h0M502.7 567.1h0M498.2 560.7h0M448.1 544h0M486.5 551.5h0M519.5 551h0M583.3 605.8h0M642.9 579.9h0M446.8 561.3h0M556.7 577.1h0M523.2 549.7h0M518.2 545.5h0M536.7 564.5h0M635.3 592.3h0M635.1 580.3h0M528.6 564.1h0M539.4 586.3h0M525.3 549.3h0M617.5 579.4h0M592 602.8h0M595 592.8h0M536.5 562h0M478.3 574.2h0M505.9 544.4h0M533.7 581.3h0M642.7 600.1h0M490.3 542.9h0M511.2 574.9h0M513.1 558.9h0M549.6 590h0M650 615.2h0M547.2 584.4h0M440.3 584.5h0M444.3 588.8h0M539.2 586.8h0M439.2 561.4h0M435.3 584.4h0M528.6 576h0M533.8 583.4h0M444.8 567.6h0M485.4 576.8h0M552.1 571.1h0M484.6 563.9h0M565.8 588.6h0M603.3 587.7h0M482.7 566.7h0M605.8 591.4h0M500.9 590.2h0M511.8 554.4h0M449.3 567.9h0M583.4 598.2h0M541.7 593.3h0M435.4 579.3h0M654.9 600h0M572.9 573.6h0M433.9 556.5h0M591.6 597.1h0M549.7 577.7h0M443 608.4h0M556.8 558.5h0M554.1 573.1h0M611.8 600.1h0M556.8 596.3h0M565.7 591.6h0M574.2 595.5h0M432.1 535.7h0M556.9 576h0M581 590.2h0M547.1 561.4h0M544.3 596.3h0M432.1 563.4h0M517.4 559.7h0M568.3 570.4h0M572.3 582.5h0M549.4 590.2h0M437.3 598.9h0M520.6 560.1h0M620.8 586.1h0M539.2 589.9h0M541.7 579.7h0M444.1 561h0M565.8 566.1h0M561.4 582.4h0M500.5 565h0M446 597.7h0M541.9 595.5h0M567.9 587.7h0M447 558.7h0M496.5 564.4h0M511.1 577.8h0M573.2 597h0M536.4 584.6h0M512.5 551.4h0M432.9 564.4h0M495.6 563.1h0M546.9 581.3h0M552.1 591.6h0M468.4 565h0M438.4 557.2h0M615.2 580.8h0M483 543.4h0M642.6 588.2h0M495.3 554.5h0M435.6 546.3h0M627.5 593.2h0M611.2 589.1h0M608 595.4h0M512.5 538.5h0M556.9 581h0M488.1 562.7h0M554.6 592.4h0M446.1 566h0M438.6 556.4h0M509.3 578.1h0M531.1 575.2h0M563.7 575.7h0M434.1 546.6h0M571.8 586.5h0M544.7 576.2h0M472.3 559.9h0M509.5 553.4h0M512.7 557.3h0M465.4 514.6h0" stroke="#6585b5" stroke-opacity="0.21" stroke-width="2.0" stroke-linecap="round" fill="none"/>
<path d="M567.8 562.9h0M561.3 590h0M508.4 562.5h0M547.1 574.5h0M510 541.4h0M433.6 573.3h0M531.2 581.4h0M448.7 573.9h0M500.2 560.9h0M489.5 541.7h0M519.8 577.5h0M502.1 573.1h0M547.2 592.5h0M563.6 581.2h0M541.9 575h0M580.9 588.9h0M565.6 577.9h0M424.5 556.9h0M552.2 573.4h0M526.7 549.1h0M483.4 573h0M556.8 583h0M445.4 564.2h0M570.3 589.5h0M584.2 591.1h0M544.7 576.5h0M504.3 558h0M460.6 565.7h0M641.2 596.4h0M563.5 581.1h0M539.3 596h0M531 564.9h0M443.6 558.1h0M611.5 594.7h0M531 578.3h0M505.7 554.2h0M621.7 598.9h0M588.6 592.5h0M569.4 596h0M488.8 581.5h0M528 556.8h0M544.6 571.5h0M494.8 550.7h0M552.1 572.9h0M497.7 573.6h0M488.8 549.7h0M424.7 569h0M484.1 552h0M500.5 547.6h0M439 600h0M554.9 582.7h0M484 553.9h0M513.3 582.7h0M424.6 571.4h0M547.1 599h0M527.8 550.6h0M498.7 558.2h0M454.6 594h0M621 587.2h0M501 547.9h0M533.6 564.1h0M439.9 564.3h0M530.1 566.6h0M437.9 559.3h0M489.6 573.7h0M583 587h0M542.1 580.1h0M632.8 598.5h0M426.1 581.2h0M483.9 573.7h0M455.8 571.1h0M556.8 589.7h0M427.6 561.9h0M529.2 555.2h0M568.3 587.7h0M469.5 559.2h0M612.8 604.2h0M496.9 548.7h0M549.6 572.1h0M567.9 561.5h0M433.2 572.2h0M539.3 565.3h0M563.7 565.2h0M564.1 570.2h0M533.9 574.4h0M519.3 577.3h0M487 558.1h0M588 592.9h0M544.7 585.3h0M648.9 599.5h0M552.3 595.6h0M452.1 576.2h0M436.2 585.8h0M434.5 569.6h0M451.5 578h0M556.7 591.1h0M554.6 588.4h0M454.1 567h0M493.4 548.1h0M554.4 588.6h0M445.8 575.9h0M440.5 580.1h0M585.1 601.9h0M542 563.9h0M499.5 563.7h0M617.5 572.3h0M577.1 599.6h0M454.4 563.7h0M501.7 557.5h0M621.7 592.9h0M491.4 574.3h0M431.6 561.8h0M568.2 586h0M551.9 577.2h0M507.7 559.9h0M447.7 577.1h0M559.2 570.5h0M576.1 575.3h0M656.1 588.7h0M563.8 582.5h0M654.2 586h0M559.3 570.2h0M513.5 569.6h0M645.7 578.4h0M539.4 579.9h0M496.4 545.4h0M440.9 592.8h0M521.9 579.1h0M573.7 584.9h0M516.4 551.3h0M448.1 598h0M509.1 557.8h0M527.4 568.4h0M502.5 580h0M504.5 567.4h0M653.5 576.2h0M438.8 581.8h0M557 573h0M655.1 597.8h0M435.9 564.2h0M439.1 560.2h0M568 580.2h0M523.3 564.3h0M491.9 561.4h0M536.6 575.6h0M438.6 575.5h0M572.6 595.1h0M513.7 550.1h0M431.4 583.7h0M516.5 579.9h0M572.4 577h0M479.4 540.4h0M651.7 584.9h0M549.4 588.9h0M503.3 550.5h0M554.7 568.1h0M520.7 567.7h0M509.9 543.1h0M509.5 564.6h0M556.7 572.9h0M499.4 557.9h0M526.4 572.9h0M501.4 550.6h0M432 582.8h0M578.6 604.2h0M507.7 564.6h0M556.7 562.2h0M581.7 589.8h0M483.8 559.7h0M494.7 550.4h0M431.1 567.4h0M559.3 576.8h0M439.1 560.3h0M498.8 554.9h0M568 575.2h0M561.4 565.3h0M499.8 571.9h0M521.7 541h0M452.5 580.2h0M495 558h0M549.5 561.5h0M533.8 598.3h0M428.2 591.3h0M492 567.2h0M522.9 562h0M556.8 577.8h0M629.6 598.7h0M532.8 556.3h0M454.8 571.8h0M510 532.7h0M547.2 590.3h0M552.2 583.7h0M568.3 575.2h0M497.1 561.6h0M454.2 559.8h0M554.3 576.6h0M529.1 561.5h0M547.2 567.5h0M480.6 547.5h0M454.7 588.5h0M488.9 555.2h0M539.4 578h0M532.9 538.8h0M469.9 585.8h0M634 593.9h0" stroke="#6585b5" stroke-opacity="0.21" stroke-width="2.0" stroke-linecap="round" fill="none"/>
<path d="M438.3 563.6h0M592.1 586.3h0M649 593.1h0M522.8 555.2h0M608 580.4h0M529.8 584.4h0M482.4 567h0M512.9 556.7h0M518.1 543.4h0M565.8 588.3h0M635 576.4h0M552 556.1h0M488.2 559.4h0M549.6 568.5h0M629.1 595.3h0M589.1 585.6h0M507.8 561.6h0M586.1 569.7h0M611.5 597.1h0M508.6 554.2h0M625.9 579.7h0M526.7 563h0M563.6 597.2h0M500.2 581.4h0M536.8 584.9h0M432.2 610.2h0M450.8 563.8h0M446.1 573h0M559.4 583.9h0M450.9 566.2h0M525 543.7h0M624.9 595.8h0M498.3 581.1h0M642.6 586.1h0M547.3 586.1h0M640.1 598.1h0M501.2 582.9h0M504.8 559.7h0M527.8 578h0M493.6 565.1h0M455.7 591.1h0M432.6 545.7h0M432.7 595.3h0M500 542.5h0M487.5 587.4h0M583.5 593.6h0M488.9 544.6h0M495.6 537.3h0M483.5 548.1h0M561.5 581.1h0M485.6 569.9h0M456.3 584.2h0M437.6 570.8h0M547.1 576.7h0M563.9 580.3h0M447.3 554.3h0M508.8 566.2h0M601.8 599.3h0M571.2 586.1h0M521.4 554.9h0M434.8 534.5h0M536.6 602.6h0M493.5 534.1h0M643.7 597.3h0M579.9 599.5h0M452.4 591.3h0M621.2 591.6h0M559.3 574.2h0M448.7 565.8h0M507.4 557.6h0M480.3 578.1h0M492.1 558.6h0M440.9 574.7h0M513.1 579h0M556.9 577.8h0M441.8 558.5h0M534.1 578.7h0M462.8 565.9h0M437 565.5h0M577.9 589.3h0M515.9 569.6h0M565.7 572.2h0M441.8 567.3h0M542 563.6h0M672.6 604.7h0M547.1 585.7h0M632.1 612.6h0M536.7 579.4h0M482.5 564.5h0M639.5 608.3h0M549.8 567.1h0M505.7 576.2h0M499.6 545.7h0M516 551.2h0M432.2 582.7h0M466.7 586h0M565.9 587h0M519.3 581h0M461.3 548.6h0M549.6 571.2h0M485.4 566.3h0M644.7 598.3h0M542.1 572.6h0M598.4 599.3h0M449.5 574.1h0M437.3 606.1h0M551.9 560.9h0M494.1 572.5h0M436.1 564h0M547.1 578.2h0M441.1 550.4h0M544.4 571.4h0M629.4 589.8h0M482.5 544.4h0M567.8 572.1h0M484.1 564h0M565.9 575.5h0M516.2 559.1h0M446.8 590.7h0M536.7 582.4h0M568.2 576.7h0M545 599.2h0M440.5 544.8h0M432.1 573h0M433.6 586.7h0M484.8 567.2h0M559.2 582.6h0M482.5 559.7h0M549.8 586.3h0M500.7 567h0M433.4 572.4h0M481.9 548.6h0M539.6 570.6h0M502.5 561h0M427.6 550.3h0M593.1 590.1h0M477.9 569.2h0M477.7 578.3h0M500.4 569.6h0M602.2 600.8h0M510.5 536.2h0M627.6 602.7h0M444.2 554.3h0M617 589.5h0M444.6 581.3h0M485.3 594.1h0M636.9 581.4h0M474.4 570.7h0M590.2 598.5h0M490 550.5h0M436.3 576.4h0M599 617.8h0M525.2 568.6h0M568.3 569.3h0M576.4 605.3h0M453.9 590h0M531.1 578.3h0M610.2 582.3h0M494.7 564.6h0M455.2 552.7h0M568.1 565.8h0M495.5 561h0M436.2 585h0M549.8 587.4h0M568.2 581.3h0M568 582.8h0M596.6 607.7h0M505.2 568.8h0M565.7 592.7h0M448 557.3h0M605.7 597.6h0M633 605.5h0M530.8 561.9h0M541.9 588.4h0M528.6 563.4h0M556.8 590.2h0M455.1 579.5h0M521.9 554.9h0M542.1 584.2h0M450.9 575.3h0M533.7 569.3h0M511.8 561.7h0M446.2 565.9h0M556.6 576.6h0M544.6 570.4h0M496.8 546.6h0M672.6 599.5h0M530.8 580.4h0M610.2 597.9h0M647 586.8h0M542 557.8h0M528.8 562.9h0M629 575.4h0M561.4 583.1h0M641.5 583h0M440.8 569.2h0M459.5 544h0M508.4 562.1h0M552.3 572h0M438 577.6h0M536.7 585.9h0M575.6 612.3h0M530.7 582.1h0M528.1 564.1h0M452 574.6h0M628.5 575.5h0" stroke="#6585b5" stroke-opacity="0.21" stroke-width="2.0" stroke-linecap="round" fill="none"/>
<path d="M536.5 580.1h0M542.1 579.6h0M440.4 548.4h0M451.9 565.2h0M513.4 530.1h0M556.9 572.2h0M625.5 585.2h0M636.8 585.8h0M542 582.4h0M485.1 560.5h0M591 584h0M497.7 543.6h0M554.3 572h0M558.9 589.8h0M609.1 602.3h0M531.3 593h0M622 589.4h0M451 567.2h0M611.5 596.4h0M450.6 582.3h0M616.5 605.6h0M561.4 561.1h0M581.5 608.5h0M623 573.8h0M634.9 604.2h0M501.9 579.3h0M505.4 569.6h0M593.9 593.8h0M508.5 550.1h0M539.4 574.6h0M490.1 565.4h0M561.6 581.3h0M629.2 607h0M644.4 595.2h0M433.5 598.5h0M549.6 580.3h0M579 602.8h0M434 555.8h0M530.9 578.3h0M490.3 562.2h0M544.7 564.7h0M626.9 596.5h0M491.6 559.3h0M439.4 563.4h0M586 578.6h0M444.9 562.7h0M568.1 583.4h0M536.7 579.4h0M501.7 553.7h0M435.6 593.8h0M554.7 572.8h0M539.2 574.8h0M489.1 555.1h0M561.6 574h0M527.3 569h0M613.7 598.8h0M444.2 578.7h0M452.3 567h0M568 590.2h0M483.7 559.8h0M483.9 560.4h0M450.3 587h0M558.9 581h0M547.2 582.1h0M447.4 544h0M561.3 584.1h0M526.1 578.3h0M541.9 589.9h0M516.4 533.9h0M644.7 593.5h0M568.1 595h0M586.3 606.8h0M429.5 596.3h0M616.8 602.2h0M568.1 561h0M526.4 556.5h0M445.7 571.1h0M511.2 572.9h0M534.1 569.4h0M635 599.1h0M498.3 568.9h0M521.9 541.9h0M494.5 564.8h0M484.6 558.8h0M609.7 599h0M649.3 618.1h0M510.7 573.4h0M481.4 558.1h0M598.1 581.8h0M493.3 577.8h0M513.8 557.8h0M455.2 589.6h0M648.8 587.3h0M483.2 566.8h0M566 576.6h0M651.8 581.2h0M592.3 584.7h0M493.7 584.7h0M539.1 576.8h0M613.3 590.5h0M435 571.4h0M542.2 600.3h0M448.5 594.9h0M474 559.2h0M454.6 580.2h0M598.9 588.8h0M531.2 577.3h0M456.1 577.6h0M492 579.7h0M440.7 574.4h0M614.7 604.1h0M446.5 564.4h0M554.7 566.6h0M579.8 608.9h0M522 564.3h0M613.2 590.6h0M509.3 557.2h0M526.6 549.1h0M525.2 570.6h0M445.5 580.6h0M563.6 575.3h0M609.9 607.3h0M581.9 580.2h0M498.2 554.5h0M472.4 570.9h0M455.8 559.8h0M493.2 571.4h0M637.4 578.6h0M526.9 560.8h0M536.8 575.8h0M607.5 587.9h0M639.7 590h0M613.8 589.6h0M531.9 569.5h0M605.8 586.3h0M427.3 572.2h0M608.5 597.1h0M501.3 578.2h0M549.6 589.2h0M549.7 585.8h0M554.6 571.7h0M498 580.1h0M533.9 571.3h0M627.1 588.8h0M534.2 571.9h0M536.7 566.5h0M552 573.2h0M511.5 580.1h0M635.9 558h0M524.3 571.2h0M493.8 552.5h0M622.1 581.5h0M525.7 560.8h0M498.8 552.1h0M556.7 583h0M524.5 542.8h0M547.2 574.6h0M620.3 581.2h0M486.8 531.3h0M509.9 560.8h0M588 594.2h0M633.1 599.7h0M628.4 572.3h0M502.2 572.9h0M499.2 582.2h0M628.6 596.3h0M568.2 566h0M629.8 571.7h0M464.5 561.4h0M455.8 547.8h0M520.3 547.2h0M426.2 541.4h0M586.4 595.6h0M437.6 544.1h0M577.3 598.4h0M536.7 579h0M654.4 596.3h0M493.9 554.6h0M601.2 588.7h0M640 603.4h0M427.3 560.1h0M496.5 567h0M567.9 573.7h0M584.4 591.6h0M649.8 611.5h0M473.3 570.4h0M520.8 551.3h0M646 587.1h0M600.4 582.9h0M481.3 571.6h0M627 593.1h0M622.1 593.7h0M608.7 581.6h0M584.3 578.2h0M453.7 576.9h0M526.9 556.8h0M593.2 583.1h0M552.1 584.7h0M517.4 542.8h0M626.7 588.6h0M504.8 542.7h0M547 587.9h0M523.8 570.1h0M629.9 595.3h0M508.7 572.8h0M544.4 578.6h0M536.6 574.3h0M549.6 558.3h0M512.7 572.1h0M607.3 570.9h0M436.2 608.2h0M539.5 570.8h0M502.8 560.8h0M515.6 586.9h0M533.9 583.9h0M561.2 562.7h0M638.5 616.1h0M433.2 591.5h0M549.8 570.7h0M619.6 581.5h0M503.1 574.4h0M452.5 554.2h0M494.7 550.1h0M453.9 567.9h0M440.7 553.2h0M565.8 587.1h0M524.3 534.8h0M561.4 585.5h0M482.6 557.3h0M466.4 589.8h0M462.9 572h0M435.3 533.2h0" stroke="#6585b5" stroke-opacity="0.21" stroke-width="2.0" stroke-linecap="round" fill="none"/>
<path d="M500 561.6h0M630.9 596.4h0M544.9 569.2h0M507.9 568.1h0M448.9 572.9h0M672.6 580.2h0M565.5 557.8h0M563.5 584.7h0M541.9 585.1h0M563.6 581.9h0M561.5 580.7h0M518.3 567.6h0M556.9 561.8h0M496.5 593.9h0M566.1 565.3h0M626.7 604.1h0M504.6 559h0M505.9 547.3h0M498.7 553.7h0M447.6 580.1h0M449.4 576.8h0M563.7 575.5h0M515.4 518.6h0M556.8 563.9h0M621.9 588.1h0M521.7 556.3h0M512.6 557.9h0M563.6 577.8h0M547 578.7h0M450.1 585.5h0M554.4 577.1h0M451.7 542.2h0M511.1 561.5h0M492.4 558.8h0M585.6 584.6h0M549.7 598.4h0M525.1 545.7h0M606.6 568h0M509.3 548h0M591.2 589.8h0M554.7 573.1h0M440.6 573.6h0M508.4 571.6h0M628.1 571.7h0M516.8 549.8h0M584.5 590.1h0M531.1 584.5h0M606.8 585.6h0M601.1 594.9h0M533.9 556.5h0M589 585h0M547.3 583.5h0M636.4 613.7h0M425.3 569h0M569.3 592.7h0M641.3 599h0M523.5 577.5h0M658.3 599.3h0M617.6 598.8h0M531.3 565.1h0M557 558.5h0M645.8 600h0M549.7 586.3h0M547.4 605h0M628.5 611.5h0M620.6 586.1h0M514.4 575.8h0M547.2 570.7h0M544.6 549.1h0M508.3 546.7h0M552.3 577.2h0M449.6 574.2h0M528.7 568.8h0M463.6 560.5h0M590.2 594.5h0M428.6 601.1h0M480.6 567.7h0M638.1 593.5h0M531 569.5h0M456.1 572.9h0M623.3 596.6h0M429.8 597.6h0M539.6 571.6h0M544.7 570.5h0M539.3 574.2h0M528.3 555.4h0M607 587h0M509.5 535h0M547.2 573.1h0M488.7 567.7h0M525.9 545.7h0M452.2 578.3h0M497.3 558.8h0M510.8 579.6h0M433.7 533.2h0M497.1 548.3h0M539.3 575.8h0M497.6 565.6h0M642.1 589.4h0M437 564.3h0M617.1 587.9h0M491.4 583.4h0M547.1 591.9h0M650.8 585.8h0M506.2 573.8h0M490.2 558.7h0M446.1 550.2h0M508.2 573h0M438.2 578.5h0M507.8 575.5h0M644.8 606h0M568 575.7h0M654.7 592.7h0M575.4 608.4h0M544.5 588.2h0M485.4 558.4h0M653.7 598.6h0M495.2 560.3h0M554.4 567.1h0M485.4 538.6h0M561.5 584.1h0M592.9 590h0M435.4 584.9h0M443.4 562.8h0M498.9 583.7h0M486 556.5h0M451.2 567.5h0M516.6 580h0M537.1 567.9h0M623.5 598.3h0M431.9 562.6h0M613.1 594.6h0M563.8 573.7h0M481.8 555.5h0M655.1 576.2h0M446.8 578.6h0M549.2 562.5h0M528.7 554.2h0M563.6 591.4h0M505.7 555.6h0M552.1 580.5h0M478.5 556.4h0M486.5 537.2h0M559.3 578.1h0M448.5 576.5h0M489.3 565.1h0M433 579.7h0M572.3 588.1h0M641 584.7h0M487.3 541.8h0M653.1 603.3h0M549.8 586.9h0M613.1 599.2h0M563.7 573.9h0M433.2 595.8h0M653.1 605.6h0M541.8 585.4h0M452 561.7h0M547 576.5h0M494 563.3h0M556.7 574.2h0M508.6 554.6h0M441.9 580h0M443.4 573.4h0M438.2 584.5h0M554.5 573.3h0M544.7 582.7h0M622 606.4h0M522.3 562.7h0M455.1 585.4h0M542.1 583.3h0M531.2 576.2h0M521.2 541.9h0M515.8 555.9h0M457.7 556.6h0M544.5 562.8h0M522 545.9h0M526.9 556.5h0M441.3 585.5h0M615.9 592.1h0M601.9 604h0M514.2 550.3h0M450.8 575.9h0M544.4 581h0M650.9 582.3h0M606.3 584.9h0M484.2 559.2h0M534.1 589.2h0M533.8 595.5h0M633.9 605.8h0M515.4 561.3h0M452.3 576.6h0M436.7 554.9h0M429.8 570h0M575.4 576.7h0M437.5 594.3h0M452 577.8h0M489.6 558.8h0M455.7 578.5h0M561.7 580.2h0M565.9 570.3h0M482.3 556.9h0M517.6 565.3h0M483.5 557.1h0M556.7 574.5h0M451.8 584.8h0M622.1 600h0M440 540.6h0M565.7 570h0M430.9 559.6h0M556.6 600.8h0M565.9 554.7h0M672.6 592.6h0M518.7 564.6h0M649.4 595.3h0M655.7 602.3h0M627.9 591.6h0M429.2 569.3h0M627.1 591.1h0M523 557.3h0M442.9 539.3h0M601.2 583.9h0M536.5 580h0M438.5 582.2h0" stroke="#6585b5" stroke-opacity="0.21" stroke-width="2.0" stroke-linecap="round" fill="none"/>
<path d="M437.2 583.2h0M544.7 560.7h0M432.7 565.8h0M539.5 570.3h0M502.1 549.7h0M563.9 579.6h0M502.5 540.2h0M435.6 564.8h0M615.6 579.8h0M568 587.3h0M433.3 586.7h0M593.4 591.2h0M609 588h0M530.1 554.2h0M428.4 567.6h0M602.6 597.9h0M493.1 549h0M653.7 608.4h0M595 589.2h0M425.2 569.4h0M505.8 571.1h0M531.1 610h0M433.1 569.3h0M617.1 613.7h0M539.4 575.3h0M527.3 562.4h0M454.2 561.7h0M493.8 564.3h0M429.3 575.4h0M563.5 572.8h0M565.9 564.3h0M506.9 548.3h0M453.9 560.9h0M539.1 575.6h0M439.9 585.3h0M656.3 604.5h0M504 580.3h0M486.2 563.6h0M551.9 576.1h0M489.7 560.3h0M500.2 580h0M506.8 548.2h0M519.6 545.1h0M615.7 598.4h0M583.3 568.2h0M636.8 604.4h0M500.5 577.6h0M498.1 572h0M556.9 570h0M523.1 537.2h0M652.5 586.5h0M506.6 542.8h0M503.8 561h0M641 583.4h0M513.9 551h0M541.9 581.3h0M473.2 571.4h0M568 575.5h0M547 567.1h0M536.9 580h0M565.7 563.5h0M523.8 569.5h0M523.5 565.8h0M597.3 624.7h0M626.2 579h0M523.8 581.6h0M494.6 554.7h0M499.7 561.9h0M637.8 619.8h0M583 608.6h0M536.7 581.1h0M522.1 567.2h0M505.6 573.5h0M521.5 580.9h0M479 567.9h0M522.7 553.4h0M568.1 587.7h0M444.9 606.3h0M591.6 596.6h0M436.6 578.4h0M559 587.1h0M515.8 547.9h0M568 596.8h0M522.3 562.8h0M506.1 546.7h0M450.2 546.2h0M656.6 594.7h0M531.1 586.1h0M498.8 573.9h0M529.8 570.2h0M631.4 572.5h0M653.3 575.9h0M453.5 575.7h0M539.5 571.3h0M492.4 546h0M530.1 573.6h0M501.3 566.8h0M577.4 608.4h0M523.5 575.7h0M611.6 603h0M531.4 558.1h0M642.8 577.7h0M440.5 548.2h0M511.4 534.6h0M561.2 574.5h0M568.1 596.3h0M597.6 584.5h0M554.6 560.9h0M549.6 578.6h0M552.1 557.3h0M635.9 605.7h0M515.1 566.5h0M534.2 600.3h0M458.1 559.4h0M559.2 576.8h0M556.9 585.7h0M624.7 575.8h0M544.6 571.3h0M552.3 564.3h0M648.3 590.2h0M501.7 558.7h0M576.8 586.7h0M516.6 549.3h0M604.8 592.8h0M533.8 584h0M536.9 569.9h0M519.2 572.7h0M533.8 568.9h0M436 540.5h0M626.9 608.2h0M544.9 586.5h0M451.7 556.3h0M533.9 573.7h0M492.2 552.3h0M539.3 591h0M547.2 569.1h0M557 565.3h0M568.1 579.2h0M568 566h0M438.3 582.3h0M544.8 581.1h0M491.7 543.4h0M448.9 578.1h0M455.8 552h0M451.9 562.7h0M534 579.4h0M494.4 558.5h0M622.6 597h0M499.8 531.8h0M544.4 539.7h0M495.8 559.8h0M511.4 546.6h0M432.6 558h0M502.8 596.6h0M441.7 576.6h0M492.5 534.1h0M559.1 581.8h0M514.4 566.8h0M568.2 592.8h0M556.8 585.1h0M645.6 601.9h0M547 598.2h0M461.6 581.2h0M565.8 575.5h0M575.6 588.3h0M646.6 604h0M533.7 579.5h0M657.5 582.7h0M449.3 557.9h0M636.8 586.8h0M495.1 567.3h0M512.6 549h0M632.9 596.4h0M439.4 570.1h0M494.7 546.4h0M480.3 574.4h0M552.1 577.9h0M526.4 553.2h0M547.2 566.1h0M571.6 580.4h0M536.6 574h0M618.1 592.8h0M505.3 555.6h0M568.1 583.2h0M442.3 573.5h0" stroke="#6585b5" stroke-opacity="0.21" stroke-width="2.0" stroke-linecap="round" fill="none"/>
<path d="M495.6 538.2h0M522.8 569.7h0M497.9 568.9h0M637.4 610h0M545 595.5h0M605.6 604h0M436 580.5h0M508.1 556.2h0M539.3 580h0M434.2 557h0M507.8 557.6h0M446.1 568h0M605.8 604.2h0M432.2 549h0M437 538.9h0M486.6 562h0M610.5 599.4h0M561.4 588.2h0M657.5 600.1h0M492.3 552.7h0M559.3 584.3h0M452 571.5h0M584.1 608.6h0M637.4 586h0M554.7 567.4h0M563.5 587.1h0M534 590.3h0M556.8 575.1h0M446 592.6h0M513.2 563h0M565.7 573.6h0M552 548h0M521.4 556.8h0M531.1 590.1h0M481 549.9h0M531.5 557.9h0M524.1 566.1h0M652 578.6h0M521.6 567.3h0M534.1 593.1h0M448.1 590.5h0M496.5 567.3h0M631.5 593.9h0M641.1 601.3h0M622.4 586h0M518.7 574.6h0M453.2 535h0M552.4 585.7h0M508.5 554.2h0M536.9 580.8h0M554.6 573h0M445.9 578.2h0M433.9 567.6h0M547.3 585.3h0M547 582.4h0M565.8 569.3h0M544.5 572h0M528.6 566h0M506.7 568.6h0M565.8 551.7h0M584.9 580.4h0M534.2 558.9h0M507.4 548.2h0M497.8 557.3h0M649.4 594.6h0M638.7 593.2h0M621.7 585.6h0M495.4 577.8h0M492.5 566.6h0M565.8 577.6h0M618.5 589.9h0M446 563.8h0M501.5 566.1h0M531.6 568.2h0M554.4 588.1h0M533.9 580.9h0M455.5 558h0M521.7 546.6h0M536.7 574.4h0M528.1 572h0M448.9 585.8h0M592.1 583.8h0M557.1 588.8h0M503.9 556.1h0M463.7 559.4h0M556.9 594.1h0M532.8 544.7h0M547 574.8h0M544.7 573.8h0M622.1 594.6h0M610.6 604.8h0M561.6 602.2h0M526.3 546.2h0M547.1 568.8h0M517.6 562.6h0M489.9 555.3h0M449 590.3h0M520.4 568.4h0M565.7 569.2h0M598.8 604.9h0M517.2 554.1h0M452.9 542.6h0M603 582.8h0M654.5 589.7h0M563.5 579.1h0M442 554.4h0M561.3 602.4h0M554.5 554.6h0M487.5 548.8h0M533.7 566.7h0M622.2 579.7h0M525.1 568.2h0M544.6 580.6h0M561.2 572.8h0M554.5 575.6h0M606.4 602.3h0M483.3 561.2h0M441 585.3h0M445.3 586.8h0M542.2 575.9h0M552.1 579.6h0M565.8 598h0M637.5 591.3h0M491.4 569.1h0M640.6 598.8h0M544.7 584.9h0M618.1 590.4h0M580.3 581.9h0M522.7 569.8h0M499 568.8h0M531.7 592.9h0M520 569.1h0M672.6 592.6h0M602.3 587.7h0M439.2 543.9h0M448 575.1h0M447.4 570h0M513.4 532.5h0M503 556.7h0M607.8 593.7h0M544.3 564.5h0M568.1 578.7h0M525.9 548.9h0M544.6 583.3h0M629.7 601.7h0M500.9 577.8h0M542.1 564.9h0M613.5 585.5h0M589.8 604.7h0M650.9 588.6h0M559 569.7h0M533.4 579.4h0M493.3 561.1h0M487.7 552.6h0M597.7 583.1h0M554.4 586.9h0M568.3 581.9h0M559.1 579.4h0M523.4 551.6h0M497.9 559.8h0M563.6 574.4h0M635.2 587.5h0M533.9 573.5h0M483.4 569.6h0M561.5 584.4h0M576 580.8h0M565.8 584.2h0M551.9 604.2h0M549.9 568.9h0M552 587.6h0M554.4 565.6h0M454.7 574.1h0M435.8 569.6h0M504.6 552.8h0M563.6 561.9h0M650.5 587.3h0M559.4 568.7h0M466.1 553.6h0M523.3 565.3h0M523.7 564.6h0M546.8 591h0M524.4 556.7h0M634.7 601.6h0M514.3 547.2h0M568 575.5h0M432.2 551.8h0M565.8 577.6h0M651.5 580.1h0M430.7 543.3h0M636.4 586.8h0M544.7 566.2h0M565.6 585.6h0M649.8 577.1h0M520.4 550.7h0M606.1 572.4h0M606.2 601.6h0M539.6 578.5h0M426 568.6h0M439.6 556.9h0M436.3 546.7h0M428.5 572.3h0M430.2 551.2h0M438.4 572.8h0M646.9 582.8h0M549.7 564.1h0M559.3 585.1h0M516.4 563.7h0M641.1 589.4h0M483 555.9h0M572.8 604.6h0M635.5 592.6h0M613.2 584.6h0M495.1 552.8h0M442.3 602.9h0M577.9 573h0M542 589.6h0M515.6 542.5h0M641.4 586h0M490.1 564.1h0M516.1 570.5h0M454.9 577.4h0M531 571.6h0M434.9 569.5h0M552.1 577.1h0M654.2 589.8h0M636.9 577.5h0M442.7 570.7h0M539.4 581.2h0M547.3 576h0" stroke="#6585b5" stroke-opacity="0.21" stroke-width="2.0" stroke-linecap="round" fill="none"/>
<path d="M556.9 570.3h0M621.2 602.3h0M513.2 569.3h0M640.7 597.6h0M451.8 572.3h0M506.1 560.8h0M502.3 569.6h0M568 588h0M541.7 574.9h0M565.9 572.2h0M608.6 609.9h0M565.9 574.5h0M486.3 536.4h0M604 589.1h0M563.6 573.5h0M441 564.5h0M496.9 555.4h0M552.1 574.2h0M524.9 567.9h0M579.1 597.1h0M619.1 605.4h0M489 554.6h0M489.5 572.2h0M532.1 571.6h0M559.1 593.6h0M508.3 547.8h0M554.3 594.3h0M563.4 569.9h0M510 550.8h0M482.9 548h0M441.4 574.1h0M428.1 559.9h0M536.4 586.3h0M526.6 587.6h0M608.7 608.4h0M487.5 557.5h0M482.8 543.9h0M528.9 570h0M624.7 582h0M520.4 555.8h0M471 552.2h0M531 574h0M639.2 596.2h0M502.2 558.9h0M586.5 585.4h0M593.3 595h0M606.6 578.7h0M513.9 563.9h0M523.3 565.7h0M536.4 605.9h0M563.6 593.5h0M633.3 601.7h0M536.8 570.9h0M559.3 585.7h0M531.2 576.9h0M643.8 583.3h0M513.5 571.1h0M604.6 596.2h0M554.5 567h0M513.2 531.5h0M484.1 535.2h0M549.8 577.7h0M526.2 563.3h0M525.4 561.3h0M484.7 564.2h0M504.2 551.7h0M452.6 609h0M544.9 571.7h0M492.2 581.3h0M505.6 574.5h0M551.9 573.9h0M556.7 583.6h0M544.7 575.7h0M432 548h0M425.8 583.1h0M506.9 551.4h0M451.5 590.8h0M441.9 579.9h0M482.1 547.2h0M525.5 565.3h0M641.9 588.5h0M567.9 574.9h0M490.1 562.8h0M563.6 577.1h0M453.5 579.6h0M493.9 574.4h0M565.9 581.1h0M654.1 595.4h0M433.4 572.1h0M561.4 587.7h0M447.7 556h0M427.7 565.5h0M503 556.4h0M565.8 575.2h0M617.4 577.8h0M506.6 560.5h0M434.7 592.1h0M495.5 572.5h0M618.7 581.5h0M446.6 571.5h0M432.9 557.8h0M483.6 546.4h0M502.4 550h0M593.9 598.7h0M484.3 548.2h0M531.8 530.8h0M519 569.4h0M650.4 584.9h0M450 576h0M486.1 538.9h0M505.7 580.1h0M579 611.7h0M494.5 560.6h0M549.2 580.3h0M438.6 547.3h0M542.1 598.5h0M527.4 563.5h0M654.2 587.8h0M539.4 565.3h0M447.1 533.5h0M592.9 594h0M559.3 575.3h0M440.6 558h0M568 582.7h0M559.2 562.7h0M536.7 575.2h0M486.4 557.2h0M549.5 577.2h0M425.8 552.2h0M561.4 585.7h0M544.3 576.2h0M438.6 560.7h0M656.1 587.3h0M569.9 591.6h0M556.8 587.7h0M488.9 571h0M490.1 538.1h0M521.5 544.9h0M536.6 584.3h0M601.5 584.4h0M589.3 588.6h0M563.8 575.5h0M495.5 571.9h0M563.8 575.2h0M559.4 569.7h0M552.2 595.1h0M448.5 556.1h0M583.1 595.7h0M657.4 600.6h0M434.3 589.4h0M587.5 592h0M549.4 578h0M559.2 578.2h0M559.1 555.3h0M547.1 571.5h0M513.3 567.4h0M520.7 555.2h0M544.6 573.4h0M441.1 577.4h0M547.2 586.7h0M542.1 555h0M452.7 564.3h0M639.5 602h0M542.2 564.3h0M512.5 551.1h0M561.5 578.8h0M482.1 545.9h0M536.7 582.9h0M480.3 575.8h0M568.2 575h0M554.5 582.6h0M578.6 595.2h0M518.5 579.3h0M590.9 580.4h0M448.7 555.3h0M486.1 576.6h0M454.6 565.9h0M573.9 591.8h0M493.4 562.4h0M609.3 585.4h0M520.4 576h0M554.5 576.6h0M501.6 570h0M563.8 592.9h0M515.3 540h0M611.7 565.5h0M440.9 556.9h0M672.6 608h0M466.4 576.7h0M565.7 566.2h0M556.8 578.5h0M454.5 524.5h0M491.3 561h0M559.2 579.1h0M559.2 584.7h0M609.7 605.4h0M552.4 567.6h0M586.3 601.5h0M451.4 586.9h0M672.6 601.2h0M485.1 570.7h0M519.1 550.9h0M572.3 597.3h0M489.9 565.1h0M568.1 583.8h0M641.9 608h0M625.9 589.2h0" stroke="#6585b5" stroke-opacity="0.21" stroke-width="2.0" stroke-linecap="round" fill="none"/>
<path d="M544.6 574.6h0M534 572.3h0M563.6 586.9h0M544.4 568.8h0M511.2 552.3h0M606.4 594.9h0M563.5 559.3h0M441.6 548.9h0M443.2 577.3h0M490 594.3h0M501.8 574.5h0M561.4 578.3h0M672.6 607.2h0M424.8 577.6h0M485 549.6h0M501.6 556.6h0M444.8 567.8h0M534 578.2h0M591 588.7h0M611.8 598.8h0M520.4 561.1h0M518.1 592.2h0M508.9 570.1h0M496.7 550h0M514.9 563h0M559.2 577.9h0M432.8 593.2h0M536.8 562h0M632.4 597.2h0M502.5 557.2h0M526.3 550.6h0M604.7 592.3h0M447.2 574.3h0M568 567.8h0M551.7 570h0M634.5 597.7h0M549.7 567.1h0M518.1 556.3h0M524.9 552.3h0M515.3 562.7h0M530.9 575.5h0M506.2 541.1h0M496.8 560.3h0M487.6 561.5h0M513.8 548.7h0M487.9 542.1h0M503.1 556.3h0M565.9 575.5h0M565.9 591.5h0M559.3 567.9h0M494.1 558.1h0M440.3 584.7h0M568.1 564.7h0M547.3 587.9h0M569.9 593.9h0M445.5 584.7h0M491.2 558.3h0M527.1 556.2h0M568.3 574.9h0M565.8 573.5h0M549.7 587.3h0M536.5 590.1h0M582.1 592.1h0M512.6 544.5h0M556.8 581.7h0M491.8 587.9h0M502.2 566.1h0M487.2 551.1h0M443.8 519.9h0M603.6 598.6h0M568.3 572.5h0M439 553.6h0M657.1 589.8h0M539.3 577h0M568.4 590.3h0M549.5 583.2h0M498.4 586.7h0M552 598.6h0M450.7 578.5h0M499 554.2h0M639.8 597.8h0M445.8 571.7h0M522.8 572.7h0M530.8 568.4h0M485.1 594.9h0M494.6 559.5h0M539.3 588.1h0M542 592.1h0M528.6 559.6h0M559.3 569.7h0M515.3 573.8h0M485.7 574.2h0M435.2 552h0M519.5 573.9h0M525.9 551.5h0M522 557.4h0M552.1 573h0M518.4 573.7h0M442.8 579h0M539.6 574.7h0M427.1 592.7h0M493.5 558.7h0M594.7 594.5h0M573 600.9h0M513.2 572.3h0M578 596.3h0M489.6 543.9h0M525.2 559.9h0M430.5 580.8h0M547.1 585.1h0M486.4 559.8h0M533.9 571h0M448.8 574.1h0M449.9 571.8h0M507.1 573.3h0M650.8 599.1h0M453.7 575.5h0M556.6 556.7h0M509.4 585.4h0M498 573.9h0M426.6 569.9h0M539.2 573.9h0M492.3 565.4h0M451.5 594.8h0M647.3 581.6h0M539.1 582.1h0M633.7 605h0M611.5 601.9h0M578.3 581.9h0M503.9 564.8h0M495.7 550.9h0M539.5 588.3h0M649.6 589.8h0M563.6 571h0M634.8 609.9h0M531.5 564.7h0M454 554.6h0M617.5 599.4h0M544.4 578.2h0M435.1 537.4h0M561.2 574.4h0M565.8 591.7h0M503.3 559.2h0M533.8 581h0M627.3 580.4h0M490.3 567.1h0M487.8 567.3h0M516 566.4h0M508.2 550.8h0M502.1 573.5h0M450.7 578.7h0M439.6 583.6h0M539.6 576.5h0M534.1 573.9h0M523.7 553.5h0M445.3 558.7h0M524.7 561.9h0M520.3 569.3h0M536.4 581.6h0M496.8 570.2h0M446.3 561.4h0M452.3 565.4h0M561.5 583.7h0M615.5 588.5h0M556.8 587.6h0M440.7 550.6h0M556.9 582.6h0M556.7 563.5h0M448.8 568h0M549.4 572.3h0M536.6 567.9h0M628.3 603.9h0M486.2 568.8h0M442.7 554.8h0M542 587.4h0M565.8 556.2h0M539.6 577.6h0M479.3 554.4h0M519.6 558.5h0M509.7 565.7h0M536.8 571h0M506.6 558.5h0M536.5 563.3h0M451.4 557.8h0M498.8 551.9h0M541.9 552.9h0M445.9 568.2h0M603.4 602.4h0M556.6 565.1h0M506.8 554.4h0M509.5 569.2h0M622.5 604.5h0M512.1 558.9h0M592.9 593.2h0M429.2 586.3h0M473.9 546.5h0M493.8 553.4h0M580.5 590.8h0M554.5 573h0M589.4 581h0M482.9 572.3h0M526.5 541.5h0M645.4 597.3h0M438.2 557h0M489.8 507.9h0" stroke="#6585b5" stroke-opacity="0.21" stroke-width="2.0" stroke-linecap="round" fill="none"/>
<path d="M507.4 556.8h0M486.3 541.7h0M542 581.3h0M529.5 555.8h0M651.3 595.8h0M515 578.6h0M426.3 583.7h0M484.1 551.2h0M490.8 559.7h0M503.9 544.2h0M534.1 577.1h0M551.7 582.3h0M439.3 564h0M554.6 573.4h0M501.9 545.1h0M514.6 560.4h0M499.3 577.3h0M621.7 612.5h0M531.1 580.5h0M629 614.9h0M625.6 585h0M500.9 571.5h0M534 605.3h0M523.3 579.9h0M474 569.5h0M584.8 574.2h0M599.3 593.9h0M446 573.3h0M518.1 561.8h0M568 589.7h0M551.7 566.9h0M568.1 591.8h0M443.8 570.6h0M483.2 570.3h0M574.4 586.5h0M585.9 567.7h0M657.8 580.8h0M639.4 567.2h0M648.3 589.1h0M638.9 584h0M483.1 543.5h0M602.4 599.5h0M439.3 561.4h0M504.3 554.8h0M599.6 581.2h0M444.1 561.6h0M606.8 600.3h0M447.1 566.6h0M534 580h0M508.7 571.1h0M511.6 551.9h0M496.4 557.9h0M447.2 588.1h0M451.3 591.1h0M426.4 568.8h0M533.6 592h0M602 591.7h0M499.1 568.2h0M425.3 590.6h0M431.1 575.9h0M577.6 596.1h0M495.8 553.3h0M549.6 578.2h0M552 587h0M438.8 597h0M494.3 561.2h0M539.3 595.7h0M514.2 576h0M445.2 561.6h0M581.5 597.4h0M481.5 566.9h0M531.2 579.7h0M447.1 586.6h0M500.7 521.3h0M507.6 571.2h0M559 579.4h0M513.3 559.4h0M507.4 565h0M559.3 566.9h0M652.3 575h0M561.6 565h0M559 599.3h0M544.7 584.2h0M539.5 578.6h0M597.3 584.6h0M492.7 560.7h0M515.9 540.9h0M559.1 581.1h0M517.5 530.5h0M507.7 553.3h0M561.4 571.9h0M536.5 587.6h0M512.9 584.6h0M554.5 580.7h0M484.9 572.5h0M618.2 592.2h0M533.6 563.1h0M445.1 546h0M556.7 577.5h0M424.6 619.7h0M427.6 544.3h0M451.7 555.2h0M439.9 601h0M513.3 551.2h0M556.9 592.9h0M575.3 588.5h0M513.9 574.5h0M556.8 579.3h0M549.7 573.6h0M455.5 557.5h0M440.8 572.1h0M612.7 586.8h0M549.4 581.8h0M646.9 577.2h0M557 566.9h0M602.7 605.1h0M568.2 590.4h0M541.9 586.1h0M563.5 576h0M431.6 545.5h0M487.7 562.6h0M549.5 577.6h0M547.1 555.4h0M495.8 579.7h0M565.8 570.7h0M626.3 610.3h0M563.6 574.7h0M591.3 612.2h0M604 588.7h0M597.9 592.6h0M635.1 580.1h0M539.4 571.4h0M635 603h0M636.6 598h0M492.1 569.8h0M504.6 551.5h0M442.2 553.8h0M434.7 587h0M438.6 550.9h0M501.2 573.3h0M612.4 588.9h0M547.3 591.5h0M477.6 566.3h0M482.6 554.4h0M488.1 558.7h0M622.7 590.6h0M450.3 550.6h0M463.2 536.2h0M563.6 569.2h0M489.6 549.6h0M433.9 573.7h0M439.7 554.6h0M436.8 569.8h0M539.4 565.2h0M608.3 583.5h0M625.6 579.6h0M496.6 566.2h0M565.8 568.8h0M496.2 582.6h0M525.5 561.9h0M523.1 579.6h0M536.6 554.4h0M522.8 558.7h0M493.4 543.8h0M449.1 562.9h0M542.1 578.7h0M612 586.8h0M506 543.6h0M481.2 547.9h0M529 555.6h0M623.8 594.4h0M500.2 555.5h0M483.6 562.8h0M436.7 547.5h0M544.7 564.8h0M521.2 594.5h0M505 572.4h0M489.6 529.5h0M589.3 602.2h0M438.6 583h0M512.9 576.8h0M507.5 551.9h0M484.1 563.3h0M568.1 557h0M451.5 571h0M591.9 604.3h0M568 590.4h0M566 569.9h0M619.8 585.4h0M569 554.3h0M552 565.6h0M561.1 568.3h0M530.3 569.9h0M586.4 580.3h0M565.8 577.6h0M531.2 564.4h0M658.3 595.1h0M568.1 559h0M430.1 588.4h0M600.5 583.4h0M500.5 576.3h0M435.5 557.7h0M547 578.9h0M495.9 566.6h0M498.3 569.1h0M628.4 586.3h0M645.9 572.7h0M627.9 589.2h0M448.6 569.1h0M454.5 587h0M624.9 579.3h0M486.5 555.2h0M640.4 584h0M531.1 572.5h0M531 562.1h0M497.3 563.7h0M531.2 585.4h0M649.4 582.8h0M458 584.4h0M489.4 573.6h0M636.2 579.8h0M568 593.1h0M634.3 583.9h0M568.1 580.8h0M459.7 542.4h0M481.3 578.9h0M443 570.8h0M561.4 596.8h0M539.3 563.3h0M642.2 610h0M498.1 564.8h0M531.1 595.1h0M485.3 530.5h0M644.2 601.5h0M672.6 600.6h0" stroke="#6585b5" stroke-opacity="0.21" stroke-width="2.0" stroke-linecap="round" fill="none"/>
<path d="M419.3 567L421.4 566.4L423.6 565.8L425.7 565.2L427.8 564.6L429.9 564.1L432.1 563.6L434.2 563.1L436.3 562.6L438.4 562.1L440.6 561.6L442.7 561.2L444.8 560.7L447 560.2L449.1 559.8L451.2 559.4L453.3 559L455.5 558.6L457.6 558.3L459.7 558L461.9 557.8L464 557.6L466.1 557.4L468.2 557.3L470.4 557.2L472.5 557.2L474.6 557.3L476.7 557.4L478.9 557.5L481 557.7L483.1 557.9L485.3 558.2L487.4 558.6L489.5 559L491.6 559.5L493.8 560L495.9 560.6L498 561.2L500.2 561.9L502.3 562.5L504.4 563.3L506.5 564L508.7 564.7L510.8 565.5L512.9 566.3L515 567.1L517.2 567.8L519.3 568.6L521.4 569.3L523.6 570L525.7 570.7L527.8 571.4L529.9 572.1L532.1 572.7L534.2 573.3L536.3 573.9L538.5 574.4L540.6 574.9L542.7 575.4L544.8 575.9L547 576.4L549.1 576.9L551.2 577.3L553.3 577.7L555.5 578.2L557.6 578.6L559.7 579L561.9 579.4L564 579.9L566.1 580.3L568.2 580.7L570.4 581.1L572.5 581.5L574.6 582L576.8 582.4L578.9 582.8L581 583.3L583.1 583.7L585.3 584.2L587.4 584.6L589.5 585L591.6 585.5L593.8 585.9L595.9 586.3L598 586.7L600.2 587.1L602.3 587.5L604.4 587.8L606.5 588.2L608.7 588.5L610.8 588.8L612.9 589L615.1 589.3L617.2 589.5L619.3 589.7L621.4 589.8L623.6 590L625.7 590.1L627.8 590.2L629.9 590.3L632.1 590.4L634.2 590.4L636.3 590.5L638.5 590.5L640.6 590.6L642.7 590.6L644.8 590.7L647 590.7L649.1 590.7L651.2 590.7L653.4 590.7L655.5 590.8L657.6 590.8L659.7 590.8L661.9 590.9L664 591L666.1 591.1L668.2 591.2L670.4 591.3L672.5 591.5L672.5 603.5L670.4 603L668.2 602.5L666.1 602.1L664 601.7L661.9 601.3L659.7 601L657.6 600.6L655.5 600.3L653.4 600L651.2 599.8L649.1 599.5L647 599.3L644.8 599L642.7 598.8L640.6 598.6L638.5 598.4L636.3 598.2L634.2 598.1L632.1 597.9L629.9 597.6L627.8 597.4L625.7 597.2L623.6 597L621.4 596.7L619.3 596.5L617.2 596.2L615.1 595.9L612.9 595.5L610.8 595.2L608.7 594.8L606.5 594.4L604.4 594L602.3 593.5L600.2 593.1L598 592.6L595.9 592.2L593.8 591.7L591.6 591.2L589.5 590.7L587.4 590.2L585.3 589.7L583.1 589.1L581 588.6L578.9 588.1L576.8 587.6L574.6 587.1L572.5 586.7L570.4 586.2L568.2 585.7L566.1 585.3L564 584.9L561.9 584.4L559.7 584L557.6 583.6L555.5 583.2L553.3 582.7L551.2 582.3L549.1 581.9L547 581.4L544.8 580.9L542.7 580.4L540.6 579.9L538.5 579.4L536.3 578.9L534.2 578.3L532.1 577.7L529.9 577.1L527.8 576.4L525.7 575.7L523.6 575L521.4 574.3L519.3 573.6L517.2 572.8L515 572.1L512.9 571.3L510.8 570.5L508.7 569.7L506.5 569L504.4 568.3L502.3 567.5L500.2 566.9L498 566.2L495.9 565.6L493.8 565L491.6 564.5L489.5 564.1L487.4 563.7L485.3 563.3L483.1 563.1L481 562.8L478.9 562.7L476.7 562.6L474.6 562.5L472.5 562.5L470.4 562.6L468.2 562.7L466.1 562.9L464 563.1L461.9 563.4L459.7 563.7L457.6 564L455.5 564.4L453.3 564.8L451.2 565.3L449.1 565.8L447 566.4L444.8 567.1L442.7 567.8L440.6 568.6L438.4 569.4L436.3 570.3L434.2 571.3L432.1 572.3L429.9 573.3L427.8 574.4L425.7 575.5L423.6 576.6L421.4 577.7L419.3 578.9Z" fill="#8c8c8c" fill-opacity="0.55"/>
<path d="M419.3 573L421.4 572.1L423.6 571.2L425.7 570.3L427.8 569.5L429.9 568.7L432.1 567.9L434.2 567.2L436.3 566.5L438.4 565.8L440.6 565.1L442.7 564.5L444.8 563.9L447 563.3L449.1 562.8L451.2 562.3L453.3 561.9L455.5 561.5L457.6 561.1L459.7 560.8L461.9 560.6L464 560.3L466.1 560.1L468.2 560L470.4 559.9L472.5 559.9L474.6 559.9L476.7 560L478.9 560.1L481 560.3L483.1 560.5L485.3 560.8L487.4 561.1L489.5 561.5L491.6 562L493.8 562.5L495.9 563.1L498 563.7L500.2 564.4L502.3 565L504.4 565.8L506.5 566.5L508.7 567.2L510.8 568L512.9 568.8L515 569.6L517.2 570.3L519.3 571.1L521.4 571.8L523.6 572.5L525.7 573.2L527.8 573.9L529.9 574.6L532.1 575.2L534.2 575.8L536.3 576.4L538.5 576.9L540.6 577.4L542.7 577.9L544.8 578.4L547 578.9L549.1 579.4L551.2 579.8L553.3 580.2L555.5 580.7L557.6 581.1L559.7 581.5L561.9 581.9L564 582.4L566.1 582.8L568.2 583.2L570.4 583.6L572.5 584.1L574.6 584.5L576.8 585L578.9 585.5L581 586L583.1 586.4L585.3 586.9L587.4 587.4L589.5 587.9L591.6 588.3L593.8 588.8L595.9 589.2L598 589.7L600.2 590.1L602.3 590.5L604.4 590.9L606.5 591.3L608.7 591.6L610.8 592L612.9 592.3L615.1 592.6L617.2 592.8L619.3 593.1L621.4 593.3L623.6 593.5L625.7 593.7L627.8 593.8L629.9 594L632.1 594.1L634.2 594.2L636.3 594.4L638.5 594.5L640.6 594.6L642.7 594.7L644.8 594.8L647 595L649.1 595.1L651.2 595.2L653.4 595.4L655.5 595.5L657.6 595.7L659.7 595.9L661.9 596.1L664 596.3L666.1 596.6L668.2 596.9L670.4 597.2L672.5 597.5" stroke="#111" stroke-width="1.6" fill="none" stroke-linejoin="round" />
<path d="M416.5 467L416.5 637.1" stroke="#7a7a7a" stroke-width="1.15" fill="none"/>
<path d="M415.9 636.5L684 636.5" stroke="#7a7a7a" stroke-width="1.15" fill="none"/>
<path d="M411.5 594.2L416.5 594.2" stroke="#7a7a7a" stroke-width="1.15" fill="none"/>
<text x="405" y="597.9" text-anchor="end" font-size="10.8" font-weight="normal" fill="#231f20">200</text>
<path d="M411.5 542.2L416.5 542.2" stroke="#7a7a7a" stroke-width="1.15" fill="none"/>
<text x="405" y="546" text-anchor="end" font-size="10.8" font-weight="normal" fill="#231f20">400</text>
<path d="M411.5 490.3L416.5 490.3" stroke="#7a7a7a" stroke-width="1.15" fill="none"/>
<text x="405" y="494" text-anchor="end" font-size="10.8" font-weight="normal" fill="#231f20">600</text>
<path d="M416.6 636.5L416.6 641.5" stroke="#7a7a7a" stroke-width="1.15" fill="none"/>
<text x="416.6" y="656" text-anchor="middle" font-size="10.8" font-weight="normal" fill="#231f20">0</text>
<path d="M452.8 636.5L452.8 641.5" stroke="#7a7a7a" stroke-width="1.15" fill="none"/>
<text x="452.8" y="656" text-anchor="middle" font-size="10.8" font-weight="normal" fill="#231f20">2</text>
<path d="M473.8 636.5L473.8 641.5" stroke="#7a7a7a" stroke-width="1.15" fill="none"/>
<text x="473.8" y="656" text-anchor="middle" font-size="10.8" font-weight="normal" fill="#231f20">5</text>
<path d="M497.6 636.5L497.6 641.5" stroke="#7a7a7a" stroke-width="1.15" fill="none"/>
<text x="497.6" y="656" text-anchor="middle" font-size="10.8" font-weight="normal" fill="#231f20">10</text>
<path d="M544.6 636.5L544.6 641.5" stroke="#7a7a7a" stroke-width="1.15" fill="none"/>
<text x="544.6" y="656" text-anchor="middle" font-size="10.8" font-weight="normal" fill="#231f20">25</text>
<path d="M597.6 636.5L597.6 641.5" stroke="#7a7a7a" stroke-width="1.15" fill="none"/>
<text x="597.6" y="656" text-anchor="middle" font-size="10.8" font-weight="normal" fill="#231f20">50</text>
<path d="M672.6 636.5L672.6 641.5" stroke="#7a7a7a" stroke-width="1.15" fill="none"/>
<text x="672.6" y="656" text-anchor="middle" font-size="10.8" font-weight="normal" fill="#231f20">100</text>
<text x="376" y="552" text-anchor="middle" font-size="10.8" font-weight="normal" fill="#231f20" transform="rotate(-90 376 552)">Mean FC degree</text>
<text x="550.3" y="674.5" text-anchor="middle" font-size="10.8" font-weight="normal" fill="#231f20">Age (years)</text>
<text x="367" y="449.9" text-anchor="start" font-size="15" font-weight="bold" fill="#000" stroke="#000" stroke-width="0.7">e</text>
</svg>
</body></html>
